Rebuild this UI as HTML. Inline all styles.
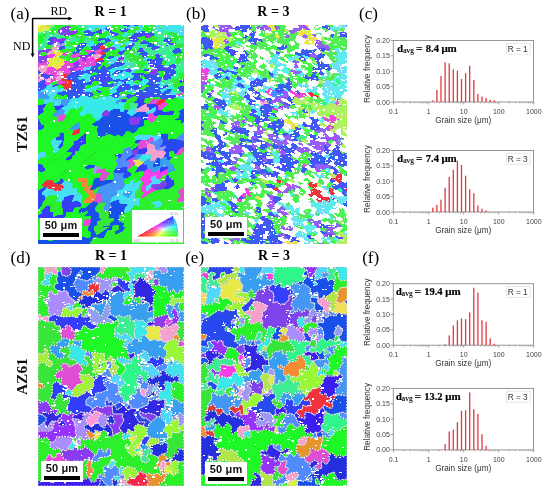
<!DOCTYPE html>
<html><head><meta charset="utf-8"><style>
html,body{margin:0;padding:0;background:#fff;}
body{width:550px;height:495px;position:relative;overflow:hidden;}
#w{position:absolute;left:0;top:0;width:550px;height:495px;filter:blur(0.45px);}
.m{position:absolute;display:block;}
.t{position:absolute;font-family:"Liberation Serif",serif;color:#000;white-space:nowrap;line-height:1;}
.pl{font-size:17px;}
.rr{font-size:14px;font-weight:bold;color:#000;}
.ax{font-size:12px;}
.sb{position:absolute;width:42.6px;height:21.6px;background:#fff;}
.sb span{position:absolute;left:5.2px;top:2.2px;font:bold 11px "Liberation Sans",sans-serif;color:#111;line-height:1;letter-spacing:0.15px;}
.sb i{position:absolute;left:3.6px;top:15.2px;width:36px;height:4.2px;background:#000;}
svg text{font-family:"Liberation Sans",sans-serif;}
.tl{font-size:7px;fill:#444;}
.at{font-size:8.2px;fill:#333;}
.rl{font-size:8.3px;fill:#333;}
.dv{font-family:"Liberation Serif",serif;font-weight:bold;font-size:10.5px;fill:#000;stroke:#000;stroke-width:0.2px;}
.sub{font-family:"Liberation Serif",serif;font-weight:bold;font-size:7.4px;fill:#222;}
.ipf{font-size:3.2px;fill:#999;}
.vt{position:absolute;font-family:"Liberation Serif",serif;font-weight:bold;font-size:15.4px;color:#111;transform:rotate(-90deg);transform-origin:0 0;white-space:nowrap;line-height:1;}
</style></head><body><div id="w">
<svg class="m" style="left:38.0px;top:24.5px" width="146.0" height="219.3" viewBox="0 0 146.0 219.3" shape-rendering="crispEdges"><path fill="#3755f0" d="M51 5l-2 0-4 2 2 2 7-2zM90 2l3-2-9 0zM48 11l9-4-1 0-2 0-7 2-1 1 1 0zM57 7l-9 4 6 0 4-3zM15 19l0-3-3 0-3 3 1 1 4 0zM72 6l1 4 1 0 3-2-1-1zM27 24l0-3-1 0-3 0-1 0-2 4 2 0zM73 16l-2-3-3 1-1 1 0 3 1 0zM64 26l4 1 4-1-2-3-1 1-6 1zM89 21l5 1 3-2-2-2zM51 29l-1 1 2 1 6-2-2-3zM89 21l-2 1 1 3 1 0 3 0 2-1 0-2zM68 32l0-2-1-1-3 1-2 3 3 0zM122 23l-2-2-3 0-3 1-1 2 2 1zM3 49l1-1-3-2-1-1 0 4zM110 28l-1 0-5 2 1 3 5-1 1-1zM143 25l-9 2 2 2 7-1 1 0zM34 47l-1 1 1 0 7 0 4-1 0-1 0-1-9 1zM65 40l-3 5 2 0 4-2zM118 32l-2 3 1 0 8 0 1-1-5-2zM33 48l-2 1-1 3 5 1 2-1-3-4zM66 46l3 0 6-3-4-1-3 1-4 2zM125 35l-8 0 2 3zM38 52l-1 0-2 1-2 2 2 2 5-1 1-1-1-3zM86 46l-1-1-6 0-6 5 5 0 7-3zM119 38l0 1 2 1 2 0 2-5zM8 62l-6 0-2 1 0 3 2 0 6-3zM20 61l1-1-1-1-5 1-1 2zM105 46l8 0 2-1-6-1-5 1zM41 58l-7 2 0 2 3 0 2 0 5-2zM101 52l5-2 1-1-3-1-7 3-1 1zM42 64l-3-2-2 0 0 3zM69 57l-4 1-1 1 2 3 1 0 2 0 2-2zM114 51l0-1-3-1-4 0-1 1 1 4 2 0 1-1zM135 44l-5 2 3 2 4-2-1-2zM44 67l4-2 1-1-2-1-5 1 0 4zM120 52l-1 0-5-1-4 2 7 1zM54 68l0-1-10 0-2 1 1 2 2 0zM81 62l4 1 1 0 3-4-2-1-6 3zM79 66l0 1 2 1 9-3-1-1-3-1-1 0zM114 61l2-2 0-1-1-2-3 0-3 2-1 2 5 1zM107 63l-1 2 1 1 6-2 2-2-1-1-1 0zM115 62l6 0 1-3-6 0-2 2zM108 68l-1-1-8 1 5 2zM117 69l6-1-1-4-6 2-2 2zM143 61l-4 2 2 2 5-1 0-3zM141 65l-1 1 6 1 0-3zM128 73l2-2-7 0-2 1 3 2z"/><path fill="#295dea" d="M13 12l-3 3 2 1 6-4-4 0zM75 3l-5-1-4 1 3 3 3 0 2-1zM93 0l5 1 1 0 2-1zM26 18l0-2-3 0-1 2 0 1zM82 5l1 2 5 0 1 0 1-1 1-2-2-1-6 1zM67 15l1-1-1-1-5 0-4 3 1 0zM38 23l9-1 1-1 1-3-3 0-3 0-6 5zM39 26l2 1 6-5-9 1zM108 9l7 2 1 0 1-1-3-3-4 1zM35 29l6-1 1-1-1 0-2-1-6 1zM110 19l1-1 1-1-7-2 0 1 3 3zM132 13l-4 0-3 3 2 1 6-2zM110 19l-1 3 5 0 3-1-1-2-5-1zM71 34l5-1 0-1-1-1-7 1zM106 26l-2 1-3 3 3 0 5-2-1-1zM134 27l9-2-2-2-2 0-2 0zM54 41l-2 4 2 0 4-2-2-2zM54 45l2 2 1 0 5-2-3-2-1 0zM79 40l-2-2-5 2-1 2 4 1 3 0 0-1zM87 38l-1 0-7 2-1 2 7-1 1-1zM0 57l0 4 1 0 3-3-3-1zM44 51l2-3-1-1-4 1-3 4 2 0 3 0zM57 47l4 2 1 0 4-2 0-1-2-1-2 0zM57 52l5-1 0-2-1 0-8 2 0 1zM66 47l3 2 3 1 0-4-3 0-3 0zM35 57l-2 3 1 0 7-2 1 0-2-2zM41 55l-1 1 2 2 5-2 0-1-1-1zM47 56l-5 2-1 0 3 2 3 0 1-2zM97 51l7-3-8 0-3 1zM37 65l0-3-3 0-5 3-1 1 1 1zM47 60l-3 0-5 2 3 2 5-1zM82 55l-1-1-6 1-1 1 3 1 3 0 1-1zM93 55l1-1-5-1-4 2 4 2zM101 52l-5 0-2 2-1 1 3 1 2-1 4-2zM122 49l-3-1-5 2 0 1 5 1zM127 47l-1 1 1 1 5-1 1 0-3-2zM19 69l5 2 4-1 1-1 0-2-1-1-7 1zM65 62l1 0-2-3-4 1zM69 62l5 0 2-1-1-3-4 2zM132 48l2 3 4-2 0-3-1 0-4 2zM42 68l-2 0-11 1-1 1 1 1 5 0zM65 66l-8-1-1 0 5 3 2 0zM116 56l7-1 1-1 0-2-4 0-3 2zM34 71l-5 0 0 3 1 1 5-2 0-1zM35 72l0 1 5 0 1 0 2-3-1-2zM53 72l3-2-2-2-9 2 7 2zM100 60l-8 1-3 3 1 1 5-1zM81 70l0-2-2-1-5 2-3 2 2 0zM107 67l0-1-1-1-2 0-6 1 0 2 1 0zM110 68l4 0 2-2-3-2-6 2 0 1 1 1zM116 66l6-2 0-1-1-1-6 0-2 2zM133 67l1-3-4 0-6 4 1 0 6 0zM121 72l2-1 2-3-1 0-1 0-6 1 0 1 0 2zM125 68l-2 3 7 0 1-1 0-2z"/><path fill="#414bfc" d="M63 4l-6 3 1 1 5 1 2-1zM80 8l-3 0-3 2 0 2 1 0 6-2zM94 11l5 1 2 0 0-4-1 0-2 0-1 0zM101 12l6-1 1-2-7-1zM108 9l2-1-1-1-5-1-4 2 1 0zM54 23l7-2-2-1-2 0-5 2zM62 21l4-2 1 0 1-1-1 0-6-1-2 3 2 1zM91 12l1 3 7-2 0-1-5-1zM53 25l3 1 6-2 0-3-1 0-7 2zM101 15l-2-2-7 2-1 1 5 1 2 0zM105 16l-3 2 0 1 6 0zM127 17l3 1 2 0 3-3-2 0zM79 28l4 2 1 0 1-1 4-4-1 0-6 1zM106 26l-1-3-3 0-1 1-2 3 5 0zM138 19l-1-1-5 0-2 0-1 2-1 1zM61 39l6-3-2-1-7 2-1 1 2 1zM4 48l-1 1 0 3 1 0 1 0 6-2zM58 43l1 0 5-3-3-1-2 0-3 2zM80 36l-1 0-1 0-1 2 2 2 7-2zM117 30l1 2 3 0 3-1-4-2zM12 50l-1 0-6 2 2 2 6-1 2-1 0-2zM34 48l3 4 1 0 3-4zM52 45l-7 1 0 1 1 1 7 1 3-2-2-2zM112 37l4-2-5-1-3 1zM7 54l-6 3 3 1 3 0 1-1zM30 52l-5 1 7 3 1-1 2-2zM116 35l-4 2-2 2 2 1 7-1 0-1-2-3zM2 62l-1-1-1 0 0 2zM4 58l-3 3 1 1 6 0 1-1-2-3zM62 51l1 0 6-2-3-2-4 2zM85 45l1 1 6 2 2-3-4-2-3 2zM112 40l0 2 6 1 3-3-2-1zM53 56l2 0 4 0-2-4-4 0-1 1zM59 56l2 0 4-2-2-3-1 0-5 1zM63 51l2 3 2 0 5-2 1-2-1 0-3-1zM118 44l7-2 1-2-3 0-2 0-3 3zM131 40l-1 3 8-2 0-2zM53 56l-5 2-1 2 6 0 2-4zM70 57l-3-3-2 0-4 2 4 2 4-1zM74 56l1-1-2-3-1 0-5 2 3 3zM118 44l2 2 6 0 3-3-4-1zM129 43l-3 3 1 1 3-1 5-2zM138 43l0-2-8 2-1 0 6 1 1 0zM89 57l-4-2-3 0-1 1 6 2zM40 68l-3-3-8 2 0 2zM42 68l0-4-5 1 3 3zM102 53l-4 2 5 1 3-2zM115 56l1 0 1-2-7-1-1 1 3 2zM127 49l-1 2 7 0 1 0-2-3zM34 71l1 1 7-4zM89 64l3-3 0-2-3 0-3 4zM122 57l1-2-7 1-1 0 1 2zM128 55l5-1 0-3-7 0-2 1 0 2zM22 75l0-1-6 0-1 1 6 0zM78 65l1 1 6-3-4-1zM97 65l5-1 2-2 0-1-4-1-5 4zM143 55l-2 2 1 1 4-1 0-3zM77 73l3 0 2-3-1 0-8 1zM122 64l6-1 3-2-3-1-6 3zM89 69l0 1-1 2 2 2 6-3 0-1zM104 70l-5-2-1 0-2 2 0 1 4 1zM110 68l-2 0-4 2 5 2zM117 70l0-1-3-1-4 0-1 4zM107 74l1-1-8-1-2 3 7 0zM108 73l1-1-5-2-4 2zM116 73l1-1 0-2-8 2-1 1zM138 72l1 0-1-2-7 0-1 1-2 2 3 1 4 0zM128 73l-4 1-2 1 1 0 7 0 1-1z"/><path fill="#46e1f0" d="M60 0l-1 0-8 0-1 0 0 2 7 0zM111 1l3-1-4 0zM133 0l-2 0 1 1zM125 1l0 3 8-2-1-1-1-1-3 0zM132 1l1 1 4-1 3-1-7 0zM133 2l-1 3 7-1-2-3zM57 20l-9 1 4 1zM86 19l3 2 6-3 1-1-5-1-3 1-1 1zM140 8l-1 2 0 1 7 0 0-4zM84 31l0-1-1 0-7 2 0 1 3 1zM46 48l-2 3 9 0 0-2zM9 63l5-1 1-2-3-1-3 2-1 1 0 1zM47 56l1 2 5-2-1-3-5 2zM78 50l5 1 2-4zM2 66l0 1 6 0 1-1 0-3-1 0zM9 66l6-1-1-3-5 1zM14 62l1 3 4 0 1-1 0-3zM81 53l-8-1 2 3 6-1zM19 66l2 1 7-1 1-1-4-2-5 1-1 1zM54 67l-6-2-4 2zM52 72l-8 2 0 1 6 0 3-3zM50 75l4 0 2-1-3-2zM62 73l-4 1 0 1 4 0zM77 73l-4-2-2 0-2 1 0 2 0 1 6 0zM66 75l3 0 0-1zM80 73l-3 0-2 2 5 0 2-1 0-1zM131 70l7 0 1-1-2-2-4 0-2 1z"/><path fill="#38e9ea" d="M60 0l2 0-3 0zM57 2l-7 0-2 1 1 2 2 0 6-2zM70 1l7-1-7 0zM51 5l3 2 2 0 1-4zM68 14l3-1 3-1 0-2-1 0-4 0-2 3zM85 12l2 0 3-4-1-1-1 0-5 4zM56 16l-3 0-4 2-1 3 9-1zM126 5l6 0 1-3-8 2zM140 0l-3 1 2 3 1 0 4-1-1-3zM143 0l1 3 2 0 0-3-2 0zM139 4l-7 1 0 2 8 1 0-4zM80 21l-4 1 2 2 3 0 1-1 0-2zM82 26l6-1-1-3-5 1-1 1zM71 36l7 0 1 0 0-2-3-1-5 1-1 2zM75 43l-6 3 3 0 7-1-1-2zM85 41l-7 1 0 1 1 2 6 0 2 0zM40 52l1 3 5-1-3-2zM46 54l1 1 5-2 1-1 0-1-9 0-1 1zM79 45l-7 1 0 4 1 0zM83 51l-5-1-5 0-1 2 1 0 8 1 3-2zM92 48l-6-2-1 1-2 4 1 0 3 0 5-2zM84 51l-3 2 0 1 1 1 3 0 4-2-2-2zM87 51l2 2 5 1 2-2 1-1-4-2-1 0zM17 72l1-2-8 0 2 3 3 0zM48 65l6 2 2-2 1 0 0-1-2-2-6 2zM96 56l-3-1-4 2-2 1 2 1 3 0 3-1zM16 74l-1-1-3 0-4 2 7 0zM79 61l-3 0-2 1-2 3 6 0 3-3 0-1zM109 58l-6-1-3 2 0 1 4 1 4-1zM112 56l-3-2-2 0-1 0-3 2 0 1 6 1zM45 70l-2 0-2 3 3 1 8-2zM78 65l-6 0-1 1 3 3 5-2 0-1zM122 59l3-1-3-1-6 1 0 1zM40 73l-5 0-5 2 8 0zM98 66l6-1-2-1-5 1zM128 60l0-1-3-1-3 1-1 3 1 1zM130 64l4 0 2-1-1-3-4 1-3 2zM122 64l1 4 1 0 6-4-2-1z"/><path fill="#50d7fc" d="M57 3l7 1 1-1-3-3-2 0-3 2zM62 0l3 3 1 0 4-1 0-1 0-1zM69 6l-3-3-1 0-1 1-1 0 2 4zM91 4l5-1 2-2-5-1-3 2-1 1zM99 1l4 3 1 0 2-2-1-2-4 0zM121 0l-4 0-2 3 2 1 5-3zM99 5l-1 1 0 2 2 0 4-2 1-2-1 0-1 0zM140 0l3 0 1 0zM116 6l8 1 2-2-1-1-7 0zM78 14l-5 2 4 2 1 0 4-3zM140 8l6-1 0-4-2 0-4 1zM78 18l-1 0-4 3 0 1 3 0 4-1zM78 18l2 3 2 0 4-2 1-1zM45 45l0 1 7-1 2-4-6 1-3 1zM71 36l-2 3 3 1 5-2 1-2zM111 34l-1-2-5 1 0 3 3-1zM91 41l1-1-2-3-3 1-1 2zM94 45l5 0 2 0-3-3-7 1-1 0zM93 49l3-1 3-3-5 0-2 3 0 1zM9 70l1 0 9-4 0-1-4 0-6 1-1 1zM10 70l8 0 1-1 2-2-2-1zM55 62l2 2 8-2-5-2-4 1zM87 58l-6-2-1 1-1 4 2 0zM92 59l0 2 8-1 0-1-5-1zM44 74l-3-1-1 0-2 2 6 0zM98 68l0-2-1-1-2-1-5 1 0 2zM58 74l-2 0-2 1 4 0zM67 71l-4 1-1 1 0 2 4 0 3-1 0-2zM88 72l1-2-7 0-2 3 2 0zM90 74l-6 1-1 0 7 0zM146 74l0-1-1-2-3 0-3 1-1 0 6 3z"/><path fill="#2df02d" d="M24 2l-6 0-5 3 7 0 4-2zM30 1l4 1 4-1 0-1-6 0zM30 4l3 2 5-1 2-2-2-2-4 1zM1 13l3 0 4-2 2-2-9 1-1 1 0 1zM70 1l0 1 5 1 2-3zM77 0l-2 3 6-1 3-2-3 0zM4 18l1-1-5-1 0 4zM72 6l4 1 6-2-8 0zM82 5l1-1-2-2-6 1-1 2zM90 6l8 0 1-1-3-2-5 1zM99 5l4-1-4-3-1 0-2 2zM106 2l-2 2 1 0 5 1 3-1-3-2zM113 4l2-1 2-3-3 0-3 1-1 1zM13 24l2-2-1-2-4 0-4 2 3 2zM29 18l-3 3 1 0 5 0 3-4-3 0zM38 17l-3 0-3 4 3 1zM90 8l7 0 1 0 0-2-8 0-1 1zM43 18l-3-1-2 0-3 5 1 1 1 0zM33 27l6-1-1-3-1 0-1 0-3 1-2 3zM99 12l0 1 2 2 4-1 2-1 0-2-6 1zM48 25l-1-3-6 5 1 0 4-1zM48 21l-1 1 1 3 5 0 1-2-2-1zM105 15l0-1-4 1-3 2 4 1 3-2zM114 16l-3-3-4 0-2 1 0 1 7 2zM46 26l-4 1-1 1 1 2 8 0 1-1zM116 19l6-2-4-2-4 1-2 1-1 1zM139 11l0-1-3 1-4 2 1 2 2 0 5-1zM139 11l1 3 1 0 5-2 0-1zM75 31l0-3-7 2 0 2zM99 27l2-3-7 0-2 1 2 3 1 0zM64 40l1 0 4-1 2-3-1 0-3 0-6 3zM68 43l3-1 1-2-3-1-4 1zM111 31l-1 1 1 2 5 1 2-3-1-2zM136 29l-2 2 5 1 4-2 0-2zM105 36l-1 0-1 3 4 1 3-1zM145 31l-2-1-4 2-1 1 1 1 6 0 1 0 0-1zM145 31l1 2 0-2zM141 38l4-4-6 0-2 2 1 3zM53 60l3 1 5-5-2 0-4 0zM60 60l4-1 1-1-4-2-5 5zM119 48l3 1 4-1 1-1-1-1-6 0zM23 71l1 0-5-2-1 1-1 2zM108 60l-4 1 0 1 3 1 6-2zM142 52l-4 2 5 1 3-1 0-3zM56 74l2 0 4-1 1-1-5-2-2 0-3 2zM102 64l2 1 2 0 1-2-3-1zM136 63l3 0 4-2-1-2-7 1zM142 58l0 1 1 2 3 0 0-4zM98 75l2-3-4-1-6 3 0 1 5 0zM116 74l1 1 5 0 2-1-3-2-4 0-1 1zM144 75l2 0 0-1z"/><path fill="#1ff827" d="M18 2l6 0-1-2-7 0 0 1zM24 2l3-2-4 0zM24 2l6-1 2-1-5 0zM11 6l0 2 4 1 5-1 0-1 0-2-7 0-1 1zM1 13l-1-1 0 2zM38 5l3 2 7-4-7 0-1 0zM5 17l2-2-3-2-3 0-1 1 0 2zM47 9l-2-2-4 0-4 2-1 1 1 1 9-1zM37 11l-1-1-3 0-6 2 0 1 1 1zM106 2l4 0 1-1-1-1-5 0zM58 8l-4 3 0 1 7 0 2-3zM67 13l2-3-4-2-2 1-2 3 1 1zM43 18l3 0 1-5-5 1-2 3zM109 7l1-2-5-1-1 2zM61 17l-2-1-1 0-2 0 1 4 2 0zM81 10l-6 2 3 2 4 1 3-3-2-1zM67 19l6 2 4-3-4-2-5 2zM33 35l2-2-3-1-3 0-3 2 1 2 4 0zM78 24l-5 2 3 2 3 0 3-2-1-2zM65 35l2 1 3 0 1-2-3-2-3 1zM143 25l1 3 2-1 0-3zM62 45l3-5-1 0-5 3zM98 39l2 1 3-1 1-3-5 1zM144 28l-1 0 0 2 2 1 1 0 0-4zM53 49l0 2 8-2-4-2-1 0zM104 48l1-2-1-1-1 0-2 0-2 0-3 3zM112 42l-3 2 6 1 3-1 0-1zM20 64l5-1 1-2-5-1-1 1zM47 60l0 3 2 1 6-2 1-1-3-1zM75 58l2-1-3-1-4 1-1 0 2 3zM107 54l-1-4-5 2 1 1 4 1zM124 52l2-1 1-2-1-1-4 1-3 3 1 0zM22 75l7-1 0-3-1-1-4 1-1 0-1 3zM67 62l-1 0-1 0-8 2 0 1 8 1zM145 48l-6 1 3 3 4-1 0-3zM65 66l-2 2 4 3 4-5zM63 72l4-1-4-3-2 0-3 2zM74 69l-3-3-4 5 2 1 2-1zM98 68l-8-1-1 2 7 1zM107 74l-2 1 4 0zM135 74l-4 0-1 1 5 0zM144 75l-6-3-3 2 0 1z"/><path fill="#37e639" d="M56 7l1 0 6-3 1 0-7-1zM46 10l-9 1 1 2 2 0 7-3zM40 13l2 1 5-1 1-2-1-1zM65 8l4 2 4 0-1-4-3 0zM77 8l3 0 3-1-1-2-6 2zM53 16l3 0 2 0 4-3-1-1-7 0-2 2zM88 7l-5 0-3 1 1 2 2 1zM110 8l4-1 2-1 2-2-1 0-2-1-2 1-3 1-1 2zM3 27l-2 3 2 1 2 0 4-1 0-2-3-1zM27 24l-5 1 0 2 4 1 1 0zM33 24l-6 0 0 4 3-1 1 0zM88 17l-6-2-4 3 9 0zM82 15l6 2 3-1 1-1-1-3-4 0-2 0zM30 27l0 2 3 2 2-2-2-2-2 0zM70 23l3-1 0-1-6-2-1 0 3 5zM118 15l2-1-1-2-3-1-1 0-4 2 3 3zM140 8l-8-1-2 2 6 2 3-1zM24 30l-4 2 4 2 2 0 3-2-2-1zM27 31l2 1 3 0 1-1-3-2zM82 21l0 2 5-1 2-1-3-2zM39 36l3-3-1-1-6 1-2 2zM75 28l1 0-3-2-1 0-4 1-1 2 1 1zM135 15l-3 3 5 0 3-4zM35 38l4-2-6-1-2 1 1 2zM76 32l7-2-4-2-3 0-1 0 0 3zM85 29l9-1-2-3-3 0zM145 19l1 0 0-1zM95 28l-1 0-9 1-1 1 7 0 4-1zM139 23l7-4-1 0-2 0-5 0-2 4 1 0zM146 19l-7 4 2 0 5-1zM93 33l4-2-2-2-4 1-3 3zM97 31l2 2 6 0-1-3-3 0zM91 37l6-1 2-3-2-2-4 2-3 3zM104 36l1 0 0-3-6 0-2 3 2 1zM100 40l-1 2 7-1 1-1-4-1zM12 59l3 1 5-1 0-3-1 0-6 1zM103 45l3-4-7 1-1 0 3 3zM125 35l-2 5 3 0 2-1 1-2zM104 48l3 1 4 0 2-3-8 0zM98 55l-2 1-1 2 5 1 3-2 0-1zM1 74l-1 0 0 1 1 0 7 0zM23 71l-6 1-2 1 1 1 6 0zM67 62l-2 4 6 0 1-1 2-3-5 0zM58 70l3-2-5-3-2 2 0 1 2 2zM134 54l-1 2 2 1 6 0 2-2-5-1zM90 65l-9 3 0 2 1 0 7 0 0-1 1-2zM135 60l7-1 0-1-1-1-6 0zM82 74l2 1 6-1-2-2-6 1zM107 74l2 1 5 0 2-1 0-1-8 0zM142 71l3 0 1 0 0-3zM116 74l-2 1 3 0z"/><path fill="#a096f5" d="M23 21l3 0 3-3-3 0-4 1z"/><path fill="#aa8cff" d="M22 18l-7 1-1 1 1 2 7-1 1 0-1-2z"/><path fill="#ee46dc" d="M26 28l-2 2 3 1 3-2 0-2-3 1zM53 25l-5 0-2 1 5 3 5-3zM44 36l2-2-4-1-3 3 2 1zM35 40l0-2-3 0-2 1 0 2zM57 38l1-1 0-3-1 0-8 2 0 2 1 0zM29 42l-5-1-4 3 8 0zM45 43l3-1 2-4-1 0-7 1 1 3zM15 50l0 2 2 0 5-1-5-2zM22 55l-2 1 0 3 1 1 6-2 1-1z"/><path fill="#e04ed6" d="M41 32l1-2-1-2-6 1-2 2-1 1 3 1zM62 24l-6 2 2 3 3 0 3-3-1-1zM2 40l2-2-4-1 0 3zM11 37l-2-1-5 2-2 2 8 0 1-2zM32 38l-1-2-4 0-2 1 2 2 3 0zM30 41l0-2-3 0-3 2 5 1zM49 36l-5 0-3 1 1 2 7-1zM8 47l-4 1 7 2 1 0 0-1zM18 45l-9 1-1 1 4 2zM36 41l-1-1-5 1-1 1-1 2 1 0 1 0 5-1zM48 42l6-1 2 0 3-2-2-1-7 0zM4 52l-1 0-3 0 0 2zM19 49l1-3-2-1-6 4 0 1 3 0 2-1zM29 44l-3 2-1 3 6 0 2-1 1-1-4-3zM13 53l0 4 6-1-2-4-2 0zM139 69l-1 1 1 2 3-1 4-3 0-1zM145 71l1 2 0-2z"/><path fill="#f83ce8" d="M12 33l6-1-1-3-1 0-7 1 2 3zM2 41l0-1-2 0 0 2zM57 34l0-1-5-2-4 2 1 3zM15 41l-4 1-2 1 0 3 9-1zM20 44l-2 1 2 1 6 0 3-2-1 0zM38 43l-2 3 9-1 0-2-2-1zM8 57l-1 1 2 3 3-2 1-2z"/><path fill="#8c3cf0" d="M30 1l-6 1 0 1 3 1 3 0 4-2zM33 6l-1 1 5 2 4-2-3-2zM36 10l1-1-5-2-3 1 4 2zM15 16l3 0 1-2-1-2-6 4zM1 30l2-3-3-1 0 4zM6 27l3 1 5-3-1-1-4 0-1 1zM3 31l-2-1-1 0 0 2zM49 36l-1-3-2 1-2 2zM35 43l-5 1 4 3 2-1 2-3z"/><path fill="#7e44ea" d="M23 10l2 0 0-1 1-3-6 1 0 1zM30 4l-3 0-1 2-1 3 4-1 3-1 1-1zM29 8l-4 1 0 1 2 2 6-2zM1 22l-1-2 0 2zM2 25l-2 1 3 1 3 0 2-2zM5 31l-2 0-3 1 0 3 3-1 1-1zM0 35l0 2 4 1 5-2-6-2zM3 34l6 2 3-3-1 0-7 0zM76 22l-3 0-3 1 2 3 1 0 5-2zM42 39l-6 2-1 2 3 0 5-1z"/><path fill="#9632fc" d="M24 3l-4 2 0 2 6-1 1-2zM28 15l0-1-1-1-8 1-1 2 5 0 3 0zM23 16l-5 0-3 0 0 3 7-1zM107 13l4 0 4-2-7-2-1 2zM11 33l-2-3-4 1-1 2zM52 31l-2-1-8 0-1 2 1 1 4 1 2-1zM41 37l-2-1-4 2 0 2 1 1 6-2zM80 36l5-1 1-2-2-2-5 3 0 2zM118 44l-3 1-2 1-2 3 3 1 5-2 1-2z"/><path fill="#f0323c" d="M69 24l-3-5-4 2 0 3 1 1zM23 51l2 2 5-1 1-3-6 0zM32 56l-4 1-1 1 3 2 3 0 2-3-2-2zM26 61l-1 2 4 2 5-3 0-2-1 0-3 0z"/><path fill="#e23a36" d="M25 53l-3 2 6 2 4-1zM27 58l-6 2 5 1 4-1z"/><path fill="#fa2848" d="M64 26l-3 3 3 1 3-1 1-2zM62 33l-4 1 0 3 7-2 0-2z"/><path fill="#3cee91" d="M13 5l5-3-2-1-4 2 0 3zM10 9l1-1 0-2-3 0-6 2-1 2zM38 1l2 2 1 0 4-3-2 0-5 0zM15 9l-4-1-1 1-2 2 5 1 1 0zM8 11l-4 2 3 2 3 0 3-3zM12 16l-2-1-3 0-2 2-1 1 5 1zM10 20l-1-1-5-1-4 2 1 2 3 1 2-1zM29 18l3-1 0-1-4-1-2 1 0 2zM75 12l-1 0-3 1 2 3 5-2zM124 7l-8-1-2 1 3 3zM119 12l8-3-3-2-7 3-1 1zM120 14l7-1 0-4-8 3zM102 18l-4-1-2 0-1 1 2 2 3 0 2-1zM94 22l0 2 7 0 1-1-2-3-3 0zM102 19l-2 1 2 3 3 0 4-1 1-3-2 0zM144 15l2 0 0-1zM124 23l4-1 0-1 1-1-7-1-2 2 2 2zM140 14l-3 4 1 1 5 0-1-4-1-1zM117 26l-2-1-2-1-5 3 1 1 1 0 6-1zM138 19l-10 2 0 1 3 1 5 0zM120 29l3-1-4-2-2 0-1 1 1 3zM123 28l3-1-2-4-5 3zM141 23l2 2 3-1 0-2zM98 42l1 0 1-2-2-1-6 1-1 1 0 2zM133 36l4 0 2-2-1-1-6 1zM146 43l-2-4-4 3zM122 57l3 1 3-3-4-1-1 1zM137 67l2 2 7-2-6-1z"/><path fill="#2ef68b" d="M1 10l1-2-2-1 0 4zM48 3l-7 4 4 0 4-2zM27 12l-2-2-2 0-5 2 1 2 8-1zM81 2l2 2 6-1 1-1-6-2zM38 13l-6 3 0 1 3 0 3 0 2 0 2-3-2-1zM47 13l5 1 2-2 0-1-6 0zM35 22l-3-1-5 0 0 3 6 0 3-1zM67 15l-8 1 2 1 6 1zM91 12l3-1 3-3-7 0-3 4zM124 7l3 2 3 0 2-2 0-2-6 0zM122 17l1 0 2-1 3-3-1 0-7 1-2 1zM141 14l1 1 2 0 2-1 0-2zM144 15l-2 0 1 4 2 0 1-1 0-3zM119 26l5-3-2 0-7 2 2 1zM136 23l-5 0-4 4 1 1 6-1 3-4zM129 33l5-2 2-2-2-2-6 1-1 2zM121 32l5 2 3-1-2-3-3 1zM132 34l6-1 1-1-5-1-5 2zM90 43l1 0 0-2-5-1-1 1 2 4zM126 34l-1 1 4 2 4-1-1-2-3-1zM110 39l-3 1-1 1-3 4 1 0 5-1 3-2 0-2zM137 36l-4 0-4 1-1 2 3 1 7-1zM146 43l-6-1-2 1-2 1 1 2 1 0 7-1 1-1zM145 45l0 1 1 0 0-2zM139 49l6-1 0-2 0-1-7 1 0 3zM145 46l0 2 1 0 0-2zM139 49l-1 0-4 2-1 0 0 3 1 0 4 0 4-2zM135 60l0-3-2-1-5 3 0 1 3 1zM139 63l-3 0-2 1-1 3 4 0 3-1 1-1z"/><path fill="#46e49d" d="M45 0l-4 3 7 0 2-1 0-2zM18 12l5-2-3-2-5 1-1 3zM28 14l0 1 4 1 6-3-1-2zM128 0l-7 0 1 1 3 0zM0 26l2-1 2-2-3-1-1 0zM9 24l-3-2-2 1-2 2 6 0zM49 18l4-2-1-2-5-1-1 5zM122 1l-5 3 1 0 7 0 0-3zM136 11l-6-2-3 0 0 4 1 0 4 0zM117 21l3 0 2-2 1-2-1 0-6 2zM130 18l-3-1-2-1-2 1-1 2 7 1zM113 24l1-2-5 0-4 1 1 3 2 1zM91 30l-7 0 0 1 2 2 2 0zM97 31l4-1 3-3-5 0-4 1 0 1zM128 22l-4 1 2 4 1 0 4-4zM86 33l-1 2 5 1 3-3-5 0zM116 27l-6 1 1 3 6-1zM90 37l1 0-1-1-5-1-5 1 6 2 1 0zM127 30l1-2-1-1-1 0-3 1-3 1 4 2zM98 39l1-2-2-1-6 1-1 0 2 3zM105 36l5 3 2-2-4-2zM145 34l-4 4 3 0 2 0 0-4zM129 43l1 0 1-3-3-1-2 1-1 2zM140 42l4-3 0-1-3 0-3 1 0 2 0 2zM144 38l0 1 2 4 0-5zM125 58l3 1 5-3 1-2-1 0-5 1z"/><path fill="#e8e846" d="M2 4l2-3-3-1-1 0 0 5zM9 2l-1-2-4 1-2 3 5 1zM22 25l-2 0-5 0 1 4 1 0 5-2zM16 36l1 0 1-4-6 1-3 3 2 1zM16 38l0-2-5 1 0 1z"/><path fill="#daf040" d="M1 0l3 1 4-1 1 0zM8 6l-1-1-5-1-2 1 0 2 2 1zM11 6l1 0 0-3-3-1-2 3 1 1zM18 32l-1 4 3 0 4-2-4-2zM18 39l3-2-1-1-3 0-1 0 0 2zM26 34l-2 0-4 2 1 1 4 0 2-1zM10 40l1 2 4-1 3-1 0-1-2-1-5 0z"/><path fill="#f2de52" d="M22 27l-5 2 1 3 2 0 4-2 2-2zM27 39l-2-2-4 0-3 2 0 1 6 1zM24 41l-6-1-3 1 3 4 2-1z"/><path fill="#4696f5" d="M4 71l4-1-8-2 0 2zM0 74l1 0 3-3-4-1zM80 57l-3 0-2 1 1 3 3 0zM30 75l-1-1-7 1-1 0z"/><path fill="#389eef" d="M0 68l2-1 0-1-2 0zM12 73l-2-3-1 0-1 0-4 1-3 3 7 1z"/><path fill="#508cff" d="M2 67l-2 1 8 2 1 0-1-3zM80 75l3 0 1 0-2-1z"/><path fill="#afe648" d="M16 1l0-1-1 0-6 0-1 0 1 2 3 1z"/><path fill="#f5a0cd" d="M9 43l2-1-1-2-8 0 0 1 1 1 5 1zM64 30l-3-1-4 4 0 1 1 0 4-1zM1 46l7-3-5-1-3 3zM1 46l3 2 4-1 1-1 0-3-1 0zM22 51l1 0 2-2-6 0-2 0zM17 52l2 4 1 0 2-1 3-2-2-2-1 0z"/><path fill="#e7a8c7" d="M13 24l1 1 1 0 5 0 2-4-7 1zM15 25l-1 0-5 3 0 2 7-1zM57 33l4-4-3 0-6 2zM0 49l0 3 3 0 0-3zM19 49l6 0 1-3-6 0z"/><path fill="#ff96d9" d="M3 42l-1-1-2 1 0 3zM7 54l-2-2-1 0-4 2 0 3 1 0zM13 53l-6 1 1 3 5 0z"/><path fill="#fff" d="M1 0h1v2h-1zM6 4h1v1h-1zM16 6h2v2h-2zM22 5h2v2h-2zM28 3h1v1h-1zM31 3h2v1h-2zM36 5h2v1h-2zM44 1h2v2h-2zM51 3h2v2h-2zM66 5h1v1h-1zM71 1h2v2h-2zM71 5h1v2h-1zM69 2h2v2h-2zM72 3h3v2h-3zM77 2h3v1h-3zM83 4h3v1h-3zM88 3h1v1h-1zM93 3h2v2h-2zM98 6h1v1h-1zM105 0h1v2h-1zM115 2h2v2h-2zM115 2h1v1h-1zM111 5h1v1h-1zM111 2h2v1h-2zM117 5h2v1h-2zM123 1h1v1h-1zM128 0h2v1h-2zM143 0h2v1h-2zM5 7h2v1h-2zM11 6h2v1h-2zM12 10h2v1h-2zM22 7h1v1h-1zM28 10h2v1h-2zM31 11h1v1h-1zM40 10h3v1h-3zM47 8h3v1h-3zM51 11h1v1h-1zM58 10h3v2h-3zM64 6h1v2h-1zM72 8h1v2h-1zM74 9h2v2h-2zM90 11h3v1h-3zM102 7h2v1h-2zM107 7h3v1h-3zM114 6h2v2h-2zM120 7h3v2h-3zM126 10h1v2h-1zM128 10h1v2h-1zM139 9h2v1h-2zM142 6h2v1h-2zM9 16h3v1h-3zM16 18h3v2h-3zM18 17h2v1h-2zM29 15h2v1h-2zM31 12h2v1h-2zM38 17h2v1h-2zM51 12h2v1h-2zM57 12h1v1h-1zM62 17h1v1h-1zM72 17h1v1h-1zM77 17h3v2h-3zM83 15h2v1h-2zM86 14h1v1h-1zM92 14h3v1h-3zM97 14h1v1h-1zM104 15h1v1h-1zM113 17h2v1h-2zM116 17h3v2h-3zM125 17h3v1h-3zM130 14h2v2h-2zM133 12h3v1h-3zM141 13h1v2h-1zM2 19h2v2h-2zM6 23h2v2h-2zM16 20h2v2h-2zM19 23h2v1h-2zM27 18h1v2h-1zM34 20h2v1h-2zM41 23h2v1h-2zM42 19h1v2h-1zM36 20h3v2h-3zM38 20h1v1h-1zM44 19h3v1h-3zM57 20h1v1h-1zM65 20h2v1h-2zM67 21h2v2h-2zM78 18h3v1h-3zM83 19h2v1h-2zM89 23h2v2h-2zM91 18h3v2h-3zM97 23h1v2h-1zM108 22h1v1h-1zM120 20h1v1h-1zM124 21h2v2h-2zM129 19h2v1h-2zM136 18h1v2h-1zM142 23h2v1h-2zM1 30h2v1h-2zM7 24h1v1h-1zM17 26h2v1h-2zM21 25h1v2h-1zM28 28h3v1h-3zM31 27h2v1h-2zM37 26h1v1h-1zM42 26h1v1h-1zM53 25h3v1h-3zM54 29h1v2h-1zM61 30h1v1h-1zM72 24h2v2h-2zM73 29h1v1h-1zM84 30h2v2h-2zM92 26h3v2h-3zM97 25h2v1h-2zM109 30h2v1h-2zM118 24h3v1h-3zM125 30h3v2h-3zM132 25h1v1h-1zM143 29h2v1h-2zM4 35h2v1h-2zM9 33h2v2h-2zM16 31h1v1h-1zM20 31h1v1h-1zM27 33h1v2h-1zM32 35h2v1h-2zM41 33h1v1h-1zM44 31h3v1h-3zM50 32h2v1h-2zM57 33h2v1h-2zM68 34h3v1h-3zM78 36h3v1h-3zM79 33h1v1h-1zM90 36h2v1h-2zM93 32h1v1h-1zM101 34h2v2h-2zM106 31h2v1h-2zM114 30h1v1h-1zM117 36h1v2h-1zM127 33h2v2h-2zM130 34h2v2h-2zM138 31h1v2h-1zM142 31h2v2h-2zM3 41h3v2h-3zM9 37h1v2h-1zM14 41h2v1h-2zM21 42h2v1h-2zM29 41h3v2h-3zM41 40h2v1h-2zM47 38h1v1h-1zM52 37h1v1h-1zM59 37h2v1h-2zM61 37h2v2h-2zM71 37h2v1h-2zM77 42h2v1h-2zM84 36h1v2h-1zM89 41h2v1h-2zM96 42h2v2h-2zM98 39h1v2h-1zM111 39h3v1h-3zM110 41h2v2h-2zM111 36h1v2h-1zM113 42h3v2h-3zM112 39h3v1h-3zM116 40h1v2h-1zM126 41h3v1h-3zM129 41h2v1h-2zM137 39h1v1h-1zM141 39h1v1h-1zM2 48h3v1h-3zM11 48h1v1h-1zM16 46h2v1h-2zM22 48h3v2h-3zM25 46h1v1h-1zM34 46h3v1h-3zM43 45h1v1h-1zM52 46h2v2h-2zM56 43h1v1h-1zM61 48h2v1h-2zM69 47h2v2h-2zM78 47h2v1h-2zM80 46h2v1h-2zM87 43h3v1h-3zM93 43h3v2h-3zM98 42h3v2h-3zM109 46h3v1h-3zM111 44h2v2h-2zM116 43h3v1h-3zM126 47h1v2h-1zM131 48h1v1h-1zM133 43h2v1h-2zM139 43h1v1h-1zM2 52h3v2h-3zM12 51h3v2h-3zM14 53h1v1h-1zM23 51h3v2h-3zM26 53h3v1h-3zM33 53h1v1h-1zM41 50h2v1h-2zM43 50h3v1h-3zM56 52h1v2h-1zM61 53h1v2h-1zM68 51h1v1h-1zM76 49h3v2h-3zM84 49h2v2h-2zM90 53h2v2h-2zM92 50h1v1h-1zM102 50h1v1h-1zM105 53h1v1h-1zM111 53h2v1h-2zM119 50h2v2h-2zM124 52h1v2h-1zM136 49h2v2h-2zM144 54h1v2h-1zM5 54h1v1h-1zM9 56h3v1h-3zM16 56h1v1h-1zM18 55h2v1h-2zM29 57h1v1h-1zM34 57h2v2h-2zM37 58h1v1h-1zM45 56h2v2h-2zM52 55h1v1h-1zM61 57h2v2h-2zM70 58h2v1h-2zM76 57h2v1h-2zM83 59h1v1h-1zM88 56h2v1h-2zM94 55h1v1h-1zM101 60h2v2h-2zM105 57h1v1h-1zM115 55h2v2h-2zM118 57h1v2h-1zM124 58h2v1h-2zM130 59h3v1h-3zM134 58h1v1h-1zM141 54h1v1h-1zM1 63h1v1h-1zM8 65h2v2h-2zM14 65h3v2h-3zM23 65h1v1h-1zM28 65h1v2h-1zM31 63h2v2h-2zM38 64h1v2h-1zM45 64h3v1h-3zM53 62h1v1h-1zM57 65h1v1h-1zM62 61h2v1h-2zM72 63h2v1h-2zM74 62h1v1h-1zM84 61h2v1h-2zM87 65h2v1h-2zM93 63h1v2h-1zM98 65h3v2h-3zM105 66h3v1h-3zM117 63h3v1h-3zM123 61h2v2h-2zM128 62h1v1h-1zM139 64h2v2h-2zM6 67h1v2h-1zM12 68h1v1h-1zM19 72h1v1h-1zM29 72h1v2h-1zM35 71h2v2h-2zM40 69h2v1h-2zM44 69h3v2h-3zM51 69h1v2h-1zM57 71h2v1h-2zM62 70h3v1h-3zM72 69h2v1h-2zM77 70h2v2h-2zM84 69h3v2h-3zM95 67h3v1h-3zM98 70h3v1h-3zM112 72h3v1h-3zM116 68h3v1h-3zM122 69h2v1h-2zM128 69h3v1h-3zM138 70h2v2h-2zM142 70h2v1h-2zM19 73h1v1h-1zM65 73h2v1h-2zM130 73h3v2h-3z"/><path fill="#2848f0" stroke="#2848f0" stroke-width="0.8" d="M3 98l-2-4-1 0 0 12 2 0 4-2 0-4-3-1zM16 113l1 1 0 2 7 0-5 7 4 1 2-3 1-5 0-4 1-3-3-2-3 1 0 2zM6 140l-3-2-3 0 0 8 4 2 4-3zM17 158l0 1 6 1 4-4-2-3-3 1-1 2zM6 162l-6 3 0 20 5-4-1-1 4-7-2-3-2 0 1-3 4-4zM100 119l4-4 0-1-6 1-2 4zM87 135l2 1 8-4 1-2-4-1zM90 144l0-3-12 2-3 4 1 1 7 1 3-1-2 4 3 2 3-1 4-3 0-2-5-3zM139 114l-6-1-3 2 1-7-8 1 0 4 2 4-4 4 1 2 6-2-3 5 3 2-2 4 3 1-1 2 3 1 4-4-4-1 1-4 3 0 2 3 1 0 4-5 4-3 0-6z"/><path fill="#1a50ea" stroke="#1a50ea" stroke-width="0.8" d="M17 211l-3 5-4-1 0-4-4 1-6 3 0 5 57 0 0-2-4 0 1-2 3-3 6 1 3-1 4-7 2 0 2-1 1-4 5 0 1 3-4 2-2 4 3 0 8-4 0-1 2-3-3 0 2-4-6-2 1-4-1-1 7-3 0-4 2-5-8-1 0-3-2-1-9 4 3 4-4 4 0 6-1 2 6-1 0 2-4 4 1 1-8 1 0 2 7-1-12 8-1-4-2 0 0-4 4-2-1-3 5-2-3-3 1-2-2-3-2-2-1-1 4-6-5-2-2 0-7 6-4 1-3 3 0 3 3 0 4-2 3 0-1 1-4 4 7 0-1 2 1 4-3 7 2 2 1 0 0 5-4 1-1-2-5 1 0-1-4 0-3 2-4 0 1-2-4 0-4 3-1-4zM46 143l3 2 7-2 1-3-6-1zM76 83l-5 4 0 3-6 1-4 4-3 1-6 3 0 1 4 1 0 1 4-1-2 5 2 2-1 5 3 0 7-3 4 0 4 2 3-2 3 2 2 0 3-5 4 0 2 2 4-2 3-4 6-2-1-5 3-1 2-6-2 0 0-2-5-1-5 1-5 4-5-3 2-3-4-1-2 3-3-1 1-3-6 1zM92 96l0-2 11-1-3 6-7 1zM62 152l-5 1-2 2 0 1-4 10 5-1 5-3 12-4 3-2-1-2-10 2-3-1zM146 84l-3 0-5 3 4 1-1 2 0 1-4 3 0 2 5-1 0 4 3 0 1-2zM123 134l-3-2-3 3 1 2-3 2 0 4 7-2 1-4-1-1z"/><path fill="#323efc" stroke="#323efc" stroke-width="0.8" d="M0 80l0 11 5-3 2-2-2-1 4-6-6 0zM15 81l2 3-1 2 3 0 8-5-4-2zM9 180l-6 6 1 2-4 2 0 4 2-1 0 4 4-2 1 0 0 2 2 1 2-1 5-4 3 1 7 0 2-3 0-3 6 0 3-5 6-1 1-3-5-4-5 2 3-8-5 1-6 2-1 3-2 2 0 6 2 5-6 2-3 2-1-1 0-4-3 0 1-6zM48 112l3-5-2-1-10 9-4 1-1 1 1 3-7 7 0 1 6 0-3 3-2 1-2 3 2 1 2 0 3-2 0-2 3-2 0-3 4-1 2-5 5-2zM83 77l5 1 2-3-6 0zM94 78l6 2-2 3 1 1 9-5-2-2 1-2-8 0zM93 126l8-2-3 6 4-1 2 1 3 0 3-5-1-3-8 2 1-4-1 0-8 5zM85 130l-4-2-4 1-1 3 4 0 0 1 2 1zM100 141l-4 8 5-2 5 0 4-3-1-4-3-1-1-1zM109 79l-1 3 3 1 0 2 7-3-1 4-3 2 2 4 5-2 4 1 4-1 1 1 5-1 2-3-5-2-1 1-5 1-2-3-3 1-1-5-1 0-1-1-6-1zM131 141l-8 1-1 2 0 4 8-3zM131 150l-2-1-3 7 1 0 2 3-5 5 1 1 5 0 7-5-1-5-2 0 0-2-2 0z"/><path fill="#46e1f0" stroke="#46e1f0" stroke-width="0.8" d="M11 118l2 1 0 1 2 5 0 4 5-1 3-4-4-1 5-7-7 0 1-2-2-1-4 3zM31 156l-4 0-4 4 3 2-3 3-6 1-1-2-5 0-2-1-4 4-1 3 2 0 2 3 5-3 5 1 2 2-4 5 4-2 1 2 2-1 2-2 1-3 6-2 5 0-3 7 5-2 4 3 2-7-4-4-2 1 1-4-2-2-1 1-3-1 2-4-4 0zM89 88l5 3 5-4 0-3-1-1-6 1zM91 158l-4 2-3 4-5 1 0 4-5 2-3 7 9-4 2 1 0 3 8 1-3 5 0 4 2 0 5-3 0-1 3-3 4 1 2-3-2-1 2-5-5 0-1-6 5-4-1-1 3-6-1-1-8 2 4-3-4 0-3 2zM90 167l4 0-3 5-1 1-2-2-2 0 0-3zM109 87l0 2 2 0 3 0 3-3 1-4zM113 177l0 2 4 2-3 4-4 0-1-1-6 1-1 5 5-1 1 2 2 0 5-3 0-3 7-3 3-3-4-4z"/><path fill="#38e9ea" stroke="#38e9ea" stroke-width="0.8" d="M29 80l-6 4 4 2-2 3 3 2 4-6 4-2 2 3 6-4 0 3-3 3 1 3 3 2 6-5 3 3 1 2 1 0 2 3 3-1 4-4-1-2 4-4 3 2 5-4 1 1 6 0-1 2 3 1 2-3-1-3 2-1 0-2-5-1-4 2-1-2 3-2-49 0zM115 128l-11 2-4 4 2 2 3 1 8-3 1-2-1-1z"/><path fill="#50d7fc" stroke="#50d7fc" stroke-width="0.8" d="M15 81l7-1 1-1 2-4-19 0-1 4 4 0 2-1 5 0zM7 128l0-2-5 1-2 2 0 7 3-3 4 0 2-3zM110 110l-10-1-5 4 3 2 6-1 0 1 5 1 2-2 3-1 2 3-2 1 3 0 6-4 0-4-3 0-4 2-3-2zM112 153l1 4-8 5 3 1-1 4 2 0 5-5 1-2 7-1 2-2-3-2 1-2-4 0 1-3-2 0z"/><path fill="#2df02d" stroke="#2df02d" stroke-width="0.8" d="M8 173l-4 7 0 1-4 4 0 5 4-2-1-2 6-6 4 1-1 6 3 0 0 4 1 1 3-2 6-1-1-6-1-6-2 1-1-2-4 2 4-5-1-2-6-1zM60 169l2-6-1-1-5 3-2 4zM70 205l-4 8-3 1-6-2-5 6 5 1 0 1 89 0 0-43-5 1-1-1 0-3 3-4-2-3 5-5 0-36-4 4-2 0-3 0-2-4-3 1-1 4 4 1-4 4 1 4 3 0 2 5-8 3-7 6-1 1 3 2 2-1 3-7 2 1 1 3 2 0 0 2 2 0 1 5-7 5-8-1-4 1-15 8-2 5 2 1-2 3-4-2-3 4 0 1-5 3-1 0-7 3 1 1-1 4 6 2-2 4 3 0-2 3 0 1-8 4-2 0 1-4 4-2-1-4-5 1-1 4-2 1zM114 185l1 3-5 3-2 0-1-2-5 1 1-5 6-1 1 1 4 0 3-4-1-1-3-1 0-2 8-2 4 4-1 1-2 2zM99 75l-10 0-1 4-2 2 1 3 4 1 1-1 1-5zM114 75l-7 0-1 2 3 2 3-1z"/><path fill="#1ff827" stroke="#1ff827" stroke-width="0.8" d="M6 75l-6 0 0 5 5-1zM16 78l-5 0-2 1-4 6 2 1-2 2-5 3 0 3 1 0 2 4 0 1 3 1 0 3-4 3-2 0 0 23 2-2 5-1 0 2 2 2-2 3-4 0-3 3 0 2 5 2 3 5-4 3-4-2 0 19 6-3-2-2 4-4 6-1 3 3 4-2 1-2 3-1 1 3 5 0 1 2 4 0-2 4 3 1 1-1 2 2-1 4 2-1 4 4-2 7 1 1-1 3-6 1-2 4-7 1 0 3-2 3-7 0-3-1-5 4-2 1-2-1 1-2-2-1-4 3 0-4-2 1 0 21 8-4 2 0 0 4 4 1 4-5 5-1 1 4 4-3 4 0-1 2 4 0 3-2 4 0 0 1 5-1 1 2 4-1 0-5-1 0-2-2 2-5-6 1 2-6 5-1 1-3-8 1 4-4 1-1-3 0-4 2-3 0 0-3 3-3 4 0 7-7-9 2 4-5 3-2-6-6 2-3-3 0-2-3 3-2-7 0 2-4 8 1 1 2-2 6 6-2 1-4 0-1 2-2 5-1 2-4-9 1 1-6-7 2-3-2 5-4 6 1 0 2 4 0-1 3 7-1-1 3 6 1-6 7 9-1 1-6-1-1 5-8-2-3 2-4-3 0 0-3 4-1 2 1 2-1 1-4 6-2 1 3 8-5-1-1-4-1 2-3-3-2 5-4 11 1 2-1 3 2 4-2 11-1-1 7 3-2 6 1 7-6 0-11-1 2-3 0 1-4-6 1 0-2 4-2 0-2 1-2-3-1 7-4 0-8-19 0-1 2 4 2-6 5 2 3 5-1 1-1 5 1-2 4-5 1-1-1-4 1-4-1-7 8-3-3-2 0-3 1 1 5-6 2-3 4-4 2-2-2-4 0-3 5-2 0-3-2-3 2-4-2-4 0-7 3-3 0 1-5-2-2 2-5-4 1 0-1-3-1 5-4-2-3-1 0-1-2-3-3-6 4-3-1-1-3 3-3 0-4-6 5-2-3-4 2-7 10-5 1 1-5-5 1-1-2 4-4-3 0 1-2-2-3zM27 135l2-3 2-1 3-3-6-1 0 0 7-7 0-2 0-2 4-1 10-9 1 1-2 5 0 7-5 2-2 5-4 1 0 3-3 2 0 2-3 2zM25 121l-6 7-4 1 1-4-4-8 4-4 5-2 0-3 3-1 3 2-1 3 0 4zM33 104l5-5 3-1 0 5 1 1-2 4-4 2-2 0 3-6zM97 140l-8 5 4 3 1 2-4 3-3 1-2 2 1 4 5-2 1-2 3-2 3 0-3 4 8-3 1-2 2-2 0-4-5 0-5 2 4-8z"/><path fill="#37e639" stroke="#37e639" stroke-width="0.8" d="M64 177l-4 2-3 5 1 2 2 1 2 3-1 2 3 3-5 2 1 3-4 2 0 4 1 0 2 4 12-8-7 1 0-2 8-1-1-1 5-4-1-2-5 1 1-2-1-6-4 0 0-4 3-4zM101 162l1 1-5 4 1 6 5 0 4-6-4 0 1-5 2-4-2-2z"/><path fill="#a096f5" stroke="#a096f5" stroke-width="0.8" d="M125 126l3-5-6 2-4 3 2 1zM60 145l1-3-4 0-1 1-1 6 3-1z"/><path fill="#ee46dc" stroke="#ee46dc" stroke-width="0.8" d="M28 91l-3-2-4 2-1 6 5-2zM47 195l-2 6 6-1 1-2 0-4zM123 85l7-6-4-2-6 3 1 5zM115 89l-4 0-2 6 2 0 2 3 3-2 3-4-3-1z"/><path fill="#e04ed6" stroke="#e04ed6" stroke-width="0.8" d="M109 122l7-6-2-4-3 2-3 2-4-1-4 4 1 1 0 4zM89 136l2 2-1 3 0 3 9-6-4-2 2-1 0-3zM64 148l-2 4 0 3 3 1 7-8-5-1 0-3-2 0-5 1-2 3zM63 169l-7 0 1 5-1 2 5 2 3-1 1-4zM122 75l-8 0-2 3 6 1zM146 122l-4 2-4 6 4 0 4-4zM140 167l3 3-3 4 0 3 6-1 0-14z"/><path fill="#f83ce8" stroke="#f83ce8" stroke-width="0.8" d="M106 147l0 4-3 2 0 2 3 3-2 4-1 5 4 0 1-4-2-1 8-5-2-2 1-3 4-2 2 0-1 3 4 1 3-4 4-1 1-5-8 4 0-4-4 3-5 0 1-3-4 0zM107 167l-4 6 15-8-4-3-5 5z"/><path fill="#ff823e" stroke="#ff823e" stroke-width="0.8" d="M49 154l-8-1-2 4 7 0-3 2 2 3 3 0-2 3 6 6-3 2-4 5 9-1 3-3 0-5-3 0 2-4-5 1 3-6-6 2 2-6z"/><path fill="#8c3cf0" stroke="#8c3cf0" stroke-width="0.8" d="M71 90l0-3-3-2-4 4 1 2zM101 98l2-5-11 0-1 3 2 4 7-1z"/><path fill="#7e44ea" stroke="#7e44ea" stroke-width="0.8" d="M94 129l4 1 3-6-8 2zM127 156l-3 1-2 2-8 1 0 2 4 3 6-1 5-5z"/><path fill="#f0323c" stroke="#f0323c" stroke-width="0.8" d="M8 156l-4 4 2 2 3 0 2 2 5 0 1 2 5 0 4-4-3-2-2 0-4-1-3-4z"/><path fill="#fa2848" stroke="#fa2848" stroke-width="0.8" d="M122 75l-4 4 1 1 3 0 6-5zM37 104l-3 6 2 0 5-2 1-4-1-1z"/><path fill="#3cee91" stroke="#3cee91" stroke-width="0.8" d="M98 83l2-4-7-1-1 6z"/><path fill="#f2de52" stroke="#f2de52" stroke-width="0.8" d="M100 134l-5 2 3 2-1 2 3 2 6-5-4-1z"/><path fill="#4696f5" stroke="#4696f5" stroke-width="0.8" d="M24 75l-1 4 4 2 2-1 3-5zM23 84l-4 2-4 4 1 2 9-3 2-3zM62 162l-3 7 4 0 2 4-1 4 5 1-3 4 0 4 2 0 6-4-3-4 3-6 5-3 0-4 5-1 3-4-2-4 2-2-3-2 2-4-3 1-7-1-1 8-2 2zM78 77l1 2 5-4-3 0z"/><path fill="#389eef" stroke="#389eef" stroke-width="0.8" d="M32 104l5 1 4-2 0-5-3 1zM90 166l-4 2 0 3 2 0 2 2 1-1 3-5zM123 134l-1 2 1 1-1 4-7 2 0-4 3-2-1-2-3 1-1-2-4 1-4 3 1 1 3 1 1 4 4 0-1 3 5 0 5-5 8-1-2 7 8-3-2-5-2 0-2-4-3-1 1-2-3-1z"/><path fill="#508cff" stroke="#508cff" stroke-width="0.8" d="M94 129l-2-7-6 2-1 4-2 1 2 1-3 4-2-1-2 3 2 3-2 4 12-2 1-3-4-3zM97 132l0 3 3-1 4-4-1-1-5 1zM146 108l-5 3-2 3 7 2zM123 113l-6 4-3 0-2 2 5 3-1 1 2 2 4-2 0-2 3-4z"/><path fill="#f5a0cd" stroke="#f5a0cd" stroke-width="0.8" d="M109 79l-1 0-9 5 0 3 5-1 5 1 2-2 0-2-3-1zM117 121l-5-2-2 0-1 3 1 3-3 5 8-2-2 3 1 1-1 2 0 2 4-1 3-3 3 2 5-6-3-2-5 1-4-4z"/><path fill="#fff" d="M37 77h3v1h-3zM37 81h1v1h-1zM80 91h3v1h-3zM15 95h2v2h-2zM105 92h2v1h-2zM107 92h3v1h-3zM105 92h1v2h-1zM119 96h2v1h-2zM71 100h1v2h-1zM48 107h3v2h-3zM68 108h1v1h-1zM120 108h2v1h-2zM133 107h2v2h-2zM60 111h2v1h-2zM120 110h3v1h-3zM43 116h1v1h-1zM108 117h1v1h-1zM15 126h1v1h-1zM89 126h1v2h-1zM78 129h2v1h-2zM136 132h3v1h-3zM117 138h3v1h-3zM31 145h2v2h-2zM45 140h3v1h-3zM79 144h3v1h-3zM126 140h1v1h-1zM30 154h2v2h-2zM76 156h2v2h-2zM124 154h3v1h-3zM14 162h3v1h-3zM23 163h1v1h-1zM19 165h1v1h-1zM79 169h2v2h-2zM90 167h2v1h-2zM87 166h2v2h-2zM88 167h1v1h-1zM19 170h1v2h-1zM54 174h1v1h-1zM96 174h1v2h-1zM130 175h3v1h-3zM0 185h2v1h-2zM43 187h1v1h-1zM67 185h1v2h-1zM71 186h2v1h-2zM72 187h1v2h-1zM72 182h1v1h-1zM83 187h2v2h-2zM127 184h1v1h-1zM144 182h1v1h-1zM84 194h2v1h-2zM80 194h2v1h-2zM84 190h2v1h-2zM86 191h1v1h-1zM55 213h3v1h-3zM118 216h2v2h-2z"/></svg><svg class="m" style="left:200.5px;top:24.5px" width="146.0" height="219.3" viewBox="0 0 146.0 219.3" shape-rendering="crispEdges"><path fill="#415af2" d="M143 12l1 0 2 1 0-4zM139 8l0 1-1 3 5 0zM45 3l1-3-1 0-6 0 0 2 1 0zM112 28l1 0 4-4-8 1zM43 7l3 0 0-3-1-1-5-1 0 2zM49 9l5 0 1-2-4-1zM125 30l-5-2-2 1 5 3zM41 8l2-1-3-3-2 1zM53 13l1-4-5 0-1 0 0 1 3 2zM101 28l4 0 0-2-4-1-1 0 0 3zM58 16l3 1 1 0-1-3-3 0zM76 22l0 2 6 2 1-2-3-2zM0 2l3 0 0-2-3 0zM55 17l-2-1-5 1 2 2 6 1zM118 36l2 4 3 0 0-1-3-3-1-1zM6 3l-3-1-3 0 1 3 3 2 4 0 0-1 0-1zM101 36l-1-4-3 2zM113 42l-2 1 1 2 5 0-2-3zM116 41l-1 1 2 3 3 1 1-2-4-3zM3 14l0-2-1 0-2 0 0 3zM3 14l3 2 4-3-1 0-6-1zM5 19l1 0 1-2-1-1-3-2-3 1 0 1zM30 27l2-2-2-2-1-1-2 3zM118 55l-1-2-6-1 1 3 5 1zM0 23l0 3 1-2zM2 31l0 1 6 0 1-2-2-1-3 0zM85 55l2 2 4 1-3-5zM11 35l1-1-4-2 1 3zM85 61l6 1 0-3 0-1-4-1-2 1 0 2zM58 59l4 1 1-3-2-2-1 0-3 3zM56 58l-1 1 1 2 2 0 0-2-1-1zM56 61l-1-2-2 0-2 3 1 0 4 0zM35 60l0 1 7 2 2 0-2-4-4-1zM88 81l-1-3-5-1 2 3zM93 80l1 0-1-1-2-2-3 0-1 1 1 3zM103 84l-2 1 2 3 5 0zM55 72l-4-1 5 4 1 0zM55 76l-6-2-1 1 1 2 5 1zM61 81l-3 2 1 1 6 2 0-2-2-2-1-1zM71 87l0-3-6 0 0 2zM118 100l-3-2-4-1 4 4 3 1 1-1zM5 70l5 0 0-1-1-1-5 1zM65 86l-6-2 1 4 4 0zM105 102l2 1 5-1-2-2-4 0zM16 80l2 1 1-3-6-1zM19 78l-1 3 2 1 4 0 1 0 1-1 0-1-1-1zM55 90l-1-1-4-2-2 3 5 2zM59 91l-4-1-2 2 1 1 5-1zM76 96l-3 0-2 1 2 2 1 0 3 0zM54 93l1 1 2 1 2-2 0-1zM94 105l-2 2 1 1 1 0 4 0 0-2-3-1zM113 110l-1 0 0 4 2 1 4-2 0-1-1-1zM133 121l1 2 5 2 1-1-4-4zM83 111l5-1-2-2-3 0-2 2 1 1zM94 111l-5 0 0 2 2 1 4 0 1-2zM141 129l0 2 5 0 0-3zM95 114l-4 0 1 3 5-1zM141 131l-6-2 0 2 5 2zM57 113l4 0 0-1-1-2-3 0-1 2zM115 128l-2-2-5 2 1 1 3 2 2 0zM139 139l1-2-1-1-5 1zM114 131l-2 0-1 2 2 1 3 1-1-4zM128 134l-1 0-2-1-1 3 4 2 3-1zM2 97l-1-1-1 0 0 2 2 1 1-1zM57 117l1-2-1-1-6 0 0 1zM57 117l3 2 2-1 2-1-1-1-5-1zM82 126l2 0 3-1-6-4-2 0 0 1zM84 126l1 2 4 1 1-2-2-1-1-1zM108 133l-1 1 0 1 2 1 3 0 1-2-2-1zM11 105l5 1 1 0 0-1 0-1-3-1-1 0zM28 110l-1-2-3-1-2 3 0 1 2 0 3 0zM38 115l2 2 4 0 1-1-1-2-2-1-2 0-3 2zM44 114l1 2 6 2 0-3zM62 118l-2 1-1 2 5 2 2 0 0-1zM131 144l3-1 1-2-5 0-1 3zM133 145l4 2 0-1-3-3-3 1zM3 105l0-2-3-2 0 4zM86 134l0-3-1-1-1 0-2 1 2 3zM110 139l-3 0 0 1 3 3 4 0 1 0-1-3zM17 115l3 0 0-1 0-3-4-2-2 1 0 2 1 2zM44 120l-4-3-2 3 5 2zM84 134l-2-3-3 1-1 1 1 0 3 1zM17 115l1 4 2 0 3-2-3-2zM49 127l2 1 3-2-1-1-7-1zM64 128l-7-1 1 2 1 1 5 0zM102 142l-1 0 0 3 3 1 3-2-4-2zM23 117l-3 2 4 3 1 0 0-4zM72 134l-6 0 1 3 2 0 3 0zM93 144l1-1-2-2-6-1 1 1 3 2zM104 146l-3-1-1 1 3 4 1-3zM84 144l-4-2-2 2 0 1 7 2 0-1 0-1zM143 161l-4 0 0 2 3 2 2 0 0-2zM144 165l-2 0-1 3 5 1 0-3zM10 125l3 3 2-2-2-2-1-1zM140 168l3 3 3 0 0-2-5-1zM2 128l1-1-2-1-1-1 0 3zM60 146l3 2 1 0-1-4-3 0zM13 132l-4-2-1 0 1 2 2 2zM66 149l2 3 1 0 3 0-1-2zM145 177l1 1 0-2zM11 134l-2-2-6 0 0 1 0 1 8 1zM56 153l-2-3-3 0-2 1 2 3 1 0zM144 181l2 2 0-2zM17 153l0-3 0-1-1-1-3 2zM81 175l-1-3-3 0-1 2 1 2zM21 163l1-2-2-2-4 0-1 0 0 1 5 3zM24 161l-2 0-1 2 5 1 0-2zM25 166l1-1 0-1-5-1-1 0 1 3zM17 167l1-1-5-4-1 0 1 5 3 0zM129 201l0-1-5 0 1 3 3 0zM35 179l-5-3-4 0 0 1 4 3 5 0zM53 186l5 2 2 0 0-2-3-1zM127 212l7 0 0-1-4-2-4 0zM3 176l-3-4 0 4zM38 188l-2-3-5 0 1 2 3 1 2 0zM4 180l2 0-3-4-3 0 0 2zM10 178l-7-2 3 4 4-1zM1 181l3-1-4-2 0 3zM59 200l2 2 3 0 2-1 1 0-4-4-3 2zM67 201l-1 0 4 5 4 0 0-1-1-1-2-2zM64 202l-3 0-2 2 5 2 3 0zM94 215l-3-2-4 1 1 2 1 1 2 0 3-1zM5 189l-3-1-2-1 0 2 1 1 2 1zM72 211l-4 0 1 2 2 1 2 0zM73 214l4 1 0-1-5-3zM4 193l-1-2-2-1-1 1 0 2zM71 214l0 3 5 1 2-3-1 0-4-1zM2 198l1 0 3-1-1-3-1-1-4 0 0 4zM50 215l2 0 0-4-1 0-4-1-1 1zM59 214l0-1-3-1-4-1 0 4 1 0zM64 218l1-3 0-1-3-1-3 0 0 1 1 3 3 1zM1 202l1 0 0-4-2-1 0 4zM2 202l5-1-4-3-1 0zM38 209l0-1-1-1-5 0-1 1 0 1 3 2 2 0zM7 201l-5 1 3 3 4-2-1-2zM1 202l0 4 0 1 4-2-3-3zM2 208l-1-1 0-1-1 0 0 3zM2 214l3-1 0-1-5-2 0 3zM23 216l0 3 5 0 1 0zM17 219l1 0-1 0-4-4-4 2 2 2 2 0zM5 217l-1 2 4 0z"/><path fill="#3362ec" d="M146 1l0-1-1 0zM126 0l-4 0-1 3 3 0 3-2zM129 11l3 2 1-4-5 1zM46 0l1 0-2 0zM109 29l3-1-3-3-2 0-1 1zM84 20l1 4 0 1 1-4-1-1zM105 26l0 2 4 2 0-1-3-3zM123 32l-5-3-2 1 0 2 2 2 5-1zM42 13l3 1 3-3-4-1zM80 22l3 2 2 0-1-4-3 0zM94 27l0 3 6 1 1 0 1-1-1-2-1 0zM53 16l0-3-2-1-4 3 1 2zM1 5l-1-3 0 3zM117 41l4 3 2 0 2-2-2-2-3 0-3 0zM125 42l-2 2 2 1 3 1 3-2-1-1-1 0zM44 25l-3 3 6 3 1-1zM1 19l1 1 3-1-5-3 0 2zM110 52l1 0 6 1 1-1-4-2-2-1-2 2zM1 19l-1-1 0 1zM5 19l-3 1 1 2 4 0 1-2-2-1zM30 27l-3-2-3-1 4 5zM105 50l-3 1 0 1 2 2 2 0 1-2zM46 33l-2 0-3 3 1 1 1 0 5-1zM69 47l-1 1 0 2 1 1 3-2-1-1zM11 30l-2 0-1 2 4 2 1-2zM12 34l5 1 1-1 0-1-5-1zM72 52l1-3-1 0-3 2zM63 53l-1 1-1 1 2 2 3 0 0-4zM77 63l2 0 2 0-1-4-1 0-2 0zM80 59l1 4 1 0 2 0 1-2 0-1zM90 65l1-3-6-1-1 2 4 3zM1 37l-1-1 0 2zM23 46l-2-2-3-1-2 2 1 1 6 1zM30 47l1 2 4 1 2-3-1 0-6-1-1 0zM82 63l-1 0-2 0 0 2 2 1 3 0zM41 54l-1-2-4-1-1 3 2 2zM62 60l-4-1 0 2 3 1zM77 63l-3 0 0 2 1 1 4-1 0-2zM14 49l0 1 6 1 0-2-2-1zM53 59l-3-2-1 1 0 2 1 2 1 0zM20 51l-6-1-1 1 1 2 2 1 5-2zM52 62l-1 0-1 0-4 2 1 1 5 2 2-1zM87 73l-2 1 3 3 3 0 0-1zM49 71l-3-4-3 1 2 2zM65 76l3 2 2 0 1-3-2-2-4 0 0 1zM68 78l0 1 0 2 4 2 1 0 0-3-2-1-1-1zM112 92l-3 0-2 0 4 4 2-1 0-2zM116 93l-3 0 0 2 4 0 1-1zM71 90l4 2 1 0-2-4-3 0zM19 74l0 4 6 1 0-1-1-3-3-1zM63 92l1-4-4 0 0 3zM64 93l3 0 1-2-4-3-1 4zM83 98l-7-2 1 3 2 0 4 1zM20 82l0 1 4 3 0-4zM57 95l2 2 3 0 1 0 1-1-1-2-4-1zM3 79l-1 2 1 1 4 0 1 0-1-2-1-1zM72 104l0-1-1-2-4-1-1 2 1 1zM78 106l1 0 1-3-4-2-1 3zM94 108l-1 0-5 2 1 1 5 0zM98 112l1-2-1-2-4 0 0 3 2 1zM2 81l-2 0 0 2 2 1 1 0 0-2zM3 84l4 1 0-3-4 0zM72 108l0 1 1 1 4 1 1-1-2-3-3 0zM146 131l-5 0-1 2 1 0 3 2 2 0 0-3zM127 129l3 2 1 1 0-4zM131 132l2 0 2-1 0-2-1-2-2 0-1 1zM19 95l0 3 6 2 1-2-6-3zM39 103l2 3 2 2 4 0zM47 108l2-1-2-3-5-1-2 0-1 0zM56 112l1-2-4-2 0 3zM91 122l3 2 2-1 1-1-1-2-4-2-2 2zM119 133l3-2-2-1-5-2-1 3 1 0zM127 134l1 0 5 1 1-2-1-1-2 0-1-1zM134 137l5-1 0-1-5-2-1 2zM146 142l0-3-2-1 1 3zM31 104l-2 2 0 1 4 1 2-1-1-2zM43 109l3 2 1 0 1-1-1-2-4 0zM82 120l-1 1 6 4 1-2-4-3zM88 123l-1 2 1 1 4 0-2-3zM116 135l2 1 1-1 0-2-4-2zM122 131l-3 2 0 2 4 1 1 0 1-3-3-1zM141 142l4-1-1-3-1 0-3-1-1 2 1 2zM79 122l0-1-4-1-3-1 0 1-1 1 2 3 1 0zM118 139l1 0 5 1-1-4-4-1-1 1zM91 131l-2-2-4-1 0 2 1 1 4 1zM9 106l3 3 2 1 2-1 0-3-5-1-2 0zM59 121l-2 0 0 1 3 3 4 0 0-2zM50 121l0-1-5-1-1 1-1 2 0 1 2 0zM53 125l1 1 3 1 1-1-2-3-3 1zM70 128l-5-1-1 1 0 2 1 1 4 0zM84 137l2 1 2 0-1-3-1-1-2 0-2 0zM87 135l1 3 5 0-1-3zM52 131l6-2-1-2-3-1-3 2 1 2zM79 133l0 4 5 0-2-3zM92 141l2-2-1-1-5 0-2 0 0 2zM146 157l-2 1 1 2 1 0zM90 143l-3-2-3 3 1 1zM12 123l6 0-2-2-2 0zM20 125l2-2-5-3-1 1 2 2zM55 133l1 4 3 0 3-2-1-2-1 0zM69 137l1 3 1 1 1 0 2-1 0-1-2-2zM90 143l-5 2 0 1 6 1zM137 164l2-1 0-2-2-1-5-1 0 1zM18 127l2-2-7-1 2 2zM20 125l-2 2 2 3 5-2 0-1zM30 129l-2-2-3 0 0 1 2 3 2 1 1 0zM22 133l4 1 3-1 0-1-2-1-6 0 1 1zM2 128l1 1 5 1 1 0 1-2-5-2-2 1zM67 147l0-1-3-2-1 0 1 4 2 1zM15 132l-2 0-2 2 0 1 1 1 4 0 1-1-1-2zM25 137l2 1 4 1-1-2-4-2zM55 149l3 0 0-3-5-1-1 0zM60 146l-2 0 0 3 1 0 2 1 2-2zM137 175l-4-2-3 1 6 3zM145 177l-2 0-1 3 1 1 1 0 2 0 0-3zM9 140l1 0 0-2-3-1-2 2 0 1zM16 141l-5-4-1 1 0 2 5 2zM15 144l4 3 1 0 0-4-4-2-1 1 0 1zM69 159l-4 0 1 4 4 0zM11 143l0 3 1 1 3-3 0-1zM17 149l2-2-4-3-3 3 4 1zM56 159l-6-3-1 2 0 1 2 1 3-1zM0 143l0 4 1 0 2-3zM24 161l0-3-1 0-2-1-1 2 2 2zM119 200l0 3 6 0-1-3-3-1-1 1zM60 186l0-1 1-1-1-1-3-1-3 1 3 2zM119 207l3 2 4 0-2-2-4-1zM0 171l0 1 3 4 4-1-5-4-1 0zM30 183l0 1 1 1 5 0 1-1-1-1zM74 200l-2-2-3 0-2 3 4 1 2-1zM76 209l-2-3-4 0 3 4zM97 213l-3 2 0 1 3 1 2 0zM68 211l4 0 1-1-3-4-2 1-1 3zM77 214l2-2-3-3-3 1-1 1zM0 189l0 2 1-1zM56 207l-1 0 1 3 4 0zM62 210l1-1-4-3-3 1 4 3zM65 214l0 1 5 2 1 0 0-3-2-1zM87 219l-2 0 3 0zM53 215l-1 0-2 0-1 0 1 3 6 0 0-1zM63 218l-3-1-4 0 0 1 1 1 1 0 3 0zM69 218l-5 0 0 1 1 0 5 0zM1 202l-1 0 0 4 1 0zM9 216l0 1 4-2-1-1 0-1-6 1zM2 216l-2 0 0 3 1 0 3 0 1-2zM11 219l-1 0 3 0z"/><path fill="#4b50fe" d="M127 1l-3 2 4 2 1 0 0-3zM140 7l-1 1 4 4 3-3 0-1-3-1zM47 0l2 1 1-1zM118 23l-1 0 0 1 2 2 3 1 3-2-2-2zM51 2l-2-1-2-1-1 0-1 3 1 1 3 1zM40 4l0-2-1 0-3-1-3 2 0 1 1 1 4 0zM101 25l4 1 1 0 1-1-4-2zM53 16l2 1 3-1 0-2-2-1-3 0zM109 32l0-2-4-2-4 0 1 2zM118 34l-2-2-2 1 0 3 2 1 2-1 1-1zM3 2l3 1 2-1 0-2-5 0zM100 31l0 1 1 4 4 0 0-2-4-3zM120 40l-2-4-2 1 0 2 1 1zM128 39l-3 0-2 0 0 1 2 2 4 1zM75 26l0 3 3 1 2-2zM117 48l2 2 4 0 0-2-3-2zM12 18l0-1-1-2-1-2-4 3 1 1zM114 50l2-3-3-1-2 2 1 1zM12 18l-5-1-1 2 2 1 3 2 2-2zM27 25l2-3-3-1-3 2 0 1 1 0zM36 26l-4-1-2 2 4 1 3-1zM47 31l-6-3-1 0-1 3 5 2 2 0 0-1zM11 22l-3-2-1 2 0 1 4 2 1-2zM28 29l2 2 2 0 3-1-1-2-4-1zM41 36l3-3-5-2-1 3zM107 52l-1 2 2 1 3 1 1-1-1-3-1 0zM6 25l1-2 0-1-4 0-1 2zM36 38l1 0 5-1-1-1-3-2-1 0zM44 40l-5 1 1 1 1 1 3-2zM36 45l1-1 1-1-5-2-1 2zM99 70l0-2-2-3-4 2zM30 47l-1-1-2-1-4 1 0 1 0 1zM53 56l3 2 1 0 3-3-4-2-2 1zM1 40l-1-1 0 2zM53 56l-3 0 0 1 3 2 2 0 1-1zM79 65l-4 1 1 2 5 0 0-2zM27 55l2-1-3-3-3 2zM92 72l-4-1-1 2 4 3 2-3zM54 66l-2 1-1 2 5 1zM60 70l-1-3-1 0-4-1 2 4 1 1 1 0zM58 75l2-1-2-3-1 0-2 1 2 3zM49 71l-4-1-3 2 2 2 4 1 1-1zM63 82l5-1 0-2-5 0-1 2zM68 81l-5 1 2 2 6 0 1-1zM113 95l-2 1 0 1 4 1 3-2-1-1zM49 77l-2 2 2 1 5 1 0-3zM111 97l-1 3 2 2 3-1zM71 87l-6-1-1 2 4 3 3-1 0-2zM103 102l2 0 1-2-2-3-2 0-1 3zM113 105l-1-3-5 1 4 2 1 1zM112 102l1 3 6 0 0-2-1-1-3-1zM11 71l-1-1-5 0 1 2 2 1zM19 78l0-4-4-1-2 2zM54 89l2-2-2-3-4 0 0 3zM83 98l0-2-1-1-2-2-2 0-2 3zM11 76l2 1 6 1-6-3zM63 94l1 2 5 0-2-3-3 0zM94 102l1 3 3 1 1 0 2-2-2-1zM71 101l2-2-2-2-4 2 0 1zM79 99l-3 2 4 2 1 0 2-2 0-1zM112 114l0-4-3-1-2 3zM55 94l-1 1-1 3 5 2 1-3-2-2zM72 103l3 1 1-3-2-2-1 0-2 2zM73 107l3 0 2-1-3-2-3-1 0 1 1 2zM128 125l-1-2-3-3-1 0 1 5zM134 127l5 0 0-1 0-1-5-2-1 1-2 2 1 1zM131 126l-3-1-4 0-2 1 4 3zM141 131l0-2-2-2-5 0 1 2zM140 133l-5-2-2 1 1 1 5 2 2-2zM143 138l1-3-3-2-2 2 0 1 1 1zM31 104l3 1 5-2-5-1zM144 138l2 1 0-4-2 0-1 3zM39 103l-5 2 1 2 1 1 5-2zM36 108l2 1 4 0 1 0 0-1-2-2zM92 126l1 0 2-1-1-1-3-2-1 1zM135 141l5 0-1-2-5-2-2 1zM66 122l0-5-2 0-2 1zM92 126l-4 0 2 1 4 2-1-3zM118 136l-2-1-3-1-1 2 1 1zM124 136l-1 0 1 4 4-1 0-1zM0 101l2-2-2-1zM112 136l-3 0 1 3 4 1 1-1-2-2zM113 137l2 2 3 0 0-3zM145 150l1 0 0-1zM84 130l-4-1-1 3 3-1zM90 132l-4-1 0 3 1 1 5 0zM132 149l4 1 2-2-1-1-4-2zM46 124l7 1 0-1-3-3-5 2zM93 138l1 1 1 0 4-2-3-2-4 0zM61 133l4 0 0-2-1-1-5 0 0 1 1 2zM86 138l-2-1-5 0-1 0 0 1 3 2 5 0zM22 123l2-1-4-3-2 0-1 0 0 1zM59 131l0-1-1-1-6 2 1 0zM55 133l5 0-1-2-6 0 0 1zM87 141l-1-1-5 0-1 2 4 2zM131 158l4-2-5-2-1 0 0 3zM141 157l-3 1-1 2 2 1 4 0 2-1-1-2zM145 160l-2 1 1 2 2 0 0-3zM39 132l1 0 3-3-5-1-2 1zM61 139l3 1 1-1 0-2-3-2-3 2zM65 139l5 1-1-3-2 0-2 0zM74 143l4 1 2-2-6-2-2 1zM13 124l7 1-2-2-6 0zM52 136l-2 2 4 1 2-2zM59 137l-3 0-2 2 0 1 5 1 2-2zM64 144l2-2-2-2-3-1zM131 161l2 4 3 0 1-1-5-4zM27 131l-2-3-5 2 1 1zM79 149l-1-2-6-1 1 2 4 2 1-1zM13 128l-3 0-1 2 4 2 2 0 0-2zM16 133l1 2 4 0 1-2 0-1zM26 135l4 2 1-1-2-3-3 1zM72 148l-5-1-1 2 5 1zM72 152l4 1 1-2 0-1-4-2-1 0-1 2zM3 129l-1-1-2 0 0 4 3 1 0-1zM8 130l-5-1 0 3 6 0zM32 140l-1-1-4-1 0 2 5 1zM16 141l2-2-1-2-1-1-4 0-1 1zM23 138l-6-1 1 2 4 1 1 0zM23 138l0 2 2 1 2-1 0-2-2-1-1 0zM55 149l-3-4-1 1-1 1 1 3 3 0zM18 139l-2 2 4 2 2 0 0-3zM22 143l-2 0 0 4 5 1 0-1-2-4zM73 160l-4-1 1 4 1 1 4-2zM38 155l-4-2-2 0-1 1 3 4 1 0zM23 158l1 0 2 0 3-1-2-2-4 1zM77 172l-2-1-3 0 0 3 4 0zM39 163l-2-4-1 0-3 4 4 1zM77 177l0-1-1-2-4 0 0 3 3 1 1 0zM18 166l3 0-1-3-5-3-2 2zM37 173l5 3 1-3-3-2zM67 190l2 1 3-2-1-2-4 1zM70 192l5 0-1-2-2-1-3 2zM134 212l2 1 4 2 2-1 0-1-1-1-7-1zM15 173l-4 0-1 2 0 1 8 1 1-1zM30 180l-1 2 1 1 6 0 1-2-2-1zM63 196l1-5-5 1 0 2 3 2zM68 195l-3-4-1 0-1 5 4 0zM71 195l-3 0-1 1 2 2 3 0zM67 201l2-3-2-2-4 0-1 0 1 1zM109 214l4 0-1-2-3-2-2 0-2 1 2 2zM35 193l-7-3 1 2 2 1zM54 202l1 0 4 2 2-2-2-2-3-2zM70 206l-4-5-2 1 3 4 1 1zM84 210l3 4 4-1 0-1-3-2-3-1-1 0zM97 213l-2-1-4 0 0 1 3 2zM59 204l-4-2-3 3 1 2 2 0 1 0 3-1zM64 206l-5-2 0 2 4 3 1 0zM51 207l0 4 1 0 4 1 0-2-1-3-2 0zM56 210l0 2 3 1 3 0 0-3-2 0zM68 211l-6 2 3 1 4-1zM76 219l5 0 1-1 0-1-4-2-2 3zM60 217l-1-3-6 1 3 2zM76 219l0-1-5-1-1 0-1 1 1 1zM1 202l-1-1 0 1zM44 217l2-2-2-2-5 1 0 1zM44 217l1 1 5 1 0-1-1-3-3 0zM57 219l-1-1-6 0 0 1 1 0 5 0zM5 210l-3-2-2 1 0 1 5 2zM17 214l-2-1-3 1 1 1 4 4 2-4z"/><path fill="#64e8f0" d="M139 0l-1 0-1 2 2 1 5 1 0-1zM137 2l-2 0 1 3 3 2 0-4zM146 24l-2 1 2 2zM135 23l-2 1 2 3 2 1 2 0 1-2-2-3zM141 26l-1 0-1 2 1 1 4 1 2-1zM139 33l-3-3-4 1 5 3 1 0zM142 39l2 0-6-5-1 0-1 1-1 2zM135 42l-2-4-1 0-2 0 0 1 2 3zM97 34l3-2 0-1-6-1 0 1 1 2zM131 44l5 1 3-2-4-1-3 0-2 1zM78 34l2-2-2-2-3-1-1 0-1 1zM146 55l0-1 0-1-1-3-3-1-2 1 0 1 0 1zM123 48l0 2 3 2 2-2 1-1-3-1zM134 54l-5 2 2 2 4 0 0-4zM69 39l2-1 0-1-1-2-2 0-3 0 0 3zM77 42l5-1-1 0-3-2-2 2zM104 49l-3-2-2 2 3 2 3-1zM77 48l2-2-6-2-1 0 0 1zM127 60l-1 1 0 3 1 1 3 0 2-2zM137 66l-4-4-1 1-2 2 1 0 5 2zM72 49l1 0 4 1 0-1 0-1-5-3-1 3zM123 67l3 0 1-2-1-1-3-2-2 1 1 3zM136 67l-5-2 0 4 3 0 2-1zM111 65l1 3 4 0 0-3-4-1zM130 69l-3-1-1 3 3 2 4 0zM109 67l3 1-1-3-2-1zM7 36l-3-2-4 2 1 1 6 1zM36 47l0-2-4-2-1 0-1 3zM56 53l4 2 1 0 1-1-5-4zM12 42l-2 1-3 1 2 2 2 0 2-1zM23 49l3 2 4 0 1-2-1-2-7 1zM62 63l5 1 2-1-1-1-6-2-1 2zM38 58l-1-2-2-2-3 0-1 0 2 2zM21 52l-5 2 5 1 1-2zM49 60l-6-1-1 0 2 4 2 1 4-2zM35 65l1-3-1-1 0-1-2 0-3 1 2 2zM36 62l4 2 2-1-7-2zM115 87l-2-2-2 0-1 0-1 3 2 1zM35 66l0-1-3-2-4 1 1 2zM41 65l-1 2 3 1 3-1 0-1zM48 75l-4-1-1 1 4 4 2-2zM21 74l3 1 5 0-3-3-5 1zM54 81l-5-1 1 4 4 0 1-1zM60 88l-1-4-1-1-3 0-1 1 2 3zM68 91l4 2 3-1-4-2zM101 104l2-1 0-1-2-2-4-1-1 1 3 3zM16 85l1 3 4 2 2 0 0-3-6-2zM125 133l2 1 3-3-3-2-5 3zM75 128l-3 1 3 4 3 0 1-1zM78 133l-3 0-3 1 6 3 1 0 0-4zM119 151l-3-2-1 1 2 3 1 1 1-1zM0 114l0 3 2-1 0-1zM53 131l-1 0 0-1-3 0-3 1 0 1 1 1 2 1 4-2zM51 142l-2-1-5-2-1 0 3 4zM51 146l1-1 1 0 0-2-2-1-5 1 0 1zM130 170l-2-4-2 2zM138 172l0 2 2 1 3-2-1-1-3-1zM44 145l1-1-6-2-3 1zM138 174l0-2-4-1-1 2 4 2zM130 174l-1 0 0 2 7 2 0-1zM136 178l1 1 5 1 1-3-3-2-2-1-1 1-1 2zM42 152l1 1 1 0 6 1 1 0-2-3-3-1zM36 148l-2 1 2 2 4-1-1-1zM121 177l-4 0-1 1 4 2 2-1zM134 184l2-1-2-3-4 0 0 2 1 2zM124 183l1-2-1-2-2 0-2 1 0 1zM114 180l-2-1-2 0-1 2 1 1 3 0 1-1zM88 183l4 0 0-3-2 0-3 1zM82 181l3 4 4 0-1-2-1-2-3-1zM94 184l0 1 4 2 1-5zM109 188l-1 0-1 1 1 1 3 2 3-2zM97 189l-6 0 0 1 0 1 1 1 1 0 3 1 2-3zM95 197l5 0 0-3-4-1-3-1 1 5zM98 200l2 1 2-2-1-2-1 0-5 0zM109 205l2 0 2 0 1-2-7-2 1 1zM26 176l-1 0-3-1-3 1 0 1 6 2 1-2zM98 200l-3-3-1 0-2 0 1 5 1 0zM106 209l5-2 0-2-2 0-4 0zM111 207l2 1 3 1 2-1-5-3-2 0zM15 180l1 0-1-2-5-2 0 2 0 1zM16 180l3 1 1-1-1-3 0-1-1 1-3 1zM10 179l2 4 3 0 0-3zM16 184l4 0-1-3-3-1-1 0 0 3zM20 180l-1 1 1 3 3 2 2-2-1-3zM98 206l-2 1-1 2 5 1-1-4zM1 181l2 3 2 0 3-1-2-3-2 0zM6 180l2 3 2 1 2-1-2-4zM12 183l-2 1 1 1 5 2 0-3-1-1zM109 217l3 0-3-3-2-1-1 3zM3 184l-2-3-1 0 0 3 2 1 0-1zM109 217l-3-1-2 0-1 2 1 0 2 1 3 0zM118 219l-6-1 0 1zM7 188l-5-4 0 1 0 3 3 1 2 0zM103 219l3 0-2-1z"/><path fill="#56f0ea" d="M133 1l-1 1 1 3 3 0-1-3zM144 30l-4-1 1 4 4-1zM140 29l-1-1-2 0-1 2 3 3 2 0zM144 35l-3-2-2 0-1 1 6 5 1-1zM109 32l-7-2-1 1 4 3 4-1zM145 41l0 4 1 0 0-4zM94 35l1-2-1-2-4 1 2 3zM145 50l1 3 0-3zM41 19l-1-2-3-1-3 1 1 2 1 1 4 0zM90 32l-1 0-3 1 3 4 2 0 1-2zM138 54l2-2 0-1-6-1 0 4 1 0 1 0zM142 56l-4-2-2 0 4 4zM145 56l1-1-6-3-2 2 4 2zM78 37l-1-2-6-1-1 1 1 2 6 0zM84 42l1 0 1-2 0-1-6-1 1 3 1 0zM93 44l1 2 6 0 1-1-1-1-7-1zM126 52l-3-2-4 0 0 2 6 2 1-1zM140 58l3 2 1 0 1-1 0-3-3 0zM137 59l0 1 4 2 2-2-3-2zM144 60l-1 0-2 2 1 2 4 0 0-2zM73 44l6 2 2 0 0-1-4-3-1-1-1 0zM86 43l-1-1-1 0-3 3 7 1zM82 48l5 1 2-2-1-1-7-1 0 1zM99 49l-2 0 1 3 4 0 0-1zM135 61l-1 0-1 1 4 4 4-1zM141 65l1-1-1-2-4-2-2 1zM137 66l-1 1 0 1 4 3 2 0 1-4-2-2zM134 72l0-3-3 0-1 0 3 4zM141 73l-1-1-6 0-1 1 1 0 5 1zM109 67l0-3-2-1-1 0-2 3 1 1 2 1zM126 71l-4-1 2 4 4 1 1-2zM48 50l0 3 5 0-4-3zM128 75l-4-1-1 1 0 1 3 3 5-1-2-2zM5 41l1 0 2-2-1-1-6-1-1 1 0 1 1 1zM6 41l4 2 2-1 0-1-4-2zM88 66l-4-3-2 0 2 3 3 1 1 0zM17 46l-1-1-3 0-2 1 3 3 4-1zM69 63l3 2 2 0 0-2-4-2-2 1zM20 49l0 2 1 1 1 1 1 0 3-2-3-2zM32 54l-2-3-4 0 3 3 2 0zM42 59l1 0 1-2-3-3-4 2 1 2zM61 64l3 2 3 0 0-2-5-1zM33 56l-2 2 2 2 2 0 3-2zM59 64l-1 3 1 0 5 1 0-2-3-2zM47 65l-1-1-2-1-2 0-2 1 1 1 5 1zM14 60l-5-2-1 2 5 1 1 0zM73 80l0 3 4 1 1-3zM117 95l1 1 2 2 2 0 2-2-3-3-3 1zM95 87l-2 4 2 0 3-1-2-3zM21 73l5-1 0-1-3-1-2-1-1 2zM54 78l0 3 5-1zM60 80l-1 0-5 1 1 2 3 0 3-2zM24 75l1 3 5-1 0-1-1-1zM26 80l5 0 0-2-1-1-5 1 0 1zM59 91l1 0 0-3-4-1-2 2 1 1zM89 103l-1 1 0 2 4 1 2-2zM30 86l-2-1-4 1-1 1 5 1zM92 107l-4-1-2 1 0 1 2 2 5-2zM28 88l-5-1 0 3 2 1 4-2zM31 90l-2-1-4 2 2 2 1 0 1 0zM70 128l2 1 3-1-1-1-3-2zM129 144l-3-1-2 1-1 1 2 2 4 1zM123 159l-3 0 0 3 1 1 3-1 0-2zM87 151l-3-1-1 2 0 1 5 0zM143 171l-1 1 1 1 3 2 0-4zM17 135l-1 1 1 1 6 1 1-1-3-2zM45 147l0 1 5-1 1-1-5-2-1 0-1 1 0 2zM46 150l3 1 2-1-1-3-5 1zM39 149l1 1 2 2 4-2-1-2 0-1-5 1zM130 179l0 1 4 0 2-2-7-2 0 1zM36 151l4 3 3-1-1-1-2-2zM125 179l-1 0 1 2 5 1 0-2 0-1zM89 171l2 1 2-3-1-1-3 1zM114 180l1-2-2-2-2 1 1 2zM120 181l0-1-4-2-1 0-1 2 0 1 4 1zM128 185l2 0 1-1-1-2-5-1-1 2 2 1zM114 181l-1 1 3 3 4 0-2-3zM123 186l3 2 2 0 0-3-2-1zM131 189l-3-1-2 0 0 1 3 2zM127 194l5 1 3-1-6-3zM83 178l-6-1-1 1 3 3 2 0 1 0 2-1 0-1zM88 183l1 2 1 1 4-1 0-1-2-1zM90 186l1 3 6 0 1-1 0-1-4-2zM100 194l0 3 1 0 5-1 1 0-1-2-1-1-1 0zM144 206l-3 1 2 2 3 1 0-2zM72 189l2 1 3-1 1-1-2-1-5 0zM114 203l2 0-3-3-2 0-4 0 0 1zM105 200l-3-1-2 2 2 2zM15 178l3-1-8-1zM30 180l-4-3-1 2 0 1 4 2zM102 203l0 1 3 1 4 0-1-3zM135 217l2 0-1-4-2-1-1 3zM119 214l3 2 3 0 1-3-3-1-1 0zM99 206l1 4 1 1 4 0 2-1-1-1-6-3zM126 213l-1 3 3 3 2-1 0-1zM8 188l-3-4-2 0-1 0 5 4zM16 190l1-2-1-1-5-2-2 2 6 3zM2 188l0-3-2-1 0 3z"/><path fill="#6edefc" d="M146 2l0-1-1-1-6 0 5 3zM129 2l0 3 3 1 1-1-1-3zM144 25l-3 1 5 3 0-2zM146 29l-2 1 1 2 1 0zM145 32l-4 1 3 2 2 0 0-3zM144 35l1 3 1 0 0-3zM139 41l3-2-7-2zM133 38l2 4 4 1 0-2-4-4zM141 44l4 1 0-4-6 2zM136 45l0 1 6 2-1-4-2-1zM146 45l-1 0-4-1 1 4 0 1 4-1 0-2zM142 48l-6-2 0 2 4 2 2-1zM71 34l6 1 1-1-5-4-2 3zM146 59l0-4-1 1 0 3zM81 41l-1-3-2-1-1 0 1 2zM76 41l2-2-1-2-6 0 0 1 4 3zM129 56l-3-1-2 1 0 1 3 3 2 0zM131 58l-2-2 0 4 3 0zM127 60l-3-3-3 2 5 2zM132 60l-3 0-2 0 5 3 1-1 1-1zM142 64l-1 1 2 2 3 0 0-3zM126 61l-5-2 2 3 3 2zM116 62l0-1-1 0-5 1 2 2 4 1 1-1zM131 65l-1 0-3 0-1 2 1 1 3 1 1 0zM140 71l-4-3-2 1 0 3 6 0zM72 52l1 1 3 0 2-1-1-2-4-1zM97 58l0 3 4 2 1-1-1-2-2-1zM102 62l4 1 1 0 1-2-2-2-5 1zM123 67l-3 2 2 1 4 1 1-3-1-1zM62 54l1-1-5-3-1 0zM15 38l-4-3-2 0-2 1 0 2zM8 39l4 2 5 0-1-2-1-1-8 0zM30 46l1-3-4-1-2 1 2 2 2 1zM136 76l-7 0 2 2 2 1 3-2zM18 43l-1-2-5 0 0 1 1 3 3 0zM48 53l-1 1 1 1 2 1 3 0 1-2-1-1zM3 44l3-1-1-2-4-1-1 1 0 2zM5 41l1 2 1 1 3-1-4-2zM11 46l-2 0-2 2 1 1 5 2 1-1 0-1zM25 67l3 0 1-1-1-2-3-2-2 1-1 0 2 3zM38 70l2 1 2 1 3-2-2-2-3-1-3 0zM91 91l2 0 2-4-6 0zM21 69l2 1 2-3-1-1-6 1zM28 70l0-2 0-1-3 0-2 3 3 1zM26 72l3 3 3-3-4-2-2 1zM23 87l1-1-4-3-3 2zM83 115l-5-2-2 2 6 1zM80 129l-2-1-3 0 4 4zM123 149l-2 0-2 2 0 2 2 0 4-2zM72 137l2 2 4-1 0-1-6-3zM49 134l3 2 4 1-1-4-2-1zM49 134l-2-1-2 3 5 2 2-2zM121 163l1 1 6 2 0-3-4-1zM46 144l0-1-3-4-4 1 0 2 6 2zM133 173l1-2-1-1-3 0-2 3 1 1 1 0zM146 176l0-1-3-2-3 2 3 2 2 0zM36 144l-2 2 2 2 3 1 1-1zM125 176l0 3 5 0-1-2zM122 175l-1 2 1 2 2 0 1 0 0-3zM35 152l-1 1 4 2 1 0 1-1-4-3zM112 179l-1-2-3-1 0 1 2 2zM120 185l1 1 2 0 3-2-2-1-4-2-2 1zM116 185l-2 2 1 0 5 2 1-3-1-1zM121 186l-1 3 2 1 4-1 0-1-3-2zM93 192l-1 0-3 2 5 3zM108 202l-1-1 0-1-2 0-3 3zM50 188l-5-2-3 1 0 1 6 2 1 0zM126 213l4 4 2-2zM58 194l-3 0-2 0 0 2 2 2 1 0 2-2zM100 212l1-1-1-1-5-1-1 0 1 3 2 1zM106 216l1-3-2-2-4 0-1 1 4 4zM9 187l2-2-1-1-2-1-3 1 3 4zM23 190l-2-1-4-1-1 2 1 2 6-1zM18 193l5-1 0-1-6 1 0 1zM15 194l-5-2 0 1 3 4z"/><path fill="#50f050" d="M139 3l0 4 1 0 3 0 1-3zM125 8l3-3-4-2-3 0zM129 16l1-1-2-2-5-1 1 3zM130 15l2 0 1-2-1 0-3-2-1 2zM137 18l4 0 2-1-1-2-4-1-3 2zM79 2l0 1 4 0-3-3zM130 18l1 1 1 0 4 0 1-1-2-2-3-1-2 0-1 1zM146 23l-1-6-2 0-2 1 3 4 1 1zM121 16l0 3 3 1 1 0 1-2-3-2zM139 22l-3-3-4 0 3 4 3 0zM80 8l2 1 1 1 1-1 1-2-3-1-3-1zM89 11l-1-3-3-1-1 2zM95 12l-3-3-4-1 1 3 1 0 5 2zM56 0l-6 0-1 1 2 1 4 1 2-2zM66 11l-2-1 0 2 0 1 4 3 3-1-2-3zM41 8l-3-3-4 0 0 2 5 2zM34 7l-2 0 2 3 5 0 0-1zM130 43l2-1-2-3-2 0 1 4zM54 24l2-4-6-1 0 1 3 3zM55 24l5 1 1-1-2-2-1-2-2 0-2 4zM65 22l-6 0 2 2 2 0zM86 33l3-1-2-3-1 0-2 0-1 3zM2 10l1-2 1-1-3-2-1 0 0 4zM109 38l-2 0-1 2 1 1 1 2 3 0 2-1zM125 45l1 3 3 1 1 0-2-3zM140 50l-4-2-3 0-1 1 2 1 6 1zM7 11l-4-3-1 2zM50 23l-1 3 3 1 1 0 2-2 0-1-1 0-1-1zM83 34l-3 1 6 3 2-1zM128 50l-2 2 0 1 6 0zM2 12l0-2-2-1 0 3zM49 26l-5-1 4 5 1 0 3-3zM126 53l-1 1 1 1 3 1 5-2-2-1zM49 30l4 5 2 0 1-3zM21 24l-2-1-4 1 2 1 4 2zM94 52l3 1 1-1-1-3-1 0-2 2zM30 31l-1 1 1 2 3 1 1-2-2-2zM107 58l1-3-2-1-2 0-3 2 5 2zM1 24l-1 2 4 3 3 0-1-3 0-1-4-1zM14 28l-2-2-5 3 2 1 2 0zM14 28l-3 2 2 2 5 1 0-1 0-3-3-1zM44 40l0 1 2 1 2-2-5-3zM51 40l-3 0-2 2 1 1 6 1zM54 40l-3 0 2 4 1 0 1 0 2-1zM101 60l5-1 0-1-5-2-1-1-1 4zM82 56l0-2-1-1-3-1-2 1 1 2 3 1zM31 43l1 0 1-2-1-1-5 0 0 2zM52 48l-6-2 1 4 1 0 1 0 2-1zM59 49l-1 1 5 3 3 0 0-2-4-2zM77 59l2 0 1-3-3-1-1 2zM96 61l-5-2 0 3 4 2zM25 43l-2-1-6-1 1 2 3 1zM35 50l1 1 4 1 1 0-1-3-1-1-2-1zM47 50l-3-1 0 3 3 2 1-1 0-3zM116 74l-3-1-1 2 1 2 4 1zM23 47l-6-1 1 2 2 1 3 0 0-1zM35 54l1-3-1-1-4-1-1 2 2 3zM110 78l3-1-1-2-3 0-2 0 0 1zM105 80l-2-1-2 0-1 1 0 1 3 3 4-1zM111 85l-1-5-5 0 2 3 3 2zM26 61l-4-3-4 0 1 2 4 3 2-1zM65 74l0-1-2-1-1-1-2-1-2 1 2 3zM89 83l2 1 5-1-3-3-5 1zM18 63l4 0 1 0-4-3-2 2zM18 67l6-1-2-3-4 0zM8 60l1 3 3 2 1-4zM33 73l2 1 2 0 3-3-2-1-3 1zM103 90l-3 1 0 2 1 0 3 1 1-2zM74 88l2 0 1-1-6-3 0 3 0 1zM41 82l2-1-2-3-4 1 0 1zM50 87l0-3-4-1-2 3zM72 93l1 3 3 0 2-3-2-1-1 0zM8 73l-2-1-2 1 1 2 4 2 2-1zM44 86l-2-1-3 0 0 2 4 3 2-1zM69 96l2 1 2-1-1-3-4-2-1 2zM117 108l-4-2 0 4 4 1zM11 76l-2 1 0 1 4 2 3 0-3-3zM43 90l-4-3-2 1 4 3zM72 104l-5-1 0 2 6 1zM6 92l1-3-1-1-3-1-2 0 1 3zM20 95l-1-3-4-2-1 1 0 3 4 1 1 0zM20 95l6 3 1 0-1-4zM44 101l-2-2-1-1-1 0-2 2 2 3 2 0zM5 94l1-2-4-2-2 1 0 2 1 0zM1 96l0-3-1 0 0 3zM9 98l0-1-2-1-5 1 1 1 0 1zM8 102l3-3-2-1-6 1 4 3zM18 101l-1 0 0 3 0 1 4 0 2-2zM29 110l4-1 0-1-4-1-2 1 1 2zM99 131l1 1 6 2-2-4-4-1zM106 134l1 0 1-1-2-2-2-1zM73 124l-2-3-5 1 0 1 5 2zM5 107l3 2 4 0-3-3zM92 135l4 0 1 0-6-4-1 1zM145 150l-2-2-4 0 3 3 4 0 0-1zM2 109l2-3-1-1-3 0 0 2zM8 109l-3-2-1-1-2 3 0 1 1 0 5 1zM27 115l-2-2-3 1zM101 139l-1-2-1 0-4 2 2 2 4 1 1 0zM25 122l2 1 2-1-3-4-1 0zM9 115l-1 0 0 4 3 0 2-2-1-1zM103 150l1 1 3-1 1-1-4-2zM93 154l1-1-1-3-3 0-3 1 1 2 1 0zM98 157l-1 0 0 1 3 3 2-3zM1 138l2 0-1-3-2 0 0 2zM30 146l-1 0 3 3 2 0 2-1-2-2zM59 153l-2 0 1 4 2-1zM74 158l-1 2 2 2 2 1 3-1 0-2-2-1-2-2zM98 167l0 2 4 2 2-2-5-2zM90 166l-3 0 0 2 2 1 3-1zM144 185l-3-2-3 0 0 1 6 2zM44 156l0-3-1 0-3 1-1 1 2 2zM3 144l-2 3 0 1 5 1 2-2-1-1-3-2zM22 152l-1 2 2 2 4-1 1-1-4-2zM66 169l1-3-3-2-2 0-3 3 1 0zM146 195l-1-4-5-1-1 1 3 4zM1 148l0 2 6 1-1-2zM11 153l5 2 1-1 0-1-4-3-1 0zM51 162l-5 1 4 3 3-3zM63 171l3-1 0-1-6-2-1 2zM21 157l-4-2-1 4 4 0zM84 180l3 1 3-1-2-3-4 2zM0 155l0 1 1 2 3-2-1-1zM45 169l0 4 2 1 2-2zM54 174l-4-2-1 0-2 2 1 1 6 0zM145 205l-1-2-2-1-3 4 2 1 3-1zM30 169l-5-3-4 0 2 3 5 2zM45 173l-2 0-1 3 2 1 4 0 0-2-1-1zM57 182l3 1 1-3-6-2-1 2zM96 193l4 1 4-1-6-3zM17 167l-1 0 0 5 3 0 1-1 0-1zM69 185l-1-1-7 0-1 1 5 2zM25 173l-5-2-1 1 3 3 3 1zM41 181l2 2 2 1 1 0 2-3-1 0-5-1zM52 182l-1-1-3 0-2 3 2 1 3-1zM57 185l-3-2-2-1-1 2 2 2zM86 192l-5-1-1 2-1 0 4 2 2 0 1-2zM45 186l0-2-2-1-2 2 1 2zM73 195l4-1-2-2-5 0 1 3zM85 195l-2 0 0 3 1 1 3 0 1-2zM10 176l0-1-3 0-4 1 7 2zM59 194l0-2-3-2-2-1 0 3 1 2 3 0zM72 198l2 2 1 0 2-1-4-4-2 0zM48 190l0 3 5 1 2 0-1-2-5-2zM32 187l-1 1 5 5 0-1-1-4zM71 202l2 2 3-1-3-2zM112 218l6 1 0-1-3-3-3 2zM45 201l1-1-1-3-1 0zM74 205l0 1 2 3 5-1-2-3zM9 191l6-1-6-3-1 1-1 0 0 1zM16 194l1-1 0-1-1-2-1 0-6 1 1 1 5 2zM27 196l1 1 4 0-1-3zM43 197l-3 2 4 2 1 0-1-4zM51 200l-5 0-1 1-1 0 2 2 3 0 2-2zM28 197l1 2 4 2 1-3 0-1-2 0zM38 202l1-1-5-3-1 3 1 0 3 1zM13 198l4 0-1-4-1 0-2 3zM23 198l-4 0-1 1 1 0 5 1 0-1zM33 201l-4-2-2 3 1 2 2 0 3 0 1-3zM34 201l-1 3 3 2 1-4zM13 198l2 4 1 1 3-2 0-2-1 0-1-1zM19 199l0 2 2 2 4-1-1-2zM27 205l4 3 1-1-2-3-2 0zM30 204l2 3 5 0-1-1-3-2zM38 213l6-2-2-1-4-1-2 2zM44 213l0-2-6 2 1 1zM46 215l3 0 1 0-4-4-2 0 0 2zM11 204l-1 0 1 1 3 2 2 0 0-2zM34 211l-3-2-2 0 0 4 1 1 2 0zM36 219l3 0-1-3-5-1-2 3 3 1zM45 218l-1-1-5-2-1 1 1 3 2 0 3 0zM12 213l-4-3-3 0 0 2zM29 219l-1 0 2 0zM9 216l-3-2-1-1-3 1 0 2 3 1zM11 219l-2-2 0-1-4 1 3 2 2 0z"/><path fill="#42f84a" d="M127 1l2 1 3 0 1-1-1-1-6 0zM116 5l2 0 2-3-4-1 0-1-4 3 2 2zM144 12l2 3 0-2zM80 0l1 0-2 0zM132 15l3 1 3-2-1-1-4 0zM79 2l1-2-1 0-5 0zM80 0l3 3 2 1 1 0-1-3-1-1-3 0zM144 22l-3-4-4 0-1 1 3 3zM132 19l-1 0-2 2 4 3 2-1zM76 5l-1 1 1 3 4-1-1-3zM76 9l3 2 3-2-2-1zM131 27l4 0-2-3-4 0-1 2zM87 13l-2 0-2 0-1 2 4 3 2 0 2-2zM58 11l6 1 0-2 0-1-4-1-1 0zM78 14l-3-1-4 2 3 2 1 0zM137 34l-5-3-3 2 7 2zM74 17l-3-2-3 1 3 3 3-1zM90 23l1 1 1 1 6-1 0-1-7-2zM41 8l-2 1 0 1 2 3 1 0 2-3zM61 17l1 2 2 1 2-1 0-2-4 0zM89 27l5 0-2-2-1-1-4 1zM32 7l-4 0 0 1 3 3 2 1 1 0 0-2zM70 21l-4-2-2 1 1 2 4 1zM72 20l-2 1-1 2 1 1 5 1 1-1 0-2-1-1zM86 29l1 0 2 0 0-2-2-2-1 0zM89 29l-2 0 2 3 1 0 4-1 0-1zM33 12l-2 3 2 1 1 1 3-1 0-3-3-1zM41 16l-1 1 1 2 3 0 1-2zM68 26l1 0 1-2-1-1-4-1-2 2 2 2zM100 37l1 1 5 2 1-2-2-2-4 0zM28 18l1 1 2 0 4 0-1-2-1-1-5 1zM48 21l-3-1 0 2 3 0zM50 20l-2 1 0 1 2 1 3 0zM2 10l0 2 1 0 6 1 0-1 0-1-2 0zM73 30l-4-1-2 1 4 3zM105 45l3-2-1-2-6-1-1 1 1 3zM111 48l2-2-1-1-1-2-3 0-3 2 2 2zM29 22l0-3-1-1-3 1 1 2zM112 49l-1-1-4-1 0 1 3 3zM117 48l-1-1-2 3 4 2 1 0 0-2zM53 35l-4-5-1 0-1 1-1 1zM24 24l-1 0-2 0 0 3 0 1 4 1 3 0zM55 35l-2 0-5 1 1 1 7 0 0-1zM60 40l4 3 2-1-3-4zM3 22l-1-2-1-1-1 0 0 4 1 1 1 0zM17 25l-2 3 3 1 2 0 1-1 0-1zM24 33l5-1 1-1-2-2-3 0zM56 37l-7 0 2 3 3 0 2-2zM96 55l2-1-1-1-3-1-3 1 1 1zM101 56l3-2-2-2-4 0-1 1 1 1 2 1zM18 29l0 3 6 1-4-4zM33 35l2 3 1 0 1-4-3-1zM42 37l-5 1 2 3 5-1-1-3zM88 53l3 5 2-1-1-3-1-1-2-1-1 0zM100 55l-2-1-2 1 0 3 1 0 2 1zM18 34l6 4 2-3-2-2-6-1 0 1zM32 40l-6-5-2 3 3 2zM46 42l-2-1-3 2 2 2 2 0 2-2zM62 46l-7-2-1 0 5 5 3 0zM97 61l0-3-1 0-3-1-2 1 0 1 5 2zM24 38l-6-4-1 1 0 3 6 1zM27 42l0-2-3-2-1 1 0 3 2 1zM41 43l-1-1-2 1-1 1 4 2 1 0 1-1zM46 46l-1-1-2 0-1 1 2 3 3 1zM71 56l5 1 1-2-1-2-3 0-2 2zM113 70l5 1 1-2-3-1-4 0zM17 38l-1 1 1 2 6 1 0-3zM42 46l-1 0-2 2 1 1 4 0zM118 72l-2 2 7 1zM72 60l5 3 0-4zM29 54l-2 1 0 1 4 2 2-2-2-2zM16 54l-2-1-1 0-2 2 1 1 3 2 2-1zM27 56l-5 1 0 1 4 3 2-1zM8 57l4-1-1-1-5-2 0 3zM17 62l2-2-1-2-1-1-2 1-1 2 0 1zM101 85l-4-1-2 3 1 0 7 1zM4 63l5 0-1-3-5 0zM3 65l5 1 4-1-3-2-5 0zM16 67l-1 3 5 1 1-2-3-2zM29 75l1 1 5 0 0-2-2-1-1-1zM41 78l-1-2-3-2-2 0 0 2 2 3zM87 94l2 0 2-2-1-1-7-2 0 1zM97 95l0-2-2-2-2 0-2 0-1 0 1 1zM4 69l5-1-1-2-5-1-1 0 0 3zM47 79l-6-1 2 3 2 1zM1 68l-1 4 4 1 2-1-1-2-1-1-2-1zM108 107l0 1 4-2-1-1-6-1zM104 107l4 0-3-3-2-1-2 1zM9 77l-4-2-2 1 3 3 1 1 2-2zM47 95l1-1 0-4-3-1-2 1zM53 92l-5-2 0 4 6 1 1-1-1-1zM130 115l-4 2 3 2 4-3zM9 78l-2 2 1 2 5 2 0-4zM41 91l-4-3-2 0 0 3 2 1zM41 95l5 1-5-5-4 1 0 1zM66 102l1-2 0-1-4-2-1 0 1 4zM8 82l-1 0 0 3 1 1 4 0 2-2-1 0zM14 85l0-1-2 2 0 1 3 2 2-1-1-3zM76 107l2 3 3 0 2-2-4-2-1 0zM15 90l0-1-3-2-2 2 0 1 4 1zM2 90l-1-3-1 0 0 4zM14 94l0-3-4-1 1 3 0 1zM11 93l-5-1-1 2 2 2 2 1 2-1 0-2zM7 96l-2-2-4-1 0 3 1 1zM42 113l0-4-4 0 0 2 2 2zM43 109l-1 0 0 4 2 1 2-3zM46 111l-2 3 7 1-4-4zM139 145l3-1-1-2-1-1-5 0zM31 112l-2-2-1 0-1 1 2 3zM74 127l1 1 3 0 1-2-4-1zM107 134l-1 0-6-2 2 5 3 0 2-2zM109 136l-2-1-2 2 2 2 3 0zM143 145l0 3 2 2 1-1 0-3zM29 115l0-1-2-3-3 0 1 2 2 2 1 0zM34 112l-3 0-2 2 0 1 3 0 4 0zM56 123l2 3 2-1-3-3zM99 131l-1 0-1 4-1 0 3 2 1 0 2 0-2-5zM2 110l0-1-2-2 0 3zM14 110l-2-1-4 0 0 2 6 1zM58 126l-1 1 7 1 1-1-1-2-4 0zM125 147l-2-2-3 0-1 2 2 2 2 0zM129 150l1-1-1-1-4-1-2 2 2 2zM115 150l1-1 0-2-1 0-4 0-1 1zM2 115l2-1-4-2 0 2zM49 130l3 0-1-2-2-1-4 1zM107 150l5 3 2 0-4-5-2 1zM132 159l-1-1-2-1-1 0-2 3 3 1 2 0 1-1zM5 123l1-2-6-2 0 3zM85 147l-2 2 1 1 3 1 3-1zM93 150l0-1 0-1-2-1-6-1 0 1 5 3zM105 153l-2 2 1 2 4-2 0-1zM43 138l1-2-5-3-1 0-1 3zM108 155l-4 2 0 1 3 1 3-2zM107 161l0 2 2 2 4-1 1 0-6-3zM83 153l-6-2-1 2 0 1 5 2 2-2zM81 156l1 1 2 1 2 0 0-2-3-2zM56 153l1 0 2 0 0-4-1 0-3 0-1 1zM99 167l5 2 1-1 0-2-5-3-1 1zM74 158l-5-3-2 1 2 3 4 1zM95 166l-1 0-4-3 0 3 2 2zM11 143l4 0 0-1-5-2-1 0 1 3zM29 146l-4 1 0 1 0 1 4 1 2-1 1 0zM49 158l1-2 0-2-6-1 0 3 3 1zM57 158l-5-4-1 0-1 0 0 2 6 3 1 0zM58 157l-1-4-1 0-4 1 5 4zM138 184l1 3 4 0 1-1zM25 149l-1 3 4 2 3 0 1-1-3-3zM41 159l6-2-3-1-3 1zM140 190l5 1 1-2-3-2-4 0-1 1 0 1zM55 164l2-1-3-4-3 1 0 2 2 1zM98 176l0-3-1 0-5 0-1 2zM140 190l-2-1-5-1 0 1 4 3 2-1zM1 150l0-2 0-1-1 0 0 3zM1 150l0 3 2 1 5-2-1-1zM4 156l3 1 3-3 0-1-2-1-5 2 0 1zM58 170l-1 1 3 2 2 0 1-2-4-2zM110 184l-4 0-2 1 4 3 1 0 2-2zM3 154l-2-1-1 0 0 2 3 0zM8 158l3 0 0-3-1-1-3 3zM11 158l4 2 0-1-4-4zM50 168l-1 0 1 4 4 2 1-3-2-1zM121 194l-2 1 1 1 4 1 3-1 0-2-2-1zM146 200l-3-2-3 1-1 0 2 3 1 0 2 1 2 0zM1 158l2 2 4-1 1-1-1-1-3-1zM33 169l-4-4 1 4 2 0zM60 175l-6-1 0 1 1 2 6 1-1-2zM105 193l1 1 5 0 0-2-3-2zM144 203l1 2 1 1 0-3zM33 174l-1-5-2 0-2 2 3 3 1 0zM145 205l-1 1 2 2 0-2zM10 168l2-1-3-1-4 0zM28 171l-5-2-3 1 0 1 5 2zM30 176l1-2-3-3-3 2 0 3 1 0zM51 181l-3-4-4 0 3 4 1 0zM111 200l-1-2-3-2-1 0 1 4zM37 181l4 0 1-1-1-3-4 0-1 0-1 2 0 1zM1 171l1-2-2-2 0 4zM36 183l1 1 4 1 2-2-2-2-4 0zM64 191l-4-3-2 0-2 2 3 2zM83 195l-4-2-2 1 3 4 3 0zM102 204l0-1-2-2-2-1-4 2 7 2zM29 182l-4-2-1 1 1 3 3 0 2 0 0-1zM115 211l1-1 0-1-3-1-4 2 3 2zM130 217l0 1 4 1 1-2-2-2-1 0zM31 185l-1-1-2 0 0 4 0 1 3-1 1-1zM35 188l1 4 3-1-2-3zM76 203l1 0-2-3-1 0-1 1zM28 190l0-1 0-1-5-2-2 3 2 1zM36 193l-5-5-3 1 0 1 7 3zM47 194l-4-1-3 1 3 3 1 0 1 0 3 0 0-1zM112 217l3-2-2-1-4 0zM31 194l1 3 2 0 2-1 0-2 0-1-1 0-4 0zM49 203l3 2 3-3-1 0-3-1zM21 195l-2 3 4 0 0-3zM42 204l4-1-2-2-4-2-1 2-1 1zM11 198l-3-4-3 0 1 3zM29 199l-5 0 0 1 1 2 2 0zM41 206l2 2 3 1 0-2-4-2zM13 202l2 0-2-4-2 0-1 3zM25 205l2 0 1-1-1-2-2 0-4 1zM38 208l0 1 4 1 1-2-2-2zM42 210l2 1 2 0 1-1-1-1-3-1zM70 217l-5-2-1 3 5 0zM9 203l1 1 1 0 2-2-3-1-2 0zM16 203l-1-1-2 0-2 2 5 1 0-1zM29 209l2 0 0-1-4-3-2 0 0 3zM57 219l-1 0 2 0zM9 209l-1-2-3-2-4 2 1 1 3 2 3 0zM8 207l1 2 4 0 1-2-3-2zM26 214l2 1 2-1-1-1-4-1zM50 219l-5-1-1 1zM21 213l-1-1-1-1-4 0 0 2 2 1zM2 214l-2-1 0 3 2 0z"/><path fill="#5ae65c" d="M136 5l-3 0-1 1 2 3 5 0 0-1 1-1-1 0zM134 9l3 4 1-1 1-3zM137 13l-3-4-1 0-1 4 1 0zM138 12l-1 1 1 1 4 1 1-3zM142 15l1 2 2 0 1 0 0-2-2-3-1 0zM146 17l-1 0 1 6 0-5zM146 23l-1 0 1 1zM79 5l3 1 3-2-2-1-4 0zM97 10l0-2-1-1-1 0-3 2 3 3zM126 18l-1 2 3 1 1 0 2-2-1-1zM146 24l-1-1-1-1-5 0-1 1 2 3 1 0 3-1zM129 24l4 0-4-3-1 0 0 2zM70 6l1 2 1 1 2 1 2-1-1-3zM83 13l2 0-2-3-1-1-3 2zM93 16l1 0 1-3-5-2-3 2 3 3zM132 31l4-1 1-2-2-1-4 0 0 3zM51 2l-2 3 2 1 4 1 0-4zM64 6l-4-1 0 3 4 1 0-1zM74 10l-2-1-6 2 3 1 5 0zM80 15l2 0 1-2-4-2-1 3zM93 16l1 4 4 1 1-2-5-3zM122 27l3 2 1 0 1-3-2-1zM126 29l5 1 0-3-3-1-1 0zM74 12l-5 0 2 3 4-2zM80 15l-2-1-3 3 3 2 2 0zM81 20l3 0 1 0 1-2-4-3-2 0 0 4zM85 20l1 1 4 2 1-2 0-1-3-2-2 0zM94 20l-3 0 0 1 7 2 0-2zM125 29l0 1 4 3 3-2-1-1-5-1zM64 13l-3 1 1 3 4 0 2-1zM86 21l-1 4 1 0 1 0 4-1-1-1zM135 37l1-2-7-2-1 1 4 4 1 0zM45 14l2 1 4-3-3-2 0 1zM114 36l0-3-5-1 0 1 2 3zM41 13l-1 0 1 3 4 1 3 0-1-2-2-1-3-1zM56 20l2 0 4-1-1-2-3-1-3 1zM64 20l-2-1-4 1 1 2 6 0zM82 26l-6-2-1 1 0 1 5 2 3 0zM40 13l-3 0 0 3 3 1 1-1zM69 29l4 1 1-1-5-3-1 0zM83 32l-3 0-2 2 2 1 3-1zM32 22l-1-3-2 0 0 3 1 1zM35 19l-4 0 1 3 5 1-1-3zM36 20l1 3 6 1 1-1-4-3zM134 50l-2-1-2 0-1 0-1 1 4 3 2 1zM57 31l-4-4-1 0-3 3 7 2zM62 32l-4-1-1 0-1 1 6 3 1-1zM89 47l2-3-5-1 2 3zM107 48l-3 1 1 1 2 2 3 0 0-1zM124 56l2-1-1-1-6-2-1 0-1 1 1 2zM6 26l5 0 0-1-4-2-1 2zM15 24l-3-1-1 2 0 1 1 0 2 2 1 0 2-3zM48 36l-5 1 5 3 3 0-2-3zM60 40l-1 0-2 3 6 1 1 0 0-1zM87 49l2 3 2 1 3-1 0-1-5-4zM123 62l-2-3-3-1-2 3 0 1 5 1zM7 29l5-3-1 0-5 0zM24 33l2 2 2 0 2-1-1-2zM30 34l-2 1 7 3-2-3zM67 45l-3-1-1 0 0 2 5 2 1-1zM77 50l1 2 3 1 3-1-2-3-5 0zM81 53l1 1 3 1 3-2 0-1-4 0zM0 26l0 4 2 1 2-2zM53 44l-6-1-2 2 1 1 6 2zM68 48l-5-2-1 0 0 3 4 2 2-1zM16 39l1-1 0-3-5-1-1 1 4 3zM68 50l-2 1 0 2 5 2 2-2-1-1-3-1zM37 47l2 1 2-2-4-2-1 1 0 2zM21 44l2 2 4-1-2-2zM44 49l-4 0 1 3 3 0zM110 72l-1 3 3 0 1-2 0-1zM118 78l5-2 0-1-7-1 1 4zM21 55l1 2 5-1 0-1-4-2-1 0zM22 58l0-1-1-2-5-1 1 3 1 1zM33 60l-2-2-4-2 1 4 2 1zM30 61l-2-1-2 1-1 1 3 2 4-1zM83 80l-5-3-1 0 1 4 3 0zM103 88l-7-1 2 3 2 1 3-1zM28 70l4 2 1 1 2-2-2-2-5-1zM42 72l-2-1-3 3 3 2 3-1 1-1zM97 93l3 0 0-2-2-1-3 1zM30 77l1 1 6 1-2-3-5 0zM45 82l1 1 4 1-1-4-2-1zM13 75l2-2-4-2-3 2 3 3zM42 85l2 1 2-3-1-1-2-1-2 1zM48 90l2-3-6-1 1 3zM109 109l-1-1 0-1-4 0-1 1 0 2 3 2 1 0zM51 98l2 0 1-3-6-1-1 1-1 1zM37 92l-2-1-4-1-2 3 6 2 1 0 1-2zM36 95l4 3 1 0 0-3-4-2zM53 101l2 1 3-2-5-2-2 0 0 2zM67 105l0-2-1-1-3-1-2 0 0 2 5 3zM109 117l-1-1-1 0-3 2 3 2zM146 128l-7-2 0 1 2 2zM1 87l2 0-1-3-2-1 0 4zM2 84l1 3 3 1 2-2-1-1-4-1zM12 86l-4 0-2 2 1 1 3 0 2-2zM26 94l1-1-2-2-2-1-2 0-2 2 1 3zM28 93l4 5 1 0 2-3-6-2zM131 128l1-1-1-1-5 3 1 0zM11 99l1 1 4-2-2-1-3-1-2 1 0 1zM19 98l-1 1 0 2 5 2 2-2 0-1zM72 116l-5-2-1 3 6 3 0-1zM100 128l0 1 4 1 2 1 3-2-1-1-2-1zM109 129l-3 2 2 2 3 0 1-2zM13 103l1 0-2-3-1-1-3 3zM23 103l-2 2 3 2 3 1 2-1 0-1zM38 111l0-2-2-1-1-1-2 1 0 1 1 2zM3 99l0-1-1 1-2 2 3 2 4-1zM7 102l2 3 2 0 2-2-5-1zM40 113l-2-2-4 0 0 1 2 3 1 0zM137 147l1 1 1 0 4 0 0-3-1-1-3 1-2 1zM3 103l0 2 1 1 1 1 4-1 0-1-2-3zM36 115l-4 0 3 4 3-4-1 0zM45 116l-1 1 1 2 5 1 1-1 0-1zM66 123l-2 0 0 2 1 2 5 1 1-3zM107 140l0-1-2-2-3 0-2 0 1 2zM32 115l-3 0-1 0 0 3 5 2 2-1zM35 119l1 1 2 0 2-3-2-2zM75 133l-3-4-2-1-1 3 3 3zM111 147l-2-2-2-1-3 2 0 1 4 2 2-1zM8 119l0-4-4-1-2 1 0 1 5 4zM99 146l-3-3-2 0-1 1 1 2zM125 151l-4 2 7 1zM14 121l-3-2-3 0-1 1 0 1 5 2zM40 132l6 0 0-1-3-2zM93 149l5 0 1-3-5 0-1 2zM118 154l-1 3 3 2 3 0 0-3-4-3zM124 160l0 2 4 1 1 0 0-2-3-1zM129 161l0 2 4 2-2-4zM20 130l-2-3-3-1-2 2 2 2zM89 153l-1 0-5 0 0 1 3 2 2 0zM39 142l0-2-3-2-4 2 0 1 4 2zM80 160l4 0 0-2-2-1-4 2zM25 147l4-1 1 0-2-2-5-1zM60 156l-2 1-1 1 0 1 1 0 4 0 2 0-1-1zM98 173l1 0-2-4-3 0 3 4zM111 177l2-1-1-2-2-1-2 1-2 0 2 2zM25 148l-5-1-1 0-2 2 0 1 5 2 2 0 1-3zM64 164l-2-5-4 0 2 4 2 1zM62 159l2 5 2-1-1-4-1 0zM94 169l-1 0-2 3 1 1 5 0zM22 152l-5-2 0 3 0 1 4 0zM37 159l3 0 1 0 0-2-2-2-1 0-3 3 1 1zM66 169l5 1 1-2-1-2-4 0zM80 172l2 0 0-3-5-1-2 1 0 2 2 1zM99 177l-1-1-7-1 3 3zM21 154l-4 0-1 1 1 0 4 2 2 1 0-2zM131 189l-2 2 6 3 0-1zM146 195l-4 0 1 3 3 0zM0 150l0 3 1 0 0-3zM10 153l0 1 1 1 4 4 1 0 1-4-1 0-5-2zM50 167l0 1 3 2 3-2 0-1zM135 194l-3 1 2 2 1 1 4 1 1 0-3-4zM105 189l2 0 1-1-4-3-2 2zM127 196l3 4 4-3-2-2-5-1zM1 158l-1-2 0 2zM4 161l6 1-3-3-4 1zM29 165l-3 0-1 1 5 3zM61 180l1-1-1-1-6-1 0 1zM86 187l5 3 0-1-1-3zM97 189l1 1 6 3 1 0-2-3-5-2zM103 190l2 3 3-3-1-1-2 0zM23 169l-2-3-3 0-1 1 3 3zM47 181l-3-4-2-1-1 1 1 3zM67 188l4-1-1-2-1 0-4 2zM119 203l1 3 4 1 2-2-1-2zM135 210l3-1-1-2-5-1zM4 168l1-2-1-1-4 0 0 2 2 2 2 0zM22 175l-3-3-3 0-1 1 4 3zM2 169l-1 2 1 0 6 1-4-3zM7 175l3 0 1-2 0-1-3 0-6-1zM53 188l1 1 2 1 2-2-5-2zM71 195l-1-3-1-1-2-1-2 1 3 4zM77 199l1 0 2-1-3-4-4 1zM133 215l1-3-7 0-1 1 6 2zM25 179l-6-2 1 3 4 1 1-1zM42 188l0-1-1-2-4-1-1 1 2 3zM83 198l-3 0-2 1 2 2 3 1 1-3zM23 186l5 2 0-4-3 0zM39 191l3 0 0-3-4 0-1 0zM42 188l0 3 1 2 4 1 1-1 0-3zM80 204l0-3-2-2-1 0-2 1 2 3zM121 218l3 1 4 0-3-3-3 0zM36 193l0 1 4 0 3-1-1-2-3 0-3 1zM73 204l1 1 5 0 1-1-3-1-1 0zM36 194l0 2 4 3 3-2-3-3zM45 197l1 3 5 0-3-3zM23 192l-5 1 3 2 2 0 3 0 0-1zM40 199l-4-3-2 1 0 1 5 3zM4 193l1 1 3 0 2-1 0-1-1-1-2-2-2 0-2 2zM18 199l1-1 2-3-3-2-1 0-1 1 1 4zM26 195l-3 0 0 3 1 1 5 0-1-2-1-1zM46 207l3 0-3-4-4 1 0 1zM10 193l-2 1 3 4 2 0 0-1zM36 206l1 1 1 1 3-2 1-1 0-1-4-2-1 0zM10 201l1-3-5-1-3 1 4 3 1 0zM20 205l1-2-2-2-3 2 0 1zM24 208l1 0 0-3-4-2-1 2zM5 205l3 2 3-2-1-1-1-1zM16 205l0 2 3 2 5-1-4-3-4-1zM19 209l0 2 1 1 4-1 0-3zM24 211l1 1 4 1 0-4-4-1-1 0zM16 207l-2 0-1 2 2 2 4 0 0-2zM23 215l3-1-1-2-1-1-4 1 1 1zM12 213l0 1 3-1 0-2-2-2-4 0-1 1zM5 213l1 1 6-1-7-1z"/><path fill="#ee46dc" d="M136 77l-3 2 7 2-3-4zM101 72l3 0 2-1-1-3-6 0 0 2zM133 90l-3 0-2 1 1 2 7 1zM107 140l-6-1 1 3 1 0zM50 166l-4-3-2 0 1 5 4 0 1 0 0-1z"/><path fill="#e04ed6" d="M139 76l0-2-5-1 2 3 0 1 1 0zM100 73l1-1-2-2-5 1-2 1zM6 51l2-2-1-1-3-1-2 0 1 2zM64 66l0 2 1 0 2 2 3 1 1-3-1 0-3-2zM2 52l-1-2-1-1 0 3zM6 53l1-1-1-1-3-2-2 1 1 2zM6 53l-4-1-2 0 0 2 0 1 5 1 1 0zM121 93l3 3 4 1 1-3-7-2zM132 96l-3-2-1 3 4 2 2-1zM129 104l3 0 1-2-1-1-4-1-2 1 0 1zM91 162l-1-2-4-2-2 0 0 2 3 2 3 0zM41 177l1-1-5-3-1 1 1 3z"/><path fill="#f83ce8" d="M93 67l-3-2-2 1 0 1 4 2zM94 71l5-1-6-3-1 2zM2 47l2 0-1-3-3-1 0 4zM3 44l1 3 3 1 2-2-2-2-1-1zM67 64l0 2 3 2 2-3-3-2zM1 50l2-1-1-2-2 0 0 2zM138 95l0-1-2 0-7-1 0 1 3 2zM77 84l-4-1-1 0-1 1 6 3 1-3zM50 172l-1-4-4 0-1 0 1 1 4 3zM45 169l-1-1-1 0-3 2 0 1 3 2 2 0z"/><path fill="#965ff5" d="M116 0l0 1 2-1-3 0zM99 2l-2 1 1 3 3-1 1-1 0-1zM96 7l2-1-1-3-5 0 0 2 3 2zM115 10l-1-1-4 0 3 3 2 0zM66 1l0-1-2 0zM102 13l3 1 2-2-2-2-2-1-2 3zM70 3l-4-2-1 3 0 1 5 1zM114 19l4 3 1-2-4-3zM55 3l5 2 1-3-4-1zM90 11l-1 0-5-2-1 1 2 3 2 0zM23 2l1 1 1 0 1 0 3-3-6 0zM18 0l-2 0 2 1zM18 1l1 1 4 0 0-2-5 0zM116 30l-3-2-1 0-3 1 0 1 0 2 5 1 2-1zM17 4l1 1 4 0 2-2-1-1-4 0zM94 41l4 2-2-4-1 0-2-1zM100 44l-2-1-4-2-1 1 0 1zM94 51l2-2-3-2-4 0zM87 70l-3 0-2 1 1 3 2 0 2-1 1-2zM82 71l-5 0 0 2 3 2 3-1zM5 56l-5-1 0 4 3 0zM62 77l3-1 0-2-5 0-2 1 1 1zM2 65l1 0 1-2-4-2 0 4zM12 65l-4 1 1 2 1 1 1 0 3-3zM129 106l0-2-3-2-1 0-1 2 1 2zM124 108l-1 0-1 2 1 2 2 1 3-1-1-2zM118 113l2 1 5 0 0-1-2-1-5 0zM135 117l1 3 4 1 2-3-3-2-2 0zM18 81l-4 4 2 0 1 0 3-2 0-1zM46 96l1-1-4-5-2 1zM121 117l-7-1 0 2 7 2 1 0zM110 121l4-3-5-1-2 3 1 1zM33 98l1 1 4 1 2-2-4-3-1 0zM48 102l3 0 2-1-2-1-4-1 1 2zM85 115l4-2-6-2-1 0 2 3zM100 116l-2 1-1 2 5 2-1-4zM116 122l-2-4-4 3 3 2zM30 99l4 3 0-3-1-1-1 0-1 0zM40 103l-2-3-4-1 0 3 5 1zM73 110l-1-1-4 0-2 1 2 3 3 0zM77 117l-1-2-2 0 1 4zM87 118l-5 0-1 1 1 1 2 0 5-1zM97 122l-1 1 4 2 2-2zM51 115l0-1 0-3-3-1-1 1zM75 125l4 1 3 0-3-4-5 2zM56 123l1-1 0-1-6-2-1 1 0 1 3 3zM115 139l-1 1 1 3 1 0 4-1-1-3-1 0zM33 120l0 2 2 2 2 0 3 0-4-4-1-1zM67 137l-1-3-1-1-4 0 1 2 3 2zM34 125l-6-1 0 2 5 1zM12 123l-5-2-1 0-1 2 0 1 5 1zM59 141l-5-1 0 3 5 0zM66 149l-2-1-1 0-2 2 4 3 3-1zM100 163l0-1-6-2-2-1-2 1 1 2 4 1 4 1zM94 166l1-3-4-1-1 0 0 1zM87 166l-2-2-1 0-2 3 0 1 5 0zM72 177l-3 0 3 4 1 0 2-3zM78 184l-2 0 0 3 2 1 3 1 1-1 0-1zM82 187l0 1 4 3 3-1-4-3zM4 165l1 1 4 0 0-2-5-1zM126 209l4 0 0-2-4-2-2 2zM92 202l-4-1-1 1 4 4 1-1zM85 205l5 1 1 0-4-4-2 1zM121 218l-3 0 0 1 6 0zM39 214l-1-1-2-2-2 0-2 3 1 1 5 1 1-1z"/><path fill="#8867ef" d="M73 2l3 3 3 0 0-2 0-1-5-2zM92 9l3-2-3-2-4 0 0 3zM121 19l-2 1-1 2 0 1 5 0 1-1 0-2zM29 0l-3 3 6 0zM11 3l1 0 3 2 2 1 1-1-1-1-5-3zM91 37l2 1 2 1 4-2-5-2-2 0zM101 47l-1-1-6 0-1 1 3 2 1 0 2 0zM84 80l-1 0-2 1 1 1 5 2 2-1-1-2zM1 68l1 0 0-3-2 0 0 3zM125 106l-1-2-5-1 0 2 2 2 2 1 1 0zM134 108l-1 0-1 1 1 1 4 2 2-1zM137 112l0 2 0 1 7-1-5-3zM121 107l-2-2-6 0 0 1 4 2zM129 119l-5 1 3 3 2-1 1-2zM61 103l0-2-3-1-3 2 1 1 5 1zM123 120l-1 0-1 0-1 2 4 3zM56 103l0 2 5 1 0-2zM86 115l6 2-1-3-2-1-4 2zM57 110l3 0 0-1-4-3-3 0-1 1 1 1zM76 115l2-2-1-2-4-1-2 3 3 2zM108 124l-2-2-3 0-1 1 3 2zM122 126l-2 0-1 0-4 2 5 2zM30 99l0 4 1 1 3-2zM74 115l-3-2-3 0-1 0 0 1 5 2zM82 118l0-2-6-1 1 2 4 2zM82 120l-1-1-4-2-2 2 0 1 4 1 2 0zM100 125l-4-2-2 1 1 1 5 3zM51 115l0 3 0 1 6-2zM130 141l-2-2-4 1 2 3 3 1zM116 143l4 2 3 0 1-1-4-2zM33 127l-5-1 0 1 2 2 4 0 1 0zM32 133l3 3 1 0 1 0 1-3-5-1zM31 139l1 1 4-2 0-2-1 0-4 0-1 1zM59 143l-5 0-1 0 0 2 5 1 2 0 0-2zM90 163l0-1-3 0-2 2 2 2 3 0zM72 171l-1-1-5-1 0 1 2 3 4 1zM135 201l2 1 4 0-2-3-4-1zM85 185l-3-4-1 0-3 3 4 3zM119 195l-3 1 4 4 1-1-1-3zM136 203l1-1-2-1-5-1-1 0 0 1 4 3zM72 181l-6 0 2 3 1 1 1 0 5-2-2-2zM106 194l1 2 3 2 3-2-1-1-1-1zM113 196l-3 2 1 2 2 0 1-1 0-3zM114 196l0 3 5 1 1 0-4-4zM81 189l0 2 5 1 0-1-4-3zM128 203l-3 0 1 2 4 2 2-1zM130 207l0 2 4 2 1-1-3-4zM10 170l0-2-5-2-1 2zM77 189l-3 1 1 2 2 2 2-1 1 0zM81 212l3-2 0-1-3-1-5 1 3 3zM83 214l4 0-3-4-3 2z"/><path fill="#a055ff" d="M97 0l2 2 3 1 3-2 0-1-1 0zM105 1l-3 2 0 1 3 1 4 0-2-3zM117 15l-3 1 1 1 4 3 2-1 0-3-1 0zM66 1l-2-1-1 0-2 2 4 2zM124 22l4 1 0-2-3-1-1 0zM65 4l-4-2-1 3 4 1 1-1zM114 19l0 3 3 1 1 0 0-1zM123 23l2 2 2 1 1 0 1-2-1-1-4-1zM33 3l-1 0-6 0-1 0 2 2 6-1zM27 5l-2-2-1 0-2 2 2 2 2 1 2 0 0-1zM22 5l-4 0-1 1 4 1 3 0zM28 8l-2 0-1 2 2 2 4-1zM25 19l3-1 0-1-3-3-3 2 0 1zM93 47l1-1-1-2-2 0-2 3zM84 66l-3 0 0 2 3 2 3 0 0-3zM77 77l1 0 2-2-3-2-2 0-2 2 3 2zM80 75l-2 2 5 3 1 0-2-3zM71 79l5-2-3-2-2 0-1 3zM8 60l1-2-1-1-2-1-1 0-2 3 0 1zM78 81l-1 3 1 0 3 1 1 0 0-3-1-1zM4 63l-1-3 0-1-3 0 0 2zM133 110l-1 2 5 2 0-2zM128 112l-3 1 0 1 1 3 4-2zM132 112l-4 0 2 3 3 1 2 1 2-1 0-1 0-1zM13 80l0 4 1 0 0 1 4-4-2-1zM109 117l5 1 0-2 0-1-2-1-4 2zM122 117l-1 0 1 3 1 0 1 0 5-1-3-2zM42 99l3-1 1-2-5-1 0 3zM88 110l-5 1 6 2 0-2zM120 122l1-2-7-2 2 4 2 1zM61 106l2 1 3-1-5-3 0 1zM118 123l-2-1-3 1 0 1 6 2 1 0zM122 126l2-1-4-3-2 1 2 3zM56 105l0 1 4 3 3 0 0-2-2-1zM86 115l-1 0-1-1-1 1-1 1 0 2 5 0zM102 123l-2 2 0 3 6-1-1-2zM106 127l2 1 5-2-1 0-4-2-3 1zM51 111l0 3 6 0 0-1-1-1-3-1zM74 115l-2 1 0 3 3 1 0-1zM71 121l1-1-6-3 0 5zM78 128l2 1 4 1 1 0 0-2-1-2-2 0-3 0zM124 144l2-1-2-3-5-1 1 3zM115 143l-1 0 1 4 1 0 3 0 1-2-4-2zM41 124l2-1 0-1-5-2-2 0 4 4zM35 124l-2-2-4 0-2 1 1 1 6 1zM36 129l2-1-1-4-2 0-1 1-1 2 2 2zM43 129l0-2-2-3-1 0-3 0 1 4zM10 125l-5-1 0 2 5 2 3 0zM36 143l-4-2-4 2 0 1 2 2 4 0 2-2zM45 147l-1 0-8-4 0 1 4 4zM82 167l-4-2-2 1 1 2 5 1 0-1zM72 177l0-3-4-1 0 4 1 0zM68 177l-1 0-2 3 1 1 6 0-3-4zM12 167l1 0-1-5-1 0-2 2 0 2zM132 206l1-2-4-3-1 2zM113 200l3 3 3 0 0-3-5-1zM8 172l3 0-1-2-6-2 0 1zM123 212l3 1 1-1-1-3-4 0zM83 202l-3-1 0 3 4 1 1 0 0-2zM31 218l2-3-1-1-2 0-2 1zM34 219l-3-1-2 1 1 0z"/><path fill="#f0323c" d="M118 72l0-1-5-1 0 2 0 1 3 1zM136 150l5 2 1-1-3-3-1 0zM110 157l-3 2 7 2-1-2-2-2zM128 163l0 3 4 1 1-2-4-2zM114 161l-7-2 1 2 6 3 1-2zM133 170l1-2-2-1-4-1 2 4zM115 174l2 3 4 0 1-2-5-2z"/><path fill="#e23a36" d="M138 158l3-1-1-1-3-2-2 2zM113 159l1 2 1 1 1 0 0-4zM115 168l-2-4-4 1 0 1 1 1zM120 166l-6-2-1 0 2 4 4 0 2-1zM120 170l-1-2-4 0-1 2 2 2zM128 173l-1-1-4 0-1 3 3 1 4 1 0-1 0-2zM106 169l4 4 2-3-2-1zM71 164l1 1 4 1 2-1-1-2-2-1z"/><path fill="#fa2848" d="M110 72l3 0 0-2-1-2-3-1-2 1zM135 153l2 1 3 2 2-2-1-2-5-2zM135 156l2-2-2-1-4 0-1 1zM144 163l0 2 2 1 0-3zM78 159l4-2-1-1-5-2-1 2 1 1zM110 169l2 1 2 0 1-2-5-1zM117 173l5 2 1-3-3-2-4 2z"/><path fill="#3cee91" d="M137 115l0 1 2 0 6-2-1 0zM80 103l-1 3 4 2 3 0 0-1-5-4zM103 110l-4 0-1 2 2 2 5 0 1-2zM48 101l-1-2-2-1-3 1 2 2zM10 90l0-1-3 0-1 3 5 1zM101 145l0-3-4-1-1 2 3 3 1 0zM49 141l1-3-5-2-1 0-1 2 1 1zM36 143l8 4 0-2zM4 144l3 2 4 0 0-3-1 0-5-1zM34 158l-3-4-3 0-1 1 2 2 2 1zM37 173l-4-4-1 0 1 5 3 0zM13 167l-1 0 4 5 0-5zM55 198l-4 2 0 1 3 1 2-4z"/><path fill="#2ef68b" d="M136 54l-1 0 0 4 2 1 3-1zM135 58l-4 0 1 2 2 1 1 0 2-1 0-1zM28 35l-2 0 6 5 3-2zM126 80l0-1-3-3-5 2 4 3zM77 99l-3 0 2 2 3-2zM136 165l3 3 1 0 1 0 1-3-3-2-2 1zM73 148l-1-2-2-1-3 1 0 1 5 1zM109 210l4-2-2-1-5 2 1 1z"/><path fill="#46e49d" d="M114 9l1 1 6 0 0-1-2-1-4 0zM56 0l1 1 4 1 2-2zM116 39l-5-1 5 3 1 0 0-1zM80 59l5 1 0-2-3-2-2 0-1 3zM100 114l-2-2-2 0-1 2 2 2 1 1 2-1zM43 127l0 2 3 2 3-1-4-2zM67 146l3-1-1-2-3-1-2 2zM56 168l-3 2 2 1 2 0 1-1zM120 189l-5-2-1 3 1 1 3 0z"/><path fill="#fcfcfc" d="M133 1l2 1 2 0 1-2-6 0zM144 3l2 1 0-2zM118 5l5 3 2 0-4-5-1-1zM121 9l2-1-5-3-2 0 3 3zM89 1l-1-1-4 0 1 1zM89 1l3 2 1-2-2-1-3 0zM100 14l2-1-1-1-4-2-2 2 0 1 3 1zM106 15l-1-1-3-1-2 1 3 3zM98 14l-3-1-1 3 5 3 3 0zM103 19l0-2-3-3-2 0 4 5zM103 23l4 2 2 0-1-5-4-1zM54 9l4 2 1-3-4-1zM98 23l0 1 2 1 1 0 2-2-5-2zM12 0l1 0-2 0zM48 11l0-1 0-1-2-2-3 0-2 1 3 2zM94 27l6 1 0-3-2-1-6 1zM144 39l-2 0-3 2 0 2 6-2zM8 2l3 1 1-2 0-1-1 0-3 0zM34 7l0-2-1-1-6 1 1 2 4 0zM34 10l0 2 3 1 3 0 1 0-2-3zM8 5l0 1 7-1-3-2zM50 19l-2-2-3 0-1 2 1 1 3 1 2-1zM142 49l3 1 1 0 0-2zM44 19l-3 0-1 1 4 3 1-1 0-2zM86 33l-3-1 0 2 5 3 1 0zM45 22l-1 1-1 1 1 1 5 1 1-3-2-1zM77 35l1 2 2 1 6 1 0-1-6-3-2-1zM101 45l0-1-1-3-4-2 2 4 2 1zM120 46l-3-1-5 0 1 1 3 1 1 1zM37 23l-5-1-2 1 2 2 4 1zM41 28l3-3-1-1-6-1-1 3 1 1 3 1zM86 43l5 1 2 0 0-1 0-1-7-2-1 2zM65 35l-2-1-1 1-1 2 2 1 2 0zM53 35l-7-3 0 1 2 3zM63 38l3 4 3 0 0-3-4-1zM59 40l-3-2-2 2 3 3zM72 45l-5 0 2 2 2 1zM79 46l-2 2 0 1 5 0 0-1-1-2zM111 56l-3-1-1 3 6 1-1-2zM146 70l0-3-3 0zM57 43l-2 1 7 2 1 0 0-2zM108 61l2 1 5-1-2-2-6-1-1 0 0 1zM121 63l-5-1 1 2 5 2zM145 75l1 0 0-4-4 0-2 0 0 1 1 1zM33 41l5 2 2-1-1-1-2-3-1 0-1 0-3 2zM117 64l-1 1 0 3 3 1 1 0 3-2-1-1zM56 53l1-3-5-2-1 1zM97 65l3-1 1-1-4-2-1 0-1 3zM104 66l2-3-4-1-1 1-1 1zM93 67l4-2-2-1-4-2-1 3zM62 60l6 2 2-1 0-2-1-1-3-1-3 0zM88 67l-1 0 0 3 1 1 4 1 2-1-2-2zM58 61l-2 0 0 1 3 2 2 0 1-1-1-1zM14 53l-1-2-5-2-2 2 1 1 6 1zM69 73l1-2-3-1-4 2 2 1zM73 75l2-2-5-2-1 2 2 2zM96 83l4-2 0-1-6 0-1 0zM37 67l3 0 1-2-1-1-4-2-1 3 0 1zM57 71l-1-1-5-1-2 2 2 0 4 1zM73 80l5 1-1-4-1 0-5 2zM91 84l4 3 2-3-1-1zM56 75l-1 1-1 2 5 2 1 0-1-4-1-1-1 0zM78 84l-1 3 6 2 0-1-2-3zM83 88l0 1 7 2 1 0-2-4-2-1zM105 92l-1 2 2 2 5 1 0-1-4-4zM135 107l5 0 0-2-1-1-6 1zM145 105l-1 0 0 3 2 1 0-3zM11 69l4 1 1-3-2-1zM43 75l-3 1 1 2 6 1zM86 94l1 0-4-4-1 1zM104 97l2-1-2-2-3-1-1 3 2 1zM106 100l4 0 1-3-5-1-2 1zM119 101l-1 1 1 1 5 1 1-2zM139 111l1-1 0-2 0-1-5 0-1 1zM76 92l2 1 2 0 0-1-4-4-2 0zM97 96l0-1-6-3-2 2 1 2 1 1 5 1zM146 113l-1 1 1 1zM0 72l1-4-1 0zM127 110l1 2 4 0 1-2-1-1zM117 111l1 1 5 0-1-2zM142 118l3 4 1 0 0-4zM33 86l0-1-7-2 2 2 2 1zM98 106l0 2 1 2 4 0 0-2-4-2zM129 119l1 1 3 1 3-1-1-3-2-1zM35 91l0-3-2-2-3 0-2 2 1 1 2 1zM62 97l-3 0-1 3 3 1 2 0zM146 127l-5-3-1 0-1 1 0 1 7 2zM142 123l-1 1 5 3 0-3-1-1zM45 98l2 1 4 1 0-2-5-2zM133 124l-4-2-2 1 1 2 3 1zM52 107l1-1-2-4-3 0-1 2 2 3zM97 116l-5 1 0 1 4 2 1-1 1-2zM18 95l-4 2 2 1 2 1 1-1 0-3zM47 108l1 2 3 1 2 0 0-3-1-1-3 0zM68 113l-2-3-3-1-3 0 0 1 1 2 6 1zM84 120l4 3 2 0 1-1-1-2-1-1zM134 137l-1-2-5-1 3 3 1 1zM89 129l2 2 4-1-1-1-4-2zM25 113l-1-2-2 0-2 0 0 3 2 0zM28 115l-1 0-5-1-2 0 0 1 3 2 2 1 1 0 2 0zM142 151l-1 1 1 2 3 0 1 0 0-3zM15 114l-1-2-6-1 1 4 3 1zM13 117l4 2 1 0-1-4-2-1-3 2zM69 131l-4 0 0 2 1 1 6 0zM116 149l3 2 2-2-2-2-3 0zM16 121l1-1 0-1-4-2-2 2 3 2zM110 148l4 5 3 0-2-3zM129 154l-1 0-7-1-2 0 4 3 5 1 1 0zM25 127l3 0 0-1 0-2-1-1-2-1-1 0-2 1-2 2zM93 148l1-2-1-2-3-1 1 4zM104 151l1 2 3 1 3 0 1-1-5-3zM117 157l1-3-1-1-3 0-2 0-1 1 2 2zM39 132l0 1 5 3 1 0 2-3-1-1-6 0zM64 140l2 2 3 1 2-2-1-1-5-1zM71 141l-2 2 1 2 2 1 2-3-2-2zM78 145l0-1-4-1-2 3 6 1zM100 151l-2 3 5 1 2-2-1-2zM113 156l-2-2-3 0 0 1 2 2 1 0zM113 159l3-1 1-1-4-1-2 1zM54 140l0-1-4-1-1 3 2 1 2 1 1 0zM21 135l3 2 1 0 1-2 0-1-4-1zM44 139l-1-1-6-2-1 0 0 2 3 2 4-1zM107 159l-3-1-2 0-2 3 7 0 1 0zM94 160l6 2 0-1-3-3zM105 166l4 0 0-1-2-2-7-1 0 1zM126 168l-2 0 3 4 1 1 2-3zM75 156l-4-2-2 1 5 3 2-1zM95 163l-1 3 1 0 3 1 1 0 0-3zM105 168l1 1 4 0 0-2-1-1-4 0zM104 169l4 5 2-1-4-4-1-1zM143 181l-1-1-5-1 1 4 3 0zM32 149l-1 0 4 3 1-1-2-2zM78 165l4 2 2-3-4-2-3 1zM103 174l3 0 2 0-4-5-2 2zM143 187l3 2 0-4-2 0 0 1zM0 140l0 1 0 2 3 1 1 0 1-2 0-2zM29 150l3 3 2 0 1-1-4-3zM56 159l-2 0 3 4 3 0-2-4-1 0zM67 166l4 0 1-1-1-1-1-1-4 0-2 1zM108 176l-2-2-3 0 0 3 3 1 2-1zM45 160l4-1 0-1-2-1-6 2zM31 158l-2-1-3 1 4 3zM36 159l-1-1-1 0-3 0-1 3 1 1 1 1 1 0zM40 163l3 0-3-4-3 0 2 4zM57 166l-2-2-2-1-3 3 0 1 6 0zM88 177l0-2-5 1 0 2 1 1zM90 180l2 0 3 0-1-2-3-3-3 0 0 2zM98 182l3-2 0-2-2-1-5 1 1 2zM99 182l5 3 2-1-2-3-3-1-3 2zM30 161l-4-3-2 0 0 3 2 1 5 0zM63 171l-1 2 2 1 4-1-2-3zM92 180l0 3 2 1 5-2-1 0-3-2zM111 186l-2 2 5 2 1-3-1 0zM35 167l0 1 5 2 3-2-1-1-1 0zM65 176l-1-2-2-1-2 0 0 2 0 1zM68 173l-4 1 1 2 2 1 1 0zM114 190l-3 2 0 2 1 1 4-3-1-1zM13 162l2-2-4-2-3 0-1 1 3 3 1 0 1 0zM65 176l-5 0 1 2 1 1 3 1 2-3zM121 199l3 1 0-3-4-1zM124 197l0 3 5 0 1 0-3-4zM139 206l3-4-1 0-4 0-1 1 2 3zM4 163l0-2-1-1-2-2-1 0 0 4zM55 178l-7-1 3 4 3-1zM62 179l-1 1-1 3 1 1 7 0-2-3-1-1zM37 177l-1-3-3 0-1 0 4 3zM11 172l0 1 4 0 1-1-4-5-2 1 0 2zM92 197l2 0-5-3 0 3zM116 203l-2 0-1 2 5 3 1-1 1-1-1-3zM93 202l-1-5-3 0-1 0-1 2 1 2 4 1zM119 207l-1 1-2 1 0 1 6 2 1 0-1-3zM63 197l-1-1-3-2-1 0 0 2 2 3zM128 219l6 0-4-1zM112 218l0-1-3 0 0 2 3 0zM29 192l-3 2 0 1 1 1 4-2 0-1zM82 217l6-1-1-2-4 0zM85 219l-3-1-1 1zM23 216l0-1-2-2-4 1 2 1zM17 219l1 0 4 0 1 0 0-3-4-1z"/><path fill="#fcfcfc" d="M115 0l-6 0-1 1 4 2 4-3zM112 3l-4-2-1 1 2 3 2 1 2 0 1-1zM123 12l5 1 1-2-1-1-3-2-2 0-2 1 0 1 1 1zM97 3l2-1-2-2-1 0-2 0-1 1-1 2zM113 6l-2 0-2 2 1 1 4 0 1-1zM88 5l4 0 0-2-3-2-4 0 1 3zM120 12l-5 0 2 3 3 1zM126 18l4 0-1-2-5-1-1 1zM65 5l-1 1 0 2 7 0-1-2zM109 20l5 2 0-3-5 0zM39 0l-5 0 2 1 3 1zM32 3l1 0 3-2-2-1-5 0zM46 4l0 3 2 2 1 0 2-3-2-1zM120 28l-1-2-2-2-4 4 3 2 2-1zM128 34l1-1-4-3-2 2 0 1 2 2zM58 11l-2 2 2 1 3 0 3-1 0-1zM75 17l-1 0 0 1 1 2 3-1zM78 19l-3 1 0 1 1 1 4 0 1-2-1-1zM130 38l2 0-4-4-3 1zM68 16l-2 1 0 2 4 2 2-1-1-1zM94 27l-5 0 0 2 5 1zM120 36l3 3 2 0 0-3zM6 3l2 2 4-2-1 0-3-1zM83 24l-1 2 1 2 1 1 2 0 0-4-1 0 0-1zM111 36l-2-3-4 1 0 2 2 2 2 0 2-1zM111 37l-2 1 4 4 2 0 1-1-5-3zM136 45l-5-1 2 4 3 0 0-2zM59 28l2-1-1-2-5-1 0 1zM69 29l-1-3-3 0 0 3 0 1 2 0zM121 44l-1 2 3 2 3 0-1-3-2-1zM64 32l7 1-4-3-2 0-2 1zM70 35l1-1 0-1-7-1 4 3zM145 59l-1 1 2 2 0-3zM34 33l3 1 1 0 1-3-4-1-3 1zM112 55l-1 1 1 1 6 1-1-2zM72 45l0-1-3-2-3 0-2 1 0 1 3 1zM82 48l0 1 2 3 4 0 1 0-2-3zM112 57l1 2 2 2 1 0 2-3zM96 58l0-3-4-1 1 3zM107 63l2 1 2 1 1-1-2-2-2-1zM0 36l4-2-1-2-3 1zM76 57l-5-1-2 2 1 1 2 1 5-1zM105 67l0 1 1 3 4 1-3-4zM74 63l3 0-5-3-2-1 0 2zM49 58l-5-1-1 2 6 1zM62 71l3-3-1 0-5-1 1 3zM88 77l-3-3-2 0-3 1 2 2 5 1zM47 65l-1 1 0 1 3 4 2-2 1-2zM67 70l-2-2-3 3 1 1zM116 90l-4 0 0 2 1 1 3 0zM51 71l-2 0 0 3 6 2 1-1zM87 84l0 2 2 1 6 0-4-3-2-1zM128 100l0-3-4-1-2 2 4 3zM13 61l-1 4 2 1 2 1 2 0 0-4-1-1-3-1zM83 88l4-2-5-1-1 0zM77 87l-1 1 4 4 2-1 1-1 0-1zM11 69l-1 0 0 1 1 1 4 2 0-3zM101 100l1-3-2-1-3 0-1 2 1 1zM142 118l4 0 0-3-1-1-6 2zM1 76l2 0 2-1-1-2-4-1 0 3zM32 84l-6-3-1 1 1 1 7 2zM83 101l5 3 1-1 1-2-1-2-6-1 0 2zM3 79l3 0-3-3-2 0-1 1zM26 83l-1-1-1 0 0 4 4-1zM86 107l2-1 0-2-5-3-2 2zM118 113l-4 2 0 1 7 1 1 0-2-3zM125 114l-5 0 2 3 4 0zM145 122l0 1 1 1 0-2zM108 121l-1-1-3-2-3-1 1 4 1 1 3 0zM27 98l3 1 1-1-5-4zM47 104l1-2 0-1-4 0-2 2zM90 120l2-2 0-1-6-2 1 3 2 1zM103 122l-1-1-5-2-1 1 1 2 5 1zM113 124l0-1-3-2-2 0-2 1 2 2 4 2zM115 128l4-2-6-2-1 2 1 0zM135 141l-3-3-1-1-3 1 0 1 2 2zM146 142l-1-1-4 1 1 2 1 1 3 1zM17 106l5 4 2-3-3-2-4 0zM51 119l6 2 2 0 1-2-3-2zM98 131l-3-1-4 1 6 4zM40 117l4 3 1-1-1-2zM129 148l1 1 2 0 1-4-2-1-2 0zM107 144l2 1 1-2-3-3-4 2zM115 147l-1-4-4 0-1 2 2 2zM145 154l1 3 0-3zM8 111l-5-1 1 4 4 1 1 0zM128 154l1 0 1 0 1-1-2-3-4 1zM137 160l1-2-3-2-4 2 1 1zM100 146l-1 0-1 3 2 2 4 0-1-1zM34 129l-4 0 0 3 2 1 1-1zM83 149l2-2-7-2 0 2 1 2zM94 153l4 1 2-3-2-2-5 0 0 1zM30 132l-1 0 0 1 2 3 4 0-3-3zM59 141l0 2 1 1 3 0 1 0-3-5zM84 150l-1-1-4 0-1 0 5 3zM97 157l1 0 0-3-4-1-1 1 1 3zM21 131l-1-1-5 0 0 2 1 1 6-1zM92 158l0 1 2 1 3-2 0-1-3 0zM114 164l6 2 2-2-1-1-1-1-4 0-1 0zM88 156l-2 0 0 2 4 2 2-1 0-1zM127 172l-3-4-3-1-2 1 1 2 3 2zM2 135l1-1 0-1-3-1 0 3zM27 140l-2 1 3 2 4-2zM65 153l-1 1 3 2 2-1 2-1-2-2-1 0zM3 138l2 1 2-2-4-3-1 1zM23 140l-1 0 0 3 1 0 5 1 0-1-3-2zM92 168l1 1 1 0 3 0 1 0 0-2-3-1zM146 185l0-2-2-2-1 0-2 2 3 2zM1 138l-1-1 0 1zM5 140l0-1-2-1-2 0-1 0 0 2zM103 174l-1-3-4-2-1 0 2 4zM117 177l-2-3-3 0 1 2 2 2 1 0zM77 168l-1-2-4-1-1 1 1 2 3 1zM101 178l2-1 0-3-4-1-1 0 0 3 1 1zM138 188l-4-4-3 0-1 1 3 3 5 1zM139 187l-1-3-2-1-2 1 4 4zM133 188l-3-3-2 0 0 3 3 1 2 0zM40 159l3 4 1 0 2 0-1-3-4-1zM108 181l-4 0 2 3 4 0 0-2-1-1zM139 191l-2 1-2 1 0 1 2 1 5 0zM41 167l1 0-2-4-1 0-2 1zM102 187l2-2-5-3-1 5zM143 198l3 2 0-2zM26 162l0 2 0 1 3 0 3-2-1-1zM29 165l4 4 2-1 0-1-2-4-1 0zM33 163l2 4 6 0-4-3zM135 201l0-3-1-1-4 3zM40 171l0-1-5-2-2 1 4 4zM89 185l-4 0-3 2 3 0 1 0 4-1zM112 195l1 1 1 0 2 0 3-1-3-3zM55 178l0-1-1-2-6 0 0 2zM89 190l2 1 0-1-5-3-1 0zM4 165l0-2-4-1 0 3zM54 183l3-1-3-2-3 1 1 1zM81 191l0-2-3-1-1 1 3 4zM89 194l3-2-1-1-2-1-3 1 0 1 0 1zM32 174l-1 0-1 2 5 3 1-2zM89 197l0-3-3-1-1 2 3 2zM46 184l-1 0 0 2 5 2-2-3zM83 202l2 1 2-1 1-1-1-2-3 0zM106 209l-1-4-3-1-1 0-1 2zM119 214l3-2-6-2-1 1 2 3zM92 205l-1 1-1 0 1 2 3 1 1 0 1-2zM115 215l2-1-2-3-3 1 1 2zM118 218l3 0 1-2-3-2-2 0-2 1zM84 205l1 4 3 1 3-2-1-2-5-1zM95 212l-1-3-3-1-3 2 3 2zM23 190l0 1 0 1 3 2 3-2-1-2zM68 207l-1-1-3 0 0 3 3 1zM64 209l-1 0-1 1 0 3 6-2-1-1zM77 215l1 0 4 2 1-3-2-2-2 0-2 2zM64 219l0-1-1 0-2 1zM18 219l-1 0 1 0 4 0z"/><path fill="#fcfcfc" d="M144 3l0 1-1 3 3 1 0-4zM116 1l4 1 1 1 1-3-4 0zM125 8l3 2 5-1 1 0-2-3-3-1-1 0zM119 8l-3-3-2 0-1 1 2 2zM122 11l-1-1-6 0 0 2 5 0zM55 7l4 1 1 0 0-3-5-2zM88 18l3 2 3 0-1-4-3 0zM99 19l-1 2 5 2 1-4-1 0-1 0zM109 20l-1 0 1 5 8-1 0-1-3-1zM54 9l-1 4 3 0 2-2zM125 35l-2-2-5 1 1 1 1 1 5 0zM145 38l-1 1 1 2 1 0 0-3zM71 19l1 1 3 1 0-1-1-2zM125 36l0 3 3 0 2 0 0-1-5-3zM75 25l-5-1-1 2 5 3 1 0 0-3zM80 28l-2 2 2 2 3 0 1-3-1-1zM128 46l2 3 2 0 1-1-2-4zM61 27l4 2 0-3-2-2-2 0-1 1zM95 39l1 0 4 2 1-1 0-2-1-1-1 0zM101 40l6 1-1-1-5-2zM58 31l1-3-4-3-2 2 4 4zM62 32l1-1 2-1 0-1-4-2-2 1-1 3zM91 37l-2 0-1 0-2 1 0 1 0 1 7 2 1-1-1-3zM65 35l3 0-4-3-1-1-1 1 1 2zM107 48l0-1-2-2-4-1 0 1-1 1 1 1 3 2zM39 31l1-3-3-1-3 1 1 2zM62 35l-6-3-1 3 1 1 5 1zM81 45l3-3-2-1-5 1zM61 37l-5-1 0 1 0 1 3 2 1 0 3-2zM143 67l-1 4 4 0 0-1zM82 56l3 2 2-1-2-2-3-1zM9 35l-1-3-6 0 1 0 1 2 3 2zM124 74l-2-4-2-1-1 0-1 2 0 1 5 3zM49 50l4 3 1 1 2-1-5-4zM104 66l-4-2-3 1 2 3 6 0 0-1zM44 52l-3 0-1 0 1 2 3 3 4-2-1-1zM50 57l0-1-2-1-4 2 5 1zM13 53l-6-1-1 1 5 2zM116 90l0-2-1-1-4 2 1 1zM14 60l1-2-3-2-4 1 1 1zM112 90l-1-1-2-1 0 4 3 0zM121 93l1-1-1 0-5-2 0 3 2 1zM82 85l5 1 0-2-5-2zM118 96l-3 2 3 2 2-2zM100 96l1-3-1 0-3 0 0 2 0 1zM15 70l0 3 4 1 2 0 0-1-1-2zM80 92l0 1 2 2 4-1-4-3zM129 106l-4 0-1 2 3 2zM132 109l1-1-4-2-2 4zM144 114l1 0 1-1-2-2-4-1-1 1zM122 110l1-2-2-1-4 1 0 3zM59 93l4 1 1-1-1-1-3-1-1 0 0 1zM99 106l4 2 1-1-3-3zM113 110l0-4 0-1-1 1-4 2 1 1 3 1zM1 76l-1-1 0 2zM35 88l2 0 2-1 0-2-6 0 0 1zM63 97l4 2 4-2-2-1-5 0zM136 120l4 4 1 0 1-1-2-2zM0 81l2 0 1-2-3-2 0 3zM112 114l-5-2-1 0-1 2 2 2 1 0zM130 120l-1 2 4 2 1-1-1-2zM15 89l0 1 4 2 2-2-4-2zM31 98l1 0-4-5-1 0-1 1zM53 106l3 0 0-1 0-2-1-1-2-1-2 1zM66 106l2 3 4 0 0-1zM67 105l-1 1 6 2 1-1 0-1zM84 114l-2-3-1-1-3 0-1 1 1 2 5 2zM127 129l-1 0-4-3-2 4 2 1 0 1zM11 96l3 1 4-2-4-1-3 0zM27 98l-1 0-1 2 0 1 5 2 0-4zM16 98l-4 2 5 1 1 0 0-2zM23 103l6 3 2-2-1-1-5-2zM63 116l-2-3-4 0 0 1 1 1zM14 103l3 1 0-3-5-1zM95 125l-2 1 1 3 1 1 3 1 1 0 1-2 0-1zM134 143l3 3 2-1-4-4zM34 111l-1-2-4 1 2 2 3 0zM73 124l-2 1 3 2 1-2-1-1zM20 111l2 0 0-1-5-4-1 0 0 3zM4 114l-1-4-1 0-2 0 0 2zM28 118l-2 0 3 4 4 0 0-2zM49 127l-3-3-1-1-2 0-2 1 2 3 2 1zM94 143l2 0 1-2-2-2-1 0-2 2zM145 154l-3 0-2 2 1 1 3 1 2-1zM74 139l0 1 6 2 1-2-3-2zM2 116l-2 1 0 2 6 2 1 0 0-1zM128 157l-5-1 0 3 1 1 2 0zM34 129l-1 3 5 1 1 0 0-1-3-3-1 0zM104 158l0-1-1-2-5-1 0 3 4 1zM133 165l-1 2 2 1 3 1 2-1-3-3zM140 168l-1 0-2 1 2 2 3 1 1-1zM83 152l-5-3-1 1 0 1 6 2zM122 164l-2 2 1 1 3 1 2 0 2-2zM134 171l4 1 1-1-2-2-3-1-1 2zM76 154l0-1-4-1-3 0 2 2 4 2zM100 161l0 1 7 1 0-2zM3 134l4 3 3 1 1-1 1-1-1-1zM59 149l0 4 4 1 1 0 1-1-4-3zM84 164l1 0 2-2-3-2-4 0 0 2zM114 170l-2 0-2 3 2 1 3 0 2-1-1-1zM138 183l-1-4-1-1-2 2 2 3 2 1zM5 142l5 1-1-3-4 0zM82 168l0 1 5 2 2 0 0-2-2-1zM146 189l-1 2 1 0zM13 150l3-2-4-1-1-1-4 0 1 1 4 3zM51 160l-2-1-4 1 1 3 5-1zM59 167l3-3-2-1-3 0-2 1 2 2zM75 171l0-2-3-1-1 2 1 1zM82 169l0 3 4 1 1-2zM92 173l-1-1-2-1-2 0-1 2 2 2 3 0zM101 180l3 1 4 0-2-3-3-1-2 1zM108 177l-2 1 2 3 1 0 1-2zM145 191l1 4 0-4zM8 147l-2 2 1 2 1 1 2 1 1 0 1-3zM56 168l2 2 1-1 1-2-1 0-2-1-1 1zM88 175l-2-2-4-1-2 0 1 3 2 1zM116 185l-3-3-3 0 0 2 1 2 3 1zM133 189l-2 0 4 4 2-1zM42 167l1 1 1 0 1 0-1-5-1 0-3 0zM83 176l-2-1-4 1 0 1 6 1zM120 189l-2 2 3 3 4-1-3-3zM126 189l-4 1 3 3 2 1 2-3zM75 178l-2 3 6 0-3-3zM98 188l5 2 2-1-3-2-4 0zM115 191l1 1 3 3 2-1-3-3zM75 183l1 1 2 0 3-3-2 0-6 0zM9 164l2-2-1 0-6-1 0 2zM71 187l5 0 0-3-1-1-5 2zM137 207l1-1-2-3-3 1-1 2zM107 200l-1-4-5 1 1 2 3 1zM60 185l0 1 0 2 4 3 1 0 2-1 0-2-2-1zM51 184l-3 1 2 3 3 0 0-2zM50 188l-1 2 5 2 0-3-1-1zM93 202l-1 0 0 3 4 2 2-1zM101 204l-7-2-1 0 5 4 1 0 1 0zM23 186l-3-2-4 0 0 3 1 1 4 1zM53 194l-5-1-1 1 1 2 5 0zM53 196l-5 0 0 1 3 3 4-2zM58 196l-2 2 3 2 1-1zM79 205l2 3 3 1 1 0-1-4-4-1zM104 216l-4-4-3 1 2 4 4 1zM99 217l-2 0 0 2 6 0 1-1-1 0zM46 203l3 4 2 0 2 0-1-2-3-2zM31 218l-3-3-2-1-3 1 0 1 6 3z"/><path fill="#e8e846" d="M93 1l1-1-3 0zM101 5l-3 1-2 1 1 1 5 1zM104 19l4 1 1 0 0-1 0-1-3-3-3 2 0 2zM79 11l-3-2-2 1 0 2 1 1 3 1zM15 12l-1 0-5 0 0 1 1 0 1 2 5 0zM19 20l-2-2-5-1 0 1 1 2 5 1zM19 23l-1-2-5-1-2 2 1 1 3 1zM82 95l1 1 7 0-1-2-2 0-1 0zM93 102l-3-1-1 2 5 2 1 0-1-3zM82 218l3 1 2 0 2-2-1-1-6 1z"/><path fill="#daf040" d="M109 5l-4 0 2 3 2 0 2-2zM73 2l1-2-4 0zM103 9l2 1 2-2-2-3-3-1-1 1 1 4zM109 8l-2 0-2 2 2 2 3 1 3-1-3-3zM70 3l0 3 5 0 1-1-3-3zM109 18l0 1 5 0 1-2-1-1-1 0-1 0zM19 14l3 2 3-2-5-2-1 1zM19 14l0-1-4-1 1 3 1 0zM18 17l4 0 0-1-3-2-2 1zM90 96l-7 0 0 2 6 1 2-2zM96 100l-3 2 1 0 5 1z"/><path fill="#f2de52" d="M105 0l0 1 2 1 1-1 1-1zM70 0l-4 0 0 1 4 2 3-1zM103 9l-1 0-5-1 0 2 4 2zM112 16l1 0-3-3-3-1-2 2zM115 12l-2 0-3 1 3 3 1 0 3-1zM106 15l3 3 3-2-7-2zM16 15l-5 0 1 2 5 1 1-1-1-2zM97 99l-1-1-5-1-2 2 1 2 3 1 3-2zM60 175l0-2-3-2-2 0-1 3zM91 217l2 2 4 0 0-2-3-1zM89 217l-2 2 1 0 5 0-2-2z"/><path fill="#4696f5" d="M70 68l1 0 5 1 0-1-1-2-1-1-2 0z"/><path fill="#389eef" d="M76 68l0 1 1 2 5 0 2-1-3-2z"/><path fill="#508cff" d="M77 71l-1-2-5-1-1 3 5 2 2 0z"/><path fill="#aff25f" d="M121 16l2 0 1-1-1-3-1-1-2 1 0 4zM64 8l0 1 0 1 2 1 6-2-1-1zM122 27l-3-1 1 2 5 2 0-1zM12 0l0 1 5 3 2-2-1-1-2-1-3 0zM99 37l1 0 1-1-4-2-2-1-1 2zM15 9l-7-2 1 4 0 1 5 0zM25 19l-3-2-4 0-1 1 2 2 3 0zM25 19l-3 1 1 3 3-2zM137 77l5 2 1-2-4-1zM93 73l2 2 4 1 1-2 0-1-8-1zM117 78l-4-1-3 1 1 2 2 0zM123 83l2 0 3-2-2-1-4 1 1 1zM135 86l2 0 0-1-1-1-3-2-3 1 0 2zM142 85l-5 0 0 1 1 1 5 2 0-4zM95 76l0 2 6 1-2-3-4-1zM116 84l2 0 3 0 1-1-4-2-2 2zM122 83l-1 1 4 3 2-1-4-3 0-1zM116 88l4 0-2-4-2 0-3 1 2 2zM130 87l0 3 3 0 1 0zM145 103l1 0 0-3-1-1-2 0-1 2zM28 68l5 1 2-3-6 0-1 1zM128 97l0 3 4 1 0-2zM134 98l-2 1 0 2 1 1 3 0 1-3zM126 102l0-1-4-3-2 0-2 2 1 1 6 1zM146 113l0-3-2 1zM37 80l0-1-6-1 0 2 3 2 2 0zM39 85l3 0-1-3-4-2-1 2zM103 103l2 1 6 1-4-2-2-1-2 0zM39 85l-3-3-2 0-2 2 1 1zM104 118l3-2-2-2-5 0 0 2 1 1zM67 114l0-1-6-1 0 1 2 3 1 1 2 0zM93 154l-4-1-1 3 4 2 2-1zM64 159l1 0 4 0-2-3-3-2-1 0 0 4zM137 195l3 4 3-1-1-3zM137 207l1 2 3 1 2-1-2-2-2-1-1 0zM142 214l-2 1 1 3 3 1 2-1 0-2z"/><path fill="#a1fa59" d="M116 39l0-2-2-1-3 0 0 1 0 1zM16 9l1-3-2-1-7 1 0 1 7 2zM25 14l2-1 0-1-2-2-2 0-3 1 0 1zM31 11l-4 1 0 1 4 2 2-3zM33 16l-2-1-4-2-2 1 3 3zM71 38l-2 1 0 3 3 2 1 0 2-3zM58 50l1-1-5-5-1 0-1 4 5 2zM144 77l-1 0-1 2 0 1 4 1 0-2zM140 81l2-1 0-1-5-2zM142 80l-2 1 1 1 5 0 0-1zM104 72l3 3 2 0 1-3-4-1zM141 82l-1-1-4 3 1 1 5 0zM146 85l0-3-5 0 1 3 1 0zM100 74l5 3 2-1 0-1-3-3-3 0-1 1zM118 81l4 2 1-1-1-1-4-3-1 0zM130 85l0-2-2-2-3 2zM143 89l1 0 2 0 0-4-3 0zM144 89l0 1 2 0 0-1zM116 83l2-2-1-3-4 2zM135 86l-5-1-1 1 1 1 4 3 0-1zM95 78l-2 1 1 1 6 0 1-1zM113 85l3-1 0-1-3-3-2 0-1 0 1 5zM122 89l3 0 0-2-4-3-3 0 2 4zM127 86l-2 1 0 2 3 2 2-1 0-3-1-1zM142 94l2 2 2 0 0-3zM129 94l0-1-1-2-3-2-3 0-1 3 1 0zM143 99l2 0-1-3-2-2-2 0-2 0 0 1 0 2zM144 96l1 3 1 0 0-3zM145 99l1 1 0-1zM138 97l0-2-6 1 2 2 3 1zM33 69l2 2 3-1-1-3-2-1zM109 88l-1 0-5 0 0 2 2 2 2 0 2 0zM140 105l4 0 1 0 0-2-3-2-1 0-2 3zM144 108l-4 0 0 2 4 1 2-1 0-1zM34 82l-3-2-5 0 0 1 6 3zM142 118l-2 3 2 2 3 0 0-1zM1 126l-1-3 0 2zM141 218l-1-3-4-2 1 4 2 1zM144 219l-3-1-2 0 0 1 6 0zM135 217l-1 2 3 0zM47 210l4 1 0-4-2 0-3 0 0 2z"/><path fill="#b9e86b" d="M82 6l3 1 3 1 0-3-2-1-1 0zM25 10l1-2-2-1-3 0 2 3zM23 10l-2-3-4-1-1 3 4 2zM7 11l2 0-1-4-4 0-1 1zM19 13l1-1 0-1-4-2-1 0-1 3 1 0zM23 23l-1-3-3 0-1 1 1 2 2 1 2 0zM118 58l3 1 3-2 0-1-6-1-1 1zM20 29l4 4 1-4-4-1zM139 76l4 1 1 0 1-2-4-2-2 1zM146 79l0-4-1 0-1 2zM3 32l-1 0 0-1-2-1 0 3zM134 73l-1 0-4 0-1 2 1 1 7 0zM66 53l0 4 3 1 2-2 0-1zM126 79l0 1 2 1 2 2 3-1 0-3-2-1zM133 79l0 3 3 2 4-3zM91 76l4 0 0-1-2-2zM101 79l2 0 2-2-5-3-1 2zM111 80l-1-2-3-2-2 1-2 2 2 1 5 0zM127 86l2 0 1-1-5-2-2 0zM138 90l0-3-1-1-2 0-1 3zM144 89l-1 0-5-2 0 3 2 2 4-2zM56 62l-4 0 2 4 4 1 1-3zM91 76l0 1 2 2 2-1 0-2zM140 94l0-2-2-2-4-1 0 1-1 0 3 4 2 0zM146 90l-2 0-4 2 0 2 2 0 4-1 0-2zM103 84l-3-3-4 2 1 1 4 1zM110 85l-3-2-4 1 5 4 1 0zM122 89l-2-1-4 0 0 2 5 2zM137 99l4 2 1 0 1-2-5-2zM141 101l-4-2-1 3 3 2zM145 103l0 2 1 1 0-3zM139 104l-3-2-3 0-1 2 1 1zM144 105l-4 0 0 2 0 1 4 0zM133 108l1 0 1-1-2-2-1-1-3 0 0 2zM63 109l3 1 2-1-2-3-3 1zM129 150l2 3 4 0 1-3-4-1-2 0zM1 126l2 1 2-1 0-2 0-1-5-1 0 1zM116 158l0 4 4 0 0-3-3-2zM63 154l-4-1 1 3 3 2zM143 209l-2 1 0 2 1 1 4 0 0-3zM141 212l0-2-3-1-3 1-1 1zM142 213l0 1 4 2 0-3zM139 218l-2-1-2 0 2 2 2 0zM144 219l1 0 1 0 0-1z"/><path fill="#f5a0cd" d="M63 79l-1-2-3-1 1 4 1 1 1 0z"/><path fill="#e7a8c7" d="M68 79l0-1-3-2-3 1 1 2z"/><path fill="#fff" d="M0 0h2v1h-2zM7 0h3v1h-3zM8 3h1v1h-1zM17 3h1v2h-1zM14 2h3v2h-3zM21 3h2v1h-2zM24 2h2v1h-2zM28 4h2v2h-2zM32 1h1v1h-1zM39 4h2v1h-2zM47 3h1v2h-1zM49 0h1v2h-1zM54 1h2v1h-2zM58 3h1v1h-1zM56 5h2v1h-2zM63 3h1v2h-1zM68 4h1v1h-1zM77 4h1v1h-1zM84 3h2v1h-2zM88 1h2v1h-2zM92 0h1v1h-1zM101 3h1v2h-1zM105 5h2v1h-2zM109 3h1v1h-1zM113 4h1v1h-1zM114 2h3v2h-3zM115 1h3v2h-3zM122 5h2v1h-2zM122 0h2v1h-2zM127 2h1v2h-1zM139 1h1v2h-1zM144 2h3v1h-3zM0 6h1v1h-1zM5 8h3v2h-3zM8 8h1v1h-1zM16 10h1v1h-1zM14 6h2v2h-2zM19 9h2v1h-2zM24 10h2v1h-2zM34 6h3v1h-3zM38 7h1v1h-1zM36 8h2v1h-2zM43 7h3v1h-3zM43 10h1v2h-1zM51 7h1v1h-1zM55 10h2v1h-2zM62 6h1v2h-1zM68 7h3v1h-3zM74 7h3v2h-3zM83 7h2v1h-2zM82 10h3v1h-3zM87 7h2v2h-2zM96 6h1v1h-1zM97 10h1v1h-1zM102 6h1v1h-1zM106 8h1v1h-1zM110 11h3v1h-3zM113 7h2v2h-2zM116 9h3v1h-3zM120 7h1v2h-1zM124 10h3v1h-3zM133 7h1v1h-1zM137 6h3v1h-3zM136 9h3v2h-3zM141 8h3v1h-3zM140 6h1v1h-1zM0 12h1v1h-1zM9 13h1v2h-1zM13 12h1v2h-1zM22 17h2v1h-2zM25 15h1v1h-1zM29 12h2v1h-2zM32 14h2v1h-2zM42 15h2v2h-2zM43 14h1v2h-1zM50 17h3v1h-3zM56 16h2v1h-2zM56 15h1v1h-1zM65 16h1v2h-1zM65 14h2v1h-2zM72 16h3v1h-3zM75 14h1v2h-1zM83 13h1v1h-1zM88 18h1v1h-1zM92 16h1v2h-1zM98 17h2v2h-2zM108 16h3v2h-3zM107 14h1v1h-1zM113 16h2v2h-2zM117 16h1v1h-1zM126 17h2v2h-2zM126 16h1v2h-1zM129 16h1v1h-1zM130 13h2v1h-2zM138 14h1v2h-1zM145 13h2v1h-2zM1 19h1v1h-1zM11 21h2v1h-2zM12 19h1v2h-1zM17 21h1v1h-1zM19 19h1v2h-1zM28 23h3v1h-3zM35 20h2v1h-2zM31 23h1v1h-1zM39 22h3v2h-3zM37 21h3v1h-3zM46 22h1v1h-1zM47 24h1v1h-1zM50 24h3v1h-3zM56 22h2v2h-2zM57 23h2v2h-2zM63 22h2v1h-2zM67 21h2v1h-2zM68 18h2v1h-2zM73 18h1v1h-1zM78 18h1v1h-1zM83 20h1v2h-1zM90 19h2v2h-2zM94 24h1v1h-1zM91 18h2v1h-2zM100 21h1v1h-1zM102 22h3v2h-3zM107 20h2v2h-2zM103 22h2v1h-2zM110 23h1v2h-1zM114 21h1v1h-1zM116 19h1v1h-1zM115 19h1v2h-1zM125 19h1v1h-1zM133 19h3v1h-3zM138 23h1v2h-1zM140 21h2v1h-2zM142 22h2v1h-2zM0 24h2v2h-2zM11 27h2v1h-2zM13 28h3v1h-3zM22 29h2v1h-2zM19 25h2v1h-2zM24 27h3v1h-3zM28 28h1v2h-1zM32 24h2v1h-2zM41 27h3v2h-3zM40 28h1v1h-1zM44 29h1v2h-1zM48 30h2v2h-2zM51 27h1v2h-1zM55 25h1v1h-1zM61 29h2v1h-2zM67 29h2v1h-2zM73 27h2v2h-2zM77 26h1v1h-1zM80 25h3v1h-3zM84 28h1v1h-1zM86 28h1v1h-1zM85 28h3v1h-3zM91 26h3v1h-3zM103 24h2v1h-2zM108 28h3v1h-3zM115 26h1v2h-1zM111 26h1v1h-1zM117 27h1v1h-1zM119 24h1v1h-1zM124 25h1v2h-1zM125 26h3v1h-3zM131 25h3v2h-3zM139 25h2v2h-2zM145 25h1v2h-1zM144 26h1v1h-1zM2 31h1v1h-1zM6 31h3v2h-3zM17 32h2v1h-2zM13 35h2v2h-2zM23 34h1v1h-1zM19 36h2v1h-2zM30 34h2v1h-2zM29 33h3v1h-3zM34 33h1v1h-1zM36 35h2v1h-2zM40 35h1v1h-1zM44 34h1v1h-1zM50 35h3v2h-3zM58 35h2v1h-2zM57 31h2v2h-2zM66 30h3v1h-3zM67 30h3v1h-3zM67 36h1v2h-1zM78 36h3v2h-3zM77 31h2v1h-2zM84 34h1v2h-1zM90 35h2v1h-2zM91 31h2v1h-2zM100 33h3v2h-3zM107 35h2v1h-2zM114 35h2v1h-2zM114 35h2v1h-2zM118 35h2v2h-2zM126 34h2v2h-2zM133 34h2v1h-2zM132 30h2v1h-2zM134 34h1v1h-1zM144 34h2v1h-2zM3 39h1v1h-1zM10 39h1v1h-1zM12 40h1v1h-1zM20 41h3v1h-3zM24 39h2v2h-2zM35 38h1v1h-1zM39 40h1v1h-1zM47 40h1v1h-1zM45 37h1v1h-1zM50 36h1v2h-1zM59 38h1v1h-1zM55 41h3v2h-3zM64 37h2v1h-2zM67 39h1v1h-1zM72 41h2v1h-2zM77 42h3v2h-3zM76 38h1v1h-1zM81 38h1v1h-1zM85 39h2v1h-2zM87 36h1v1h-1zM93 38h1v1h-1zM98 40h2v1h-2zM105 41h2v1h-2zM105 39h1v1h-1zM114 41h3v2h-3zM119 37h1v2h-1zM124 42h3v1h-3zM131 41h1v2h-1zM138 39h1v1h-1zM140 40h2v1h-2zM1 48h2v1h-2zM2 42h1v2h-1zM10 43h3v1h-3zM16 47h2v1h-2zM18 46h3v1h-3zM26 47h1v1h-1zM31 45h2v1h-2zM40 45h2v2h-2zM42 43h2v1h-2zM50 47h1v1h-1zM51 44h1v1h-1zM60 44h2v2h-2zM66 44h1v2h-1zM71 43h2v2h-2zM76 46h2v1h-2zM79 44h1v1h-1zM90 47h2v2h-2zM96 43h3v1h-3zM92 43h2v2h-2zM102 44h1v1h-1zM102 43h2v1h-2zM106 46h1v2h-1zM111 46h3v1h-3zM113 43h1v1h-1zM119 42h1v1h-1zM124 43h2v1h-2zM130 44h3v1h-3zM136 47h2v1h-2zM140 46h1v1h-1zM140 44h2v1h-2zM1 50h3v1h-3zM8 53h1v1h-1zM17 50h2v1h-2zM13 54h3v2h-3zM21 49h2v1h-2zM18 49h1v1h-1zM28 49h1v2h-1zM35 52h1v1h-1zM32 49h1v2h-1zM42 54h3v1h-3zM37 49h2v1h-2zM46 49h2v1h-2zM47 52h3v1h-3zM51 50h2v2h-2zM51 50h1v1h-1zM55 48h1v2h-1zM58 50h1v2h-1zM66 49h1v1h-1zM70 53h3v2h-3zM74 54h2v1h-2zM75 51h2v1h-2zM81 53h3v1h-3zM79 48h1v1h-1zM91 49h3v2h-3zM90 53h1v1h-1zM92 52h2v1h-2zM94 52h2v1h-2zM100 51h2v1h-2zM103 50h1v2h-1zM108 54h2v1h-2zM113 53h2v1h-2zM118 50h2v2h-2zM123 49h3v2h-3zM128 51h1v1h-1zM129 49h1v2h-1zM136 51h2v1h-2zM140 54h2v1h-2zM145 54h1v1h-1zM4 55h2v2h-2zM1 55h2v1h-2zM6 58h2v2h-2zM12 58h1v1h-1zM16 55h3v2h-3zM19 57h2v1h-2zM19 57h2v1h-2zM25 55h2v1h-2zM32 58h2v1h-2zM41 58h2v1h-2zM43 55h1v1h-1zM51 59h1v1h-1zM54 59h1v1h-1zM55 56h1v1h-1zM66 59h2v1h-2zM66 55h2v1h-2zM77 58h2v1h-2zM77 57h1v1h-1zM83 56h2v2h-2zM89 57h1v1h-1zM89 60h2v1h-2zM91 58h1v1h-1zM102 57h3v1h-3zM101 58h3v2h-3zM106 56h2v1h-2zM114 59h2v1h-2zM116 57h1v1h-1zM122 56h2v1h-2zM122 54h2v1h-2zM130 56h3v1h-3zM137 60h1v1h-1zM134 58h2v1h-2zM141 55h3v1h-3zM4 62h2v2h-2zM9 66h1v2h-1zM7 66h2v1h-2zM16 62h1v1h-1zM18 63h3v2h-3zM23 65h1v2h-1zM27 64h1v1h-1zM25 63h1v1h-1zM31 66h2v2h-2zM32 64h2v1h-2zM42 64h2v1h-2zM47 66h3v1h-3zM52 66h2v1h-2zM54 62h2v2h-2zM55 63h2v2h-2zM60 63h2v1h-2zM65 64h2v1h-2zM61 61h1v2h-1zM69 65h2v2h-2zM68 61h1v1h-1zM78 64h1v1h-1zM83 63h1v2h-1zM90 63h3v1h-3zM95 63h3v1h-3zM98 66h2v1h-2zM108 62h1v1h-1zM113 61h1v1h-1zM120 62h2v1h-2zM116 66h2v2h-2zM125 64h2v1h-2zM124 62h2v1h-2zM129 66h2v2h-2zM139 64h3v1h-3zM139 65h2v1h-2zM144 63h2v1h-2zM4 69h2v1h-2zM5 70h2v2h-2zM6 70h2v1h-2zM10 67h1v1h-1zM14 68h2v2h-2zM19 68h2v1h-2zM25 67h3v1h-3zM31 70h2v1h-2zM30 70h3v1h-3zM36 71h1v1h-1zM45 68h1v2h-1zM52 68h2v1h-2zM57 69h1v1h-1zM55 69h2v1h-2zM64 70h1v1h-1zM61 72h2v2h-2zM68 67h2v1h-2zM68 68h2v1h-2zM76 70h3v1h-3zM80 69h2v1h-2zM90 72h2v2h-2zM89 71h1v1h-1zM94 67h2v1h-2zM102 70h2v1h-2zM104 71h2v1h-2zM112 71h3v2h-3zM114 72h2v2h-2zM118 70h1v1h-1zM126 68h1v2h-1zM131 70h2v2h-2zM128 70h2v1h-2zM134 68h1v1h-1zM141 72h1v1h-1zM141 70h2v2h-2zM5 75h2v1h-2zM7 76h3v2h-3zM10 77h2v1h-2zM15 76h2v1h-2zM20 74h2v1h-2zM25 77h2v2h-2zM25 73h3v2h-3zM35 76h3v1h-3zM34 76h1v2h-1zM41 75h1v2h-1zM43 73h2v2h-2zM51 77h3v2h-3zM55 77h3v2h-3zM64 78h1v1h-1zM64 75h2v1h-2zM69 79h2v1h-2zM67 76h1v1h-1zM74 78h3v2h-3zM75 79h1v1h-1zM80 73h3v2h-3zM87 77h3v2h-3zM91 78h3v1h-3zM102 73h1v1h-1zM99 73h3v2h-3zM104 77h3v1h-3zM112 76h2v2h-2zM112 73h2v1h-2zM119 77h2v1h-2zM121 73h2v1h-2zM128 75h3v1h-3zM127 77h1v1h-1zM137 75h2v1h-2zM135 73h1v2h-1zM144 74h1v2h-1zM0 80h3v1h-3zM10 80h3v1h-3zM11 79h2v1h-2zM15 83h1v2h-1zM21 80h2v1h-2zM25 84h2v1h-2zM32 80h2v1h-2zM39 81h1v1h-1zM43 82h1v2h-1zM44 79h3v1h-3zM51 80h2v1h-2zM57 81h1v1h-1zM55 81h3v2h-3zM61 84h2v1h-2zM70 80h3v1h-3zM77 84h2v1h-2zM80 83h1v1h-1zM89 79h2v1h-2zM94 83h2v1h-2zM95 80h1v2h-1zM102 82h1v1h-1zM106 81h1v2h-1zM113 81h2v1h-2zM115 79h1v2h-1zM117 84h1v2h-1zM119 79h3v1h-3zM122 84h2v2h-2zM131 85h2v2h-2zM137 79h2v1h-2zM142 79h3v1h-3zM5 86h3v2h-3zM2 90h2v1h-2zM6 86h2v2h-2zM7 87h1v1h-1zM16 86h1v2h-1zM23 85h1v2h-1zM27 89h2v2h-2zM27 86h2v2h-2zM35 87h1v1h-1zM30 85h1v1h-1zM36 88h3v1h-3zM39 88h1v2h-1zM48 86h2v1h-2zM49 87h2v1h-2zM53 88h2v1h-2zM54 88h3v1h-3zM56 85h1v1h-1zM61 88h1v2h-1zM67 89h3v1h-3zM68 87h3v1h-3zM75 89h1v1h-1zM76 87h2v1h-2zM83 88h1v1h-1zM90 88h1v2h-1zM87 90h1v1h-1zM96 85h2v1h-2zM93 89h2v2h-2zM97 90h1v2h-1zM101 88h1v1h-1zM104 85h1v2h-1zM105 89h3v1h-3zM109 87h1v2h-1zM109 87h1v1h-1zM116 85h2v2h-2zM123 90h1v2h-1zM133 90h2v1h-2zM137 89h1v1h-1zM140 89h2v1h-2zM3 95h2v1h-2zM11 96h1v1h-1zM10 93h2v1h-2zM16 95h3v1h-3zM19 93h2v1h-2zM28 92h3v1h-3zM25 92h1v1h-1zM33 94h3v2h-3zM38 93h2v1h-2zM42 93h2v1h-2zM44 96h1v1h-1zM53 97h2v1h-2zM59 95h2v1h-2zM61 97h1v1h-1zM67 93h1v1h-1zM78 92h2v2h-2zM73 94h2v1h-2zM80 94h1v2h-1zM85 96h1v1h-1zM89 93h1v2h-1zM92 97h2v1h-2zM91 92h1v1h-1zM100 96h1v1h-1zM104 92h1v2h-1zM110 95h1v1h-1zM113 93h3v1h-3zM119 94h1v1h-1zM126 92h2v1h-2zM124 96h2v1h-2zM128 96h2v1h-2zM135 94h1v2h-1zM134 96h2v2h-2zM140 93h1v2h-1zM1 99h1v1h-1zM9 101h1v1h-1zM15 101h1v1h-1zM23 99h2v1h-2zM28 100h3v2h-3zM33 99h1v1h-1zM36 100h1v1h-1zM40 101h1v1h-1zM45 100h2v1h-2zM44 99h2v1h-2zM49 98h2v2h-2zM58 98h3v1h-3zM62 97h1v2h-1zM64 102h2v1h-2zM69 99h2v1h-2zM76 99h1v1h-1zM84 98h1v1h-1zM82 102h1v1h-1zM85 99h2v2h-2zM89 102h1v2h-1zM95 99h1v1h-1zM94 99h3v1h-3zM100 102h1v1h-1zM99 98h3v1h-3zM104 97h1v1h-1zM106 102h3v1h-3zM112 99h1v2h-1zM118 101h2v1h-2zM124 101h1v1h-1zM129 102h1v1h-1zM131 98h2v2h-2zM138 103h2v1h-2zM142 102h3v1h-3zM1 106h1v2h-1zM11 107h2v1h-2zM16 104h2v2h-2zM13 104h2v1h-2zM22 108h2v1h-2zM29 109h2v2h-2zM26 108h2v2h-2zM32 105h2v1h-2zM40 109h3v1h-3zM37 108h2v2h-2zM45 104h2v1h-2zM54 105h1v1h-1zM59 103h2v2h-2zM62 108h1v1h-1zM62 106h3v1h-3zM70 108h1v1h-1zM75 103h2v2h-2zM79 108h2v1h-2zM90 107h3v1h-3zM89 107h1v2h-1zM96 105h3v1h-3zM95 106h2v1h-2zM102 105h1v1h-1zM107 103h2v1h-2zM114 103h1v1h-1zM110 107h2v1h-2zM119 108h2v2h-2zM119 109h2v1h-2zM127 107h1v1h-1zM125 105h1v2h-1zM130 109h2v2h-2zM134 107h2v1h-2zM145 107h3v2h-3zM142 104h2v2h-2zM3 111h2v2h-2zM6 115h2v1h-2zM12 113h3v1h-3zM13 113h2v1h-2zM22 114h3v1h-3zM24 110h3v2h-3zM32 112h1v1h-1zM42 110h1v2h-1zM48 113h1v1h-1zM47 112h3v2h-3zM48 110h3v2h-3zM59 114h1v1h-1zM56 110h3v1h-3zM62 112h2v1h-2zM72 112h3v2h-3zM73 109h2v1h-2zM79 111h2v1h-2zM90 112h3v2h-3zM91 110h3v1h-3zM103 109h2v2h-2zM106 111h3v2h-3zM111 113h1v2h-1zM115 111h2v2h-2zM120 110h1v1h-1zM119 111h1v2h-1zM123 110h1v2h-1zM128 110h2v1h-2zM129 110h3v2h-3zM139 111h3v1h-3zM139 112h1v1h-1zM140 111h1v1h-1zM144 112h1v1h-1zM1 119h1v1h-1zM8 120h1v2h-1zM12 120h2v1h-2zM22 118h1v2h-1zM27 116h3v1h-3zM35 118h2v2h-2zM41 119h3v1h-3zM46 118h2v2h-2zM48 118h3v2h-3zM57 121h2v1h-2zM57 117h3v2h-3zM61 117h3v2h-3zM68 117h1v1h-1zM71 117h2v1h-2zM74 118h2v1h-2zM82 119h1v2h-1zM89 116h2v1h-2zM92 116h2v1h-2zM99 117h2v1h-2zM100 120h1v1h-1zM107 116h2v2h-2zM105 117h2v1h-2zM111 120h3v1h-3zM119 120h1v1h-1zM124 118h1v1h-1zM133 121h2v2h-2zM139 120h1v1h-1zM139 117h1v2h-1zM145 119h2v1h-2zM3 122h2v1h-2zM9 125h1v1h-1zM17 122h1v1h-1zM15 123h2v2h-2zM20 124h2v2h-2zM27 122h3v2h-3zM32 124h2v1h-2zM41 127h1v1h-1zM41 122h3v2h-3zM44 127h3v2h-3zM45 125h1v1h-1zM50 126h2v1h-2zM55 122h1v2h-1zM56 125h2v2h-2zM66 124h2v2h-2zM67 125h3v2h-3zM69 122h1v2h-1zM76 124h2v1h-2zM79 125h1v1h-1zM83 123h1v1h-1zM91 124h2v1h-2zM96 126h1v2h-1zM103 124h1v1h-1zM108 126h2v2h-2zM112 127h1v1h-1zM118 125h2v1h-2zM124 126h2v1h-2zM128 126h2v2h-2zM129 123h1v1h-1zM135 124h1v1h-1zM138 123h2v2h-2zM144 123h2v1h-2zM5 130h1v1h-1zM10 131h1v1h-1zM15 129h3v1h-3zM17 132h1v1h-1zM21 131h2v1h-2zM18 130h3v2h-3zM27 129h1v2h-1zM32 129h1v1h-1zM31 133h1v2h-1zM37 130h2v1h-2zM37 129h1v2h-1zM44 132h3v1h-3zM50 132h1v2h-1zM57 133h1v1h-1zM58 129h3v1h-3zM66 128h3v2h-3zM70 131h3v2h-3zM67 129h1v1h-1zM78 129h2v1h-2zM79 132h2v1h-2zM85 128h3v1h-3zM87 131h2v1h-2zM94 130h2v2h-2zM99 131h2v1h-2zM102 130h3v1h-3zM107 132h2v1h-2zM109 133h1v2h-1zM112 127h2v1h-2zM111 131h2v2h-2zM118 129h1v1h-1zM125 133h2v2h-2zM131 130h1v1h-1zM134 132h3v2h-3zM134 131h3v1h-3zM142 131h1v1h-1zM145 129h1v1h-1zM4 134h1v2h-1zM6 137h2v1h-2zM13 135h1v2h-1zM18 138h1v1h-1zM25 135h2v1h-2zM30 138h1v1h-1zM31 135h2v1h-2zM39 138h2v1h-2zM44 136h2v1h-2zM54 134h1v2h-1zM52 136h2v1h-2zM59 135h2v1h-2zM62 137h2v1h-2zM63 139h2v1h-2zM70 138h3v1h-3zM73 139h2v1h-2zM74 137h1v2h-1zM83 138h2v2h-2zM81 138h2v1h-2zM90 136h1v1h-1zM90 135h1v1h-1zM96 138h1v2h-1zM92 135h2v1h-2zM100 139h2v1h-2zM99 134h3v1h-3zM108 139h1v1h-1zM109 139h2v1h-2zM118 134h1v2h-1zM124 135h1v1h-1zM124 137h3v1h-3zM127 139h2v1h-2zM137 136h1v1h-1zM134 135h1v1h-1zM144 134h3v2h-3zM140 137h2v2h-2zM1 143h3v1h-3zM9 145h1v1h-1zM14 144h1v1h-1zM13 143h2v1h-2zM21 140h2v2h-2zM28 142h1v1h-1zM30 140h3v1h-3zM39 145h3v1h-3zM46 146h2v2h-2zM53 144h3v1h-3zM59 142h2v1h-2zM63 141h1v2h-1zM69 141h1v1h-1zM76 140h1v1h-1zM73 140h3v2h-3zM79 141h2v2h-2zM90 143h3v1h-3zM85 142h1v1h-1zM95 145h1v2h-1zM99 142h2v1h-2zM107 144h3v1h-3zM112 143h1v1h-1zM119 144h2v1h-2zM125 145h2v1h-2zM132 145h1v1h-1zM132 140h2v2h-2zM136 140h2v1h-2zM145 144h2v2h-2zM0 149h3v2h-3zM10 148h2v1h-2zM12 146h3v1h-3zM19 148h3v1h-3zM25 151h2v1h-2zM31 150h1v1h-1zM34 150h2v1h-2zM39 149h2v2h-2zM47 150h2v1h-2zM47 148h2v1h-2zM52 147h2v2h-2zM57 151h2v2h-2zM65 150h2v2h-2zM68 150h2v2h-2zM74 151h1v2h-1zM81 152h3v2h-3zM88 152h2v2h-2zM92 146h2v1h-2zM100 148h3v2h-3zM104 147h1v1h-1zM114 147h1v1h-1zM110 148h3v2h-3zM121 147h3v1h-3zM123 149h2v1h-2zM123 151h1v1h-1zM128 150h1v1h-1zM136 148h3v1h-3zM138 146h1v1h-1zM141 149h2v2h-2zM3 158h1v1h-1zM4 153h1v2h-1zM9 157h1v2h-1zM9 153h2v1h-2zM15 154h1v2h-1zM23 157h1v1h-1zM27 152h1v2h-1zM32 153h1v1h-1zM39 153h1v2h-1zM43 156h2v1h-2zM48 152h2v2h-2zM50 158h1v1h-1zM55 156h3v1h-3zM64 153h1v2h-1zM66 152h3v1h-3zM72 153h3v1h-3zM73 155h1v2h-1zM80 156h1v2h-1zM86 152h2v1h-2zM97 154h1v2h-1zM101 152h1v2h-1zM104 156h3v2h-3zM111 158h3v1h-3zM116 153h1v2h-1zM127 152h1v1h-1zM133 154h1v1h-1zM137 153h2v1h-2zM144 154h2v1h-2zM141 153h1v1h-1zM4 161h2v1h-2zM8 164h2v1h-2zM11 161h3v1h-3zM13 163h1v1h-1zM24 161h1v1h-1zM24 160h1v2h-1zM28 164h2v2h-2zM34 162h1v1h-1zM37 163h3v1h-3zM45 160h2v1h-2zM51 161h3v1h-3zM56 163h1v2h-1zM63 163h2v2h-2zM72 159h1v1h-1zM78 163h3v1h-3zM83 161h1v1h-1zM84 163h1v1h-1zM90 160h1v1h-1zM94 162h1v1h-1zM96 163h2v1h-2zM100 159h3v1h-3zM103 161h3v2h-3zM113 162h1v1h-1zM120 160h1v1h-1zM121 160h2v1h-2zM123 159h3v2h-3zM132 160h2v1h-2zM133 164h1v1h-1zM143 163h2v1h-2zM0 167h1v1h-1zM2 167h2v1h-2zM7 168h1v1h-1zM13 170h3v1h-3zM23 166h1v1h-1zM20 169h1v1h-1zM24 169h1v1h-1zM32 167h3v1h-3zM38 169h2v1h-2zM48 166h2v1h-2zM45 169h1v1h-1zM52 167h3v2h-3zM58 166h2v1h-2zM63 169h2v1h-2zM68 166h1v1h-1zM75 169h1v2h-1zM80 168h1v1h-1zM88 168h1v1h-1zM92 167h1v1h-1zM99 167h3v1h-3zM106 166h2v2h-2zM105 167h2v2h-2zM111 166h1v1h-1zM118 164h2v1h-2zM123 168h1v1h-1zM133 169h2v1h-2zM138 168h1v1h-1zM138 167h2v1h-2zM145 168h1v1h-1zM4 171h2v1h-2zM10 174h1v2h-1zM17 176h1v1h-1zM20 174h2v2h-2zM28 172h2v2h-2zM31 172h1v2h-1zM33 173h2v1h-2zM41 174h3v2h-3zM41 176h2v1h-2zM47 176h2v1h-2zM51 176h3v1h-3zM59 173h1v1h-1zM64 174h1v1h-1zM64 176h2v1h-2zM67 173h2v2h-2zM68 175h3v1h-3zM73 170h1v1h-1zM82 175h1v2h-1zM86 170h2v1h-2zM88 174h1v1h-1zM91 172h1v2h-1zM99 170h2v1h-2zM107 175h3v1h-3zM106 175h2v1h-2zM114 176h2v1h-2zM112 172h3v2h-3zM117 173h3v2h-3zM127 175h1v1h-1zM121 175h1v2h-1zM131 172h1v2h-1zM133 174h3v2h-3zM139 171h1v1h-1zM4 179h2v1h-2zM2 181h3v1h-3zM10 178h3v1h-3zM13 178h1v1h-1zM12 181h1v1h-1zM19 182h2v1h-2zM29 181h1v1h-1zM32 177h1v1h-1zM32 182h1v1h-1zM37 182h2v1h-2zM43 180h3v1h-3zM49 180h2v2h-2zM54 177h2v2h-2zM66 179h2v1h-2zM69 178h2v1h-2zM72 182h3v1h-3zM74 181h2v2h-2zM77 181h2v2h-2zM83 178h2v2h-2zM79 180h1v1h-1zM89 179h2v1h-2zM93 180h1v2h-1zM98 177h1v1h-1zM97 179h1v2h-1zM105 181h1v2h-1zM109 180h1v1h-1zM120 179h2v1h-2zM125 178h1v1h-1zM132 181h3v2h-3zM137 178h1v1h-1zM134 176h2v1h-2zM143 177h2v1h-2zM5 184h2v1h-2zM11 185h2v1h-2zM15 183h1v1h-1zM24 185h3v1h-3zM22 188h2v1h-2zM29 188h2v2h-2zM34 184h3v2h-3zM32 188h1v1h-1zM42 187h2v1h-2zM45 184h2v1h-2zM52 182h2v2h-2zM57 185h1v1h-1zM60 183h2v2h-2zM65 183h2v1h-2zM72 186h1v1h-1zM78 188h1v1h-1zM80 185h3v1h-3zM90 186h1v2h-1zM93 183h1v2h-1zM93 188h2v1h-2zM101 183h2v1h-2zM105 186h2v1h-2zM114 184h1v2h-1zM111 187h3v2h-3zM121 183h2v1h-2zM121 186h1v1h-1zM123 188h1v2h-1zM122 188h1v2h-1zM128 185h1v1h-1zM131 187h2v1h-2zM139 183h2v1h-2zM144 188h1v1h-1zM4 193h1v1h-1zM1 193h2v2h-2zM7 189h1v2h-1zM9 191h2v1h-2zM12 190h2v1h-2zM19 191h1v2h-1zM25 190h1v1h-1zM29 193h1v1h-1zM35 191h2v2h-2zM42 190h2v1h-2zM38 193h3v2h-3zM48 189h2v2h-2zM54 191h2v1h-2zM52 189h3v1h-3zM56 189h2v1h-2zM64 192h2v1h-2zM61 189h2v2h-2zM70 194h3v1h-3zM70 191h2v2h-2zM77 192h2v2h-2zM80 190h2v1h-2zM85 190h2v1h-2zM93 190h1v1h-1zM94 190h2v1h-2zM98 191h1v2h-1zM101 192h1v1h-1zM104 193h2v1h-2zM112 191h1v1h-1zM120 193h1v2h-1zM123 192h2v1h-2zM126 192h3v1h-3zM132 194h2v1h-2zM133 193h1v2h-1zM135 194h1v1h-1zM143 192h1v1h-1zM1 199h2v1h-2zM10 199h1v1h-1zM18 195h3v1h-3zM21 200h2v1h-2zM26 195h3v2h-3zM27 196h3v2h-3zM34 195h2v1h-2zM35 199h1v1h-1zM38 199h1v1h-1zM44 198h2v2h-2zM43 199h1v2h-1zM53 197h1v1h-1zM58 197h2v1h-2zM61 198h1v1h-1zM70 199h1v2h-1zM72 199h2v1h-2zM74 195h2v1h-2zM77 198h2v1h-2zM79 196h1v2h-1zM85 196h3v2h-3zM94 197h2v1h-2zM103 200h1v1h-1zM99 199h1v1h-1zM103 199h1v2h-1zM105 198h1v2h-1zM110 196h2v1h-2zM111 198h2v2h-2zM118 199h2v2h-2zM124 200h1v1h-1zM126 198h2v2h-2zM133 198h2v1h-2zM137 195h3v1h-3zM141 197h2v2h-2zM4 201h1v1h-1zM6 204h3v1h-3zM8 201h3v1h-3zM13 205h2v1h-2zM22 206h1v2h-1zM25 206h1v2h-1zM27 204h2v2h-2zM33 206h1v1h-1zM30 203h1v1h-1zM36 206h1v1h-1zM48 202h2v1h-2zM48 205h3v2h-3zM50 207h2v2h-2zM50 204h1v1h-1zM55 203h2v1h-2zM62 201h3v2h-3zM70 204h1v2h-1zM71 205h2v1h-2zM76 205h1v1h-1zM78 205h1v1h-1zM84 202h1v2h-1zM79 201h1v2h-1zM87 202h1v2h-1zM90 202h1v1h-1zM95 206h2v1h-2zM97 201h2v1h-2zM99 201h1v1h-1zM108 205h1v1h-1zM111 205h2v2h-2zM121 201h1v2h-1zM127 206h2v1h-2zM127 201h3v1h-3zM131 201h3v1h-3zM132 204h1v1h-1zM136 203h1v2h-1zM144 206h3v2h-3zM4 208h1v1h-1zM7 212h2v1h-2zM8 213h2v1h-2zM13 211h2v2h-2zM23 209h2v1h-2zM29 209h3v1h-3zM32 208h1v1h-1zM39 212h2v1h-2zM42 212h1v1h-1zM46 211h2v1h-2zM52 209h2v1h-2zM50 207h2v1h-2zM59 210h2v2h-2zM62 212h3v2h-3zM64 212h2v2h-2zM72 207h1v2h-1zM68 209h1v1h-1zM74 209h3v1h-3zM77 212h3v1h-3zM81 211h2v1h-2zM89 209h1v2h-1zM89 212h2v2h-2zM96 212h1v1h-1zM101 208h1v2h-1zM104 210h1v2h-1zM106 213h1v1h-1zM110 211h2v2h-2zM111 209h1v1h-1zM116 209h1v1h-1zM124 212h2v2h-2zM127 210h1v2h-1zM131 210h3v2h-3zM137 210h2v2h-2zM145 207h1v1h-1zM0 218h1v2h-1zM9 215h1v1h-1zM7 218h3v1h-3zM14 218h3v1h-3zM20 216h1v1h-1zM18 218h1v1h-1zM25 214h2v1h-2zM27 216h3v1h-3zM34 217h1v2h-1zM39 214h1v1h-1zM39 218h3v1h-3zM44 219h1v1h-1zM52 214h1v1h-1zM59 215h2v1h-2zM58 217h1v2h-1zM66 216h2v1h-2zM62 215h2v1h-2zM71 216h1v1h-1zM76 217h1v1h-1zM84 218h2v1h-2zM88 214h2v2h-2zM95 213h3v2h-3zM100 213h3v1h-3zM104 216h3v2h-3zM113 216h3v2h-3zM121 214h2v1h-2zM126 215h3v2h-3zM128 219h2v1h-2zM139 214h2v1h-2zM135 218h1v2h-1zM140 215h3v1h-3z"/></svg><svg class="m" style="left:38.0px;top:267.0px" width="146.0" height="219.3" viewBox="0 0 146.0 219.3" shape-rendering="crispEdges"><path fill="#2848f0" stroke="#2848f0" stroke-width="0.8" d="M67 136l1 3 6 0 1-1-1-3-2-1-1 2-2-6zM81 135l-4 3 2 5 7-5zM100 142l-4 5 5 8 6 0-2 4 4 2 4-6-5-4-4 0 0-2-2-1z"/><path fill="#1a50ea" stroke="#1a50ea" stroke-width="0.8" d="M18 12l2 4-3 1-1 4 4 3 4 1 2-2 4 3 0 2 3 4 5 3 2 0 1-5 3-1 0-4-4 0-1-1-3-8 3-5 9 3 2 0 1-2 5 1-2-3 5-2 3-3 1-5-32 0 2 2 0 5-4 2-5-1-1-4-3 0-1 4 1 2zM39 10l-1-1 6-6 1 3-2 3zM0 146l0 9 0 5 8-6 0-4zM48 41l-2-4-2 1-1 3 2 2zM69 51l5 2 1 4 3-3 3 0-3-4-6-3zM63 211l-1 1 0 5-2 2 9 0 0-1-3-3z"/><path fill="#323efc" stroke="#323efc" stroke-width="0.8" d="M17 47l-6 3-1 4 6 1 1 4 5 0 1 3 5 0-1-3 1-1 4 1 2 2 0 2 3 2 6-1 2-5 3 0 1 2 5 2 5-3 0-4-5 0-2-3 1-3-2-1-2 1-5 0-1-4-1 0-3 5-5-3-10 2zM21 115l-4 0-3 3 0 9-2 5 5 2 2-2-1-2 3-4 4 1-1 3 3 3 5-2-1 5-1 1-1 7 10 4 3-3 9 1 4-4-3-3-4-1 0-5 3-2 6-1 1-3 7-2 5-3-3-4-2-5 4-1 1-3-6 0-1-2-2 0-2 4-3-2-1 1 2 3-2 2 1 4-4 4 2 1-3 2-2-3-3 4-3 0-3 3-7-1-6-2 3-6-8-4zM82 11l-3 0 0 4 1 3 7 6 5 1 1-3-3-2 1-2 1-3 4 3 4-4-3-1-5 2-5-2-2 1zM116 43l0-3-2-2-3 1-2 5 2 1zM121 89l-1 4-5-4-7 6 2 2 4 0 3 4 3-2 4-1 3-4-1-2zM88 141l2 2 3-1 0-4-2-1zM110 168l-4 2-4 7 6 1 4-7z"/><path fill="#46e1f0" stroke="#46e1f0" stroke-width="0.8" d="M78 195l0-1-6 0 0 3-3 2 4 3zM76 209l-2 3 2 1 4 1 2-2 0-3zM116 0l-26 0 3 2-1 3-4 0 4 5 0 5-2 5 3 2-1 3-5-1-2 6 2 3 3-4 2-1 2 3 3-4-1-9-4-3 5-2-1-4 3-3 10 2 2-1 0-3 8-1zM87 217l-4-1-1 2-2-1-2 2 9 0zM142 95l-4-2-2 1-2 5-4-4-2 0 2 5-3 3 0 3 8 5 4-3 2 3-1 4 6 3 0-19z"/><path fill="#38e9ea" stroke="#38e9ea" stroke-width="0.8" d="M46 92l2-9-3 0-2-3-5-2-8 0 2 5 0 4-2 2 1 2 3 2 2-1 5 6 4-1 3 3 3-2-2-4zM27 127l6 2 1 0 0-5-4-3zM39 176l-4-2-5 6 1 2 4 1 1-3 4-2zM96 54l2 7-2 3 1 7 3 0 0 3 3 1 1-6 4-1 3-2-3-4 2-3-1-2-4-4-4 1-3-2zM93 167l-5 0-3-1-1 6 2 1 4-2 4-2zM83 199l-2 7 1 2 3 0-1-5 3-1-1-2zM116 55l0-4-5 0 0 4zM127 123l-5 1-2 3 1 6 6-1 0 6 3-1 2 3 3 0 0-2-2-3 2-3-2-9 2-2-2-2 2-3-7-2-3 4 3 2z"/><path fill="#50d7fc" stroke="#50d7fc" stroke-width="0.8" d="M15 7l-3-2-1 2-4 0 0 5-5 5 7 2 3 0-1-7 3-3zM30 36l-2 5 4 3 3-1 0-4zM80 66l-3 0-1 3 7 4 4 0-3 7 5 1 1-5 3 0 2-4-5-5-3-1-4 3zM88 116l-9-10-5 2-2 3 0 4 5 1 2-1 2 6 4-1 0-2zM90 97l4-1-1-3-4 0-3-3-7 0 0 3 5 4 5-1zM110 86l-5-3 0 3-4 2-1 2 4 1 2 5-3 7 7 2 0 4 5 3 2-3 6 0 0-4-6-4-3-4-4 0-2 3-2-4 6-3 0-3-2-2zM120 120l-4 0-2 5 3 1zM129 144l-2-4-4 3-1 7 9 9 2-2 0-2 2-3-2-3 1-4-1-2z"/><path fill="#2df02d" stroke="#2df02d" stroke-width="0.8" d="M8 4l-3-4-5 0 0 49 2-1 2 3 4-2 3 1 1-4-2-3 1-3-6-7 1-1 5 2 1-2-2-2 1-5 3-1 1 3 4 1 1-3 0-1-4-3 1-4 3-1-2-4 2-2-1-2-5-1 0 2-3 3 1 7-3 0-6-2 4-5-1-3 1-4zM0 170l0 43 3 2 2-1 4-3 4 1 0 4 4-1 2-2 4 0 2-3 2 7 2-5 4 2 5-4 3 1 1 4 3-3 3 0 3-1-3-4 2-6-2-2 3-6-3-1-2 2-10 0-2 3-5-4-5 3-3-2-2 2-5-1-3 2-4-2 4-8 2 1 1 3 4-1 1-4 3 1 2-3-4-4-3 3-5-3 0-3 1-2-3-4-2-1-4 2zM39 183l3-1 2 1 2-3 5 2 6 6 2-1 1-4 2-1 2 0 1 3 4 0 0-4 4 2-1 6-11 2-1 3-7 1 0 5 3 3-5 8 2 4 5 0 3-8 6 3-2-9 7-4 0-3 6 0-1 4 4 4 2-3 4 3 1-2 3-1 1 2 5 0 3 5 4-1 1 2 4 0 2-1 3 2 6-2 3 3 2-2-3-3-1-4-2-1 2-5-1-4-7-3-4 0-1 2 4 4-4 3-4-1-1-2 0-3-4-3-3 3-6-5 0-1-3-4 5-1 2-4-4-4-4 2-2-1 1-6-2-3-2 3-10 4-1 0 0-4-4-3-3 2-1 4-4 4-2-2-10 2-4-4-1 4 1 1zM69 0l-2 1-2 6-3-2-3 2 0 4 4 0 1 2 5-2 5 3 1-4 7 1 3 3 2-1 5 2 0-5-4-5 4 0 1-3-3-2zM134 206l-6 1-3 8-4 1 1 3 24 0 0-25-5 1-2 5 2 5-6 4zM142 36l-2 4 4 5 2-1 0-9zM136 114l-3 5 2 2-2 2 1 8 4 1 4 4 4-1 0-17-6-3z"/><path fill="#1ff827" stroke="#1ff827" stroke-width="0.8" d="M17 1l3 3 3 0 1-1-2-3zM40 35l-2 0-3 4 0 4 4-3 4 1 1-3zM37 64l0 7-3 2-2 0-2 5 5 0 0-4 5 0 4-1-1 9 10 5 3-2 4 2 5-1 1 1 0 4 2 3 3-4 2-1 4 6-1 2 5 3-3 4 1 2 3 4 4-5 2-4-3-3-6-5 0-2 7-1 3 3 3-1-3-11-4-1 2-7-4 0-7-4 1-3 0-5 4-3 0-4-4 0-3 3-5-2-2 2-8-1 0 4-5 3-5-2-1-2-3 0-2 4zM37 170l-2 1 0 3 4 2 0-3zM65 95l-4 1 3 4 2 0zM94 31l-2-3-2 1-5 7 1 2 5 0 2-2zM101 30l-7 1 7 6 3-1-1-2 0-3zM121 17l-3 2-4-2-1 3 4 4 1 3-3 1 1 5-2 5 1 2 1 11 14-4-1-5-1-3 2-2 2 1 0-4 2-1-2-4 1 0 2-1 1 4 3 0 1-1 3 2 1-3 2 0 0-7-1 1-3-1-1 3-4 0-1-4-6 3-1-6-4 1z"/><path fill="#37e639" stroke="#37e639" stroke-width="0.8" d="M0 52l0 35 7 0-1-5 3 0 2 6-2 5 4 1 2 3-3 3-4-2 0-3-6 1-2 5 0 13 1 2 6 3-3 3-4-2 0 13 2 0 0 3 7-2 4 7 2 2 5-1-2 7 5-3 4 0 3 3 4-4-5-1 1-7 1-1 1-5-5 2-3-3 1-3-4-1-3 4 0 2-1 1-5-2 2-4 0-9 3-3 4 0 1 3 1-1 1-6-5 1-2-3 2-4 6-2-2-4 3-2 3 0 2 3 9-4-4-4-2 1-3-2-1-2 2-2 0-4-2-4-7 2-2 4 5 1 0 4-4 2-3-1-3-4-2 0-2-7 1-2 6 1 0-4 3 0 2-3-2-13-5 0 0-4-9 0-4-3-3 2zM49 41l-5 1 0 8 3 0 0-3 4 0zM47 89l-1 4 3 1 1 4-2 1-3-2-3 1 3 4-4 5 6 2 4-2 2 3 3-1 3 2 2-4-7-2 3-2-2-4 2-4-5-3-1-3zM74 21l6-3-1-3-4 0-4 3zM129 176l1 3-1 7-4 1 2 3 5 4 1-2 3-2 0-3 4 0 1-5 5 1-1-20-2 0-2 3-7-1-1 6-3-1-4 3 0 2zM146 55l-6-1-1 3 2 4-3 3 2 2-1 2 2 2 0 4 5 1z"/><path fill="#a096f5" stroke="#a096f5" stroke-width="0.8" d="M6 155l-6 5 0 4 12 0 3-2 0-3-6 2zM59 11l-4 5 3 3 4-3-1 8 2 3 3-2 1-3 4 4 3-1-2-7 3-3 4 0 0-4-4-1-1 3-5-2-5 2-1-2zM123 124l-3-3-3 5 3 1zM142 145l-3 4-5 1 3 4 3-3 1 4 0 6 4-4 1 0 0-9-1 1z"/><path fill="#929eef" stroke="#929eef" stroke-width="0.8" d="M12 157l3 1 1 0 0-3-2-1zM53 41l-4 0 2 6-4 0 0 3 2 0 2-1 2 1-1 3 2 4 11-1 2 1 2-2 6 2-1-4-5-2 3-4 0-9-3-3-4 10 0 3-3 1-2-5-4 0zM120 121l1-1 0-5-6 3-4-1-4 12 5-1 4-8z"/><path fill="#aa8cff" stroke="#aa8cff" stroke-width="0.8" d="M21 23l-2 5-4-1-1-3-3 1-1 5 2 2-1 2-5-2-1 1 6 7-1 3 1 3 0 4 6-3 2 2 4 0 1-3 1-1 0-3 4-1 1-5 5 3 3-4-8-7 0-3-4-2-2 2zM19 169l-2 5-6 3 1 3 5 3 3-2 4 3 1-2 2 2 4-2-1-1 5-7 0-3-4-2-2 1-4-1-2 1zM34 153l3 3-1 2 2 3-1 5 2 2-2 2 2 3-1 3 3 2 1 0 1-4-2-1 1-4 3 4 5-1 1-2-3-4 3-3-5-2 0-2 4-2-2-4 3-3 0-4-6 0 0 6-2 2-3-2-5 0zM63 146l-4 7 1 3 2 0 0 3 5 2 3-12zM128 0l-7 0-1 3 2 0 2 4 4-1 2-1z"/><path fill="#ee46dc" stroke="#ee46dc" stroke-width="0.8" d="M13 188l-2-1-4 6 0 2 4 2 3-2 5 1 2-2 4 2 3-3-6-6-3-1-1 4-4 1z"/><path fill="#e04ed6" stroke="#e04ed6" stroke-width="0.8" d="M23 62l-1 2 1 3 0 3 1 2 4-1 6 2 3-2 0-7-3-1 0-2-2-2-4-1-1 1 1 3zM31 98l-6-2-2 3 2 4-6 2-2 5 2 2 5-1-1 6 11 7 5-6 7-2-4-4-1-6 4-4-5-6-9 4zM134 52l-3-2-3 3-1 3 1 2 1 1 5-4zM146 79l0-5-5 0-2 6z"/><path fill="#f58c32" stroke="#f58c32" stroke-width="0.8" d="M55 22l-3 4-7-3-1 6 4-1 2 2 2-2 3 3 1-4zM45 32l-1-3-3 1-1 5zM51 163l-3 3 3 4 0 3 5-2 0-4z"/><path fill="#e7942c" stroke="#e7942c" stroke-width="0.8" d="M0 113l0 7 4 2 3-3-6-3zM111 206l-2 1-2 5 4 2-2 5 13 0-1-3 5-1 2-5 1-3-3-5-4 0 0 3 3 2-2 2-3-3-6 2zM135 71l1 1 5 2 1-4-3-2-2-1zM127 195l3-4-6-4-4 3 1 4-3 5 3 1 2-1 0-4z"/><path fill="#ff823e" stroke="#ff823e" stroke-width="0.8" d="M54 196l-3-3-3 6 2 2-2 6 4 4 4-8-3-3zM132 194l-5 2 1 3 3 1 2-3z"/><path fill="#8c3cf0" stroke="#8c3cf0" stroke-width="0.8" d="M1 133l-1 0 0 13 2 2 2 0 1-3 2 0 4 2 4-2 3 3 2-6-5 1-2-2-4-7-7 2zM31 182l-4 2-2-2-3 5 2 1 0 2 10 7 2-3 10 1 2-3 5 2 4-6-6-6-5-2-2 3-2-1-3 1 1-5-4 2-1 3zM58 144l12 6 4-2 3 7-1 2-7-1 5 6 1 6 6-2 2-3-2-2 4-6 1-3-2-1 1-4-10 0-1-8-6 0-4 2-6-2-2 3-2 0-2 3 2 3 1 1zM117 12l-3 5 4 2 3-1 0-6zM131 50l-1-3-14 4-1 8 3 1 3-1 3 3 2 0 2-4-1-2 1-3z"/><path fill="#7e44ea" stroke="#7e44ea" stroke-width="0.8" d="M33 2l-2-2-9 0 2 3-1 1 1 4 5 2 4-3zM102 144l0 4 2 1 0 2 4 0 5 4 6-5-1-2-7-2-4 1z"/><path fill="#9632fc" stroke="#9632fc" stroke-width="0.8" d="M21 151l-1 3-4 1 0 3-1 0-3-1-2 3 5-1 0 3-3 2-12 0 0 6 4 2 4-2 2 1 3 5 4-2 2-4 4 0 2-1 4 1 2-1 4 2 2-1 2-2-2-2 1-5-2-3 1-2-3-3 1-7-5 2-5-2-2 5zM24 153l4 4-1 2-5 0-1-4zM133 45l3 3 0 3-2 1 0 3-5 3 2 3 5-4 3 0 1-4 3-2-3-2 0-4-2-1-2-4z"/><path fill="#f0323c" stroke="#f0323c" stroke-width="0.8" d="M61 24l1-8-4 2-3-2-5 2 0 4-1 2 3 2 2-4 2 5z"/><path fill="#fa2848" stroke="#fa2848" stroke-width="0.8" d="M94 211l-2-2-4 7 6 3 14 0 3-5 0-1-3-1 1-5-4-1-1-2-4 2-3 5z"/><path fill="#3cee91" stroke="#3cee91" stroke-width="0.8" d="M78 50l3 5 0 3-4 3 0 5 3 0 3 3 4-3 5 3 3 4 2-2-1-7 2-6-2-4-4-1 1-4-3-1-2 2-4 0-3-2z"/><path fill="#2ef68b" stroke="#2ef68b" stroke-width="0.8" d="M85 98l3 3-2 4-4 4 6 7-3 2-1 2-3 1-1 2 1 1-3 3 4 0 1 3 2 0 1 6 3 0 0-2 4-2-2-3 4-2 1 1 2-1 1-2-2-3 5-1 1-4-5-2 2-3 0-3 3-1 1 7 5 0 2-5-1-1 0-4-7-2 0-5 2-3-1-4-7-2-3 2-1 5zM99 6l-3 3 1 4 3 1 1-4 5 2 3-4zM96 183l3 3 4-3-1-2-5 1z"/><path fill="#46e49d" stroke="#46e49d" stroke-width="0.8" d="M114 10l-6 3 0 2 5 3 4-6zM113 187l2-3-4-3-1 1-6 1 1 6-2 1 0 3 5 3 4-3-4-4z"/><path fill="#e8e846" stroke="#e8e846" stroke-width="0.8" d="M116 59l-6 0-2 3 2 4-2 2 4 6 6-2 1 2 5-1-2-3 1-3-2-3 3-2-3-3-3 1zM57 163l-1 8 2 2 4-4 1-4zM99 177l-3 4 1 1 5-1 0-4z"/><path fill="#daf040" stroke="#daf040" stroke-width="0.8" d="M99 169l-5 0-4 2 4 5 4-4zM134 202l-3-3-3 0-2 3 2 5 6-1z"/><path fill="#3228e4" stroke="#3228e4" stroke-width="0.8" d="M9 145l-4 0-1 3 4 2 0 4-2 1 3 6 3-5 2-2 6 0 5-8-2 0-5 3-3-4-4 2zM21 159l6 0 1-2-4-4-3 2zM74 21l0 4 3 1 5-2 1 1 4 1 0-2-7-6zM100 14l-5 4 2 9-3 4 12-1 0 4-3-1-1 1 2 2 2 1 1-2 4 1 1 3 2-1 2-5-1-5 3-1-1-3-3-3-1-3-5-3-2-3-5-2zM97 89l-1-4-3 2-4-1 3 6 1 1 1-2zM90 143l-4-5-7 5-2-5-2 0-1 1 1 8 10 0-1 4 2 1-1 3-4 6 4 5 3 1 2-5 4 3 3-1-1-4 2-2 2-1 5 2 2-4-6 0-5-8 4-5 1 2 6 3 4-1 7 2 1 2 3 0 2-7 3-3-1-2 1-6-7 2-4-2-3 2-2-1-2 5-9 4-7-1zM132 194l-2-2-4 2 1 2z"/><path fill="#2430de" stroke="#2430de" stroke-width="0.8" d="M40 35l4 4 2-2 2 4 5 0 1-4 8 0 5-4 2 2 2-3 1-6-5-4-1 3-3 2-2-3-3 1-2 2-1 4-3-3-2 2-2-2-4 1 1 2zM69 155l7 2 1-2-3-7-4 1zM56 157l-3 3-3-3-4 2 0 2 10 6 1-4 6 2 3-2 4 3 0 4 5-1-1-7-5-6-3 5-4-2 0-3zM74 212l1 7 3 0 2-2 0-3zM111 110l-2 5 2 2 4 1 6-3-1 6 2 3 5-1 1-3-2-3 2-3 7 2 1-2 4 1 1-4-2-3-4 3-3-3-2 0-2-2-1-3-2 0-2 2 0 4-6 0-2 3zM116 130l1-4-3-1-2 3-3 1 2 4 1-2zM111 181l4 3-2 3 7 3 4-3 5-1 1-7-1-3-3-2-3 4-4-2-3 2-1 0zM146 183l-6-2 0 6-4 0 0 3-3 2 0 2 3 1 1-2 4 2 5-1z"/><path fill="#3c1ef0" stroke="#3c1ef0" stroke-width="0.8" d="M43 154l2-2 0-7-3 0-3 3-3-1-1 5 5 0zM13 212l-4-1-3 1-1 2-2 1-3-2 0 6 60 0 2-2 0-5-2-1-2 1 0 2-5 1-2-5-3 2-3 0-3 3-1-4-3-1-5 4-4-2-2 5-2-7-2 3-4 0-2 2-4 1zM110 59l6 0 0-4-5 0-2 2z"/><path fill="#4696f5" stroke="#4696f5" stroke-width="0.8" d="M43 3l-5 6 1 1 4-1 2-3zM61 95l-2 3 1 3 1 1 3-2zM103 31l0 2 3 2 0-5zM108 100l2-3-2-2-2 1z"/><path fill="#389eef" stroke="#389eef" stroke-width="0.8" d="M53 41l3 3 4 0 2 5 3-1 0-3 4-10 3 3 0 9 5 3 4-2 3 2 4 0 2-2 3 1-1 4 1 1 3 0 2-2 3 2 4-1 4 4 2-6 5 0-1-8-4 2-2-1 3-5-1-3-4-1-1 2-5 0-7-6-1 5-2 2-5 0-1-2 2-3-2-3 2-4-4-1-1-1-5 2-3-1-2 1-1 6-2 3-2-2-5 4-8 0zM32 73l-4-2-4 1-2 3-3 0 0 4-6-1-1 2 2 7 2 0 3 4 3 1 4-2 0-4-5-1 2-4 7-2zM44 73l-4 1-5-1 0 5 8 2zM90 76l-2 5 2 5 3 1 3-2 1 4 3 2 1-3 4-1 0-4 5 3 0 2 2 2 3 0 4 3 1 0 1-4 5 3 2-3 2-1-1-4-4-3 4-5-1-1-3 0-1-2-5 1-1-2-6 2-6-6-2 1-1 6-3-1 0-3-3 0-3 1-1 4zM80 214l0 3 2 1 2-2-2-3zM111 157l-3 8 2 4 6 3 5 0 0 4 2 2 2-1 1-2 0-2 4-3-1-4-4-3 4-5-5-6-2-2-3 0zM102 177l1 6 7-1 1-1-3-3zM130 5l-6 2-2-4-7 1 0 7 6 1 0 6 4 2 3-1 2 7 6-4 1 4 4 0 1-3 3 1 1-24-18 0zM130 37l-3 2 4 11 3 2 2-1 0-3-3-3 3-5 4 5 0 4 2 2-2 3 6 1 0-11-2 1-4-5 2-4-2-1-4 2 0 2zM130 137l-3 1 0 2 2 4 4-1 1 2-1 4 1 1 5-1 3-4 3 4 1-1 0-13-3 1-5-4-3 0-2 3 2 3 0 2-3 0zM134 99l2-5-6 1z"/><path fill="#508cff" stroke="#508cff" stroke-width="0.8" d="M54 10l1 3-4-1-1 2-11-3-4 6 4 7 1 1 4 0 2-2 3 1 2-2-1-4 4-1 5-6 0-3zM48 84l-1 5 4 0 2 4 2-2-1-5zM58 126l-1 4-6 0-3 3 0 5 4 1 2 3 2 0 2-3 6 2 4-2-1-3 2-5 2 5 1-2 2 1 1 3 2 0 4-3 5 2 2 4 3-4 2 1 0 3 7 1 10-4 1-5 2 1 3-2 5 1 0-5-4-2-1 4-4 0-1 2-2-3-4 0-2-2-1-5 8 2 0-5 1-2-2-2-5 0 1-4-2-3-3 1 0 3-2 3 5 2-1 4-5 1 2 3-1 2-2 1-1-1-4 2 2 3-4 2 0 2-3 0-1-6-2 0-1-3-4 0 3-3-2-9-2 1-5-1 1-4 2-2-4-7 2-1 2-3-3-4-3 0 0 8-6 5 1 2 6 0-2 3-3 1 1 5 4 4-5 3zM57 188l-4 6 0 1 7-1 1-3 11-2 1-6-4-2 0 4-4 0-1-3-2 0-2 1-1 4zM77 198l-4 4-4-3-2 0-2 2 2 9-2 0-2-3-2 0-1 4 2 1 1-1 3 5 3 2 0 1 6 0-1-6 2-4 5 0 1 3 5 0 0-4-5 0-1-2 0-4zM104 95l-1 3 1 2 2-4zM130 100l-3-5-3 3-4 1-3 2 6 4 2-2 2 0z"/><path fill="#a5f03c" stroke="#a5f03c" stroke-width="0.8" d="M6 82l1 5-7 0 0 12 2-3 5-1 1 3 4 2 3-3-2-3-3-1 1-5-2-6zM51 107l-4 1-5-1 0 5 4 4-7 2-5 6 0 5 6 1 4-3 2 0 3-4 2 3 3-2-2-1 4-4-1-4 2-2zM121 172l-9-1-4 7 3 2 4-2 6-2z"/><path fill="#97f836" stroke="#97f836" stroke-width="0.8" d="M43 46l2-4-6-2-3 3-4 1-3-4-4 1-2 8 1 1 5 0 5-1 5 2 3-5zM67 87l-7-1-4-1-2 1 1 5-2 2 4 2-3 4 3 4-3 2 9 2 6-5-1-8-2-3zM60 96l5-1 1 5-5 2-1-1zM91 162l-2 5 4 0 1 3 5-1-1 2-6 8-5 1 3 4 0 1 5 5 4-3 4 3 2-1-1-6-1-1-4 4-3-3 1-2 2-4 3 0 4-7 4-1-1-4 0-4-9-4-4 3 1 4-3 1zM88 200l-1 2-3 1 1 5 2 1 0 3 1 2 2 0 2-5 2 2 3 0 3-5-3-5-5 0-1-2zM135 28l-3 1 2 4-2 1 0 4 4 1 1-2 3-2 2 1 4-1 0-5-2-1-1 3-3-1-4 1zM129 74l0 2-4 5 4 3 0 4-1 1-2 3 1 3 11-2 4 2 4 4 0-20-6 1 1-6-5-2zM125 164l4 2 1 5 3 0 1-6 7 1 2-3 3 1 0-7-1 0-4 4 0-6-1-4-3 3-2-2-2 3-1 3-3 0zM132 194l1 3-2 3 3 2-1 4 2 3 6-4-2-5 2-5-4-2-1 2z"/><path fill="#afe648" stroke="#afe648" stroke-width="0.8" d="M73 89l-2 1-2 4 3 0 2 4-1 3-2 1 3 7 5-3-1-2 3-4-5-3 1-2z"/><path fill="#f5a0cd" stroke="#f5a0cd" stroke-width="0.8" d="M111 4l-1 3-4 5 2 2 7-3 0-7zM128 58l-7 6 2 3-1 3 3 5 3 0 8-3-1-2 2-3 2 1 1-2-2-2 4-3-3-4-3 0-5 3zM125 194l-2 1 0 4-2 1 3 3 4-4 0-3z"/><path fill="#e7a8c7" stroke="#e7a8c7" stroke-width="0.8" d="M18 0l-13 0 3 4-2 1 1 2 4 0 1-2 7 3 1-4zM119 3l2-3-5 0zM87 212l-5 0 1 4 3 2 1 1 7 0 1 0-7-3 0-2z"/><path fill="#ff96d9" stroke="#ff96d9" stroke-width="0.8" d="M2 47l-2 2 1 5 3-2 4 3 2-1 1-4-3-1-4 2zM48 153l2 4 3 3 1 0 2-3 4-1-1-3 4-7-5-2-4 4-2-3-1 5zM69 0l-6 0-1 5 3 2 2-6zM102 121l1 6 4 3 0-4 3-3z"/><path fill="none" stroke="#222" stroke-opacity="0.35" stroke-width="0.5" shape-rendering="auto" d="M18 12L20 16 17 17 16 21 20 24 24 25 26 23 30 26 30 28 33 32 38 35 40 35 41 30 44 29 44 25 40 25 39 24 36 16 39 11 48 14 50 14 51 12 56 13 54 10 59 8 62 5 63 0 31 0 33 2 33 7 29 9 24 8 23 4 20 4 19 8 20 10zM17 47L11 50 10 54 16 55 17 59 22 59 23 62 28 62 27 59 28 58 32 59 34 61 34 63 37 65 43 64 45 59 48 59 49 61 54 63 59 60 59 56 54 56 52 53 53 50 51 49 49 50 44 50 43 46 42 46 39 51 34 48 24 50zM21 115L17 115 14 118 14 127 12 132 17 134 19 132 18 130 21 126 25 127 24 130 27 133 32 131 31 136 30 137 29 144 39 148 42 145 51 146 55 142 52 139 48 138 48 133 51 131 57 130 58 127 65 125 70 122 67 118 65 113 69 112 70 109 64 109 63 107 61 107 59 111 56 109 55 110 57 113 55 115 56 119 52 123 54 124 51 126 49 123 46 127 43 127 40 130 33 129 27 127 30 121 22 117zM0 146L0 155 0 160 8 154 8 150zM48 41L46 37 44 38 43 41 45 43zM82 11L79 11 79 15 80 18 87 24 92 25 93 22 90 20 91 18 92 15 96 18 100 14 97 13 92 15 87 13 85 14zM116 43L116 40 114 38 111 39 109 44 111 45zM69 51L74 53 75 57 78 54 81 54 78 50 72 47zM121 89L120 93 115 89 108 95 110 97 114 97 117 101 120 99 124 98 127 94 126 92zM67 136L68 139 74 139 75 138 74 135 72 134 71 136 69 130zM81 135L77 138 79 143 86 138zM88 141L90 143 93 142 93 138 91 137zM100 142L96 147 101 155 107 155 105 159 109 161 113 155 108 151 104 151 104 149 102 148zM110 168L106 170 102 177 108 178 112 171zM63 211L62 212 62 217 60 219 69 219 69 218 66 215zM18 0L5 0 8 4 6 5 7 7 11 7 12 5 19 8 20 4zM2 47L0 49 1 54 4 52 8 55 10 54 11 50 8 49 4 51zM48 153L50 157 53 160 54 160 56 157 60 156 59 153 63 146 58 144 54 148 52 145 51 150zM69 0L63 0 62 5 65 7 67 1zM119 3L121 0 116 0zM111 4L110 7 106 12 108 14 115 11 115 4zM128 58L121 64 123 67 122 70 125 75 128 75 136 72 135 70 137 67 139 68 140 66 138 64 142 61 139 57 136 57 131 60zM102 121L103 127 107 130 107 126 110 123zM87 212L82 212 83 216 86 218 87 219 94 219 95 219 88 216 88 214zM125 194L123 195 123 199 121 200 124 203 128 199 128 196zM15 7L12 5 11 7 7 7 7 12 2 17 9 19 12 19 11 12 14 9zM30 36L28 41 32 44 35 43 35 39zM80 66L77 66 76 69 83 73 87 73 84 80 89 81 90 76 93 76 95 72 90 67 87 66 83 69zM46 92L48 83 45 83 43 80 38 78 30 78 32 83 32 87 30 89 31 91 34 93 36 92 41 98 45 97 48 100 51 98 49 94zM88 116L79 106 74 108 72 111 72 115 77 116 79 115 81 121 85 120 85 118zM27 127L33 129 34 129 34 124 30 121zM39 176L35 174 30 180 31 182 35 183 36 180 40 178zM78 195L78 194 72 194 72 197 69 199 73 202zM76 209L74 212 76 213 80 214 82 212 82 209zM116 0L90 0 93 2 92 5 88 5 92 10 92 15 90 20 93 22 92 25 87 24 85 30 87 33 90 29 92 28 94 31 97 27 96 18 92 15 97 13 96 9 99 6 109 8 111 7 111 4 119 3zM96 54L98 61 96 64 97 71 100 71 100 74 103 75 104 69 108 68 111 66 108 62 110 59 109 57 105 53 101 54 98 52zM90 97L94 96 93 93 89 93 86 90 79 90 79 93 84 97 89 96zM93 167L88 167 85 166 84 172 86 173 90 171 94 169zM83 199L81 206 82 208 85 208 84 203 87 202 86 200zM87 217L83 216 82 218 80 217 78 219 87 219zM116 55L116 51 111 51 111 55zM110 86L105 83 105 86 101 88 100 90 104 91 106 96 103 103 110 105 110 109 115 112 117 109 123 109 123 105 117 101 114 97 110 97 108 100 106 96 112 93 112 90 110 88zM120 120L116 120 114 125 117 126zM127 123L122 124 120 127 121 133 127 132 127 138 130 137 132 140 135 140 135 138 133 135 135 132 133 123 135 121 133 119 135 116 128 114 125 118 128 120zM129 144L127 140 123 143 122 150 131 159 133 157 133 155 135 152 133 149 134 145 133 143zM142 95L138 93 136 94 134 99 130 95 128 95 130 100 127 103 127 106 135 111 139 108 141 111 140 115 146 118 146 99zM8 4L5 0 0 0 0 49 2 48 4 51 8 49 11 50 12 46 10 43 11 40 5 33 6 32 11 34 12 32 10 30 11 25 14 24 15 27 19 28 20 25 20 24 16 21 17 17 20 16 18 12 20 10 19 8 14 7 14 9 11 12 12 19 9 19 3 17 7 12 6 9 7 5zM0 52L0 87 7 87 6 82 9 82 11 88 9 93 13 94 15 97 12 100 8 98 8 95 2 96 0 101 0 114 1 116 7 119 4 122 0 120 0 133 2 133 2 136 9 134 13 141 15 143 20 142 18 149 23 146 27 146 30 149 34 145 29 144 30 137 31 136 32 131 27 133 24 130 25 127 21 126 18 130 18 132 17 133 12 131 14 127 14 118 17 115 21 115 22 118 23 117 24 111 19 112 17 109 19 105 25 103 23 99 26 97 29 97 31 100 40 96 36 92 34 93 31 91 30 89 32 87 32 83 30 79 23 81 21 85 26 86 26 90 22 92 19 91 16 87 14 87 12 80 13 78 19 79 19 75 22 75 24 72 22 59 17 59 17 55 8 55 4 52 1 54zM0 170L0 213 3 215 5 214 9 211 13 212 13 216 17 215 19 213 23 213 25 210 27 217 29 212 33 214 38 210 41 211 42 215 45 212 48 212 51 211 48 207 50 201 48 199 51 193 48 192 46 194 36 194 34 197 29 193 24 196 21 194 19 196 14 195 11 197 7 195 11 187 13 188 14 191 18 190 19 186 22 187 24 184 20 180 17 183 12 180 12 177 13 175 10 171 8 170 4 172zM17 1L20 4 23 4 24 3 22 0zM40 35L38 35 35 39 35 43 39 40 43 41 44 38zM37 64L37 71 34 73 32 73 30 78 35 78 35 74 40 74 44 73 43 82 53 87 56 85 60 87 65 86 66 87 66 91 68 94 71 90 73 89 77 95 76 97 81 100 78 104 79 106 82 110 86 105 88 101 85 98 79 93 79 91 86 90 89 93 92 92 89 81 85 80 87 73 83 73 76 69 77 66 77 61 81 58 81 54 77 54 74 57 69 55 67 57 59 56 59 60 54 63 49 61 48 59 45 59 43 63zM37 170L35 171 35 174 39 176 39 173zM39 183L42 182 44 183 46 180 51 182 57 188 59 187 60 183 62 182 64 182 65 185 69 185 69 181 73 183 72 189 61 191 60 194 53 195 53 200 56 203 51 211 53 215 58 215 61 207 67 210 65 201 72 197 72 194 78 194 77 198 81 202 83 199 87 202 88 200 91 199 92 201 97 201 100 206 104 205 105 207 109 207 111 206 114 208 120 206 123 209 125 207 122 204 121 200 119 199 121 194 120 190 113 187 109 187 108 189 112 193 108 196 104 195 103 193 103 190 99 187 96 190 90 185 90 184 87 180 92 179 94 175 90 171 86 173 84 172 85 166 83 163 81 166 71 170 70 170 70 166 66 163 63 165 62 169 58 173 56 171 46 173 42 169 41 173 42 174zM49 41L44 42 44 50 47 50 47 47 51 47zM47 89L46 93 49 94 50 98 48 99 45 97 42 98 45 102 41 107 47 109 51 107 53 110 56 109 59 111 61 107 54 105 57 103 55 99 57 95 52 92 51 89zM69 0L67 1 65 7 62 5 59 7 59 11 63 11 64 13 69 11 74 14 75 10 82 11 85 14 87 13 92 15 92 10 88 5 92 5 93 2 90 0zM74 21L80 18 79 15 75 15 71 18zM65 95L61 96 64 100 66 100zM94 31L92 28 90 29 85 36 86 38 91 38 93 36zM101 30L94 31 101 37 104 36 103 34 103 31zM121 17L118 19 114 17 113 20 117 24 118 27 115 28 116 33 114 38 115 40 116 51 130 47 129 42 128 39 130 37 132 38 132 34 134 33 132 29 133 29 135 28 136 32 139 32 140 31 143 33 144 30 146 30 146 23 145 24 142 23 141 26 137 26 136 22 130 25 129 19 125 20zM129 176L130 179 129 186 125 187 127 190 132 194 133 192 136 190 136 187 140 187 141 182 146 183 145 163 143 163 141 166 134 165 133 171 130 170 126 173 126 175zM134 206L128 207 125 215 121 216 122 219 146 219 146 194 141 195 139 200 141 205 135 209zM142 36L140 40 144 45 146 44 146 35zM146 55L140 54 139 57 141 61 138 64 140 66 139 68 141 70 141 74 146 75zM136 114L133 119 135 121 133 123 134 131 138 132 142 136 146 135 146 118 140 115zM1 133L0 133 0 146 2 148 4 148 5 145 7 145 11 147 15 145 18 148 20 142 15 143 13 141 9 134 2 136zM21 151L20 154 16 155 16 158 15 158 12 157 10 160 15 159 15 162 12 164 0 164 0 170 4 172 8 170 10 171 13 176 17 174 19 170 23 170 25 169 29 170 31 169 35 171 37 170 39 168 37 166 38 161 36 158 37 156 34 153 35 146 30 148 25 146 23 151zM33 2L31 0 22 0 24 3 23 4 24 8 29 10 33 7zM31 182L27 184 25 182 22 187 24 188 24 190 34 197 36 194 46 195 48 192 53 194 57 188 51 182 46 180 44 183 42 182 39 183 40 178 36 180 35 183zM58 144L70 150 74 148 77 155 76 157 69 156 74 162 75 168 81 166 83 163 81 161 85 155 86 152 84 151 85 147 75 147 74 139 68 139 64 141 58 139 56 142 54 142 52 145 54 148 55 149zM117 12L114 17 118 19 121 18 121 12zM133 45L136 48 136 51 134 52 134 55 129 58 131 61 136 57 139 57 140 53 143 51 140 49 140 45 138 44 136 40zM131 50L130 47 116 51 115 59 118 60 121 59 124 62 126 62 128 58 127 56 128 53zM102 144L102 148 104 149 104 151 108 151 113 155 119 150 118 148 111 146 107 147zM21 23L19 28 15 27 14 24 11 25 10 30 12 32 11 34 6 32 5 33 11 40 10 43 11 46 11 50 17 47 19 49 23 49 24 46 25 45 25 42 29 41 30 36 35 39 38 35 30 28 30 25 26 23 24 25zM12 157L15 158 16 158 16 155 14 154zM6 155L0 160 0 164 12 164 15 162 15 159 9 161zM19 169L17 174 11 177 12 180 17 183 20 181 24 184 25 182 27 184 31 182 30 181 35 174 35 171 31 169 29 170 25 169 23 170zM34 153L37 156 36 158 38 161 37 166 39 168 37 170 39 173 38 176 41 178 42 178 43 174 41 173 42 169 45 173 50 172 51 170 48 166 51 163 46 161 46 159 50 157 48 153 51 150 51 146 45 146 45 152 43 154 40 152 35 152zM59 11L55 16 58 19 62 16 61 24 63 27 66 25 67 22 71 26 74 25 72 18 75 15 79 15 79 11 75 10 74 13 69 11 64 13 63 11zM53 41L49 41 51 47 47 47 47 50 49 50 51 49 53 50 52 53 54 57 65 56 67 57 69 55 75 57 74 53 69 51 72 47 72 38 69 35 65 45 65 48 62 49 60 44 56 44zM63 146L59 153 60 156 62 156 62 159 67 161 70 149zM128 0L121 0 120 3 122 3 124 7 128 6 130 5zM120 121L121 120 121 115 115 118 111 117 107 129 112 128 116 120zM123 124L120 121 117 126 120 127zM142 145L139 149 134 150 137 154 140 151 141 155 141 161 145 157 146 157 146 148 145 149zM43 3L38 9 39 10 43 9 45 6zM54 10L55 13 51 12 50 14 39 11 35 17 39 24 40 25 44 25 46 23 49 24 51 22 50 18 54 17 59 11 59 8zM53 41L56 44 60 44 62 49 65 48 65 45 69 35 72 38 72 47 77 50 81 48 84 50 88 50 90 48 93 49 92 53 93 54 96 54 98 52 101 54 105 53 109 57 111 51 116 51 115 43 111 45 109 44 112 39 111 36 107 35 106 37 101 37 94 31 93 36 91 38 86 38 85 36 87 33 85 30 87 26 83 25 82 24 77 26 74 25 72 26 71 32 69 35 67 33 62 37 54 37zM32 73L28 71 24 72 22 75 19 75 19 79 13 78 12 80 14 87 16 87 19 91 22 92 26 90 26 86 21 85 23 81 30 79zM44 73L40 74 35 73 35 78 43 80zM48 84L47 89 51 89 53 93 55 91 54 86zM58 126L57 130 51 130 48 133 48 138 52 139 54 142 56 142 58 139 64 141 68 139 67 136 69 131 71 136 72 134 74 135 75 138 77 138 81 135 86 137 88 141 91 137 93 138 93 141 100 142 110 138 111 133 113 134 116 132 121 133 121 128 117 126 116 130 112 130 111 132 109 129 105 129 103 127 102 122 110 124 110 119 111 117 109 115 104 115 105 111 103 108 100 109 100 112 98 115 103 117 102 121 97 122 99 125 98 127 96 128 95 127 91 129 93 132 89 134 89 136 86 136 85 130 83 130 82 127 78 127 81 124 79 115 77 116 72 115 73 111 75 109 71 102 73 101 75 98 72 94 69 94 69 102 63 107 64 109 70 109 68 112 65 113 66 118 70 122 65 125zM57 188L53 194 53 195 60 194 61 191 72 189 73 183 69 181 69 185 65 185 64 182 62 182 60 183 59 187zM61 95L59 98 60 101 61 102 64 100zM77 198L73 202 69 199 67 199 65 201 67 210 65 210 63 207 61 207 60 211 62 212 63 211 66 216 69 218 69 219 75 219 74 213 76 209 81 209 82 212 87 212 87 208 82 208 81 206 81 202zM90 76L88 81 90 86 93 87 96 85 97 89 100 91 101 88 105 87 105 83 110 86 110 88 112 90 115 90 119 93 120 93 121 89 126 92 128 89 130 88 129 84 125 81 129 76 128 75 125 75 124 73 119 74 118 72 112 74 106 68 104 69 103 75 100 74 100 71 97 71 94 72 93 76zM80 214L80 217 82 218 84 216 82 213zM103 31L103 33 106 35 106 30zM104 95L103 98 104 100 106 96zM108 100L110 97 108 95 106 96zM111 157L108 165 110 169 116 172 121 172 121 176 123 178 125 177 126 175 126 173 130 170 129 166 125 163 129 158 124 152 122 150 119 150zM102 177L103 183 110 182 111 181 108 178zM130 5L124 7 122 3 115 4 115 11 121 12 121 18 125 20 128 19 130 26 136 22 137 26 141 26 142 23 145 24 146 0 128 0zM130 37L127 39 131 50 134 52 136 51 136 48 133 45 136 40 140 45 140 49 142 51 140 54 146 55 146 44 144 45 140 40 142 36 140 35 136 37 136 39zM130 100L127 95 124 98 120 99 117 101 123 105 125 103 127 103zM130 137L127 138 127 140 129 144 133 143 134 145 133 149 134 150 139 149 142 145 145 149 146 148 146 135 143 136 138 132 135 132 133 135 135 138 135 140 132 140zM134 99L136 94 130 95zM78 50L81 55 81 58 77 61 77 66 80 66 83 69 87 66 92 69 95 73 97 71 96 64 98 58 96 54 92 53 93 49 90 48 88 50 84 50 81 48zM85 98L88 101 86 105 82 109 88 116 85 118 84 120 81 121 80 123 81 124 78 127 82 127 83 130 85 130 86 136 89 136 89 134 93 132 91 129 95 127 96 128 98 127 99 125 97 122 102 121 103 117 98 115 100 112 100 109 103 108 104 115 109 115 111 110 110 109 110 105 103 103 103 98 105 95 104 91 97 89 94 91 93 96zM99 6L96 9 97 13 100 14 101 10 106 12 109 8zM114 10L108 13 108 15 113 18 117 12zM96 183L99 186 103 183 102 181 97 182zM113 187L115 184 111 181 110 182 104 183 105 189 103 190 103 193 108 196 112 193 108 189zM40 35L44 39 46 37 48 41 53 41 54 37 62 37 67 33 69 35 71 32 72 26 67 22 66 25 63 27 61 24 58 25 56 27 55 31 52 28 50 30 48 28 44 29 45 31zM9 145L5 145 4 148 8 150 8 154 6 155 9 161 12 156 14 154 20 154 25 146 23 146 18 149 15 145 11 147zM43 154L45 152 45 145 42 145 39 148 36 147 35 152 40 152zM21 159L27 159 28 157 24 153 21 155zM13 212L9 211 6 212 5 214 3 215 0 213 0 219 60 219 62 217 62 212 60 211 58 212 58 214 53 215 51 210 48 212 45 212 42 215 41 211 38 210 33 214 29 212 27 217 25 210 23 213 19 213 17 215 13 216zM74 21L74 25 77 26 82 24 83 25 87 26 87 24 80 18zM69 155L76 157 77 155 74 148 70 149zM56 157L53 160 50 157 46 159 46 161 56 167 57 163 63 165 66 163 70 166 70 170 75 169 74 162 69 156 66 161 62 159 62 156zM74 212L75 219 78 219 80 217 80 214zM100 14L95 18 97 27 94 31 106 30 106 34 103 33 102 34 104 36 106 37 107 35 111 36 112 39 114 38 116 33 115 28 118 27 117 24 114 21 113 18 108 15 106 12 101 10zM97 89L96 85 93 87 89 86 92 92 93 93 94 91zM90 143L86 138 79 143 77 138 75 138 74 139 75 147 85 147 84 151 86 152 85 155 81 161 85 166 88 167 90 162 94 165 97 164 96 160 98 158 100 157 105 159 107 155 101 155 96 147 100 142 101 144 107 147 111 146 118 148 119 150 122 150 124 143 127 140 126 138 127 132 120 134 116 132 113 134 111 133 109 138 100 142 93 141zM110 59L116 59 116 55 111 55 109 57zM111 110L109 115 111 117 115 118 121 115 120 121 122 124 127 123 128 120 126 117 128 114 135 116 136 114 140 115 141 111 139 108 135 111 132 108 130 108 128 106 127 103 125 103 123 105 123 109 117 109 115 112zM116 130L117 126 114 125 112 128 109 129 111 133 112 131zM111 181L115 184 113 187 120 190 124 187 129 186 130 179 129 176 126 174 123 178 119 176 116 178 115 178zM146 183L140 181 140 187 136 187 136 190 133 192 133 194 136 195 137 193 141 195 146 194zM132 194L130 192 126 194 127 196zM61 24L62 16 58 18 55 16 50 18 50 22 49 24 52 26 54 22 56 27zM94 211L92 209 88 216 94 219 108 219 111 214 111 213 108 212 109 207 105 206 104 204 100 206 97 211zM55 22L52 26 45 23 44 29 48 28 50 30 52 28 55 31 56 27zM45 32L44 29 41 30 40 35zM0 113L0 120 4 122 7 119 1 116zM51 163L48 166 51 170 51 173 56 171 56 167zM54 196L51 193 48 199 50 201 48 207 52 211 56 203 53 200zM111 206L109 207 107 212 111 214 109 219 122 219 121 216 126 215 128 210 129 207 126 202 122 202 122 205 125 207 123 209 120 206 114 208zM135 71L136 72 141 74 142 70 139 68 137 67zM127 195L130 191 124 187 120 190 121 194 118 199 121 200 123 199 123 195zM132 194L127 196 128 199 131 200 133 197zM43 46L45 42 39 40 36 43 32 44 29 40 25 41 23 49 24 50 29 50 34 49 39 51 42 46zM6 82L7 87 0 87 0 99 2 96 7 95 8 98 12 100 15 97 13 94 10 93 11 88 9 82zM51 107L47 108 42 107 42 112 46 116 39 118 34 124 34 129 40 130 44 127 46 127 49 123 51 126 54 124 52 123 56 119 55 115 57 113zM67 87L60 86 56 85 54 86 55 91 53 93 57 95 54 99 57 103 54 105 63 107 69 102 68 94 66 91zM73 89L71 90 69 94 72 94 74 98 73 101 71 102 74 109 79 106 78 104 81 100 76 97 77 95zM91 162L89 167 93 167 94 170 99 169 98 171 92 179 87 180 90 184 90 185 95 190 99 187 103 190 105 189 104 183 103 182 99 186 96 183 97 181 99 177 102 177 106 170 110 169 109 165 109 161 100 157 96 160 97 164 94 165zM88 200L87 202 84 203 85 208 87 209 87 212 88 214 90 214 92 209 94 211 97 211 100 206 97 201 92 201 91 199zM135 28L132 29 134 33 132 34 132 38 136 39 137 37 140 35 142 36 146 35 146 30 144 29 143 32 140 31 136 32zM129 74L129 76 125 81 129 84 129 88 128 89 126 92 127 95 138 93 142 95 146 99 146 79 140 80 141 74 136 72zM125 164L129 166 130 171 133 171 134 165 141 166 143 163 146 164 146 157 145 157 141 161 141 155 140 151 137 154 135 152 133 155 132 158 129 158zM121 172L112 171 108 178 111 180 115 178 121 176zM132 194L133 197 131 200 134 202 133 206 135 209 141 205 139 200 141 195 137 193 136 195zM23 62L22 64 23 67 23 70 24 72 28 71 34 73 37 71 37 64 34 63 34 61 32 59 28 58 27 59 28 62zM31 98L25 96 23 99 25 103 19 105 17 110 19 112 24 111 23 117 34 124 39 118 46 116 42 112 41 106 45 102 40 96 31 100zM13 188L11 187 7 193 7 195 11 197 14 195 19 196 21 194 25 196 28 193 22 187 19 186 18 190 14 191zM134 52L131 50 128 53 127 56 128 58 129 59 134 55zM146 79L146 74 141 74 139 80zM116 59L110 59 108 62 110 66 108 68 112 74 118 72 119 74 124 73 122 70 123 67 121 64 124 62 121 59 118 60zM57 163L56 171 58 173 62 169 63 165zM99 169L94 169 90 171 94 176 98 172zM99 177L96 181 97 182 102 181 102 177zM134 202L131 199 128 199 126 202 128 207 134 206z"/><path fill="none" stroke="#fff" stroke-width="0.9" stroke-dasharray="1.5 1.5" shape-rendering="auto" d="M18 12L20 16 17 17 16 21 20 24 24 25 26 23 30 26 30 28 33 32 38 35 40 35 41 30 44 29 44 25 40 25 39 24 36 16 39 11 48 14 50 14 51 12 56 13 54 10 59 8 62 5 63 0 31 0 33 2 33 7 29 9 24 8 23 4 20 4 19 8 20 10zM17 47L11 50 10 54 16 55 17 59 22 59 23 62 28 62 27 59 28 58 32 59 34 61 34 63 37 65 43 64 45 59 48 59 49 61 54 63 59 60 59 56 54 56 52 53 53 50 51 49 49 50 44 50 43 46 42 46 39 51 34 48 24 50zM21 115L17 115 14 118 14 127 12 132 17 134 19 132 18 130 21 126 25 127 24 130 27 133 32 131 31 136 30 137 29 144 39 148 42 145 51 146 55 142 52 139 48 138 48 133 51 131 57 130 58 127 65 125 70 122 67 118 65 113 69 112 70 109 64 109 63 107 61 107 59 111 56 109 55 110 57 113 55 115 56 119 52 123 54 124 51 126 49 123 46 127 43 127 40 130 33 129 27 127 30 121 22 117zM0 146L0 155 0 160 8 154 8 150zM48 41L46 37 44 38 43 41 45 43zM82 11L79 11 79 15 80 18 87 24 92 25 93 22 90 20 91 18 92 15 96 18 100 14 97 13 92 15 87 13 85 14zM116 43L116 40 114 38 111 39 109 44 111 45zM69 51L74 53 75 57 78 54 81 54 78 50 72 47zM121 89L120 93 115 89 108 95 110 97 114 97 117 101 120 99 124 98 127 94 126 92zM67 136L68 139 74 139 75 138 74 135 72 134 71 136 69 130zM81 135L77 138 79 143 86 138zM88 141L90 143 93 142 93 138 91 137zM100 142L96 147 101 155 107 155 105 159 109 161 113 155 108 151 104 151 104 149 102 148zM110 168L106 170 102 177 108 178 112 171zM63 211L62 212 62 217 60 219 69 219 69 218 66 215zM18 0L5 0 8 4 6 5 7 7 11 7 12 5 19 8 20 4zM2 47L0 49 1 54 4 52 8 55 10 54 11 50 8 49 4 51zM48 153L50 157 53 160 54 160 56 157 60 156 59 153 63 146 58 144 54 148 52 145 51 150zM69 0L63 0 62 5 65 7 67 1zM119 3L121 0 116 0zM111 4L110 7 106 12 108 14 115 11 115 4zM128 58L121 64 123 67 122 70 125 75 128 75 136 72 135 70 137 67 139 68 140 66 138 64 142 61 139 57 136 57 131 60zM102 121L103 127 107 130 107 126 110 123zM87 212L82 212 83 216 86 218 87 219 94 219 95 219 88 216 88 214zM125 194L123 195 123 199 121 200 124 203 128 199 128 196zM15 7L12 5 11 7 7 7 7 12 2 17 9 19 12 19 11 12 14 9zM30 36L28 41 32 44 35 43 35 39zM80 66L77 66 76 69 83 73 87 73 84 80 89 81 90 76 93 76 95 72 90 67 87 66 83 69zM46 92L48 83 45 83 43 80 38 78 30 78 32 83 32 87 30 89 31 91 34 93 36 92 41 98 45 97 48 100 51 98 49 94zM88 116L79 106 74 108 72 111 72 115 77 116 79 115 81 121 85 120 85 118zM27 127L33 129 34 129 34 124 30 121zM39 176L35 174 30 180 31 182 35 183 36 180 40 178zM78 195L78 194 72 194 72 197 69 199 73 202zM76 209L74 212 76 213 80 214 82 212 82 209zM116 0L90 0 93 2 92 5 88 5 92 10 92 15 90 20 93 22 92 25 87 24 85 30 87 33 90 29 92 28 94 31 97 27 96 18 92 15 97 13 96 9 99 6 109 8 111 7 111 4 119 3zM96 54L98 61 96 64 97 71 100 71 100 74 103 75 104 69 108 68 111 66 108 62 110 59 109 57 105 53 101 54 98 52zM90 97L94 96 93 93 89 93 86 90 79 90 79 93 84 97 89 96zM93 167L88 167 85 166 84 172 86 173 90 171 94 169zM83 199L81 206 82 208 85 208 84 203 87 202 86 200zM87 217L83 216 82 218 80 217 78 219 87 219zM116 55L116 51 111 51 111 55zM110 86L105 83 105 86 101 88 100 90 104 91 106 96 103 103 110 105 110 109 115 112 117 109 123 109 123 105 117 101 114 97 110 97 108 100 106 96 112 93 112 90 110 88zM120 120L116 120 114 125 117 126zM127 123L122 124 120 127 121 133 127 132 127 138 130 137 132 140 135 140 135 138 133 135 135 132 133 123 135 121 133 119 135 116 128 114 125 118 128 120zM129 144L127 140 123 143 122 150 131 159 133 157 133 155 135 152 133 149 134 145 133 143zM142 95L138 93 136 94 134 99 130 95 128 95 130 100 127 103 127 106 135 111 139 108 141 111 140 115 146 118 146 99zM8 4L5 0 0 0 0 49 2 48 4 51 8 49 11 50 12 46 10 43 11 40 5 33 6 32 11 34 12 32 10 30 11 25 14 24 15 27 19 28 20 25 20 24 16 21 17 17 20 16 18 12 20 10 19 8 14 7 14 9 11 12 12 19 9 19 3 17 7 12 6 9 7 5zM0 52L0 87 7 87 6 82 9 82 11 88 9 93 13 94 15 97 12 100 8 98 8 95 2 96 0 101 0 114 1 116 7 119 4 122 0 120 0 133 2 133 2 136 9 134 13 141 15 143 20 142 18 149 23 146 27 146 30 149 34 145 29 144 30 137 31 136 32 131 27 133 24 130 25 127 21 126 18 130 18 132 17 133 12 131 14 127 14 118 17 115 21 115 22 118 23 117 24 111 19 112 17 109 19 105 25 103 23 99 26 97 29 97 31 100 40 96 36 92 34 93 31 91 30 89 32 87 32 83 30 79 23 81 21 85 26 86 26 90 22 92 19 91 16 87 14 87 12 80 13 78 19 79 19 75 22 75 24 72 22 59 17 59 17 55 8 55 4 52 1 54zM0 170L0 213 3 215 5 214 9 211 13 212 13 216 17 215 19 213 23 213 25 210 27 217 29 212 33 214 38 210 41 211 42 215 45 212 48 212 51 211 48 207 50 201 48 199 51 193 48 192 46 194 36 194 34 197 29 193 24 196 21 194 19 196 14 195 11 197 7 195 11 187 13 188 14 191 18 190 19 186 22 187 24 184 20 180 17 183 12 180 12 177 13 175 10 171 8 170 4 172zM17 1L20 4 23 4 24 3 22 0zM40 35L38 35 35 39 35 43 39 40 43 41 44 38zM37 64L37 71 34 73 32 73 30 78 35 78 35 74 40 74 44 73 43 82 53 87 56 85 60 87 65 86 66 87 66 91 68 94 71 90 73 89 77 95 76 97 81 100 78 104 79 106 82 110 86 105 88 101 85 98 79 93 79 91 86 90 89 93 92 92 89 81 85 80 87 73 83 73 76 69 77 66 77 61 81 58 81 54 77 54 74 57 69 55 67 57 59 56 59 60 54 63 49 61 48 59 45 59 43 63zM37 170L35 171 35 174 39 176 39 173zM39 183L42 182 44 183 46 180 51 182 57 188 59 187 60 183 62 182 64 182 65 185 69 185 69 181 73 183 72 189 61 191 60 194 53 195 53 200 56 203 51 211 53 215 58 215 61 207 67 210 65 201 72 197 72 194 78 194 77 198 81 202 83 199 87 202 88 200 91 199 92 201 97 201 100 206 104 205 105 207 109 207 111 206 114 208 120 206 123 209 125 207 122 204 121 200 119 199 121 194 120 190 113 187 109 187 108 189 112 193 108 196 104 195 103 193 103 190 99 187 96 190 90 185 90 184 87 180 92 179 94 175 90 171 86 173 84 172 85 166 83 163 81 166 71 170 70 170 70 166 66 163 63 165 62 169 58 173 56 171 46 173 42 169 41 173 42 174zM49 41L44 42 44 50 47 50 47 47 51 47zM47 89L46 93 49 94 50 98 48 99 45 97 42 98 45 102 41 107 47 109 51 107 53 110 56 109 59 111 61 107 54 105 57 103 55 99 57 95 52 92 51 89zM69 0L67 1 65 7 62 5 59 7 59 11 63 11 64 13 69 11 74 14 75 10 82 11 85 14 87 13 92 15 92 10 88 5 92 5 93 2 90 0zM74 21L80 18 79 15 75 15 71 18zM65 95L61 96 64 100 66 100zM94 31L92 28 90 29 85 36 86 38 91 38 93 36zM101 30L94 31 101 37 104 36 103 34 103 31zM121 17L118 19 114 17 113 20 117 24 118 27 115 28 116 33 114 38 115 40 116 51 130 47 129 42 128 39 130 37 132 38 132 34 134 33 132 29 133 29 135 28 136 32 139 32 140 31 143 33 144 30 146 30 146 23 145 24 142 23 141 26 137 26 136 22 130 25 129 19 125 20zM129 176L130 179 129 186 125 187 127 190 132 194 133 192 136 190 136 187 140 187 141 182 146 183 145 163 143 163 141 166 134 165 133 171 130 170 126 173 126 175zM134 206L128 207 125 215 121 216 122 219 146 219 146 194 141 195 139 200 141 205 135 209zM142 36L140 40 144 45 146 44 146 35zM146 55L140 54 139 57 141 61 138 64 140 66 139 68 141 70 141 74 146 75zM136 114L133 119 135 121 133 123 134 131 138 132 142 136 146 135 146 118 140 115zM1 133L0 133 0 146 2 148 4 148 5 145 7 145 11 147 15 145 18 148 20 142 15 143 13 141 9 134 2 136zM21 151L20 154 16 155 16 158 15 158 12 157 10 160 15 159 15 162 12 164 0 164 0 170 4 172 8 170 10 171 13 176 17 174 19 170 23 170 25 169 29 170 31 169 35 171 37 170 39 168 37 166 38 161 36 158 37 156 34 153 35 146 30 148 25 146 23 151zM33 2L31 0 22 0 24 3 23 4 24 8 29 10 33 7zM31 182L27 184 25 182 22 187 24 188 24 190 34 197 36 194 46 195 48 192 53 194 57 188 51 182 46 180 44 183 42 182 39 183 40 178 36 180 35 183zM58 144L70 150 74 148 77 155 76 157 69 156 74 162 75 168 81 166 83 163 81 161 85 155 86 152 84 151 85 147 75 147 74 139 68 139 64 141 58 139 56 142 54 142 52 145 54 148 55 149zM117 12L114 17 118 19 121 18 121 12zM133 45L136 48 136 51 134 52 134 55 129 58 131 61 136 57 139 57 140 53 143 51 140 49 140 45 138 44 136 40zM131 50L130 47 116 51 115 59 118 60 121 59 124 62 126 62 128 58 127 56 128 53zM102 144L102 148 104 149 104 151 108 151 113 155 119 150 118 148 111 146 107 147zM21 23L19 28 15 27 14 24 11 25 10 30 12 32 11 34 6 32 5 33 11 40 10 43 11 46 11 50 17 47 19 49 23 49 24 46 25 45 25 42 29 41 30 36 35 39 38 35 30 28 30 25 26 23 24 25zM12 157L15 158 16 158 16 155 14 154zM6 155L0 160 0 164 12 164 15 162 15 159 9 161zM19 169L17 174 11 177 12 180 17 183 20 181 24 184 25 182 27 184 31 182 30 181 35 174 35 171 31 169 29 170 25 169 23 170zM34 153L37 156 36 158 38 161 37 166 39 168 37 170 39 173 38 176 41 178 42 178 43 174 41 173 42 169 45 173 50 172 51 170 48 166 51 163 46 161 46 159 50 157 48 153 51 150 51 146 45 146 45 152 43 154 40 152 35 152zM59 11L55 16 58 19 62 16 61 24 63 27 66 25 67 22 71 26 74 25 72 18 75 15 79 15 79 11 75 10 74 13 69 11 64 13 63 11zM53 41L49 41 51 47 47 47 47 50 49 50 51 49 53 50 52 53 54 57 65 56 67 57 69 55 75 57 74 53 69 51 72 47 72 38 69 35 65 45 65 48 62 49 60 44 56 44zM63 146L59 153 60 156 62 156 62 159 67 161 70 149zM128 0L121 0 120 3 122 3 124 7 128 6 130 5zM120 121L121 120 121 115 115 118 111 117 107 129 112 128 116 120zM123 124L120 121 117 126 120 127zM142 145L139 149 134 150 137 154 140 151 141 155 141 161 145 157 146 157 146 148 145 149zM43 3L38 9 39 10 43 9 45 6zM54 10L55 13 51 12 50 14 39 11 35 17 39 24 40 25 44 25 46 23 49 24 51 22 50 18 54 17 59 11 59 8zM53 41L56 44 60 44 62 49 65 48 65 45 69 35 72 38 72 47 77 50 81 48 84 50 88 50 90 48 93 49 92 53 93 54 96 54 98 52 101 54 105 53 109 57 111 51 116 51 115 43 111 45 109 44 112 39 111 36 107 35 106 37 101 37 94 31 93 36 91 38 86 38 85 36 87 33 85 30 87 26 83 25 82 24 77 26 74 25 72 26 71 32 69 35 67 33 62 37 54 37zM32 73L28 71 24 72 22 75 19 75 19 79 13 78 12 80 14 87 16 87 19 91 22 92 26 90 26 86 21 85 23 81 30 79zM44 73L40 74 35 73 35 78 43 80zM48 84L47 89 51 89 53 93 55 91 54 86zM58 126L57 130 51 130 48 133 48 138 52 139 54 142 56 142 58 139 64 141 68 139 67 136 69 131 71 136 72 134 74 135 75 138 77 138 81 135 86 137 88 141 91 137 93 138 93 141 100 142 110 138 111 133 113 134 116 132 121 133 121 128 117 126 116 130 112 130 111 132 109 129 105 129 103 127 102 122 110 124 110 119 111 117 109 115 104 115 105 111 103 108 100 109 100 112 98 115 103 117 102 121 97 122 99 125 98 127 96 128 95 127 91 129 93 132 89 134 89 136 86 136 85 130 83 130 82 127 78 127 81 124 79 115 77 116 72 115 73 111 75 109 71 102 73 101 75 98 72 94 69 94 69 102 63 107 64 109 70 109 68 112 65 113 66 118 70 122 65 125zM57 188L53 194 53 195 60 194 61 191 72 189 73 183 69 181 69 185 65 185 64 182 62 182 60 183 59 187zM61 95L59 98 60 101 61 102 64 100zM77 198L73 202 69 199 67 199 65 201 67 210 65 210 63 207 61 207 60 211 62 212 63 211 66 216 69 218 69 219 75 219 74 213 76 209 81 209 82 212 87 212 87 208 82 208 81 206 81 202zM90 76L88 81 90 86 93 87 96 85 97 89 100 91 101 88 105 87 105 83 110 86 110 88 112 90 115 90 119 93 120 93 121 89 126 92 128 89 130 88 129 84 125 81 129 76 128 75 125 75 124 73 119 74 118 72 112 74 106 68 104 69 103 75 100 74 100 71 97 71 94 72 93 76zM80 214L80 217 82 218 84 216 82 213zM103 31L103 33 106 35 106 30zM104 95L103 98 104 100 106 96zM108 100L110 97 108 95 106 96zM111 157L108 165 110 169 116 172 121 172 121 176 123 178 125 177 126 175 126 173 130 170 129 166 125 163 129 158 124 152 122 150 119 150zM102 177L103 183 110 182 111 181 108 178zM130 5L124 7 122 3 115 4 115 11 121 12 121 18 125 20 128 19 130 26 136 22 137 26 141 26 142 23 145 24 146 0 128 0zM130 37L127 39 131 50 134 52 136 51 136 48 133 45 136 40 140 45 140 49 142 51 140 54 146 55 146 44 144 45 140 40 142 36 140 35 136 37 136 39zM130 100L127 95 124 98 120 99 117 101 123 105 125 103 127 103zM130 137L127 138 127 140 129 144 133 143 134 145 133 149 134 150 139 149 142 145 145 149 146 148 146 135 143 136 138 132 135 132 133 135 135 138 135 140 132 140zM134 99L136 94 130 95zM78 50L81 55 81 58 77 61 77 66 80 66 83 69 87 66 92 69 95 73 97 71 96 64 98 58 96 54 92 53 93 49 90 48 88 50 84 50 81 48zM85 98L88 101 86 105 82 109 88 116 85 118 84 120 81 121 80 123 81 124 78 127 82 127 83 130 85 130 86 136 89 136 89 134 93 132 91 129 95 127 96 128 98 127 99 125 97 122 102 121 103 117 98 115 100 112 100 109 103 108 104 115 109 115 111 110 110 109 110 105 103 103 103 98 105 95 104 91 97 89 94 91 93 96zM99 6L96 9 97 13 100 14 101 10 106 12 109 8zM114 10L108 13 108 15 113 18 117 12zM96 183L99 186 103 183 102 181 97 182zM113 187L115 184 111 181 110 182 104 183 105 189 103 190 103 193 108 196 112 193 108 189zM40 35L44 39 46 37 48 41 53 41 54 37 62 37 67 33 69 35 71 32 72 26 67 22 66 25 63 27 61 24 58 25 56 27 55 31 52 28 50 30 48 28 44 29 45 31zM9 145L5 145 4 148 8 150 8 154 6 155 9 161 12 156 14 154 20 154 25 146 23 146 18 149 15 145 11 147zM43 154L45 152 45 145 42 145 39 148 36 147 35 152 40 152zM21 159L27 159 28 157 24 153 21 155zM13 212L9 211 6 212 5 214 3 215 0 213 0 219 60 219 62 217 62 212 60 211 58 212 58 214 53 215 51 210 48 212 45 212 42 215 41 211 38 210 33 214 29 212 27 217 25 210 23 213 19 213 17 215 13 216zM74 21L74 25 77 26 82 24 83 25 87 26 87 24 80 18zM69 155L76 157 77 155 74 148 70 149zM56 157L53 160 50 157 46 159 46 161 56 167 57 163 63 165 66 163 70 166 70 170 75 169 74 162 69 156 66 161 62 159 62 156zM74 212L75 219 78 219 80 217 80 214zM100 14L95 18 97 27 94 31 106 30 106 34 103 33 102 34 104 36 106 37 107 35 111 36 112 39 114 38 116 33 115 28 118 27 117 24 114 21 113 18 108 15 106 12 101 10zM97 89L96 85 93 87 89 86 92 92 93 93 94 91zM90 143L86 138 79 143 77 138 75 138 74 139 75 147 85 147 84 151 86 152 85 155 81 161 85 166 88 167 90 162 94 165 97 164 96 160 98 158 100 157 105 159 107 155 101 155 96 147 100 142 101 144 107 147 111 146 118 148 119 150 122 150 124 143 127 140 126 138 127 132 120 134 116 132 113 134 111 133 109 138 100 142 93 141zM110 59L116 59 116 55 111 55 109 57zM111 110L109 115 111 117 115 118 121 115 120 121 122 124 127 123 128 120 126 117 128 114 135 116 136 114 140 115 141 111 139 108 135 111 132 108 130 108 128 106 127 103 125 103 123 105 123 109 117 109 115 112zM116 130L117 126 114 125 112 128 109 129 111 133 112 131zM111 181L115 184 113 187 120 190 124 187 129 186 130 179 129 176 126 174 123 178 119 176 116 178 115 178zM146 183L140 181 140 187 136 187 136 190 133 192 133 194 136 195 137 193 141 195 146 194zM132 194L130 192 126 194 127 196zM61 24L62 16 58 18 55 16 50 18 50 22 49 24 52 26 54 22 56 27zM94 211L92 209 88 216 94 219 108 219 111 214 111 213 108 212 109 207 105 206 104 204 100 206 97 211zM55 22L52 26 45 23 44 29 48 28 50 30 52 28 55 31 56 27zM45 32L44 29 41 30 40 35zM0 113L0 120 4 122 7 119 1 116zM51 163L48 166 51 170 51 173 56 171 56 167zM54 196L51 193 48 199 50 201 48 207 52 211 56 203 53 200zM111 206L109 207 107 212 111 214 109 219 122 219 121 216 126 215 128 210 129 207 126 202 122 202 122 205 125 207 123 209 120 206 114 208zM135 71L136 72 141 74 142 70 139 68 137 67zM127 195L130 191 124 187 120 190 121 194 118 199 121 200 123 199 123 195zM132 194L127 196 128 199 131 200 133 197zM43 46L45 42 39 40 36 43 32 44 29 40 25 41 23 49 24 50 29 50 34 49 39 51 42 46zM6 82L7 87 0 87 0 99 2 96 7 95 8 98 12 100 15 97 13 94 10 93 11 88 9 82zM51 107L47 108 42 107 42 112 46 116 39 118 34 124 34 129 40 130 44 127 46 127 49 123 51 126 54 124 52 123 56 119 55 115 57 113zM67 87L60 86 56 85 54 86 55 91 53 93 57 95 54 99 57 103 54 105 63 107 69 102 68 94 66 91zM73 89L71 90 69 94 72 94 74 98 73 101 71 102 74 109 79 106 78 104 81 100 76 97 77 95zM91 162L89 167 93 167 94 170 99 169 98 171 92 179 87 180 90 184 90 185 95 190 99 187 103 190 105 189 104 183 103 182 99 186 96 183 97 181 99 177 102 177 106 170 110 169 109 165 109 161 100 157 96 160 97 164 94 165zM88 200L87 202 84 203 85 208 87 209 87 212 88 214 90 214 92 209 94 211 97 211 100 206 97 201 92 201 91 199zM135 28L132 29 134 33 132 34 132 38 136 39 137 37 140 35 142 36 146 35 146 30 144 29 143 32 140 31 136 32zM129 74L129 76 125 81 129 84 129 88 128 89 126 92 127 95 138 93 142 95 146 99 146 79 140 80 141 74 136 72zM125 164L129 166 130 171 133 171 134 165 141 166 143 163 146 164 146 157 145 157 141 161 141 155 140 151 137 154 135 152 133 155 132 158 129 158zM121 172L112 171 108 178 111 180 115 178 121 176zM132 194L133 197 131 200 134 202 133 206 135 209 141 205 139 200 141 195 137 193 136 195zM23 62L22 64 23 67 23 70 24 72 28 71 34 73 37 71 37 64 34 63 34 61 32 59 28 58 27 59 28 62zM31 98L25 96 23 99 25 103 19 105 17 110 19 112 24 111 23 117 34 124 39 118 46 116 42 112 41 106 45 102 40 96 31 100zM13 188L11 187 7 193 7 195 11 197 14 195 19 196 21 194 25 196 28 193 22 187 19 186 18 190 14 191zM134 52L131 50 128 53 127 56 128 58 129 59 134 55zM146 79L146 74 141 74 139 80zM116 59L110 59 108 62 110 66 108 68 112 74 118 72 119 74 124 73 122 70 123 67 121 64 124 62 121 59 118 60zM57 163L56 171 58 173 62 169 63 165zM99 169L94 169 90 171 94 176 98 172zM99 177L96 181 97 182 102 181 102 177zM134 202L131 199 128 199 126 202 128 207 134 206z"/><path fill="#fff" d="M50 4h3v2h-3zM106 3h1v1h-1zM106 1h2v2h-2zM108 5h3v2h-3zM104 5h3v1h-3zM136 4h1v1h-1zM145 5h2v1h-2zM39 7h3v2h-3zM42 8h1v2h-1zM37 10h2v2h-2zM37 10h1v1h-1zM53 8h1v1h-1zM84 9h1v2h-1zM108 9h2v2h-2zM114 8h2v1h-2zM114 10h1v1h-1zM112 9h2v1h-2zM114 8h1v1h-1zM111 7h2v2h-2zM117 7h2v1h-2zM132 8h2v1h-2zM3 14h2v1h-2zM7 12h1v1h-1zM25 15h3v1h-3zM50 17h1v1h-1zM58 15h2v2h-2zM67 13h3v1h-3zM78 14h1v1h-1zM76 12h1v1h-1zM77 14h3v2h-3zM74 17h1v1h-1zM87 14h2v2h-2zM95 12h2v1h-2zM105 13h1v1h-1zM111 16h2v1h-2zM109 13h2v2h-2zM110 13h1v1h-1zM114 16h3v1h-3zM109 13h1v2h-1zM13 18h1v1h-1zM25 20h2v2h-2zM32 19h3v1h-3zM70 23h1v2h-1zM74 19h3v1h-3zM2 28h3v1h-3zM5 29h2v1h-2zM1 30h2v1h-2zM2 24h2v1h-2zM35 29h2v1h-2zM53 28h3v2h-3zM65 28h2v1h-2zM68 28h2v2h-2zM75 26h2v2h-2zM75 26h3v1h-3zM76 25h3v1h-3zM74 27h1v2h-1zM94 28h2v1h-2zM96 26h1v2h-1zM91 27h3v1h-3zM92 30h1v1h-1zM101 29h1v1h-1zM114 24h2v1h-2zM121 29h1v1h-1zM125 24h2v1h-2zM7 35h2v2h-2zM9 35h1v2h-1zM8 31h3v1h-3zM6 34h3v1h-3zM24 35h3v1h-3zM39 34h1v2h-1zM39 32h2v1h-2zM36 35h2v1h-2zM39 35h2v1h-2zM57 35h1v2h-1zM57 30h3v1h-3zM59 31h2v2h-2zM60 34h2v1h-2zM64 33h1v2h-1zM63 33h1v1h-1zM64 35h1v2h-1zM62 33h3v1h-3zM64 32h2v1h-2zM71 33h1v1h-1zM68 35h1v2h-1zM68 32h1v2h-1zM72 34h1v2h-1zM71 30h2v2h-2zM90 32h2v2h-2zM93 35h1v1h-1zM96 34h1v1h-1zM94 32h1v1h-1zM92 36h3v1h-3zM105 30h2v1h-2zM106 30h1v2h-1zM106 34h3v1h-3zM105 36h2v1h-2zM123 30h1v1h-1zM26 37h2v1h-2zM30 39h2v1h-2zM37 41h2v1h-2zM50 39h3v1h-3zM52 41h2v1h-2zM53 40h3v1h-3zM54 41h3v2h-3zM92 42h2v1h-2zM96 41h1v1h-1zM95 41h2v1h-2zM93 38h3v1h-3zM98 37h1v2h-1zM128 40h2v1h-2zM19 43h1v1h-1zM48 44h1v1h-1zM50 47h3v2h-3zM141 44h1v2h-1zM5 53h3v1h-3zM3 50h1v2h-1zM0 50h1v2h-1zM4 51h1v1h-1zM18 52h1v1h-1zM47 54h1v1h-1zM50 54h2v1h-2zM65 53h2v2h-2zM112 54h1v1h-1zM131 51h2v2h-2zM138 51h1v1h-1zM6 59h1v2h-1zM39 56h1v1h-1zM55 55h2v1h-2zM60 60h1v1h-1zM55 57h3v1h-3zM56 55h1v1h-1zM57 60h2v1h-2zM74 54h2v1h-2zM83 55h3v2h-3zM86 60h2v1h-2zM104 59h3v1h-3zM14 62h3v1h-3zM19 65h1v1h-1zM19 63h3v1h-3zM22 63h2v2h-2zM21 64h1v1h-1zM33 62h1v2h-1zM38 64h1v1h-1zM38 63h3v2h-3zM37 62h3v2h-3zM37 64h3v1h-3zM47 65h3v1h-3zM80 66h1v1h-1zM126 62h1v1h-1zM134 63h1v1h-1zM39 67h2v1h-2zM54 70h3v2h-3zM59 69h2v1h-2zM87 72h2v1h-2zM145 70h1v2h-1zM6 78h2v1h-2zM15 75h1v1h-1zM27 75h1v1h-1zM36 77h2v1h-2zM41 75h1v1h-1zM67 77h1v2h-1zM93 78h2v1h-2zM22 79h1v2h-1zM56 83h2v1h-2zM83 85h1v2h-1zM121 79h2v1h-2zM144 85h2v1h-2zM25 86h3v1h-3zM56 89h1v2h-1zM65 87h1v1h-1zM84 85h2v1h-2zM99 87h2v2h-2zM99 91h2v2h-2zM97 91h1v1h-1zM102 86h2v1h-2zM132 90h3v2h-3zM54 94h3v2h-3zM62 93h1v1h-1zM61 96h3v1h-3zM61 92h2v1h-2zM65 94h2v1h-2zM61 93h2v1h-2zM73 94h2v1h-2zM74 92h3v1h-3zM74 92h3v1h-3zM77 93h1v2h-1zM103 94h2v2h-2zM100 97h2v2h-2zM99 96h2v1h-2zM102 95h2v1h-2zM103 92h1v1h-1zM103 95h1v2h-1zM104 91h1v1h-1zM105 92h2v2h-2zM106 95h3v2h-3zM119 96h1v1h-1zM128 94h3v1h-3zM130 93h1v1h-1zM133 92h1v1h-1zM128 92h3v1h-3zM127 96h3v1h-3zM138 96h3v1h-3zM134 91h2v2h-2zM135 93h1v2h-1zM134 93h1v2h-1zM10 99h2v1h-2zM18 102h2v1h-2zM61 100h2v1h-2zM61 103h2v1h-2zM62 99h2v1h-2zM66 103h2v2h-2zM69 100h1v1h-1zM68 101h3v1h-3zM69 98h2v2h-2zM70 97h2v1h-2zM85 97h2v2h-2zM109 98h2v2h-2zM16 108h1v1h-1zM57 106h1v1h-1zM54 104h2v1h-2zM57 108h2v1h-2zM58 103h3v1h-3zM61 106h2v2h-2zM66 103h2v1h-2zM63 106h2v1h-2zM64 109h3v1h-3zM74 103h2v2h-2zM97 106h1v1h-1zM102 108h1v1h-1zM120 104h1v1h-1zM9 115h2v2h-2zM57 111h2v1h-2zM69 113h3v1h-3zM72 114h2v1h-2zM70 110h3v2h-3zM70 110h1v1h-1zM67 114h2v1h-2zM81 112h2v2h-2zM99 113h3v1h-3zM101 110h1v1h-1zM102 110h1v1h-1zM101 113h1v1h-1zM111 114h1v1h-1zM2 116h3v1h-3zM27 119h3v1h-3zM29 121h1v2h-1zM26 118h3v2h-3zM24 121h1v1h-1zM39 117h1v1h-1zM71 116h1v1h-1zM76 116h2v1h-2zM89 117h3v2h-3zM96 119h2v2h-2zM99 116h2v1h-2zM100 119h3v1h-3zM100 117h3v1h-3zM99 118h1v1h-1zM99 119h1v2h-1zM121 121h1v1h-1zM122 120h2v2h-2zM136 121h1v2h-1zM26 122h2v1h-2zM27 122h2v2h-2zM25 121h1v2h-1zM24 125h2v2h-2zM34 125h1v1h-1zM52 125h2v2h-2zM52 123h2v2h-2zM53 127h2v1h-2zM52 121h3v1h-3zM69 123h1v1h-1zM77 127h2v1h-2zM81 124h3v2h-3zM119 123h1v1h-1zM118 127h1v2h-1zM117 124h1v2h-1zM121 122h1v1h-1zM26 131h1v1h-1zM25 133h2v1h-2zM28 131h2v1h-2zM27 131h2v2h-2zM29 130h2v1h-2zM56 131h3v2h-3zM95 131h2v1h-2zM93 131h1v2h-1zM93 128h1v2h-1zM94 130h2v1h-2zM91 129h2v2h-2zM109 130h2v1h-2zM113 128h2v2h-2zM109 130h3v1h-3zM112 129h2v1h-2zM118 131h3v1h-3zM127 132h1v1h-1zM13 138h3v1h-3zM16 137h2v2h-2zM16 138h1v2h-1zM14 139h1v1h-1zM15 135h2v1h-2zM28 140h2v2h-2zM54 134h1v1h-1zM84 137h3v1h-3zM89 136h2v1h-2zM89 134h2v1h-2zM88 135h1v1h-1zM88 135h3v1h-3zM104 136h1v1h-1zM119 137h3v1h-3zM128 138h1v1h-1zM132 138h3v2h-3zM133 134h2v2h-2zM128 134h1v2h-1zM129 137h3v2h-3zM5 145h2v1h-2zM12 143h2v1h-2zM21 144h1v2h-1zM38 143h2v2h-2zM55 144h2v1h-2zM87 144h1v1h-1zM87 144h1v1h-1zM88 144h1v1h-1zM90 142h2v1h-2zM98 142h3v2h-3zM107 141h2v1h-2zM118 144h3v1h-3zM124 141h1v1h-1zM126 142h1v1h-1zM123 141h2v2h-2zM127 145h2v1h-2zM129 144h2v1h-2zM133 146h1v1h-1zM129 145h1v1h-1zM130 141h3v2h-3zM137 145h1v2h-1zM46 147h2v1h-2zM70 151h1v2h-1zM97 147h2v2h-2zM131 150h1v1h-1zM135 147h2v1h-2zM138 150h3v1h-3zM138 148h1v2h-1zM135 147h2v1h-2zM21 155h2v1h-2zM24 157h2v1h-2zM20 155h2v1h-2zM23 152h1v2h-1zM29 153h2v2h-2zM31 157h2v1h-2zM39 158h1v1h-1zM36 155h1v1h-1zM40 154h3v2h-3zM37 157h1v1h-1zM53 158h3v1h-3zM91 156h1v1h-1zM127 157h2v2h-2zM133 157h1v2h-1zM128 157h2v2h-2zM127 153h1v2h-1zM7 159h2v1h-2zM21 163h1v2h-1zM140 161h2v1h-2zM1 168h1v2h-1zM8 166h1v1h-1zM16 165h3v1h-3zM31 165h1v1h-1zM47 169h2v1h-2zM58 167h3v1h-3zM67 170h3v1h-3zM69 166h1v2h-1zM67 169h1v2h-1zM69 165h2v2h-2zM79 166h1v1h-1zM92 167h2v1h-2zM107 168h2v1h-2zM119 165h1v2h-1zM122 165h3v2h-3zM145 168h2v2h-2zM3 174h3v1h-3zM8 175h1v1h-1zM32 170h2v1h-2zM34 171h1v1h-1zM35 175h2v2h-2zM34 173h2v1h-2zM41 172h2v1h-2zM37 176h3v2h-3zM40 171h1v2h-1zM37 174h2v1h-2zM56 172h1v2h-1zM62 173h1v1h-1zM102 175h2v2h-2zM110 173h1v1h-1zM125 173h3v1h-3zM122 174h3v1h-3zM127 175h1v1h-1zM122 171h1v1h-1zM124 171h3v1h-3zM129 171h1v2h-1zM38 179h2v1h-2zM41 178h2v1h-2zM37 179h2v2h-2zM37 179h2v1h-2zM46 177h1v1h-1zM89 180h2v2h-2zM87 178h1v2h-1zM88 177h2v1h-2zM89 181h1v1h-1zM103 181h1v2h-1zM112 180h3v1h-3zM111 178h2v1h-2zM113 180h1v1h-1zM111 177h1v1h-1zM24 186h1v2h-1zM43 188h1v1h-1zM96 187h1v1h-1zM102 185h2v2h-2zM99 184h2v1h-2zM101 185h2v2h-2zM101 184h2v1h-2zM102 188h2v1h-2zM109 188h1v1h-1zM13 193h2v1h-2zM46 192h1v2h-1zM51 191h1v1h-1zM50 190h2v1h-2zM50 192h2v1h-2zM53 193h2v1h-2zM62 190h3v1h-3zM71 188h2v1h-2zM73 192h3v2h-3zM83 190h1v2h-1zM131 190h2v1h-2zM132 194h1v2h-1zM132 192h3v1h-3zM128 191h2v1h-2zM69 199h2v2h-2zM116 200h3v2h-3zM118 196h2v1h-2zM119 195h2v1h-2zM117 200h2v2h-2zM144 198h2v1h-2zM9 205h2v2h-2zM52 206h2v2h-2zM66 203h2v2h-2zM103 201h1v2h-1zM124 205h1v1h-1zM125 206h2v1h-2zM122 203h3v1h-3zM127 203h1v1h-1zM137 205h1v2h-1zM38 211h1v1h-1zM59 209h1v1h-1zM92 209h1v1h-1zM91 207h2v1h-2zM92 211h3v1h-3zM94 211h3v1h-3zM95 211h1v1h-1zM99 207h2v1h-2zM108 210h1v2h-1zM114 209h3v2h-3zM126 212h1v2h-1zM12 213h1v1h-1zM82 217h1v2h-1zM81 216h3v2h-3zM84 217h1v1h-1zM82 213h2v2h-2zM100 215h1v2h-1zM105 213h2v2h-2zM127 217h2v1h-2z"/></svg><svg class="m" style="left:201.0px;top:267.0px" width="146.0" height="219.3" viewBox="0 0 146.0 219.3" shape-rendering="crispEdges"><path fill="#2848f0" stroke="#2848f0" stroke-width="0.8" d="M33 0l-28 0 3 1-2 3 0 3 2 0 2-2 4 1 0 2-3 1 1 5 7-3 1-5 4-1 0 2 3 1 5-2 1-4zM18 43l-16 9-2 6 0 9 6 1-2 5-4 0 0 6 2 1 2-1 4 2-2-6 7-2 4 3 1-2 4 1 0 3 5 3 3-1 4 2 5-4-5-4 1-6-2 0-4-4 1-1 4-2 2 1 2-2-1-2-3 0 0-1-3-1 0-3 2-1 4 1 2-2-3-5 2-2-4-3-2 3-8-3-2 4zM28 62l-4 2 0-4 3 0zM10 114l-3 1-1 3 2 2 2 0 1 3 4 0 2-4zM54 74l-3 0-2 5 6-1-2-2zM64 127l-2-1 0 7-5 2-2 5-3-1-2 2 1 3 3 1 2 6 5 3 3-1-5-6 1-2 9 1 3 3 3-2-1-4 2-2-5-6 0-2 4-2 0-3-4-3-4 4-2 0zM121 163l-4 3-2-1 1 5 5 0 1-1z"/><path fill="#1a50ea" stroke="#1a50ea" stroke-width="0.8" d="M5 91l-5-1 0 9 4-4 2 2 2-3zM74 62l1 3-3 2-1 5 5 1 4-2-3-3 5 0 0-2-4-2 3-3-4-2zM102 8l4 1-4 5-3 0-2 2 2 3 3-3 8 6-2 4 3 4 2-4 4 0 0 5-6-1-2 2 1 4 4 0-1 5 3 5 6 0 1-2 0-3-6-5 0-5 4 1 1-3 3 1 8-5-1-6 2-2-1-4-3-1-3 2-1-4-12 3 0-3 1-1-3-2-1 3-3 1-2-8-3 2zM114 14l3 3-3 2-2-4zM109 208l-3 2 1 1 4 0-1 4-7-2-1 2-3-2-3 1 0 5 24 0-2-2-3 0-1-4 2-2-3-5-3 0zM122 49l-2 2 3 2-1 3-3-1-3 2 1 2 4 2 2 6-1 4 4 4 3-3 5 2-1-3 2-2-2-3 4-8 5 4-2 6-2 1 0 2 3 4 5 0 0-28-6 0-2-2-3 4-7-1-3 3zM123 82l-4 5-3-3-1 1 0 2 3 3-1 2 2 1 6-1zM123 138l-1 2 2 5 6 3 4 0 8-3 3 2 1-18-8-2-3 1-4 8 1 3-2 2zM146 32l-3 3 3 3z"/><path fill="#323efc" stroke="#323efc" stroke-width="0.8" d="M16 90l2 3 6-2-1-2-3-2zM30 143l-2 1 1 3 1 3 4 0 0-3zM80 16l-3 1-2 2-3-2-4 2 0 4 4 2 1 4-1 7 4-1 3 3 4-1 5-4 0-5 3 0 2-4-7-6-2 3-4-2zM53 29l-1 3-2-1-2 0 1 2-9 8 1 2 3 2 5-2-1-2 5-6zM96 29l-5 0 1 3 2 0zM107 66l-5 0 2 5-2 3 8 1 0-6-1 0zM85 131l-1 7-2 1 3 5 0 4 4-1 4 1 5-6 3 1 1-5 4 2 1-2 2 1 1-3-2-3-4 1-2-2-5 6-4 1-1-1 1-3-2-4-2 2z"/><path fill="#46e1f0" stroke="#46e1f0" stroke-width="0.8" d="M48 171l3-2-3-6-6 3 1 3zM112 15l2 4 3-2-3-3zM125 108l0-1-7-5-2 6 2 2 2-3zM146 79l0-4-5 0-3 3 2 3z"/><path fill="#38e9ea" stroke="#38e9ea" stroke-width="0.8" d="M21 109l-5 3 2 3-3 8 3 1 3-2 3 3 2-4 5-1 2-5 3 5 4-2 4 3-2-5 1-3-2-4-3 0-2-4-4 1-3 4-4 1zM38 0l0 5 6 3-1-8zM39 56l-2 3 4 2 2-3zM57 78l-2 8 3 0 1 2 2-1 2-8 3 1 1-1 2-3 1-4-6-1-1 4zM34 126l-1-4-5 3 3 3zM98 50l-2 4 2 7 4-1 4-3-3-2 2-5zM135 0l-2 1 3 3 2 4-1 2 3 4 6-1 0-13z"/><path fill="#50d7fc" stroke="#50d7fc" stroke-width="0.8" d="M6 15l-1 7 3 1-3 3 1 4-2 7 4 1 1-1 3 0 2-3-1-3 4 1 4-9-2-4-4 2-2-3-4 2-1-6zM62 0l-1 4-4 4 2 4 2 0 0-4 2-1 3-1 6 1 2-1 0-4-3-2zM126 0l-10 0 0 2-2 2 1 5-1 1 0 3 7-2 0-5 6 0zM124 96l-1 3-3 2 6 4 3-5zM133 164l-4-2-2 2-1 2 3 5 4-4z"/><path fill="#2df02d" stroke="#2df02d" stroke-width="0.8" d="M19 11l2 1 2-2 1-5-4 1zM38 60l-2 2-2-1-5 2 0 2 4 3 2 0-1 6 5-1 2-4 3 1 1 4 9-1 3-8 2-1 2 6-2 3 2 3 2-1 4-11-10-10-2 2-5 1-2-4 2-2-1-3-5-1-2 3 2 2-1 6-2 2zM38 130l-4-4-2 2 2 4zM83 152l2-5-6-2-1 3-3-1-3 2 0 3 5 1-5 5 1 1 2 1 8 0-2-7zM88 217l-1-2-5 2-4 0 1 2 7 0zM117 59l-2-4-7 0-6 5 1 5 4 1 2-6 4 3zM136 4l-4 3 3 3-2 3 1 4-2 2 1 6 3 1 3-5 7-1 0-7-6 1-3-4 1-2z"/><path fill="#1ff827" stroke="#1ff827" stroke-width="0.8" d="M1 35l-1 11 4 1 2 4 12-8 4 2 5-8 3 2 2-3-4-4-4-1-2 2-3-5-2 4 2 5-5-3-2 3-3 0-1 1-4-1-1 2zM12 190l-5-1 1 4-3 1-1 5 2 4 2 0 0 2-8 4 0 10 47 0 3-2 0-3 4-1 2-3-3-2-1-2 2-1 5 3 1-5-1-3 2-2 0-4-2-8 1-2 6 0 2-6 4-1 4 2 1-2 3 2 0 6 7-4 1 2 0 2-7 2 4 4 4-5 4 4 3-4 0-8 2 0-1-5 3-1 1-2 10 1 1-4-2-2-4 2-3-4 3-5-7 0-1 2-3 1-3-4-4 0-3 4 0 4-9 2-13-6-3 3-4 0-2-1-2 1-4-1 2 7-2 0-5-1 0 3-3 0 0-3-3 0 0-4-1-1-5 3-1-5 1-2-5-5-1 1-1 4-4 0-2-4-2 2-5-2 4 5-4 2 3 5-1 1 5 4-2 1-3-1 1 5 4 4 4 0 5 2 4-1 2 3 4-2-1 4 7 6-2 2-2-3-2 2-8 1-2-2-5-1-4 3-1-3-6 1zM23 89l1 2 2 1 7 1 0 5 5-2 0-6 1-3-5-5-7-2zM115 72l1-4-3-1-2 2zM126 92l3 4-3 2 3 2-1 3-2 2-1-2-7-2 7 6 0 2 7 0 1-5 2-1 3 3 2-8 3-2-1-2 0-5 2 0 2 3 0-13-6 2-2-3-2-1-2 2 0 3-2 0 2 4-3 1-2 3zM109 102l-4-5-1 7zM125 169l-4 1 1 2-2 5 0 4 6 3 3 4 3-2 3 5 3-3 5 2 3-3 0-28-2 0-3 1-1 3-6 1-1 3-6 5zM133 205l-6 2-1 2-3-1-2 0-1 2 4 3-5 2-3-4-2 2 1 4 3 0 2 2 26 0 0-7-9 1zM138 69l-3 0-2 2 1 4 4-4z"/><path fill="#37e639" stroke="#37e639" stroke-width="0.8" d="M0 99l0 17 6 1 1-2-3-4 3-1 0-4 2-2-4-4 1-3-2-2zM10 119l-2 1-1 2-7 1 0 36 1 1 4 0 0-5-2-5 3-1 0-3-2-2 3-2-1-2 2-4 1 0 2-5-1-4 4-1 1-3-4 0zM28 62l-1-2-3 0 0 4zM26 121l-2 4 4 5 3-2-3-3 5-3-2-2zM34 58l3 1 2-3-2-3-2 0zM41 92l-2 4 0 1 5-3-1-2zM51 22l-2 1-2 3 0 4 1 1 2 0 2 1 3-4 0-2-2 1zM48 41l1 2 4 1 1-1-2-6zM87 73l-5 2-12-3-1 4-3 4-1 4 3 5-1 3 3 0 2-2-1-3 4-3 1 1 6-2-1 4 4 0 1-3 7 1 1-2-3-5-1-1zM71 133l0 3 5 5 3 1 3-3-2-4-6-3zM77 200l-3-1-1 4 2 0-3 5-1 4 1 1 3 1 2-2 3 0 3-4-5-2-2-3zM116 74l-5-2-3 6 4 3 3 0z"/><path fill="#a096f5" stroke="#a096f5" stroke-width="0.8" d="M47 114l-2 2-3-1 2 6-6 8 0 2 5 1 2 3 4-2-2-5 3-3 0-4-4-2 4-2zM69 146l-9-1-1 2 4 6-2 1-3-2-5 3 3 2 0 3 2 0 3-2 2 3 4-7 1 7 5-2-1-1 5-5-5-1 0-3zM67 107l7 2-1-6-4-2z"/><path fill="#929eef" stroke="#929eef" stroke-width="0.8" d="M37 53l2 3 4 2 1-6-2-2-3 0zM110 55l1-5 3-2 3 3-2 5 1 1 3-2 3 1 1-3-3-2 2-2 3 2 2-1 1-3-5-3-4 2-3-1-3-4-2 1-2 2-1 5-3 1-3 5 3 2zM140 62l-3-4-4 8 2 3 3 0 2-1 2-6z"/><path fill="#aa8cff" stroke="#aa8cff" stroke-width="0.8" d="M33 52l-2 1-1 4 4 0 1-4zM92 57l-5 1-2 3 2 2-3 5 4 2 0 3 7 0 3 2 4-1 2-3-2-5-5-2 0-2-4-2zM109 60l-2 6 1 3 8 6 2-1 4-3 1-4-7 1-1 4-4-3 2-2 3 1 1-3-2-4-2 1zM68 127l3 0 1-2-1-3-4 1z"/><path fill="#ee46dc" stroke="#ee46dc" stroke-width="0.8" d="M8 7l-5-2-3 2 0 4 3-1 4 4z"/><path fill="#e04ed6" stroke="#e04ed6" stroke-width="0.8" d="M102 66l1-1-1-5-5 2 0 2zM109 181l0 5-6 4 2 5 5 1 4-3 3 2 0 3-2 0 0 5 6-2-1-6 1-1 3 3 2 0 3-5-1-1 1-4-3-3-6-3-2 2-2 1-5-3zM82 194l-2 1-1 3-3 5 2 3 5 2 5-7-4-1 2-6z"/><path fill="#f83ce8" stroke="#f83ce8" stroke-width="0.8" d="M43 92l0-2-3-3-1 0-2 3 1 6 3-4zM19 100l1 2-1 2 0 2-2 2 1 3 4-2 3 2 4-1 3-2 0-2 4-1-3-7-4 1-8-2zM66 6l0 6 2 2 5-2-1-5zM45 95l-6 1 3 5z"/><path fill="#f58c32" stroke="#f58c32" stroke-width="0.8" d="M88 95l-1 2-5 4-1-3-5 1 2 3 4 0 1 3-1 2 2 2 4-2 2 3 3-1 1 2 2-1 3-2-1-5 3-1 3 2 1-9-6-7-3 1-1 5zM0 159l0 9 4 3 2-3-2-2 0-6z"/><path fill="#e7942c" stroke="#e7942c" stroke-width="0.8" d="M77 68l3 3-4 2 6 2 5-2 1-3-4-2zM0 73l4 0 2-5-6-1zM103 178l-7 0-1 6 5 7 7-2 3-3-1-2 2-3 5 3 3-1 3-11-1-2-8 2-6-3-2 4 1 2zM146 20l-7 1-3 5 1 3-1 2-1 3 5 3 6-5z"/><path fill="#8c3cf0" stroke="#8c3cf0" stroke-width="0.8" d="M1 86l-1 4 5 1-1-5zM48 90l-2-2-3 2 0 2 1 1z"/><path fill="#7e44ea" stroke="#7e44ea" stroke-width="0.8" d="M39 78l-5 4 5 5 1 0 5-3-2-2 0-5zM48 115l2 2-4 2 4 2 0 4-3 4 4 1 1-4 2 0 7 2 0-5 2-3-1-6-1-1-5 4-3-4zM65 18l-2 2 0 3-4-1-4 4 0 2-2 6 0 1 5 0 9 4-2 2 0 2-4 2 1 4-2 2 2 5-2 3 6 4 2-4 2 0 5 3 2-3 4 2 4 0 2-3 3-1 2 0 1 3 6 1-3-7 2-4 7 0 3-1 1-5-4-3-2 4-3 0-2-4-2 4-3-1-1 3-3-1 1-2 2-1 1-2-3-2 2-7-1-4-3 0 0 5-5 4-4 0-3-3-4 2 1-6-1-5-4-2 1-4zM117 51l-3-4-3 3-1 5 5 1z"/><path fill="#9632fc" stroke="#9632fc" stroke-width="0.8" d="M13 73l-4 2 4 4-3 4 2 3 8 0 3 3 3-5 1-3-5-3 0-4-4-1-1 3zM9 104l3 2 2 6 1-5 3 1 2-2-1-2-4 1-3-4zM50 141l-2-1-3 2 3 3-2 3-3-1-4 1 0-5-5 4 0 3 9 3-1 3 3 3 3-1 0 5 4 1 2-1 2 1 4 0 3-2 10 3 2-5-2-1-5 2-1-7-4 7-2-3-3 2-2 0 0-3-2-2 4-3-4-7-3-1zM64 127l1 2 2 0 0-4zM60 187l1 7 0 4-2 2 1 3 6 5 4-1 2 1 3-5-2 0 1-3 5-1 1-4-3-2-3 2 0-5-4 1-2-3zM101 0l0 1 5 2 2 8 3-1 1-3 3 2-1-5 3-2-1-2z"/><path fill="#f0323c" stroke="#f0323c" stroke-width="0.8" d="M98 142l-3 4 4 2-2 2 7 2 0-7 7 1 1 2 6-3 0-2 5-5 7 4 2-3-1-3-4-1 2-5-3 0-1-4-3 2-3-1 0-2 2-2-2-3-4 1-4 0 0 2-4 3-1 3-4 2 2 3 5-1 1 3-1 3-2-1-1 2-4-2-1 5z"/><path fill="#e23a36" stroke="#e23a36" stroke-width="0.8" d="M42 138l-2-1-3 4-3-1-1-2-5 3 1 2 1 0 4 4 5-4 0 5 2 0 2-1zM18 149l5-6-3-2-4 1-3-5-6 3 0 2-3 2 2 2 3-2 6 0 1 4zM11 163l-6 1-1 2 2 2 6 2 2-2z"/><path fill="#fa2848" stroke="#fa2848" stroke-width="0.8" d="M133 127l-4 3 3 4 3-6z"/><path fill="#3cee91" stroke="#3cee91" stroke-width="0.8" d="M14 8l0-2-4-1-2 2-1 7 2 6 4-2 2 3 6-4-4-1-1-4-4 2-1-5zM16 90l-3 1-4 7-3-1-1 3 3 4-1 2 0 4-3 1 3 4 3-1 6 4 2-3-2-3 2-1 0-3-3-1-1 5-2-6-2-2 1-3 4 4 4-1 1-7 9 2 4-1 0-5-9-2-6 2zM15 128l6 1 3-4-3-4-3 3-3-1-1 3zM14 151l-5 1 0 3-4 0 0 5 4 0 2-4 4-2zM78 113l-1 5-4-2-2 2 0 7 4 3-1 4 1 2 5 1 0-5 3-5 2 2 3-1 1 3 3 1 5-5 2 2 3-1-1-4-4 1 0-4 3-2-3-3-5 2-4-9-4 2 2 3-4 4zM135 0l-9 0 2 7-2 3 1 4 3-2 3 2 2-4-3-3 4-3-3-3z"/><path fill="#2ef68b" stroke="#2ef68b" stroke-width="0.8" d="M7 14l-4-4-2-1-1 2 0 13 2 3 3 0 3-4-3-1 1-7zM101 0l-30 0 3 2 0 4-2 1 1 9-1 1 3 2 2-2 3-1 0 4 4 1 2-3 3 2 3-3 5-1 2-2 3 1 4-6-4-1 1-3 3-2-5-2zM68 59l-2 4 0 1-2 7 6 1 2-5 3-3 0-2zM61 70l0-5-4 0-3 8 2 1zM88 73l2 4 1 1 3 5-1 2-7-1-1 3 2 7 4 1 4-1 1-5 3-1 5 5 1 4 3 4 3-5 0-2-1 0-1-5-5 0-1-3 2-1-1-5 4-2 1-3-2-1-2 1-3-1-4 1-3-2zM135 75l-6-3-3 3-4-4-4 3-3 1 0 6-6 0-1 3 2 2 6-2 3 3 4-5 0 6 7-2-5-4 4-2 1 0 3-2 1 1 2-2 2 1 3-3-3-4zM124 144l-1 5 0 7-3 2 0 2 4 5 3 1 2-4 4 2 5-1 6-4 2 0 0-6-2-2-4-1-2-4-8 2z"/><path fill="#46e49d" stroke="#46e49d" stroke-width="0.8" d="M8 1l-8-1 0 7 3-2 2 1zM19 37l-2-5-4-1 1 3zM6 117l-6-1 0 7 7-1 1-2z"/><path fill="#e8e846" stroke="#e8e846" stroke-width="0.8" d="M39 13l-11-2-3 5-2 0-4 3 2 4-2 5 3 5 2-2 4 1 4 4 1-1 4 2 7-1 0-5-4-2-1 1-4-2 1-3 4 0 2-7-3-3zM74 111l0-2-4-1-3 5 2 4 2 1zM78 64l6 4 3-6-3-1-3 0z"/><path fill="#daf040" stroke="#daf040" stroke-width="0.8" d="M78 166l-2-6-1 0-2 5 3 2zM97 214l-2-4-4 4-4 1-1 4 10 0z"/><path fill="#f2de52" stroke="#f2de52" stroke-width="0.8" d="M1 24l-1 11 3 4 3-9-1-4-3 1zM135 34l-1 1 1 6-4 4 5 2 2-2 2 2 6 0 0-9-2-3-1-1-3 3z"/><path fill="#3228e4" stroke="#3228e4" stroke-width="0.8" d="M10 83l-5 1-1 2 1 5 3 3-2 3 3 1 5-7 2 0 4-4 0-1-8 0zM49 79l-4-3-2 1 0 5 2 2-5 3 3 3 3-2 4 5-1 6-6 2-1 2 2 3 7-3 4 1 2-3 5 5 1-2-2-5 3-1 3 1 1-2-1-5-3 1-1-4-4-1-1-2-2 0 1-8zM51 213l-1 4-3 2 14 0-1-2 1-2 0-5-7-5-2 1 1 2 3 2-2 3zM71 177l-3 1-2 6-6 0-1 2 11 5 3-1 1 5 3-2 3-6 8-2-1-4-7 4-7-4zM114 193l-5 3 0 4 1 2 7-4 0-3z"/><path fill="#2430de" stroke="#2430de" stroke-width="0.8" d="M15 144l-6 0-3 2-1 3-2 1 1 4 5 1 1-3 4 0 1 2-4 3 5 1 2-2 1 4 5 0 2-5 5 5-1 2 1 5 5-3 3-5 4 1 2-1-3-3 1-3-6-3-7-1-1-2-3 1-4-3-4 4-2-1zM7 168l-3 3-4-3 0 41 8-4 0-2-2 0-2-4 1-5 4-1-2-4 5 1-1 4 6-1-1-3 5-3-4-3 1-2-5-5 0-4 5 1 0-2zM120 195l1 6-8 2 0 3 4 6 2 4 5-3-4-3 1-2 2 0 3 2 1-3 6-2 4 9 9-2 0-25-3 3-5-2-3 3-3-5-3 1-2 4 2 1-3 5-2 0-3-3z"/><path fill="#3c1ef0" stroke="#3c1ef0" stroke-width="0.8" d="M109 84l-6 2 1 3 5 0 1 5 8-2 0-2-3-3 0-2-5 1zM85 147l1-3-4-5-3 3-3-1-2 2 1 5 3 1 2-3zM111 146l-7-1 0 6-7-1 2-2-4-2-2 3 2 1 1 5 3 3 7 1-3 4 3 4 4-2 2 2 3-2 2 1 4-3-1-5 3-2 0-7 1-5-2-4-7 8-3 0zM125 109l-3 3 0 4-3 2-1 2 3 3-2 3 3 2 3-2 1 4 3 0-1 6 3 0 2-2-4-4 1-1 5-1-1-6 5-3-4-5 1-1 4 1 2-5-1-1-3-1-1 2z"/><path fill="#4696f5" stroke="#4696f5" stroke-width="0.8" d="M39 78l6-1 4 2 2-5-1-1-5 1-1-4-4-2-1 5-6 1zM40 118l-2 2 5 3 1-1zM25 126l-5 3-5-1-1-2-4 0 1 5-5 9 7-3 2 5 5-1 6 7 3-1-1-6 5-3 1 2 3 1 5-9-4-2-4 2-2-4-4 2zM92 16l-3 4 0 2 4 2-2 4 0 1 5 0-5 5-1 5 3 2-1 2-3 1 0 2 3 1 1-2 3 0 1-4 3 4 3 0 2-4 4 3 4-3 1-5-3 0-2-4 2-2 6 1 0-6-4 1-2 4-3-4 2-4-8-6-3 3-2-3zM112 94l6 8 5-3 1-3 2 2 3-2-3-4 3-2 2-3 3-1-2-4 3 0-1-3-1-1-3 2-1-1-5 3 6 4-7 1 1 5-5 1-1-1zM129 7l-2-2-6 1 0 5 5-1zM144 89l-2 0-1 5 1 2-2 2-2 3 0 6 4 2-2 5-4-1-1 1 4 5-5 3 1 6 3 0 8 1 0-37zM121 162l0 4 1 3 3 0 2 3 2-1-1-4-4-2z"/><path fill="#389eef" stroke="#389eef" stroke-width="0.8" d="M38 5l-2 2 3 5 0 3 3 3-1 7 6 1 2-3 2-1 2 5 6-5 4 1 0-3 2-2 4 1 5-3-1-4-5 1-2-1 0-6-5 2 0 4-2 0-2-4 4-4 1-4-19 0-1 1 2 7zM10 83l3-4-4-4-3 0 2 6-8-2 0 7 4 0 1-2zM41 109l2 4-1 2 3 1 2-2 1 1 4-2 5 4 4-4-2-3 2-2 1-2 5 1 0-3 3-3 3 2 1 8-1 5 4 2 1-5 4 3 4-4-4-5 1-2-1-3-4 0-2-3 5-1 1 3 5-4 1-2-2-6-1-2-4 0 1-4-6 2-1-1-4 3 1 3-2 2-3 0-1-6-4-3-1 4 3 6 3-1 1 5-1 2-3-1-3 1 2 5-1 2-5-5-2 3-5-1-2 2-1 3zM11 156l-2 4-5 0 1 4 6 0 4-3zM83 125l-3 5 0 5 2 3 2 0 1-7 4 2 2-1 2 3-1 3 1 1 5-1 4-7 4-2-4-3-3 1-3-2-4 5-3-1-1-4-3 2z"/><path fill="#508cff" stroke="#508cff" stroke-width="0.8" d="M5 51l1-2-2-2-4-1 0 12 2-6zM30 120l3 2 1 4 2 1 3-3-6-9zM59 72l-3 2-2 0-1 2 4 2 4-2zM48 90l-4 3-1 9 6-3 1-6zM83 160l-7 0 2 6 2 1 5-2 0-4 3-4 4 0 3 4 3-1 1-2-6-10-4-2-4 2-2 4-2 1zM72 177l1 4 7 4 0-6-2-2-2 2zM80 186l-3 7 3 2 5-2 1 2-2 5 4 2-8 10-3 0-2 2-3-1-1 4 4 0-2 2 6 0-1-2 4 0 5-2-3-7 4 0 2-2 6-1 2 4-3 2 2 3 2-1 3 2 1-2 8 2 0-4-4 0-1-1 3-2 1-2 3 1 0-4 2 0 0-5-5 4-1-2 0-4-4-1-2-5-4 1-1-4-2-1-3 4-4-4-4 5zM121 61l-4-2-2 2 2 4-1 3 7-1zM112 80l-4-2-2 1-2 1 1 5 3-1 1-3zM115 165l-3 2 0 4 4-1zM128 40l0 8 7 1 1-2-6-2 0-4zM142 145l-4 1 1 5 5 1 2 1 0-8-1 2z"/><path fill="#a5f03c" stroke="#a5f03c" stroke-width="0.8" d="M63 78l-2 5 4 1 1-4zM138 106l-3-3-2 1-1 5 5 0z"/><path fill="#97f836" stroke="#97f836" stroke-width="0.8" d="M39 30l1-1 4 2 0 5-7 0-4-1-3 4-3-2-2 5 2 1 5 1 2-3 4 3-2 2 3 5 3-1 2-3-4-6 9-8-2-4 0-3-11-1-1 4zM39 96l-6 2 5 11 9 0 1-4-4 1-2-5zM61 128l-9-2-1 3-3 1 1 3-4 2-3-3-2 5 2 1 1 9 3 1 2-3-3-3 7-3 3 1 2-5 5-2zM101 102l-3 1 1 5-3 2-1 1-2-2-3 1-1 2 2 1 1 3 5-2 3 3-3 2 0 4 4-1 1 4 4 3 1-3 4-3 0-2 4 1 7-6 0-3 3-4-5-2-2 3-2-2 2-6-6-8-4 7 1 1-5 2z"/><path fill="#afe648" stroke="#afe648" stroke-width="0.8" d="M38 5l0-5-5 0-1 6-5 2-3-1-1 3-2 1-5 1 1 4 4 1 4 0 3-5 2-1 9 2-3-6zM18 182l-1 2 4 3-5 3 2 5 2 1 2-3 5 1 2 2 8-1 2-2 2 3 2 0 0-2-7-6 1-5-4 3-2-4-4 2-5-3zM62 106l-3 4 3 4 1 6-2 3 1 4 2 0 3-2 0-2 4-2-4-8 3-5zM66 208l-6-5-1 5 1 2 1 5-1 2 1 2 12 0 2-2-4 0 1-4-1-1 1-4-2-1zM137 29l-1-3-3-2-8 6 0 3 5 3-2 4 2 1 0 4 5-4-1-6z"/><path fill="#f5a0cd" stroke="#f5a0cd" stroke-width="0.8" d="M53 35l-2 2 3 6-1 1-4-1-5 2 0 2 4 1 2 3-2 2 2 4 5-1 2-2 4 3 1-1-2-5 2-2-1-4 4-2 0-2 2-2-9-4zM43 123l-5-3-2 0 3 4-3 3 2 2zM48 159l-3 0-2 1-4-1-3 3 1 7 3 0 0 3 3 0-1-7 3 0 3-2zM125 32l-2-4-2 4-4-1 0 5 6 5 0 3 5 2 0-6 2-4-5-3zM101 170l-2 2-2 1 1 5 5 0 3-3-1-2 1-3zM91 214l7-5-2-4-6 1-3 2-3 0 3 7z"/><path fill="none" stroke="#222" stroke-opacity="0.35" stroke-width="0.5" shape-rendering="auto" d="M8 1L0 0 0 7 3 5 5 6zM14 8L14 6 10 5 8 7 7 14 9 20 13 18 15 21 21 17 17 16 16 12 12 14 11 9zM7 14L3 10 1 9 0 11 0 24 2 27 5 27 8 23 5 22 6 15zM19 37L17 32 13 31 14 34zM16 90L13 91 9 98 6 97 5 100 8 104 7 106 7 110 4 111 7 115 10 114 16 118 18 115 16 112 18 111 18 108 15 107 14 112 12 106 10 104 11 101 15 105 19 104 20 97 29 99 33 98 33 93 24 91 18 93zM6 117L0 116 0 123 7 122 8 120zM15 128L21 129 24 125 21 121 18 124 15 123 14 126zM14 151L9 152 9 155 5 155 5 160 9 160 11 156 15 154zM101 0L71 0 74 2 74 6 72 7 73 16 72 17 75 19 77 17 80 16 80 20 84 21 86 18 89 20 92 17 97 16 99 14 102 15 106 9 102 8 103 5 106 3 101 1zM68 59L66 63 66 64 64 71 70 72 72 67 75 64 75 62zM61 70L61 65 57 65 54 73 56 74zM78 113L77 118 73 116 71 118 71 125 75 128 74 132 75 134 80 135 80 130 83 125 85 127 88 126 89 129 92 130 97 125 99 127 102 126 101 122 97 123 97 119 100 117 97 114 92 116 88 107 84 109 86 112 82 116zM88 73L90 77 91 78 94 83 93 85 86 84 85 87 87 94 91 95 95 94 96 89 99 88 104 93 105 97 108 101 111 96 111 94 110 94 109 89 104 89 103 86 105 85 104 80 108 78 109 75 107 74 105 75 102 74 98 75 95 73zM135 0L126 0 128 7 126 10 127 14 130 12 133 14 135 10 132 7 136 4 133 1zM135 75L129 72 126 75 122 71 118 74 115 75 115 81 109 81 108 84 110 86 116 84 119 87 123 82 123 88 130 86 125 82 129 80 130 80 133 78 134 79 136 77 138 78 141 75 138 71zM124 144L123 149 123 156 120 158 120 160 124 165 127 166 129 162 133 164 138 163 144 159 146 159 146 153 144 151 140 150 138 146 130 148zM6 15L5 22 8 23 5 26 6 30 4 37 8 38 9 37 12 37 14 34 13 31 17 32 21 23 19 19 15 21 13 18 9 20 8 14zM21 109L16 112 18 115 15 123 18 124 21 122 24 125 26 121 31 120 33 115 36 120 40 118 44 121 42 116 43 113 41 109 38 109 36 105 32 106 29 110 25 111zM62 0L61 4 57 8 59 12 61 12 61 8 63 7 66 6 72 7 74 6 74 2 71 0zM38 0L38 5 44 8 43 0zM39 56L37 59 41 61 43 58zM57 78L55 86 58 86 59 88 61 87 63 79 66 80 67 79 69 76 70 72 64 71 63 75zM34 126L33 122 28 125 31 128zM48 171L51 169 48 163 42 166 43 169zM126 0L116 0 116 2 114 4 115 9 114 10 114 13 121 11 121 6 127 6zM112 15L114 19 117 17 114 14zM98 50L96 54 98 61 102 60 106 57 103 55 105 50zM124 96L123 99 120 101 126 105 129 100zM125 108L125 107 118 102 116 108 118 110 120 107zM135 0L133 1 136 4 138 8 137 10 140 14 146 13 146 0zM146 79L146 75 141 75 138 78 140 81zM133 164L129 162 127 164 126 166 129 171 133 167zM33 0L5 0 8 1 6 4 6 7 8 7 10 5 14 6 14 8 11 9 12 14 19 11 20 6 24 5 24 7 27 8 32 6 33 2zM18 43L2 52 0 58 0 67 6 68 4 73 0 73 0 79 2 80 4 79 8 81 6 75 13 73 17 76 18 74 22 75 22 78 27 81 30 80 34 82 39 78 34 74 35 68 33 68 29 64 30 63 34 61 36 62 38 60 37 58 34 58 34 57 31 56 31 53 33 52 37 53 39 51 36 46 38 44 34 41 32 44 24 41 22 45zM5 91L0 90 0 99 4 95 6 97 8 94zM10 114L7 115 6 118 8 120 10 120 11 123 15 123 17 119zM16 90L18 93 24 91 23 89 20 87zM30 143L28 144 29 147 30 150 34 150 34 147zM80 16L77 17 75 19 72 17 68 19 68 23 72 25 73 29 72 36 76 35 79 38 83 37 88 33 88 28 91 28 93 24 86 18 84 21 80 19zM53 29L52 32 50 31 48 31 49 33 40 41 41 43 44 45 49 43 48 41 53 35zM74 62L75 65 72 67 71 72 76 73 80 71 77 68 82 68 82 66 78 64 81 61 77 59zM54 74L51 74 49 79 55 78 53 76zM64 127L62 126 62 133 57 135 55 140 52 139 50 141 51 144 54 145 56 151 61 154 64 153 59 147 60 145 69 146 72 149 75 147 74 143 76 141 71 135 71 133 75 131 75 128 71 125 67 129 65 129zM102 8L106 9 102 14 99 14 97 16 99 19 102 16 110 22 108 26 111 30 113 26 117 26 117 31 111 30 109 32 110 36 114 36 113 41 116 46 122 46 123 44 123 41 117 36 117 31 121 32 122 29 125 30 133 25 132 19 134 17 133 13 130 12 127 14 126 10 114 13 114 10 115 9 112 7 111 10 108 11 106 3 103 5zM96 29L91 29 92 32 94 32zM107 66L102 66 104 71 102 74 110 75 110 69 109 69zM85 131L84 138 82 139 85 144 85 148 89 147 93 148 98 142 101 143 102 138 106 140 107 138 109 139 110 136 108 133 104 134 102 132 97 138 93 139 92 138 93 135 91 131 89 133zM109 208L106 210 107 211 111 211 110 215 103 213 102 215 99 213 96 214 96 219 120 219 118 217 115 217 114 213 116 211 113 206 110 206zM122 49L120 51 123 53 122 56 119 55 116 57 117 59 121 61 123 67 122 71 126 75 129 72 134 74 133 71 135 69 133 66 137 58 142 62 140 68 138 69 138 71 141 75 146 75 146 47 140 47 138 45 135 49 128 48 125 51zM123 82L119 87 116 84 115 85 115 87 118 90 117 92 119 93 125 92zM123 138L122 140 124 145 130 148 134 148 142 145 145 147 146 129 138 127 135 128 131 136 132 139 130 141zM121 163L117 166 115 165 116 170 121 170 122 169zM146 32L143 35 146 38zM38 5L38 0 33 0 32 6 27 8 24 7 23 10 21 11 16 12 17 16 21 17 25 17 28 12 30 11 39 13 36 7zM39 30L40 29 44 31 44 36 37 36 33 35 30 39 27 37 25 42 27 43 32 44 34 41 38 44 36 46 39 51 42 50 44 47 40 41 49 33 47 29 47 26 36 25 35 29zM39 96L33 98 38 109 47 109 48 105 44 106 42 101zM18 182L17 184 21 187 16 190 18 195 20 196 22 193 27 194 29 196 37 195 39 193 41 196 43 196 43 194 36 188 37 183 33 186 31 182 27 184 22 181zM63 78L61 83 65 84 66 80zM62 106L59 110 62 114 63 120 61 123 62 127 64 127 67 125 67 123 71 121 67 113 70 108zM61 128L52 126 51 129 48 130 49 133 45 135 42 132 40 137 42 138 43 147 46 148 48 145 45 142 52 139 55 140 57 135 62 133zM66 208L60 203 59 208 60 210 61 215 60 217 61 219 73 219 75 217 71 217 72 213 71 212 72 208 70 207zM101 102L98 103 99 108 96 110 95 111 93 109 90 110 89 112 91 113 92 116 97 114 100 117 97 119 97 123 101 122 102 126 106 129 107 126 111 123 111 121 115 122 122 116 122 113 125 109 120 107 118 110 116 108 118 102 112 94 108 101 109 102 104 104zM137 29L136 26 133 24 125 30 125 33 130 36 128 40 130 41 130 45 135 41 134 35zM138 106L135 103 133 104 132 109 137 109zM38 5L36 7 39 12 39 15 42 18 41 25 47 26 49 23 51 22 53 27 59 22 63 23 63 20 65 18 69 19 74 16 73 12 68 13 66 12 66 6 61 8 61 12 59 12 57 8 61 4 62 0 43 0 42 1 44 8zM5 51L6 49 4 47 0 46 0 58 2 52zM39 78L45 77 49 79 51 74 50 73 45 74 44 70 40 68 39 73 33 74zM10 83L13 79 9 75 6 75 8 81 0 79 0 86 4 86 5 84zM41 109L43 113 42 115 45 116 47 114 48 115 52 113 57 117 61 113 59 110 61 108 62 106 67 107 67 104 70 101 73 103 74 111 73 116 77 118 78 113 82 116 86 112 82 107 83 105 82 102 78 102 76 99 81 98 82 101 87 97 88 95 86 89 85 87 81 87 82 83 76 85 75 84 71 87 72 90 70 92 67 92 66 86 62 83 61 87 64 93 67 92 68 97 67 99 64 98 61 99 63 104 62 106 57 101 55 104 50 103 48 105 47 108zM30 120L33 122 34 126 36 127 39 124 33 115zM40 118L38 120 43 123 44 122zM25 126L20 129 15 128 14 126 10 126 11 131 6 140 13 137 15 142 20 141 26 148 29 147 28 141 33 138 34 140 37 141 42 132 38 130 34 132 32 128 28 130zM11 156L9 160 4 160 5 164 11 164 15 161zM59 72L56 74 54 74 53 76 57 78 61 76zM48 90L44 93 43 102 49 99 50 93zM83 125L80 130 80 135 82 138 84 138 85 131 89 133 91 132 93 135 92 138 93 139 98 138 102 131 106 129 102 126 99 127 96 125 92 130 89 129 88 125 85 127zM83 160L76 160 78 166 80 167 85 165 85 161 88 157 92 157 95 161 98 160 99 158 93 148 89 146 85 148 83 152 81 153zM72 177L73 181 80 185 80 179 78 177 76 179zM80 186L77 193 80 195 85 193 86 195 84 200 88 202 80 212 77 212 75 214 72 213 71 217 75 217 73 219 79 219 78 217 82 217 87 215 84 208 88 208 90 206 96 205 98 209 95 211 97 214 99 213 102 215 103 213 111 215 111 211 107 211 106 210 109 208 110 206 113 207 113 203 115 203 115 198 110 202 109 200 109 196 105 195 103 190 99 191 98 187 96 186 93 190 89 186 85 191zM92 16L89 20 89 22 93 24 91 28 91 29 96 29 91 34 90 39 93 41 92 43 89 44 89 46 92 47 93 45 96 45 97 41 100 45 103 45 105 41 109 44 113 41 114 36 111 36 109 32 111 30 117 31 117 25 113 26 111 30 108 26 110 22 102 16 99 19 97 16zM121 61L117 59 115 61 117 65 116 68 123 67zM112 80L108 78 106 79 104 80 105 85 108 84 109 81zM112 94L118 102 123 99 124 96 126 98 129 96 126 92 129 90 131 87 134 86 132 82 135 82 134 79 133 78 130 80 129 79 124 82 130 86 123 87 124 92 119 93 118 92zM115 165L112 167 112 171 116 170zM129 7L127 5 121 6 121 11 126 10zM128 40L128 48 135 49 136 47 130 45 130 41zM144 89L142 89 141 94 142 96 140 98 138 101 138 107 142 109 140 114 136 113 135 114 139 119 134 122 135 128 138 128 146 129 146 92zM142 145L138 146 139 151 144 152 146 153 146 145 145 147zM121 162L121 166 122 169 125 169 127 172 129 171 128 167 124 165zM13 73L9 75 13 79 10 83 12 86 20 86 23 89 26 84 27 81 22 78 22 74 18 73 17 76zM39 78L34 82 39 87 40 87 45 84 43 82 43 77zM1 86L0 90 5 91 4 86zM48 90L46 88 43 90 43 92 44 93zM9 104L12 106 14 112 15 107 18 108 20 106 19 104 15 105 12 101zM48 115L50 117 46 119 50 121 50 125 47 129 51 130 52 126 54 126 61 128 61 123 63 120 62 114 61 113 56 117 53 113zM50 141L48 140 45 142 48 145 46 148 43 147 39 148 39 143 34 147 34 150 43 153 42 156 45 159 48 158 48 163 52 164 54 163 56 164 60 164 63 162 73 165 75 160 73 159 68 161 67 154 63 161 61 158 58 160 56 160 56 157 54 155 58 152 54 145 51 144zM65 18L63 20 63 23 59 22 55 26 55 28 53 34 53 35 58 35 67 39 65 41 65 43 61 45 62 49 60 51 62 56 60 59 66 63 68 59 70 59 75 62 77 59 81 61 85 61 87 58 90 57 92 57 93 60 99 61 96 54 98 50 105 50 108 49 109 44 105 41 103 45 100 45 98 41 96 45 93 44 92 47 89 46 90 44 92 43 93 41 90 39 92 32 91 28 88 28 88 33 83 37 79 37 76 34 72 36 73 30 72 25 68 23 69 19zM64 127L65 129 67 129 67 125zM60 187L61 194 61 198 59 200 60 203 66 208 70 207 72 208 75 203 73 203 74 200 79 199 80 195 77 193 74 195 74 190 70 191 68 188zM101 0L101 1 106 3 108 11 111 10 112 7 115 9 114 4 117 2 116 0zM117 51L114 47 111 50 110 55 115 56zM1 35L0 46 4 47 6 51 18 43 22 45 27 37 30 39 32 36 28 32 24 31 22 33 19 28 17 32 19 37 14 34 12 37 9 37 8 38 4 37 3 39zM0 99L0 116 6 117 7 115 4 111 7 110 7 106 9 104 5 100 6 97 4 95zM10 119L8 120 7 122 0 123 0 159 1 160 5 160 5 155 3 150 6 149 6 146 4 144 7 142 6 140 8 136 9 136 11 131 10 127 14 126 15 123 11 123zM12 190L7 189 8 193 5 194 4 199 6 203 8 203 8 205 0 209 0 219 47 219 50 217 50 214 54 213 56 210 53 208 52 206 54 205 59 208 60 203 59 200 61 198 61 194 59 186 60 184 66 184 68 178 72 177 76 179 77 177 80 179 80 185 87 181 88 183 88 185 81 187 85 191 89 186 93 190 96 186 96 178 98 178 97 173 100 172 101 170 111 171 112 167 110 165 106 167 103 163 106 158 99 158 98 160 95 161 92 157 88 157 85 161 85 165 76 167 63 161 60 164 56 164 54 163 52 164 48 163 50 170 48 170 43 169 43 172 40 172 40 169 37 169 37 165 36 164 31 167 30 162 31 160 26 155 25 156 24 160 20 160 18 156 16 158 11 156 15 161 11 163 14 168 13 169 18 173 16 174 13 173 14 178 18 182 22 182 27 184 31 183 33 186 37 184 36 188 43 194 41 196 39 193 37 195 29 196 27 194 22 193 18 196 17 193 11 194zM19 11L21 12 23 10 24 5 20 6zM28 62L27 60 24 60 24 64zM23 89L24 91 26 92 33 93 33 98 38 96 38 90 39 87 34 82 27 80zM26 121L24 125 28 130 31 128 28 125 33 122 31 120zM34 58L37 59 39 56 37 53 35 53zM38 60L36 62 34 61 29 63 29 65 33 68 35 68 34 74 39 73 41 69 44 70 45 74 54 73 57 65 59 64 61 70 59 73 61 76 63 75 67 64 57 54 55 56 50 57 48 53 50 51 49 48 44 47 42 50 44 52 43 58 41 60zM41 92L39 96 39 97 44 94 43 92zM38 130L34 126 32 128 34 132zM51 22L49 23 47 26 47 30 48 31 50 31 52 32 55 28 55 26 53 27zM48 41L49 43 53 44 54 43 52 37zM87 73L82 75 70 72 69 76 66 80 65 84 68 89 67 92 70 92 72 90 71 87 75 84 76 85 82 83 81 87 85 87 86 84 93 85 94 83 91 78 90 77zM71 133L71 136 76 141 79 142 82 139 80 135 74 132zM83 152L85 147 79 145 78 148 75 147 72 149 72 152 77 153 72 158 73 159 75 160 83 160 81 153zM77 200L74 199 73 203 75 203 72 208 71 212 72 213 75 214 77 212 80 212 83 208 78 206 76 203zM88 217L87 215 82 217 78 217 79 219 86 219zM117 59L115 55 108 55 102 60 103 65 107 66 109 60 113 63zM115 72L116 68 113 67 111 69zM116 74L111 72 108 78 112 81 115 81zM126 92L129 96 126 98 129 100 128 103 126 105 125 103 118 101 125 107 125 109 132 109 133 104 135 103 138 106 140 98 143 96 142 94 142 89 144 89 146 92 146 79 140 81 138 78 136 77 134 79 134 82 132 82 134 86 131 87 129 90zM109 102L105 97 104 104zM125 169L121 170 122 172 120 177 120 181 126 184 129 188 132 186 135 191 138 188 143 190 146 187 146 159 144 159 141 160 140 163 134 164 133 167 127 172zM133 205L127 207 126 209 123 208 121 208 120 210 124 213 119 215 116 211 114 213 115 217 118 217 120 219 146 219 146 212 137 213zM136 4L132 7 135 10 133 13 134 17 132 19 133 25 136 26 139 21 146 20 146 13 140 14 137 10 138 8zM138 69L135 69 133 71 134 75 138 71zM8 7L3 5 0 7 0 11 3 10 7 14zM43 92L43 90 40 87 39 87 37 90 38 96 41 92zM19 100L20 102 19 104 19 106 17 108 18 111 22 109 25 111 29 110 32 108 32 106 36 105 33 98 29 99 21 97zM66 6L66 12 68 14 73 12 72 7zM102 66L103 65 102 60 97 62 97 64zM45 95L39 96 42 101zM109 181L109 186 103 190 105 195 110 196 114 193 117 195 117 198 115 198 115 203 121 201 120 195 121 194 124 197 126 197 129 192 128 191 129 187 126 184 120 181 118 183 116 184 111 181zM82 194L80 195 79 198 76 203 78 206 83 208 88 201 84 200 86 194zM39 13L28 11 25 16 23 16 19 19 21 23 19 28 22 33 24 31 28 32 32 36 33 35 37 37 44 36 44 31 40 29 39 30 35 28 36 25 40 25 42 18 39 15zM1 24L0 35 3 39 6 30 5 26 2 27zM74 111L74 109 70 108 67 113 69 117 71 118zM135 34L134 35 135 41 131 45 136 47 138 45 140 47 146 47 146 38 144 35 143 34 140 37zM78 64L84 68 87 62 84 61 81 61zM78 166L76 160 75 160 73 165 76 167zM97 214L95 210 91 214 87 215 86 219 96 219zM77 68L80 71 76 73 82 75 87 73 88 70 84 68zM0 73L4 73 6 68 0 67zM88 95L87 97 82 101 81 98 76 99 78 102 82 102 83 105 82 107 84 109 88 107 90 110 93 109 94 111 96 110 99 108 98 103 101 102 104 104 105 95 99 88 96 89 95 94zM0 159L0 168 4 171 6 168 4 166 4 160zM103 178L96 178 95 184 100 191 107 189 110 186 109 184 111 181 116 184 119 183 122 172 121 170 113 172 107 169 105 173 106 175zM146 20L139 21 136 26 137 29 136 31 135 34 140 37 146 32zM53 35L51 37 54 43 53 44 49 43 44 45 44 47 48 48 50 51 48 53 50 57 55 56 57 54 61 57 62 56 60 51 62 49 61 45 65 43 65 41 67 39 58 35zM43 123L38 120 36 120 39 124 36 127 38 129zM48 159L45 159 43 160 39 159 36 162 37 169 40 169 40 172 43 172 42 165 45 165 48 163zM125 32L123 28 121 32 117 31 117 36 123 41 123 44 128 46 128 40 130 36 125 33zM101 170L99 172 97 173 98 178 103 178 106 175 105 173 106 170zM91 214L98 209 96 205 90 206 87 208 84 208 87 215zM37 53L39 56 43 58 44 52 42 50 39 50zM33 52L31 53 30 57 34 57 35 53zM47 114L45 116 42 115 44 121 38 129 38 131 43 132 45 135 49 133 47 128 50 125 50 121 46 119 50 117zM69 146L60 145 59 147 63 153 61 154 58 152 53 155 56 157 56 160 58 160 61 158 63 161 67 154 68 161 73 159 72 158 77 153 72 152 72 149zM110 55L111 50 114 48 117 51 115 56 116 57 119 55 122 56 123 53 120 51 122 49 125 51 127 50 128 47 123 44 119 46 116 45 113 41 111 42 109 44 108 49 105 50 102 55 105 57zM92 57L87 58 85 61 87 63 84 68 88 70 88 73 95 73 98 75 102 74 104 71 102 66 97 64 97 62 93 60zM109 60L107 66 108 69 116 75 118 74 122 71 123 67 116 68 115 72 111 69 113 67 116 68 117 65 115 61 113 62zM67 107L74 109 73 103 69 101zM68 127L71 127 72 125 71 122 67 123zM140 62L137 58 133 66 135 69 138 69 140 68 142 62zM10 83L5 84 4 86 5 91 8 94 6 97 9 98 14 91 16 91 20 87 20 86 12 86zM15 144L9 144 6 146 5 149 3 150 4 154 9 155 10 152 14 152 15 154 11 157 16 158 18 156 19 160 24 160 26 155 31 160 30 162 31 167 36 164 39 159 43 160 45 159 42 156 43 153 37 150 30 149 29 147 26 148 22 145 18 149 16 148zM7 168L4 171 0 168 0 209 8 205 8 203 6 203 4 199 5 194 9 193 7 189 12 190 11 194 17 193 16 190 21 187 17 184 18 182 13 177 13 173 18 174 18 172zM49 79L45 76 43 77 43 82 45 84 40 87 43 90 46 88 50 93 49 99 43 101 42 103 44 106 51 103 55 104 57 101 62 106 63 104 61 99 64 98 67 99 68 97 67 92 64 93 63 89 59 88 58 86 56 86 57 78zM51 213L50 217 47 219 61 219 60 217 61 215 61 210 54 205 52 206 53 208 56 210 54 213zM109 84L103 86 104 89 109 89 110 94 118 92 118 90 115 87 115 85 110 86zM85 147L86 144 82 139 79 142 76 141 74 143 75 148 78 149 80 146zM111 146L104 145 104 151 97 150 99 148 95 146 93 149 95 150 96 155 99 158 106 159 103 163 106 167 110 165 112 167 115 165 117 166 121 163 120 158 123 156 123 149 124 144 122 140 115 148 112 148zM71 177L68 178 66 184 60 184 59 186 70 191 73 190 74 195 77 193 80 187 88 185 87 181 80 185 73 181zM125 109L122 112 122 116 119 118 118 120 121 123 119 126 122 128 125 126 126 130 129 130 128 136 131 136 133 134 129 130 130 129 135 128 134 122 139 119 135 114 136 113 140 114 142 109 141 108 138 107 137 109zM114 193L109 196 109 200 110 202 117 198 117 195zM120 195L121 201 113 203 113 206 117 212 119 216 124 213 120 210 121 208 123 208 126 210 127 207 133 205 137 214 146 212 146 187 143 190 138 188 135 191 132 186 129 187 127 191 129 192 126 197 124 197 121 194zM42 138L40 137 37 141 34 140 33 138 28 141 29 143 30 143 34 147 39 143 39 148 41 148 43 147zM18 149L23 143 20 141 16 142 13 137 7 140 7 142 4 144 6 146 9 144 15 144 16 148zM98 142L95 146 99 148 97 150 104 152 104 145 111 146 112 148 118 145 118 143 123 138 130 142 132 139 131 136 127 135 129 130 126 130 125 126 122 128 119 127 119 125 121 123 119 120 115 121 111 121 111 123 107 126 106 129 102 131 104 134 109 133 110 136 109 139 107 138 106 140 102 138 101 143zM11 163L5 164 4 166 6 168 12 170 14 168zM133 127L129 130 132 134 135 128z"/><path fill="none" stroke="#fff" stroke-width="0.9" stroke-dasharray="1.5 1.5" shape-rendering="auto" d="M8 1L0 0 0 7 3 5 5 6zM14 8L14 6 10 5 8 7 7 14 9 20 13 18 15 21 21 17 17 16 16 12 12 14 11 9zM7 14L3 10 1 9 0 11 0 24 2 27 5 27 8 23 5 22 6 15zM19 37L17 32 13 31 14 34zM16 90L13 91 9 98 6 97 5 100 8 104 7 106 7 110 4 111 7 115 10 114 16 118 18 115 16 112 18 111 18 108 15 107 14 112 12 106 10 104 11 101 15 105 19 104 20 97 29 99 33 98 33 93 24 91 18 93zM6 117L0 116 0 123 7 122 8 120zM15 128L21 129 24 125 21 121 18 124 15 123 14 126zM14 151L9 152 9 155 5 155 5 160 9 160 11 156 15 154zM101 0L71 0 74 2 74 6 72 7 73 16 72 17 75 19 77 17 80 16 80 20 84 21 86 18 89 20 92 17 97 16 99 14 102 15 106 9 102 8 103 5 106 3 101 1zM68 59L66 63 66 64 64 71 70 72 72 67 75 64 75 62zM61 70L61 65 57 65 54 73 56 74zM78 113L77 118 73 116 71 118 71 125 75 128 74 132 75 134 80 135 80 130 83 125 85 127 88 126 89 129 92 130 97 125 99 127 102 126 101 122 97 123 97 119 100 117 97 114 92 116 88 107 84 109 86 112 82 116zM88 73L90 77 91 78 94 83 93 85 86 84 85 87 87 94 91 95 95 94 96 89 99 88 104 93 105 97 108 101 111 96 111 94 110 94 109 89 104 89 103 86 105 85 104 80 108 78 109 75 107 74 105 75 102 74 98 75 95 73zM135 0L126 0 128 7 126 10 127 14 130 12 133 14 135 10 132 7 136 4 133 1zM135 75L129 72 126 75 122 71 118 74 115 75 115 81 109 81 108 84 110 86 116 84 119 87 123 82 123 88 130 86 125 82 129 80 130 80 133 78 134 79 136 77 138 78 141 75 138 71zM124 144L123 149 123 156 120 158 120 160 124 165 127 166 129 162 133 164 138 163 144 159 146 159 146 153 144 151 140 150 138 146 130 148zM6 15L5 22 8 23 5 26 6 30 4 37 8 38 9 37 12 37 14 34 13 31 17 32 21 23 19 19 15 21 13 18 9 20 8 14zM21 109L16 112 18 115 15 123 18 124 21 122 24 125 26 121 31 120 33 115 36 120 40 118 44 121 42 116 43 113 41 109 38 109 36 105 32 106 29 110 25 111zM62 0L61 4 57 8 59 12 61 12 61 8 63 7 66 6 72 7 74 6 74 2 71 0zM38 0L38 5 44 8 43 0zM39 56L37 59 41 61 43 58zM57 78L55 86 58 86 59 88 61 87 63 79 66 80 67 79 69 76 70 72 64 71 63 75zM34 126L33 122 28 125 31 128zM48 171L51 169 48 163 42 166 43 169zM126 0L116 0 116 2 114 4 115 9 114 10 114 13 121 11 121 6 127 6zM112 15L114 19 117 17 114 14zM98 50L96 54 98 61 102 60 106 57 103 55 105 50zM124 96L123 99 120 101 126 105 129 100zM125 108L125 107 118 102 116 108 118 110 120 107zM135 0L133 1 136 4 138 8 137 10 140 14 146 13 146 0zM146 79L146 75 141 75 138 78 140 81zM133 164L129 162 127 164 126 166 129 171 133 167zM33 0L5 0 8 1 6 4 6 7 8 7 10 5 14 6 14 8 11 9 12 14 19 11 20 6 24 5 24 7 27 8 32 6 33 2zM18 43L2 52 0 58 0 67 6 68 4 73 0 73 0 79 2 80 4 79 8 81 6 75 13 73 17 76 18 74 22 75 22 78 27 81 30 80 34 82 39 78 34 74 35 68 33 68 29 64 30 63 34 61 36 62 38 60 37 58 34 58 34 57 31 56 31 53 33 52 37 53 39 51 36 46 38 44 34 41 32 44 24 41 22 45zM5 91L0 90 0 99 4 95 6 97 8 94zM10 114L7 115 6 118 8 120 10 120 11 123 15 123 17 119zM16 90L18 93 24 91 23 89 20 87zM30 143L28 144 29 147 30 150 34 150 34 147zM80 16L77 17 75 19 72 17 68 19 68 23 72 25 73 29 72 36 76 35 79 38 83 37 88 33 88 28 91 28 93 24 86 18 84 21 80 19zM53 29L52 32 50 31 48 31 49 33 40 41 41 43 44 45 49 43 48 41 53 35zM74 62L75 65 72 67 71 72 76 73 80 71 77 68 82 68 82 66 78 64 81 61 77 59zM54 74L51 74 49 79 55 78 53 76zM64 127L62 126 62 133 57 135 55 140 52 139 50 141 51 144 54 145 56 151 61 154 64 153 59 147 60 145 69 146 72 149 75 147 74 143 76 141 71 135 71 133 75 131 75 128 71 125 67 129 65 129zM102 8L106 9 102 14 99 14 97 16 99 19 102 16 110 22 108 26 111 30 113 26 117 26 117 31 111 30 109 32 110 36 114 36 113 41 116 46 122 46 123 44 123 41 117 36 117 31 121 32 122 29 125 30 133 25 132 19 134 17 133 13 130 12 127 14 126 10 114 13 114 10 115 9 112 7 111 10 108 11 106 3 103 5zM96 29L91 29 92 32 94 32zM107 66L102 66 104 71 102 74 110 75 110 69 109 69zM85 131L84 138 82 139 85 144 85 148 89 147 93 148 98 142 101 143 102 138 106 140 107 138 109 139 110 136 108 133 104 134 102 132 97 138 93 139 92 138 93 135 91 131 89 133zM109 208L106 210 107 211 111 211 110 215 103 213 102 215 99 213 96 214 96 219 120 219 118 217 115 217 114 213 116 211 113 206 110 206zM122 49L120 51 123 53 122 56 119 55 116 57 117 59 121 61 123 67 122 71 126 75 129 72 134 74 133 71 135 69 133 66 137 58 142 62 140 68 138 69 138 71 141 75 146 75 146 47 140 47 138 45 135 49 128 48 125 51zM123 82L119 87 116 84 115 85 115 87 118 90 117 92 119 93 125 92zM123 138L122 140 124 145 130 148 134 148 142 145 145 147 146 129 138 127 135 128 131 136 132 139 130 141zM121 163L117 166 115 165 116 170 121 170 122 169zM146 32L143 35 146 38zM38 5L38 0 33 0 32 6 27 8 24 7 23 10 21 11 16 12 17 16 21 17 25 17 28 12 30 11 39 13 36 7zM39 30L40 29 44 31 44 36 37 36 33 35 30 39 27 37 25 42 27 43 32 44 34 41 38 44 36 46 39 51 42 50 44 47 40 41 49 33 47 29 47 26 36 25 35 29zM39 96L33 98 38 109 47 109 48 105 44 106 42 101zM18 182L17 184 21 187 16 190 18 195 20 196 22 193 27 194 29 196 37 195 39 193 41 196 43 196 43 194 36 188 37 183 33 186 31 182 27 184 22 181zM63 78L61 83 65 84 66 80zM62 106L59 110 62 114 63 120 61 123 62 127 64 127 67 125 67 123 71 121 67 113 70 108zM61 128L52 126 51 129 48 130 49 133 45 135 42 132 40 137 42 138 43 147 46 148 48 145 45 142 52 139 55 140 57 135 62 133zM66 208L60 203 59 208 60 210 61 215 60 217 61 219 73 219 75 217 71 217 72 213 71 212 72 208 70 207zM101 102L98 103 99 108 96 110 95 111 93 109 90 110 89 112 91 113 92 116 97 114 100 117 97 119 97 123 101 122 102 126 106 129 107 126 111 123 111 121 115 122 122 116 122 113 125 109 120 107 118 110 116 108 118 102 112 94 108 101 109 102 104 104zM137 29L136 26 133 24 125 30 125 33 130 36 128 40 130 41 130 45 135 41 134 35zM138 106L135 103 133 104 132 109 137 109zM38 5L36 7 39 12 39 15 42 18 41 25 47 26 49 23 51 22 53 27 59 22 63 23 63 20 65 18 69 19 74 16 73 12 68 13 66 12 66 6 61 8 61 12 59 12 57 8 61 4 62 0 43 0 42 1 44 8zM5 51L6 49 4 47 0 46 0 58 2 52zM39 78L45 77 49 79 51 74 50 73 45 74 44 70 40 68 39 73 33 74zM10 83L13 79 9 75 6 75 8 81 0 79 0 86 4 86 5 84zM41 109L43 113 42 115 45 116 47 114 48 115 52 113 57 117 61 113 59 110 61 108 62 106 67 107 67 104 70 101 73 103 74 111 73 116 77 118 78 113 82 116 86 112 82 107 83 105 82 102 78 102 76 99 81 98 82 101 87 97 88 95 86 89 85 87 81 87 82 83 76 85 75 84 71 87 72 90 70 92 67 92 66 86 62 83 61 87 64 93 67 92 68 97 67 99 64 98 61 99 63 104 62 106 57 101 55 104 50 103 48 105 47 108zM30 120L33 122 34 126 36 127 39 124 33 115zM40 118L38 120 43 123 44 122zM25 126L20 129 15 128 14 126 10 126 11 131 6 140 13 137 15 142 20 141 26 148 29 147 28 141 33 138 34 140 37 141 42 132 38 130 34 132 32 128 28 130zM11 156L9 160 4 160 5 164 11 164 15 161zM59 72L56 74 54 74 53 76 57 78 61 76zM48 90L44 93 43 102 49 99 50 93zM83 125L80 130 80 135 82 138 84 138 85 131 89 133 91 132 93 135 92 138 93 139 98 138 102 131 106 129 102 126 99 127 96 125 92 130 89 129 88 125 85 127zM83 160L76 160 78 166 80 167 85 165 85 161 88 157 92 157 95 161 98 160 99 158 93 148 89 146 85 148 83 152 81 153zM72 177L73 181 80 185 80 179 78 177 76 179zM80 186L77 193 80 195 85 193 86 195 84 200 88 202 80 212 77 212 75 214 72 213 71 217 75 217 73 219 79 219 78 217 82 217 87 215 84 208 88 208 90 206 96 205 98 209 95 211 97 214 99 213 102 215 103 213 111 215 111 211 107 211 106 210 109 208 110 206 113 207 113 203 115 203 115 198 110 202 109 200 109 196 105 195 103 190 99 191 98 187 96 186 93 190 89 186 85 191zM92 16L89 20 89 22 93 24 91 28 91 29 96 29 91 34 90 39 93 41 92 43 89 44 89 46 92 47 93 45 96 45 97 41 100 45 103 45 105 41 109 44 113 41 114 36 111 36 109 32 111 30 117 31 117 25 113 26 111 30 108 26 110 22 102 16 99 19 97 16zM121 61L117 59 115 61 117 65 116 68 123 67zM112 80L108 78 106 79 104 80 105 85 108 84 109 81zM112 94L118 102 123 99 124 96 126 98 129 96 126 92 129 90 131 87 134 86 132 82 135 82 134 79 133 78 130 80 129 79 124 82 130 86 123 87 124 92 119 93 118 92zM115 165L112 167 112 171 116 170zM129 7L127 5 121 6 121 11 126 10zM128 40L128 48 135 49 136 47 130 45 130 41zM144 89L142 89 141 94 142 96 140 98 138 101 138 107 142 109 140 114 136 113 135 114 139 119 134 122 135 128 138 128 146 129 146 92zM142 145L138 146 139 151 144 152 146 153 146 145 145 147zM121 162L121 166 122 169 125 169 127 172 129 171 128 167 124 165zM13 73L9 75 13 79 10 83 12 86 20 86 23 89 26 84 27 81 22 78 22 74 18 73 17 76zM39 78L34 82 39 87 40 87 45 84 43 82 43 77zM1 86L0 90 5 91 4 86zM48 90L46 88 43 90 43 92 44 93zM9 104L12 106 14 112 15 107 18 108 20 106 19 104 15 105 12 101zM48 115L50 117 46 119 50 121 50 125 47 129 51 130 52 126 54 126 61 128 61 123 63 120 62 114 61 113 56 117 53 113zM50 141L48 140 45 142 48 145 46 148 43 147 39 148 39 143 34 147 34 150 43 153 42 156 45 159 48 158 48 163 52 164 54 163 56 164 60 164 63 162 73 165 75 160 73 159 68 161 67 154 63 161 61 158 58 160 56 160 56 157 54 155 58 152 54 145 51 144zM65 18L63 20 63 23 59 22 55 26 55 28 53 34 53 35 58 35 67 39 65 41 65 43 61 45 62 49 60 51 62 56 60 59 66 63 68 59 70 59 75 62 77 59 81 61 85 61 87 58 90 57 92 57 93 60 99 61 96 54 98 50 105 50 108 49 109 44 105 41 103 45 100 45 98 41 96 45 93 44 92 47 89 46 90 44 92 43 93 41 90 39 92 32 91 28 88 28 88 33 83 37 79 37 76 34 72 36 73 30 72 25 68 23 69 19zM64 127L65 129 67 129 67 125zM60 187L61 194 61 198 59 200 60 203 66 208 70 207 72 208 75 203 73 203 74 200 79 199 80 195 77 193 74 195 74 190 70 191 68 188zM101 0L101 1 106 3 108 11 111 10 112 7 115 9 114 4 117 2 116 0zM117 51L114 47 111 50 110 55 115 56zM1 35L0 46 4 47 6 51 18 43 22 45 27 37 30 39 32 36 28 32 24 31 22 33 19 28 17 32 19 37 14 34 12 37 9 37 8 38 4 37 3 39zM0 99L0 116 6 117 7 115 4 111 7 110 7 106 9 104 5 100 6 97 4 95zM10 119L8 120 7 122 0 123 0 159 1 160 5 160 5 155 3 150 6 149 6 146 4 144 7 142 6 140 8 136 9 136 11 131 10 127 14 126 15 123 11 123zM12 190L7 189 8 193 5 194 4 199 6 203 8 203 8 205 0 209 0 219 47 219 50 217 50 214 54 213 56 210 53 208 52 206 54 205 59 208 60 203 59 200 61 198 61 194 59 186 60 184 66 184 68 178 72 177 76 179 77 177 80 179 80 185 87 181 88 183 88 185 81 187 85 191 89 186 93 190 96 186 96 178 98 178 97 173 100 172 101 170 111 171 112 167 110 165 106 167 103 163 106 158 99 158 98 160 95 161 92 157 88 157 85 161 85 165 76 167 63 161 60 164 56 164 54 163 52 164 48 163 50 170 48 170 43 169 43 172 40 172 40 169 37 169 37 165 36 164 31 167 30 162 31 160 26 155 25 156 24 160 20 160 18 156 16 158 11 156 15 161 11 163 14 168 13 169 18 173 16 174 13 173 14 178 18 182 22 182 27 184 31 183 33 186 37 184 36 188 43 194 41 196 39 193 37 195 29 196 27 194 22 193 18 196 17 193 11 194zM19 11L21 12 23 10 24 5 20 6zM28 62L27 60 24 60 24 64zM23 89L24 91 26 92 33 93 33 98 38 96 38 90 39 87 34 82 27 80zM26 121L24 125 28 130 31 128 28 125 33 122 31 120zM34 58L37 59 39 56 37 53 35 53zM38 60L36 62 34 61 29 63 29 65 33 68 35 68 34 74 39 73 41 69 44 70 45 74 54 73 57 65 59 64 61 70 59 73 61 76 63 75 67 64 57 54 55 56 50 57 48 53 50 51 49 48 44 47 42 50 44 52 43 58 41 60zM41 92L39 96 39 97 44 94 43 92zM38 130L34 126 32 128 34 132zM51 22L49 23 47 26 47 30 48 31 50 31 52 32 55 28 55 26 53 27zM48 41L49 43 53 44 54 43 52 37zM87 73L82 75 70 72 69 76 66 80 65 84 68 89 67 92 70 92 72 90 71 87 75 84 76 85 82 83 81 87 85 87 86 84 93 85 94 83 91 78 90 77zM71 133L71 136 76 141 79 142 82 139 80 135 74 132zM83 152L85 147 79 145 78 148 75 147 72 149 72 152 77 153 72 158 73 159 75 160 83 160 81 153zM77 200L74 199 73 203 75 203 72 208 71 212 72 213 75 214 77 212 80 212 83 208 78 206 76 203zM88 217L87 215 82 217 78 217 79 219 86 219zM117 59L115 55 108 55 102 60 103 65 107 66 109 60 113 63zM115 72L116 68 113 67 111 69zM116 74L111 72 108 78 112 81 115 81zM126 92L129 96 126 98 129 100 128 103 126 105 125 103 118 101 125 107 125 109 132 109 133 104 135 103 138 106 140 98 143 96 142 94 142 89 144 89 146 92 146 79 140 81 138 78 136 77 134 79 134 82 132 82 134 86 131 87 129 90zM109 102L105 97 104 104zM125 169L121 170 122 172 120 177 120 181 126 184 129 188 132 186 135 191 138 188 143 190 146 187 146 159 144 159 141 160 140 163 134 164 133 167 127 172zM133 205L127 207 126 209 123 208 121 208 120 210 124 213 119 215 116 211 114 213 115 217 118 217 120 219 146 219 146 212 137 213zM136 4L132 7 135 10 133 13 134 17 132 19 133 25 136 26 139 21 146 20 146 13 140 14 137 10 138 8zM138 69L135 69 133 71 134 75 138 71zM8 7L3 5 0 7 0 11 3 10 7 14zM43 92L43 90 40 87 39 87 37 90 38 96 41 92zM19 100L20 102 19 104 19 106 17 108 18 111 22 109 25 111 29 110 32 108 32 106 36 105 33 98 29 99 21 97zM66 6L66 12 68 14 73 12 72 7zM102 66L103 65 102 60 97 62 97 64zM45 95L39 96 42 101zM109 181L109 186 103 190 105 195 110 196 114 193 117 195 117 198 115 198 115 203 121 201 120 195 121 194 124 197 126 197 129 192 128 191 129 187 126 184 120 181 118 183 116 184 111 181zM82 194L80 195 79 198 76 203 78 206 83 208 88 201 84 200 86 194zM39 13L28 11 25 16 23 16 19 19 21 23 19 28 22 33 24 31 28 32 32 36 33 35 37 37 44 36 44 31 40 29 39 30 35 28 36 25 40 25 42 18 39 15zM1 24L0 35 3 39 6 30 5 26 2 27zM74 111L74 109 70 108 67 113 69 117 71 118zM135 34L134 35 135 41 131 45 136 47 138 45 140 47 146 47 146 38 144 35 143 34 140 37zM78 64L84 68 87 62 84 61 81 61zM78 166L76 160 75 160 73 165 76 167zM97 214L95 210 91 214 87 215 86 219 96 219zM77 68L80 71 76 73 82 75 87 73 88 70 84 68zM0 73L4 73 6 68 0 67zM88 95L87 97 82 101 81 98 76 99 78 102 82 102 83 105 82 107 84 109 88 107 90 110 93 109 94 111 96 110 99 108 98 103 101 102 104 104 105 95 99 88 96 89 95 94zM0 159L0 168 4 171 6 168 4 166 4 160zM103 178L96 178 95 184 100 191 107 189 110 186 109 184 111 181 116 184 119 183 122 172 121 170 113 172 107 169 105 173 106 175zM146 20L139 21 136 26 137 29 136 31 135 34 140 37 146 32zM53 35L51 37 54 43 53 44 49 43 44 45 44 47 48 48 50 51 48 53 50 57 55 56 57 54 61 57 62 56 60 51 62 49 61 45 65 43 65 41 67 39 58 35zM43 123L38 120 36 120 39 124 36 127 38 129zM48 159L45 159 43 160 39 159 36 162 37 169 40 169 40 172 43 172 42 165 45 165 48 163zM125 32L123 28 121 32 117 31 117 36 123 41 123 44 128 46 128 40 130 36 125 33zM101 170L99 172 97 173 98 178 103 178 106 175 105 173 106 170zM91 214L98 209 96 205 90 206 87 208 84 208 87 215zM37 53L39 56 43 58 44 52 42 50 39 50zM33 52L31 53 30 57 34 57 35 53zM47 114L45 116 42 115 44 121 38 129 38 131 43 132 45 135 49 133 47 128 50 125 50 121 46 119 50 117zM69 146L60 145 59 147 63 153 61 154 58 152 53 155 56 157 56 160 58 160 61 158 63 161 67 154 68 161 73 159 72 158 77 153 72 152 72 149zM110 55L111 50 114 48 117 51 115 56 116 57 119 55 122 56 123 53 120 51 122 49 125 51 127 50 128 47 123 44 119 46 116 45 113 41 111 42 109 44 108 49 105 50 102 55 105 57zM92 57L87 58 85 61 87 63 84 68 88 70 88 73 95 73 98 75 102 74 104 71 102 66 97 64 97 62 93 60zM109 60L107 66 108 69 116 75 118 74 122 71 123 67 116 68 115 72 111 69 113 67 116 68 117 65 115 61 113 62zM67 107L74 109 73 103 69 101zM68 127L71 127 72 125 71 122 67 123zM140 62L137 58 133 66 135 69 138 69 140 68 142 62zM10 83L5 84 4 86 5 91 8 94 6 97 9 98 14 91 16 91 20 87 20 86 12 86zM15 144L9 144 6 146 5 149 3 150 4 154 9 155 10 152 14 152 15 154 11 157 16 158 18 156 19 160 24 160 26 155 31 160 30 162 31 167 36 164 39 159 43 160 45 159 42 156 43 153 37 150 30 149 29 147 26 148 22 145 18 149 16 148zM7 168L4 171 0 168 0 209 8 205 8 203 6 203 4 199 5 194 9 193 7 189 12 190 11 194 17 193 16 190 21 187 17 184 18 182 13 177 13 173 18 174 18 172zM49 79L45 76 43 77 43 82 45 84 40 87 43 90 46 88 50 93 49 99 43 101 42 103 44 106 51 103 55 104 57 101 62 106 63 104 61 99 64 98 67 99 68 97 67 92 64 93 63 89 59 88 58 86 56 86 57 78zM51 213L50 217 47 219 61 219 60 217 61 215 61 210 54 205 52 206 53 208 56 210 54 213zM109 84L103 86 104 89 109 89 110 94 118 92 118 90 115 87 115 85 110 86zM85 147L86 144 82 139 79 142 76 141 74 143 75 148 78 149 80 146zM111 146L104 145 104 151 97 150 99 148 95 146 93 149 95 150 96 155 99 158 106 159 103 163 106 167 110 165 112 167 115 165 117 166 121 163 120 158 123 156 123 149 124 144 122 140 115 148 112 148zM71 177L68 178 66 184 60 184 59 186 70 191 73 190 74 195 77 193 80 187 88 185 87 181 80 185 73 181zM125 109L122 112 122 116 119 118 118 120 121 123 119 126 122 128 125 126 126 130 129 130 128 136 131 136 133 134 129 130 130 129 135 128 134 122 139 119 135 114 136 113 140 114 142 109 141 108 138 107 137 109zM114 193L109 196 109 200 110 202 117 198 117 195zM120 195L121 201 113 203 113 206 117 212 119 216 124 213 120 210 121 208 123 208 126 210 127 207 133 205 137 214 146 212 146 187 143 190 138 188 135 191 132 186 129 187 127 191 129 192 126 197 124 197 121 194zM42 138L40 137 37 141 34 140 33 138 28 141 29 143 30 143 34 147 39 143 39 148 41 148 43 147zM18 149L23 143 20 141 16 142 13 137 7 140 7 142 4 144 6 146 9 144 15 144 16 148zM98 142L95 146 99 148 97 150 104 152 104 145 111 146 112 148 118 145 118 143 123 138 130 142 132 139 131 136 127 135 129 130 126 130 125 126 122 128 119 127 119 125 121 123 119 120 115 121 111 121 111 123 107 126 106 129 102 131 104 134 109 133 110 136 109 139 107 138 106 140 102 138 101 143zM11 163L5 164 4 166 6 168 12 170 14 168zM133 127L129 130 132 134 135 128z"/><path fill="#fff" d="M30 2h1v1h-1zM33 5h2v1h-2zM34 4h2v1h-2zM31 2h1v2h-1zM72 3h1v2h-1zM82 0h1v1h-1zM99 0h3v1h-3zM108 5h2v1h-2zM129 0h3v2h-3zM21 9h3v1h-3zM35 10h2v2h-2zM38 10h2v1h-2zM43 6h1v2h-1zM56 9h1v2h-1zM60 6h2v1h-2zM55 11h1v1h-1zM59 7h2v2h-2zM101 8h3v2h-3zM114 8h1v1h-1zM113 6h1v1h-1zM110 10h1v1h-1zM109 10h3v2h-3zM137 8h1v1h-1zM0 15h1v1h-1zM20 12h1v1h-1zM49 12h1v1h-1zM58 17h2v2h-2zM110 13h2v1h-2zM112 15h1v1h-1zM114 15h1v1h-1zM112 18h1v1h-1zM128 18h1v1h-1zM11 19h3v2h-3zM14 20h1v2h-1zM19 23h2v1h-2zM36 22h3v1h-3zM63 23h1v2h-1zM63 21h2v1h-2zM62 19h3v1h-3zM61 21h3v1h-3zM74 20h1v1h-1zM86 21h2v2h-2zM86 21h3v1h-3zM88 20h2v1h-2zM89 24h1v2h-1zM85 18h3v2h-3zM98 21h1v1h-1zM121 22h2v1h-2zM124 22h2v1h-2zM37 25h1v1h-1zM61 26h2v1h-2zM94 26h2v2h-2zM94 27h3v1h-3zM91 29h3v1h-3zM95 26h3v1h-3zM115 27h1v2h-1zM110 27h1v1h-1zM113 28h3v1h-3zM109 25h2v2h-2zM112 27h3v1h-3zM116 27h1v2h-1zM134 26h3v1h-3zM3 30h2v1h-2zM15 35h2v1h-2zM38 33h1v2h-1zM68 32h2v2h-2zM30 39h1v1h-1zM43 36h2v1h-2zM83 37h1v1h-1zM128 41h2v2h-2zM5 45h2v2h-2zM32 43h2v1h-2zM37 47h2v2h-2zM39 47h2v1h-2zM37 44h1v1h-1zM36 43h3v2h-3zM65 48h2v1h-2zM85 45h1v1h-1zM87 48h2v2h-2zM85 43h3v1h-3zM88 46h1v1h-1zM121 47h2v2h-2zM117 43h3v1h-3zM118 44h1v1h-1zM116 47h1v2h-1zM121 43h2v1h-2zM122 47h1v1h-1zM140 48h2v2h-2zM5 53h1v1h-1zM35 50h2v2h-2zM33 48h2v2h-2zM33 49h1v1h-1zM34 54h2v2h-2zM45 49h1v1h-1zM48 49h1v1h-1zM44 50h3v1h-3zM47 52h3v1h-3zM64 49h1v2h-1zM88 53h1v2h-1zM86 52h1v1h-1zM87 49h2v1h-2zM89 50h1v1h-1zM105 50h2v1h-2zM115 50h1v1h-1zM119 49h2v1h-2zM117 50h1v2h-1zM120 52h1v1h-1zM115 52h3v1h-3zM23 57h1v1h-1zM24 56h1v1h-1zM22 55h1v2h-1zM21 58h3v1h-3zM33 55h1v1h-1zM34 60h2v2h-2zM32 59h3v2h-3zM30 59h1v2h-1zM47 55h1v1h-1zM87 58h3v1h-3zM85 56h1v1h-1zM89 57h2v1h-2zM88 56h1v1h-1zM13 65h2v1h-2zM26 63h3v2h-3zM27 63h1v2h-1zM26 61h2v2h-2zM26 61h3v1h-3zM50 65h1v2h-1zM116 61h3v1h-3zM134 60h1v1h-1zM8 69h1v1h-1zM63 70h1v1h-1zM70 67h1v2h-1zM111 72h3v1h-3zM113 71h1v1h-1zM114 69h2v2h-2zM110 70h2v1h-2zM114 70h1v2h-1zM136 72h3v2h-3zM70 75h1v1h-1zM97 76h2v1h-2zM104 73h2v1h-2zM135 79h1v2h-1zM142 75h1v2h-1zM13 83h3v1h-3zM58 84h2v2h-2zM136 82h2v1h-2zM42 87h1v2h-1zM48 89h2v2h-2zM43 91h2v2h-2zM46 85h3v2h-3zM46 90h3v1h-3zM101 87h2v1h-2zM109 88h1v2h-1zM111 90h1v1h-1zM143 90h2v1h-2zM33 94h2v1h-2zM33 93h1v2h-1zM34 94h1v2h-1zM31 91h1v1h-1zM41 92h1v2h-1zM41 94h2v1h-2zM42 95h3v1h-3zM37 93h1v2h-1zM55 92h1v1h-1zM74 91h1v1h-1zM91 92h1v1h-1zM97 91h1v1h-1zM136 95h1v2h-1zM22 101h3v1h-3zM43 98h1v1h-1zM47 98h2v2h-2zM44 103h1v1h-1zM42 97h1v1h-1zM67 98h2v1h-2zM106 98h2v1h-2zM117 100h2v2h-2zM38 105h3v1h-3zM48 104h2v1h-2zM47 109h1v1h-1zM42 105h2v1h-2zM48 104h2v1h-2zM43 103h2v2h-2zM100 106h2v2h-2zM135 108h2v1h-2zM28 110h1v2h-1zM30 110h1v2h-1zM51 115h1v1h-1zM51 114h1v1h-1zM54 113h2v2h-2zM53 113h1v1h-1zM50 111h1v2h-1zM103 112h2v1h-2zM138 111h3v2h-3zM139 114h3v1h-3zM134 115h2v1h-2zM138 115h1v1h-1zM0 118h3v2h-3zM42 121h2v1h-2zM39 121h2v1h-2zM40 119h3v2h-3zM42 115h2v2h-2zM50 117h1v2h-1zM58 120h1v1h-1zM112 121h2v1h-2zM119 119h1v1h-1zM116 115h1v1h-1zM120 120h2v1h-2zM120 120h3v2h-3zM35 123h1v2h-1zM33 127h3v2h-3zM31 123h2v2h-2zM31 124h2v1h-2zM51 124h2v1h-2zM65 126h1v1h-1zM64 124h3v2h-3zM66 121h1v2h-1zM63 122h1v2h-1zM71 126h1v1h-1zM89 126h1v2h-1zM94 125h1v1h-1zM105 122h1v1h-1zM105 123h1v2h-1zM104 125h1v2h-1zM106 124h2v1h-2zM141 125h1v1h-1zM27 128h1v1h-1zM36 131h3v2h-3zM33 132h1v2h-1zM30 133h2v2h-2zM32 128h2v1h-2zM40 128h1v1h-1zM41 132h1v1h-1zM39 129h2v1h-2zM41 129h1v1h-1zM50 131h1v1h-1zM60 130h3v2h-3zM107 132h1v1h-1zM111 131h2v2h-2zM125 133h2v2h-2zM129 133h1v1h-1zM129 131h2v2h-2zM133 128h3v1h-3zM130 129h1v1h-1zM135 132h1v1h-1zM32 136h2v1h-2zM75 137h2v1h-2zM86 138h1v1h-1zM109 138h2v1h-2zM139 135h1v1h-1zM4 143h3v1h-3zM47 142h3v1h-3zM48 140h2v2h-2zM44 145h2v1h-2zM47 140h1v1h-1zM53 143h3v2h-3zM58 142h3v1h-3zM81 145h2v1h-2zM117 144h2v2h-2zM118 144h1v1h-1zM117 142h1v1h-1zM118 142h1v2h-1zM121 145h2v2h-2zM49 150h1v1h-1zM56 147h2v2h-2zM56 146h3v1h-3zM55 151h1v1h-1zM58 149h2v2h-2zM71 148h1v2h-1zM86 149h2v1h-2zM118 150h2v1h-2zM71 153h2v2h-2zM83 156h2v1h-2zM79 155h2v2h-2zM83 155h1v1h-1zM81 153h1v1h-1zM101 157h2v1h-2zM99 155h3v1h-3zM99 157h1v1h-1zM98 154h2v1h-2zM115 153h1v2h-1zM117 156h2v1h-2zM121 156h2v1h-2zM116 157h3v1h-3zM125 158h1v1h-1zM49 163h1v1h-1zM91 162h3v1h-3zM106 161h1v1h-1zM103 160h3v1h-3zM104 158h2v1h-2zM104 162h1v1h-1zM131 160h2v1h-2zM142 162h2v1h-2zM19 169h2v2h-2zM56 165h2v1h-2zM75 165h2v1h-2zM18 172h3v2h-3zM17 173h3v2h-3zM14 175h2v2h-2zM14 170h1v1h-1zM28 174h1v1h-1zM32 172h1v2h-1zM70 172h1v2h-1zM87 172h2v1h-2zM90 173h1v1h-1zM88 170h1v1h-1zM86 172h2v1h-2zM91 173h2v2h-2zM101 172h1v1h-1zM114 171h3v2h-3zM125 173h3v1h-3zM9 178h1v1h-1zM44 182h2v2h-2zM54 177h1v1h-1zM114 178h2v1h-2zM120 177h1v2h-1zM123 178h3v1h-3zM141 180h2v1h-2zM2 188h2v1h-2zM15 184h3v2h-3zM60 183h2v1h-2zM63 188h2v1h-2zM89 184h3v1h-3zM87 185h2v1h-2zM90 183h1v1h-1zM86 185h3v2h-3zM85 186h1v2h-1zM121 186h3v1h-3zM8 189h2v2h-2zM8 189h2v1h-2zM11 194h1v1h-1zM6 192h2v2h-2zM9 192h1v2h-1zM25 193h1v1h-1zM47 191h2v2h-2zM69 190h2v1h-2zM121 191h3v1h-3zM138 190h2v1h-2zM20 196h1v1h-1zM30 199h3v1h-3zM40 198h1v2h-1zM45 198h1v2h-1zM66 195h2v2h-2zM101 199h1v2h-1zM116 196h2v1h-2zM34 202h2v2h-2zM115 203h3v1h-3zM110 204h3v1h-3zM110 201h1v2h-1zM112 204h3v1h-3zM138 205h3v1h-3zM6 209h2v1h-2zM19 207h2v1h-2zM27 209h2v2h-2zM60 211h3v2h-3zM69 207h1v1h-1zM77 209h1v2h-1zM91 209h1v2h-1zM104 209h1v1h-1zM106 212h1v1h-1zM107 208h2v1h-2zM105 211h1v2h-1zM105 212h3v1h-3zM113 207h3v1h-3zM113 209h1v1h-1zM110 209h1v1h-1zM115 207h2v1h-2zM121 213h1v1h-1zM117 207h1v1h-1zM119 211h2v2h-2zM121 211h1v1h-1zM127 212h1v1h-1zM132 210h2v2h-2zM16 217h1v1h-1zM84 218h1v1h-1zM81 217h1v1h-1zM83 215h2v1h-2zM84 214h3v1h-3zM87 213h2v1h-2zM98 213h2v1h-2zM120 214h3v2h-3zM120 216h2v1h-2zM118 216h1v1h-1zM119 218h2v1h-2zM142 218h3v1h-3z"/></svg><svg class="m" style="left:0;top:0" width="550" height="495"><defs><clipPath id="ca"><rect x="38" y="110" width="100" height="108"/></clipPath></defs><path clip-path="url(#ca)" fill="none" stroke="#1f8a2a" stroke-opacity="0.55" stroke-width="0.7" stroke-dasharray="1.2 1.3" d="M127.9 149.6L138.4 142.3M52.7 164.2L67.7 152.3M56.0 179.2L70.9 169.0M43.1 210.8L52.5 204.3M95.8 199.1L104.4 191.1M49.6 193.5L62.9 180.4M61.1 125.9L70.4 118.3M88.1 186.3L96.0 180.9M148.0 189.8L166.9 176.8M50.4 162.7L58.2 157.2M99.2 128.3L112.9 118.5M100.7 129.8L118.9 110.2M132.7 212.5L152.1 200.0M98.4 139.3L112.5 129.0M124.5 155.3L142.8 135.4M94.5 121.8L107.4 113.8M53.0 213.6L73.8 197.9M46.2 163.7L61.2 147.9M72.8 126.9L93.6 113.2M141.6 190.8L154.9 176.6M93.0 191.8L108.6 174.7M40.9 126.6L59.2 107.4M82.9 164.2L100.8 145.7M68.8 192.9L75.6 186.0M42.8 211.0L52.5 202.8M81.7 213.2L99.1 199.4M93.8 144.0L111.0 126.0M108.4 146.6L118.6 137.8M60.8 175.4L67.1 168.4M55.5 126.7L75.2 110.3M114.7 193.6L124.2 187.4M82.3 162.6L96.5 152.0M124.5 136.8L143.0 120.7M67.6 201.8L88.6 187.5"/></svg><svg class="m" style="left:131.5px;top:210.3px" width="51" height="32.5" viewBox="0 0 51 32.5"><rect width="51" height="32.5" fill="#fff"/><polygon points="5.3,26.4 8.2,26.4 7.8,24.9" fill="#ff0606"/><polygon points="8.2,26.4 10.8,24.9 7.8,24.9" fill="#ff0d0d"/><polygon points="7.8,24.9 10.8,24.9 10.4,23.5" fill="#ff071b"/><polygon points="10.8,24.9 13.3,23.5 10.4,23.5" fill="#ff0f24"/><polygon points="10.4,23.5 13.3,23.5 12.9,22.0" fill="#ff0733"/><polygon points="13.3,23.5 15.8,22.0 12.9,22.0" fill="#ff1040"/><polygon points="12.9,22.0 15.8,22.0 15.4,20.5" fill="#ff0850"/><polygon points="15.8,22.0 18.4,20.5 15.4,20.5" fill="#ff1261"/><polygon points="15.4,20.5 18.4,20.5 18.0,19.1" fill="#ff0973"/><polygon points="18.4,20.5 20.9,19.1 18.0,19.1" fill="#ff1489"/><polygon points="18.0,19.1 20.9,19.1 20.5,17.6" fill="#ff0a9e"/><polygon points="20.9,19.1 23.4,17.6 20.5,17.6" fill="#ff16bc"/><polygon points="20.5,17.6 23.4,17.6 23.1,16.1" fill="#ff0bd4"/><polygon points="23.4,17.6 26.0,16.1 23.1,16.1" fill="#ff19ff"/><polygon points="23.1,16.1 26.0,16.1 25.6,14.7" fill="#e60cff"/><polygon points="26.0,16.1 28.5,14.7 25.6,14.7" fill="#bc16ff"/><polygon points="25.6,14.7 28.5,14.7 28.1,13.2" fill="#ac0aff"/><polygon points="28.5,14.7 31.0,13.2 28.1,13.2" fill="#8914ff"/><polygon points="28.1,13.2 31.0,13.2 30.7,11.8" fill="#7e09ff"/><polygon points="31.0,13.2 33.6,11.8 30.7,11.8" fill="#6112ff"/><polygon points="30.7,11.8 33.6,11.8 33.2,10.3" fill="#5908ff"/><polygon points="33.6,11.8 36.1,10.3 33.2,10.3" fill="#4010ff"/><polygon points="33.2,10.3 36.1,10.3 35.7,8.8" fill="#3b08ff"/><polygon points="36.1,10.3 38.6,8.8 35.7,8.8" fill="#240fff"/><polygon points="35.7,8.8 38.6,8.8 38.3,7.4" fill="#2107ff"/><polygon points="38.6,8.8 41.2,7.4 38.3,7.4" fill="#0d0dff"/><polygon points="38.3,7.4 41.2,7.4 40.8,5.9" fill="#0c06ff"/><polygon points="8.2,26.4 11.1,26.4 10.8,24.9" fill="#ff1b07"/><polygon points="11.1,26.4 13.7,24.9 10.8,24.9" fill="#ff240f"/><polygon points="10.8,24.9 13.7,24.9 13.3,23.5" fill="#ff1d1d"/><polygon points="13.7,24.9 16.2,23.5 13.3,23.5" fill="#ff2828"/><polygon points="13.3,23.5 16.2,23.5 15.8,22.0" fill="#ff2038"/><polygon points="16.2,23.5 18.7,22.0 15.8,22.0" fill="#ff2c46"/><polygon points="15.8,22.0 18.7,22.0 18.4,20.5" fill="#ff2358"/><polygon points="18.7,22.0 21.3,20.5 18.4,20.5" fill="#ff316c"/><polygon points="18.4,20.5 21.3,20.5 20.9,19.1" fill="#ff2780"/><polygon points="21.3,20.5 23.8,19.1 20.9,19.1" fill="#ff379b"/><polygon points="20.9,19.1 23.8,19.1 23.4,17.6" fill="#ff2db3"/><polygon points="23.8,19.1 26.3,17.6 23.4,17.6" fill="#ff40d9"/><polygon points="23.4,17.6 26.3,17.6 26.0,16.1" fill="#ff33f4"/><polygon points="26.3,17.6 28.9,16.1 26.0,16.1" fill="#d940ff"/><polygon points="26.0,16.1 28.9,16.1 28.5,14.7" fill="#c32eff"/><polygon points="28.9,16.1 31.4,14.7 28.5,14.7" fill="#9b37ff"/><polygon points="28.5,14.7 31.4,14.7 31.0,13.2" fill="#8d29ff"/><polygon points="31.4,14.7 34.0,13.2 31.0,13.2" fill="#6c31ff"/><polygon points="31.0,13.2 34.0,13.2 33.6,11.8" fill="#6324ff"/><polygon points="34.0,13.2 36.5,11.8 33.6,11.8" fill="#462cff"/><polygon points="33.6,11.8 36.5,11.8 36.1,10.3" fill="#4021ff"/><polygon points="36.5,11.8 39.0,10.3 36.1,10.3" fill="#2828ff"/><polygon points="36.1,10.3 39.0,10.3 38.6,8.8" fill="#241eff"/><polygon points="39.0,10.3 41.6,8.8 38.6,8.8" fill="#0f24ff"/><polygon points="38.6,8.8 41.6,8.8 41.2,7.4" fill="#0d1cff"/><polygon points="11.1,26.4 14.0,26.4 13.7,24.9" fill="#ff3307"/><polygon points="14.0,26.4 16.6,24.9 13.7,24.9" fill="#ff4010"/><polygon points="13.7,24.9 16.6,24.9 16.2,23.5" fill="#ff3820"/><polygon points="16.6,24.9 19.1,23.5 16.2,23.5" fill="#ff462c"/><polygon points="16.2,23.5 19.1,23.5 18.7,22.0" fill="#ff3e3e"/><polygon points="19.1,23.5 21.7,22.0 18.7,22.0" fill="#ff4e4e"/><polygon points="18.7,22.0 21.7,22.0 21.3,20.5" fill="#ff4563"/><polygon points="21.7,22.0 24.2,20.5 21.3,20.5" fill="#ff597a"/><polygon points="21.3,20.5 24.2,20.5 23.8,19.1" fill="#ff4e91"/><polygon points="24.2,20.5 26.7,19.1 23.8,19.1" fill="#ff66b3"/><polygon points="23.8,19.1 26.7,19.1 26.3,17.6" fill="#ff5ace"/><polygon points="26.7,19.1 29.3,17.6 26.3,17.6" fill="#ff78ff"/><polygon points="26.3,17.6 29.3,17.6 28.9,16.1" fill="#e25eff"/><polygon points="29.3,17.6 31.8,16.1 28.9,16.1" fill="#b266ff"/><polygon points="28.9,16.1 31.8,16.1 31.4,14.7" fill="#a051ff"/><polygon points="31.8,16.1 34.3,14.7 31.4,14.7" fill="#7a59ff"/><polygon points="31.4,14.7 34.3,14.7 34.0,13.2" fill="#6f47ff"/><polygon points="34.3,14.7 36.9,13.2 34.0,13.2" fill="#4e4eff"/><polygon points="34.0,13.2 36.9,13.2 36.5,11.8" fill="#4740ff"/><polygon points="36.9,13.2 39.4,11.8 36.5,11.8" fill="#2c46ff"/><polygon points="36.5,11.8 39.4,11.8 39.0,10.3" fill="#283aff"/><polygon points="39.4,11.8 41.9,10.3 39.0,10.3" fill="#1040ff"/><polygon points="39.0,10.3 41.9,10.3 41.6,8.8" fill="#0e35ff"/><polygon points="14.0,26.4 17.0,26.4 16.6,24.9" fill="#ff5008"/><polygon points="17.0,26.4 19.5,24.9 16.6,24.9" fill="#ff6112"/><polygon points="16.6,24.9 19.5,24.9 19.1,23.5" fill="#ff5823"/><polygon points="19.5,24.9 22.0,23.5 19.1,23.5" fill="#ff6c31"/><polygon points="19.1,23.5 22.0,23.5 21.7,22.0" fill="#ff6345"/><polygon points="22.0,23.5 24.6,22.0 21.7,22.0" fill="#ff7a59"/><polygon points="21.7,22.0 24.6,22.0 24.2,20.5" fill="#ff7070"/><polygon points="24.6,22.0 27.1,20.5 24.2,20.5" fill="#ff8c8c"/><polygon points="24.2,20.5 27.1,20.5 26.7,19.1" fill="#ff81a7"/><polygon points="27.1,20.5 29.6,19.1 26.7,19.1" fill="#ffa5d2"/><polygon points="26.7,19.1 29.6,19.1 29.3,17.6" fill="#ff97f2"/><polygon points="29.6,19.1 32.2,17.6 29.3,17.6" fill="#d2a5ff"/><polygon points="29.3,17.6 32.2,17.6 31.8,16.1" fill="#ba86ff"/><polygon points="32.2,17.6 34.7,16.1 31.8,16.1" fill="#8c8cff"/><polygon points="31.8,16.1 34.7,16.1 34.3,14.7" fill="#7e74ff"/><polygon points="34.7,16.1 37.2,14.7 34.3,14.7" fill="#597aff"/><polygon points="34.3,14.7 37.2,14.7 36.9,13.2" fill="#5066ff"/><polygon points="37.2,14.7 39.8,13.2 36.9,13.2" fill="#316cff"/><polygon points="36.9,13.2 39.8,13.2 39.4,11.8" fill="#2c5bff"/><polygon points="39.8,13.2 42.3,11.8 39.4,11.8" fill="#1261ff"/><polygon points="39.4,11.8 42.3,11.8 41.9,10.3" fill="#0f52ff"/><polygon points="17.0,26.4 19.9,26.4 19.5,24.9" fill="#ff7309"/><polygon points="19.9,26.4 22.4,24.9 19.5,24.9" fill="#ff8914"/><polygon points="19.5,24.9 22.4,24.9 22.0,23.5" fill="#ff8027"/><polygon points="22.4,24.9 24.9,23.5 22.0,23.5" fill="#ff9b37"/><polygon points="22.0,23.5 24.9,23.5 24.6,22.0" fill="#ff914e"/><polygon points="24.9,23.5 27.5,22.0 24.6,22.0" fill="#ffb366"/><polygon points="24.6,22.0 27.5,22.0 27.1,20.5" fill="#ffa781"/><polygon points="27.5,22.0 30.0,20.5 27.1,20.5" fill="#ffd2a5"/><polygon points="27.1,20.5 30.0,20.5 29.6,19.1" fill="#ffc5c5"/><polygon points="30.0,20.5 32.6,19.1 29.6,19.1" fill="#ffffff"/><polygon points="29.6,19.1 32.6,19.1 32.2,17.6" fill="#ddcfff"/><polygon points="32.6,19.1 35.1,17.6 32.2,17.6" fill="#a5d2ff"/><polygon points="32.2,17.6 35.1,17.6 34.7,16.1" fill="#91aeff"/><polygon points="35.1,17.6 37.6,16.1 34.7,16.1" fill="#66b3ff"/><polygon points="34.7,16.1 37.6,16.1 37.2,14.7" fill="#5b97ff"/><polygon points="37.6,16.1 40.2,14.7 37.2,14.7" fill="#379bff"/><polygon points="37.2,14.7 40.2,14.7 39.8,13.2" fill="#3185ff"/><polygon points="40.2,14.7 42.7,13.2 39.8,13.2" fill="#1489ff"/><polygon points="39.8,13.2 42.7,13.2 42.3,11.8" fill="#1176ff"/><polygon points="19.9,26.4 22.8,26.4 22.4,24.9" fill="#ff9e0a"/><polygon points="22.8,26.4 25.3,24.9 22.4,24.9" fill="#ffbc16"/><polygon points="22.4,24.9 25.3,24.9 24.9,23.5" fill="#ffb32d"/><polygon points="25.3,24.9 27.9,23.5 24.9,23.5" fill="#ffd940"/><polygon points="24.9,23.5 27.9,23.5 27.5,22.0" fill="#ffce5a"/><polygon points="27.9,23.5 30.4,22.0 27.5,22.0" fill="#ffff78"/><polygon points="27.5,22.0 30.4,22.0 30.0,20.5" fill="#fff297"/><polygon points="30.4,22.0 32.9,20.5 30.0,20.5" fill="#d2ffa5"/><polygon points="30.0,20.5 32.9,20.5 32.6,19.1" fill="#ddffcf"/><polygon points="32.9,20.5 35.5,19.1 32.6,19.1" fill="#a5ffd2"/><polygon points="32.6,19.1 35.5,19.1 35.1,17.6" fill="#adffff"/><polygon points="35.5,19.1 38.0,17.6 35.1,17.6" fill="#78ffff"/><polygon points="35.1,17.6 38.0,17.6 37.6,16.1" fill="#69d7ff"/><polygon points="38.0,17.6 40.5,16.1 37.6,16.1" fill="#40d9ff"/><polygon points="37.6,16.1 40.5,16.1 40.2,14.7" fill="#38b9ff"/><polygon points="40.5,16.1 43.1,14.7 40.2,14.7" fill="#16bcff"/><polygon points="40.2,14.7 43.1,14.7 42.7,13.2" fill="#13a3ff"/><polygon points="22.8,26.4 25.7,26.4 25.3,24.9" fill="#ffd40b"/><polygon points="25.7,26.4 28.2,24.9 25.3,24.9" fill="#ffff19"/><polygon points="25.3,24.9 28.2,24.9 27.9,23.5" fill="#fff433"/><polygon points="28.2,24.9 30.8,23.5 27.9,23.5" fill="#d9ff40"/><polygon points="27.9,23.5 30.8,23.5 30.4,22.0" fill="#e2ff5e"/><polygon points="30.8,23.5 33.3,22.0 30.4,22.0" fill="#b2ff66"/><polygon points="30.4,22.0 33.3,22.0 32.9,20.5" fill="#baff86"/><polygon points="33.3,22.0 35.8,20.5 32.9,20.5" fill="#8cff8c"/><polygon points="32.9,20.5 35.8,20.5 35.5,19.1" fill="#91ffae"/><polygon points="35.8,20.5 38.4,19.1 35.5,19.1" fill="#66ffb3"/><polygon points="35.5,19.1 38.4,19.1 38.0,17.6" fill="#69ffd7"/><polygon points="38.4,19.1 40.9,17.6 38.0,17.6" fill="#40ffd9"/><polygon points="38.0,17.6 40.9,17.6 40.5,16.1" fill="#41ffff"/><polygon points="40.9,17.6 43.5,16.1 40.5,16.1" fill="#19ffff"/><polygon points="40.5,16.1 43.5,16.1 43.1,14.7" fill="#15dcff"/><polygon points="25.7,26.4 28.6,26.4 28.2,24.9" fill="#e6ff0c"/><polygon points="28.6,26.4 31.2,24.9 28.2,24.9" fill="#bcff16"/><polygon points="28.2,24.9 31.2,24.9 30.8,23.5" fill="#c3ff2e"/><polygon points="31.2,24.9 33.7,23.5 30.8,23.5" fill="#9bff37"/><polygon points="30.8,23.5 33.7,23.5 33.3,22.0" fill="#a0ff51"/><polygon points="33.7,23.5 36.2,22.0 33.3,22.0" fill="#7aff59"/><polygon points="33.3,22.0 36.2,22.0 35.8,20.5" fill="#7eff74"/><polygon points="36.2,22.0 38.8,20.5 35.8,20.5" fill="#59ff7a"/><polygon points="35.8,20.5 38.8,20.5 38.4,19.1" fill="#5bff97"/><polygon points="38.8,20.5 41.3,19.1 38.4,19.1" fill="#37ff9b"/><polygon points="38.4,19.1 41.3,19.1 40.9,17.6" fill="#38ffb9"/><polygon points="41.3,19.1 43.8,17.6 40.9,17.6" fill="#16ffbc"/><polygon points="40.9,17.6 43.8,17.6 43.5,16.1" fill="#15ffdc"/><polygon points="28.6,26.4 31.5,26.4 31.2,24.9" fill="#acff0a"/><polygon points="31.5,26.4 34.1,24.9 31.2,24.9" fill="#89ff14"/><polygon points="31.2,24.9 34.1,24.9 33.7,23.5" fill="#8dff29"/><polygon points="34.1,24.9 36.6,23.5 33.7,23.5" fill="#6cff31"/><polygon points="33.7,23.5 36.6,23.5 36.2,22.0" fill="#6fff47"/><polygon points="36.6,23.5 39.1,22.0 36.2,22.0" fill="#4eff4e"/><polygon points="36.2,22.0 39.1,22.0 38.8,20.5" fill="#50ff66"/><polygon points="39.1,22.0 41.7,20.5 38.8,20.5" fill="#31ff6c"/><polygon points="38.8,20.5 41.7,20.5 41.3,19.1" fill="#31ff85"/><polygon points="41.7,20.5 44.2,19.1 41.3,19.1" fill="#14ff89"/><polygon points="41.3,19.1 44.2,19.1 43.8,17.6" fill="#13ffa3"/><polygon points="31.5,26.4 34.4,26.4 34.1,24.9" fill="#7eff09"/><polygon points="34.4,26.4 37.0,24.9 34.1,24.9" fill="#61ff12"/><polygon points="34.1,24.9 37.0,24.9 36.6,23.5" fill="#63ff24"/><polygon points="37.0,24.9 39.5,23.5 36.6,23.5" fill="#46ff2c"/><polygon points="36.6,23.5 39.5,23.5 39.1,22.0" fill="#47ff40"/><polygon points="39.5,23.5 42.0,22.0 39.1,22.0" fill="#2cff46"/><polygon points="39.1,22.0 42.0,22.0 41.7,20.5" fill="#2cff5b"/><polygon points="42.0,22.0 44.6,20.5 41.7,20.5" fill="#12ff61"/><polygon points="41.7,20.5 44.6,20.5 44.2,19.1" fill="#11ff76"/><polygon points="34.4,26.4 37.4,26.4 37.0,24.9" fill="#59ff08"/><polygon points="37.4,26.4 39.9,24.9 37.0,24.9" fill="#40ff10"/><polygon points="37.0,24.9 39.9,24.9 39.5,23.5" fill="#40ff21"/><polygon points="39.9,24.9 42.4,23.5 39.5,23.5" fill="#28ff28"/><polygon points="39.5,23.5 42.4,23.5 42.0,22.0" fill="#28ff3a"/><polygon points="42.4,23.5 45.0,22.0 42.0,22.0" fill="#10ff40"/><polygon points="42.0,22.0 45.0,22.0 44.6,20.5" fill="#0fff52"/><polygon points="37.4,26.4 40.3,26.4 39.9,24.9" fill="#3bff08"/><polygon points="40.3,26.4 42.8,24.9 39.9,24.9" fill="#24ff0f"/><polygon points="39.9,24.9 42.8,24.9 42.4,23.5" fill="#24ff1e"/><polygon points="42.8,24.9 45.3,23.5 42.4,23.5" fill="#0fff24"/><polygon points="42.4,23.5 45.3,23.5 45.0,22.0" fill="#0eff35"/><polygon points="40.3,26.4 43.2,26.4 42.8,24.9" fill="#21ff07"/><polygon points="43.2,26.4 45.7,24.9 42.8,24.9" fill="#0dff0d"/><polygon points="42.8,24.9 45.7,24.9 45.3,23.5" fill="#0dff1c"/><polygon points="43.2,26.4 46.1,26.4 45.7,24.9" fill="#0cff06"/><path d="M46.1,26.4 Q46.5,12 40.8,5.9 Z" fill="#50c8f0"/><text x="38" y="5.2" class="ipf">01-10</text><text x="2" y="31.5" class="ipf">0001</text><text x="38" y="31.5" class="ipf">2-1-10</text></svg>
<svg class="m" style="left:0;top:0" width="550" height="495" viewBox="0 0 550 495">
<path d="M32.6,18.6 H69" stroke="#000" stroke-width="1.5" fill="none"/>
<path d="M72.4,18.6 L68.4,16.7 L68.4,20.5 Z" fill="#000"/>
<path d="M32.6,18 V54" stroke="#000" stroke-width="1.5" fill="none"/>
<path d="M32.6,57.6 L30.7,53.6 L34.5,53.6 Z" fill="#000"/>
<rect x="393.3" y="40.5" width="140.2" height="61.5" fill="none" stroke="#8a8a8a" stroke-width="0.9"/><line x1="390.8" y1="102.00" x2="393.3" y2="102.00" stroke="#8a8a8a" stroke-width="0.8"/><text x="389.8" y="104.50" class="tl" text-anchor="end">0.00</text><line x1="390.8" y1="86.62" x2="393.3" y2="86.62" stroke="#8a8a8a" stroke-width="0.8"/><text x="389.8" y="89.12" class="tl" text-anchor="end">0.05</text><line x1="390.8" y1="71.25" x2="393.3" y2="71.25" stroke="#8a8a8a" stroke-width="0.8"/><text x="389.8" y="73.75" class="tl" text-anchor="end">0.10</text><line x1="390.8" y1="55.88" x2="393.3" y2="55.88" stroke="#8a8a8a" stroke-width="0.8"/><text x="389.8" y="58.38" class="tl" text-anchor="end">0.15</text><line x1="390.8" y1="40.50" x2="393.3" y2="40.50" stroke="#8a8a8a" stroke-width="0.8"/><text x="389.8" y="43.00" class="tl" text-anchor="end">0.20</text><line x1="393.65" y1="102.0" x2="393.65" y2="104.5" stroke="#8a8a8a" stroke-width="0.8"/><text x="393.65" y="114.0" class="tl" text-anchor="middle">0.1</text><line x1="404.20" y1="102.0" x2="404.20" y2="103.5" stroke="#8a8a8a" stroke-width="0.6"/><line x1="410.37" y1="102.0" x2="410.37" y2="103.5" stroke="#8a8a8a" stroke-width="0.6"/><line x1="414.75" y1="102.0" x2="414.75" y2="103.5" stroke="#8a8a8a" stroke-width="0.6"/><line x1="418.15" y1="102.0" x2="418.15" y2="103.5" stroke="#8a8a8a" stroke-width="0.6"/><line x1="420.92" y1="102.0" x2="420.92" y2="103.5" stroke="#8a8a8a" stroke-width="0.6"/><line x1="423.27" y1="102.0" x2="423.27" y2="103.5" stroke="#8a8a8a" stroke-width="0.6"/><line x1="425.30" y1="102.0" x2="425.30" y2="103.5" stroke="#8a8a8a" stroke-width="0.6"/><line x1="427.10" y1="102.0" x2="427.10" y2="103.5" stroke="#8a8a8a" stroke-width="0.6"/><line x1="428.70" y1="102.0" x2="428.70" y2="104.5" stroke="#8a8a8a" stroke-width="0.8"/><text x="428.70" y="114.0" class="tl" text-anchor="middle">1</text><line x1="439.25" y1="102.0" x2="439.25" y2="103.5" stroke="#8a8a8a" stroke-width="0.6"/><line x1="445.42" y1="102.0" x2="445.42" y2="103.5" stroke="#8a8a8a" stroke-width="0.6"/><line x1="449.80" y1="102.0" x2="449.80" y2="103.5" stroke="#8a8a8a" stroke-width="0.6"/><line x1="453.20" y1="102.0" x2="453.20" y2="103.5" stroke="#8a8a8a" stroke-width="0.6"/><line x1="455.97" y1="102.0" x2="455.97" y2="103.5" stroke="#8a8a8a" stroke-width="0.6"/><line x1="458.32" y1="102.0" x2="458.32" y2="103.5" stroke="#8a8a8a" stroke-width="0.6"/><line x1="460.35" y1="102.0" x2="460.35" y2="103.5" stroke="#8a8a8a" stroke-width="0.6"/><line x1="462.15" y1="102.0" x2="462.15" y2="103.5" stroke="#8a8a8a" stroke-width="0.6"/><line x1="463.75" y1="102.0" x2="463.75" y2="104.5" stroke="#8a8a8a" stroke-width="0.8"/><text x="463.75" y="114.0" class="tl" text-anchor="middle">10</text><line x1="474.30" y1="102.0" x2="474.30" y2="103.5" stroke="#8a8a8a" stroke-width="0.6"/><line x1="480.47" y1="102.0" x2="480.47" y2="103.5" stroke="#8a8a8a" stroke-width="0.6"/><line x1="484.85" y1="102.0" x2="484.85" y2="103.5" stroke="#8a8a8a" stroke-width="0.6"/><line x1="488.25" y1="102.0" x2="488.25" y2="103.5" stroke="#8a8a8a" stroke-width="0.6"/><line x1="491.02" y1="102.0" x2="491.02" y2="103.5" stroke="#8a8a8a" stroke-width="0.6"/><line x1="493.37" y1="102.0" x2="493.37" y2="103.5" stroke="#8a8a8a" stroke-width="0.6"/><line x1="495.40" y1="102.0" x2="495.40" y2="103.5" stroke="#8a8a8a" stroke-width="0.6"/><line x1="497.20" y1="102.0" x2="497.20" y2="103.5" stroke="#8a8a8a" stroke-width="0.6"/><line x1="498.80" y1="102.0" x2="498.80" y2="104.5" stroke="#8a8a8a" stroke-width="0.8"/><text x="498.80" y="114.0" class="tl" text-anchor="middle">100</text><line x1="509.35" y1="102.0" x2="509.35" y2="103.5" stroke="#8a8a8a" stroke-width="0.6"/><line x1="515.52" y1="102.0" x2="515.52" y2="103.5" stroke="#8a8a8a" stroke-width="0.6"/><line x1="519.90" y1="102.0" x2="519.90" y2="103.5" stroke="#8a8a8a" stroke-width="0.6"/><line x1="523.30" y1="102.0" x2="523.30" y2="103.5" stroke="#8a8a8a" stroke-width="0.6"/><line x1="526.07" y1="102.0" x2="526.07" y2="103.5" stroke="#8a8a8a" stroke-width="0.6"/><line x1="528.42" y1="102.0" x2="528.42" y2="103.5" stroke="#8a8a8a" stroke-width="0.6"/><line x1="530.45" y1="102.0" x2="530.45" y2="103.5" stroke="#8a8a8a" stroke-width="0.6"/><line x1="532.25" y1="102.0" x2="532.25" y2="103.5" stroke="#8a8a8a" stroke-width="0.6"/><line x1="533.85" y1="102.0" x2="533.85" y2="104.5" stroke="#8a8a8a" stroke-width="0.8"/><text x="533.85" y="114.0" class="tl" text-anchor="middle">1000</text><rect x="432.15" y="100.46" width="1.3" height="1.54" fill="#e2383e"/><rect x="436.25" y="90.01" width="1.3" height="11.99" fill="#e2383e"/><rect x="440.35" y="75.86" width="1.3" height="26.14" fill="#e2383e"/><rect x="444.45" y="62.33" width="1.3" height="39.67" fill="#e2383e"/><rect x="448.55" y="63.26" width="1.3" height="38.74" fill="#e2383e"/><rect x="452.65" y="69.41" width="1.3" height="32.59" fill="#e2383e"/><rect x="456.75" y="70.64" width="1.3" height="31.36" fill="#e2383e"/><rect x="460.85" y="78.94" width="1.3" height="23.06" fill="#e2383e"/><rect x="464.95" y="73.09" width="1.3" height="28.90" fill="#e2383e"/><rect x="469.05" y="65.72" width="1.3" height="36.28" fill="#e2383e"/><rect x="473.15" y="79.86" width="1.3" height="22.14" fill="#e2383e"/><rect x="477.25" y="94.00" width="1.3" height="7.99" fill="#e2383e"/><rect x="481.35" y="96.47" width="1.3" height="5.53" fill="#e2383e"/><rect x="485.45" y="98.00" width="1.3" height="4.00" fill="#e2383e"/><rect x="489.55" y="99.85" width="1.3" height="2.15" fill="#e2383e"/><rect x="493.65" y="100.46" width="1.3" height="1.54" fill="#e2383e"/><text x="463.2" y="122.7" class="at" text-anchor="middle">Grain size (μm)</text><text transform="translate(370.4 69.0) rotate(-90)" class="at" text-anchor="middle">Relative frequency</text><text x="397.2" y="52.1" class="dv">d</text><text x="402.9" y="52.7" class="sub">avg</text><text x="416.0" y="52.1" class="dv" textLength="6.6" lengthAdjust="spacingAndGlyphs">=</text><text x="425.8" y="52.1" class="dv">8.4</text><text x="441.4" y="52.1" class="dv" textLength="15.4" lengthAdjust="spacingAndGlyphs">μm</text><rect x="506.5" y="43.3" width="23.7" height="10.9" fill="#fff" stroke="#c8c8c8" stroke-width="0.7" stroke-dasharray="1 0.6"/><text x="517.7" y="51.7" class="rl" text-anchor="middle">R = 1</text><rect x="393.3" y="150.5" width="140.2" height="61.5" fill="none" stroke="#8a8a8a" stroke-width="0.9"/><line x1="390.8" y1="212.00" x2="393.3" y2="212.00" stroke="#8a8a8a" stroke-width="0.8"/><text x="389.8" y="214.50" class="tl" text-anchor="end">0.00</text><line x1="390.8" y1="196.62" x2="393.3" y2="196.62" stroke="#8a8a8a" stroke-width="0.8"/><text x="389.8" y="199.12" class="tl" text-anchor="end">0.05</text><line x1="390.8" y1="181.25" x2="393.3" y2="181.25" stroke="#8a8a8a" stroke-width="0.8"/><text x="389.8" y="183.75" class="tl" text-anchor="end">0.10</text><line x1="390.8" y1="165.88" x2="393.3" y2="165.88" stroke="#8a8a8a" stroke-width="0.8"/><text x="389.8" y="168.38" class="tl" text-anchor="end">0.15</text><line x1="390.8" y1="150.50" x2="393.3" y2="150.50" stroke="#8a8a8a" stroke-width="0.8"/><text x="389.8" y="153.00" class="tl" text-anchor="end">0.20</text><line x1="393.65" y1="212.0" x2="393.65" y2="214.5" stroke="#8a8a8a" stroke-width="0.8"/><text x="393.65" y="224.0" class="tl" text-anchor="middle">0.1</text><line x1="404.20" y1="212.0" x2="404.20" y2="213.5" stroke="#8a8a8a" stroke-width="0.6"/><line x1="410.37" y1="212.0" x2="410.37" y2="213.5" stroke="#8a8a8a" stroke-width="0.6"/><line x1="414.75" y1="212.0" x2="414.75" y2="213.5" stroke="#8a8a8a" stroke-width="0.6"/><line x1="418.15" y1="212.0" x2="418.15" y2="213.5" stroke="#8a8a8a" stroke-width="0.6"/><line x1="420.92" y1="212.0" x2="420.92" y2="213.5" stroke="#8a8a8a" stroke-width="0.6"/><line x1="423.27" y1="212.0" x2="423.27" y2="213.5" stroke="#8a8a8a" stroke-width="0.6"/><line x1="425.30" y1="212.0" x2="425.30" y2="213.5" stroke="#8a8a8a" stroke-width="0.6"/><line x1="427.10" y1="212.0" x2="427.10" y2="213.5" stroke="#8a8a8a" stroke-width="0.6"/><line x1="428.70" y1="212.0" x2="428.70" y2="214.5" stroke="#8a8a8a" stroke-width="0.8"/><text x="428.70" y="224.0" class="tl" text-anchor="middle">1</text><line x1="439.25" y1="212.0" x2="439.25" y2="213.5" stroke="#8a8a8a" stroke-width="0.6"/><line x1="445.42" y1="212.0" x2="445.42" y2="213.5" stroke="#8a8a8a" stroke-width="0.6"/><line x1="449.80" y1="212.0" x2="449.80" y2="213.5" stroke="#8a8a8a" stroke-width="0.6"/><line x1="453.20" y1="212.0" x2="453.20" y2="213.5" stroke="#8a8a8a" stroke-width="0.6"/><line x1="455.97" y1="212.0" x2="455.97" y2="213.5" stroke="#8a8a8a" stroke-width="0.6"/><line x1="458.32" y1="212.0" x2="458.32" y2="213.5" stroke="#8a8a8a" stroke-width="0.6"/><line x1="460.35" y1="212.0" x2="460.35" y2="213.5" stroke="#8a8a8a" stroke-width="0.6"/><line x1="462.15" y1="212.0" x2="462.15" y2="213.5" stroke="#8a8a8a" stroke-width="0.6"/><line x1="463.75" y1="212.0" x2="463.75" y2="214.5" stroke="#8a8a8a" stroke-width="0.8"/><text x="463.75" y="224.0" class="tl" text-anchor="middle">10</text><line x1="474.30" y1="212.0" x2="474.30" y2="213.5" stroke="#8a8a8a" stroke-width="0.6"/><line x1="480.47" y1="212.0" x2="480.47" y2="213.5" stroke="#8a8a8a" stroke-width="0.6"/><line x1="484.85" y1="212.0" x2="484.85" y2="213.5" stroke="#8a8a8a" stroke-width="0.6"/><line x1="488.25" y1="212.0" x2="488.25" y2="213.5" stroke="#8a8a8a" stroke-width="0.6"/><line x1="491.02" y1="212.0" x2="491.02" y2="213.5" stroke="#8a8a8a" stroke-width="0.6"/><line x1="493.37" y1="212.0" x2="493.37" y2="213.5" stroke="#8a8a8a" stroke-width="0.6"/><line x1="495.40" y1="212.0" x2="495.40" y2="213.5" stroke="#8a8a8a" stroke-width="0.6"/><line x1="497.20" y1="212.0" x2="497.20" y2="213.5" stroke="#8a8a8a" stroke-width="0.6"/><line x1="498.80" y1="212.0" x2="498.80" y2="214.5" stroke="#8a8a8a" stroke-width="0.8"/><text x="498.80" y="224.0" class="tl" text-anchor="middle">100</text><line x1="509.35" y1="212.0" x2="509.35" y2="213.5" stroke="#8a8a8a" stroke-width="0.6"/><line x1="515.52" y1="212.0" x2="515.52" y2="213.5" stroke="#8a8a8a" stroke-width="0.6"/><line x1="519.90" y1="212.0" x2="519.90" y2="213.5" stroke="#8a8a8a" stroke-width="0.6"/><line x1="523.30" y1="212.0" x2="523.30" y2="213.5" stroke="#8a8a8a" stroke-width="0.6"/><line x1="526.07" y1="212.0" x2="526.07" y2="213.5" stroke="#8a8a8a" stroke-width="0.6"/><line x1="528.42" y1="212.0" x2="528.42" y2="213.5" stroke="#8a8a8a" stroke-width="0.6"/><line x1="530.45" y1="212.0" x2="530.45" y2="213.5" stroke="#8a8a8a" stroke-width="0.6"/><line x1="532.25" y1="212.0" x2="532.25" y2="213.5" stroke="#8a8a8a" stroke-width="0.6"/><line x1="533.85" y1="212.0" x2="533.85" y2="214.5" stroke="#8a8a8a" stroke-width="0.8"/><text x="533.85" y="224.0" class="tl" text-anchor="middle">1000</text><rect x="432.15" y="207.69" width="1.3" height="4.30" fill="#e2383e"/><rect x="436.25" y="204.77" width="1.3" height="7.23" fill="#e2383e"/><rect x="440.35" y="199.70" width="1.3" height="12.30" fill="#e2383e"/><rect x="444.45" y="187.71" width="1.3" height="24.29" fill="#e2383e"/><rect x="448.55" y="176.94" width="1.3" height="35.05" fill="#e2383e"/><rect x="452.65" y="169.87" width="1.3" height="42.13" fill="#e2383e"/><rect x="456.75" y="160.65" width="1.3" height="51.35" fill="#e2383e"/><rect x="460.85" y="164.95" width="1.3" height="47.05" fill="#e2383e"/><rect x="464.95" y="175.72" width="1.3" height="36.28" fill="#e2383e"/><rect x="469.05" y="189.25" width="1.3" height="22.75" fill="#e2383e"/><rect x="473.15" y="193.24" width="1.3" height="18.76" fill="#e2383e"/><rect x="477.25" y="205.54" width="1.3" height="6.46" fill="#e2383e"/><rect x="481.35" y="208.62" width="1.3" height="3.38" fill="#e2383e"/><rect x="485.45" y="210.46" width="1.3" height="1.54" fill="#e2383e"/><text x="463.2" y="232.7" class="at" text-anchor="middle">Grain size (μm)</text><text transform="translate(370.4 179.0) rotate(-90)" class="at" text-anchor="middle">Relative frequency</text><text x="397.2" y="162.1" class="dv">d</text><text x="402.9" y="162.7" class="sub">avg</text><text x="416.0" y="162.1" class="dv" textLength="6.6" lengthAdjust="spacingAndGlyphs">=</text><text x="425.8" y="162.1" class="dv">7.4</text><text x="441.4" y="162.1" class="dv" textLength="15.4" lengthAdjust="spacingAndGlyphs">μm</text><rect x="506.5" y="153.3" width="23.7" height="10.9" fill="#fff" stroke="#c8c8c8" stroke-width="0.7" stroke-dasharray="1 0.6"/><text x="517.7" y="161.7" class="rl" text-anchor="middle">R = 3</text><rect x="393.3" y="283.7" width="140.2" height="61.5" fill="none" stroke="#8a8a8a" stroke-width="0.9"/><line x1="390.8" y1="345.20" x2="393.3" y2="345.20" stroke="#8a8a8a" stroke-width="0.8"/><text x="389.8" y="347.70" class="tl" text-anchor="end">0.00</text><line x1="390.8" y1="329.82" x2="393.3" y2="329.82" stroke="#8a8a8a" stroke-width="0.8"/><text x="389.8" y="332.32" class="tl" text-anchor="end">0.05</text><line x1="390.8" y1="314.45" x2="393.3" y2="314.45" stroke="#8a8a8a" stroke-width="0.8"/><text x="389.8" y="316.95" class="tl" text-anchor="end">0.10</text><line x1="390.8" y1="299.07" x2="393.3" y2="299.07" stroke="#8a8a8a" stroke-width="0.8"/><text x="389.8" y="301.57" class="tl" text-anchor="end">0.15</text><line x1="390.8" y1="283.70" x2="393.3" y2="283.70" stroke="#8a8a8a" stroke-width="0.8"/><text x="389.8" y="286.20" class="tl" text-anchor="end">0.20</text><line x1="393.65" y1="345.2" x2="393.65" y2="347.7" stroke="#8a8a8a" stroke-width="0.8"/><text x="393.65" y="357.2" class="tl" text-anchor="middle">0.1</text><line x1="404.20" y1="345.2" x2="404.20" y2="346.7" stroke="#8a8a8a" stroke-width="0.6"/><line x1="410.37" y1="345.2" x2="410.37" y2="346.7" stroke="#8a8a8a" stroke-width="0.6"/><line x1="414.75" y1="345.2" x2="414.75" y2="346.7" stroke="#8a8a8a" stroke-width="0.6"/><line x1="418.15" y1="345.2" x2="418.15" y2="346.7" stroke="#8a8a8a" stroke-width="0.6"/><line x1="420.92" y1="345.2" x2="420.92" y2="346.7" stroke="#8a8a8a" stroke-width="0.6"/><line x1="423.27" y1="345.2" x2="423.27" y2="346.7" stroke="#8a8a8a" stroke-width="0.6"/><line x1="425.30" y1="345.2" x2="425.30" y2="346.7" stroke="#8a8a8a" stroke-width="0.6"/><line x1="427.10" y1="345.2" x2="427.10" y2="346.7" stroke="#8a8a8a" stroke-width="0.6"/><line x1="428.70" y1="345.2" x2="428.70" y2="347.7" stroke="#8a8a8a" stroke-width="0.8"/><text x="428.70" y="357.2" class="tl" text-anchor="middle">1</text><line x1="439.25" y1="345.2" x2="439.25" y2="346.7" stroke="#8a8a8a" stroke-width="0.6"/><line x1="445.42" y1="345.2" x2="445.42" y2="346.7" stroke="#8a8a8a" stroke-width="0.6"/><line x1="449.80" y1="345.2" x2="449.80" y2="346.7" stroke="#8a8a8a" stroke-width="0.6"/><line x1="453.20" y1="345.2" x2="453.20" y2="346.7" stroke="#8a8a8a" stroke-width="0.6"/><line x1="455.97" y1="345.2" x2="455.97" y2="346.7" stroke="#8a8a8a" stroke-width="0.6"/><line x1="458.32" y1="345.2" x2="458.32" y2="346.7" stroke="#8a8a8a" stroke-width="0.6"/><line x1="460.35" y1="345.2" x2="460.35" y2="346.7" stroke="#8a8a8a" stroke-width="0.6"/><line x1="462.15" y1="345.2" x2="462.15" y2="346.7" stroke="#8a8a8a" stroke-width="0.6"/><line x1="463.75" y1="345.2" x2="463.75" y2="347.7" stroke="#8a8a8a" stroke-width="0.8"/><text x="463.75" y="357.2" class="tl" text-anchor="middle">10</text><line x1="474.30" y1="345.2" x2="474.30" y2="346.7" stroke="#8a8a8a" stroke-width="0.6"/><line x1="480.47" y1="345.2" x2="480.47" y2="346.7" stroke="#8a8a8a" stroke-width="0.6"/><line x1="484.85" y1="345.2" x2="484.85" y2="346.7" stroke="#8a8a8a" stroke-width="0.6"/><line x1="488.25" y1="345.2" x2="488.25" y2="346.7" stroke="#8a8a8a" stroke-width="0.6"/><line x1="491.02" y1="345.2" x2="491.02" y2="346.7" stroke="#8a8a8a" stroke-width="0.6"/><line x1="493.37" y1="345.2" x2="493.37" y2="346.7" stroke="#8a8a8a" stroke-width="0.6"/><line x1="495.40" y1="345.2" x2="495.40" y2="346.7" stroke="#8a8a8a" stroke-width="0.6"/><line x1="497.20" y1="345.2" x2="497.20" y2="346.7" stroke="#8a8a8a" stroke-width="0.6"/><line x1="498.80" y1="345.2" x2="498.80" y2="347.7" stroke="#8a8a8a" stroke-width="0.8"/><text x="498.80" y="357.2" class="tl" text-anchor="middle">100</text><line x1="509.35" y1="345.2" x2="509.35" y2="346.7" stroke="#8a8a8a" stroke-width="0.6"/><line x1="515.52" y1="345.2" x2="515.52" y2="346.7" stroke="#8a8a8a" stroke-width="0.6"/><line x1="519.90" y1="345.2" x2="519.90" y2="346.7" stroke="#8a8a8a" stroke-width="0.6"/><line x1="523.30" y1="345.2" x2="523.30" y2="346.7" stroke="#8a8a8a" stroke-width="0.6"/><line x1="526.07" y1="345.2" x2="526.07" y2="346.7" stroke="#8a8a8a" stroke-width="0.6"/><line x1="528.42" y1="345.2" x2="528.42" y2="346.7" stroke="#8a8a8a" stroke-width="0.6"/><line x1="530.45" y1="345.2" x2="530.45" y2="346.7" stroke="#8a8a8a" stroke-width="0.6"/><line x1="532.25" y1="345.2" x2="532.25" y2="346.7" stroke="#8a8a8a" stroke-width="0.6"/><line x1="533.85" y1="345.2" x2="533.85" y2="347.7" stroke="#8a8a8a" stroke-width="0.8"/><text x="533.85" y="357.2" class="tl" text-anchor="middle">1000</text><rect x="444.45" y="344.28" width="1.3" height="0.92" fill="#e2383e"/><rect x="448.55" y="335.36" width="1.3" height="9.84" fill="#e2383e"/><rect x="452.65" y="325.52" width="1.3" height="19.68" fill="#e2383e"/><rect x="456.75" y="320.29" width="1.3" height="24.91" fill="#e2383e"/><rect x="460.85" y="318.45" width="1.3" height="26.75" fill="#e2383e"/><rect x="464.95" y="319.06" width="1.3" height="26.14" fill="#e2383e"/><rect x="469.05" y="312.30" width="1.3" height="32.90" fill="#e2383e"/><rect x="473.15" y="287.70" width="1.3" height="57.50" fill="#e2383e"/><rect x="477.25" y="292.62" width="1.3" height="52.58" fill="#e2383e"/><rect x="481.35" y="320.29" width="1.3" height="24.91" fill="#e2383e"/><rect x="485.45" y="321.83" width="1.3" height="23.37" fill="#e2383e"/><rect x="489.55" y="338.44" width="1.3" height="6.76" fill="#e2383e"/><rect x="493.65" y="343.66" width="1.3" height="1.54" fill="#e2383e"/><text x="463.2" y="365.9" class="at" text-anchor="middle">Grain size (μm)</text><text transform="translate(370.4 312.2) rotate(-90)" class="at" text-anchor="middle">Relative frequency</text><text x="395.9" y="295.3" class="dv">d</text><text x="401.6" y="295.9" class="sub">avg</text><text x="414.6" y="295.3" class="dv" textLength="6.6" lengthAdjust="spacingAndGlyphs">=</text><text x="424.2" y="295.3" class="dv">19.4</text><text x="445.2" y="295.3" class="dv" textLength="15.4" lengthAdjust="spacingAndGlyphs">μm</text><rect x="506.5" y="286.5" width="23.7" height="10.9" fill="#fff" stroke="#c8c8c8" stroke-width="0.7" stroke-dasharray="1 0.6"/><text x="517.7" y="294.9" class="rl" text-anchor="middle">R = 1</text><rect x="393.3" y="388.4" width="140.2" height="61.5" fill="none" stroke="#8a8a8a" stroke-width="0.9"/><line x1="390.8" y1="449.90" x2="393.3" y2="449.90" stroke="#8a8a8a" stroke-width="0.8"/><text x="389.8" y="452.40" class="tl" text-anchor="end">0.00</text><line x1="390.8" y1="434.52" x2="393.3" y2="434.52" stroke="#8a8a8a" stroke-width="0.8"/><text x="389.8" y="437.02" class="tl" text-anchor="end">0.05</text><line x1="390.8" y1="419.15" x2="393.3" y2="419.15" stroke="#8a8a8a" stroke-width="0.8"/><text x="389.8" y="421.65" class="tl" text-anchor="end">0.10</text><line x1="390.8" y1="403.77" x2="393.3" y2="403.77" stroke="#8a8a8a" stroke-width="0.8"/><text x="389.8" y="406.27" class="tl" text-anchor="end">0.15</text><line x1="390.8" y1="388.40" x2="393.3" y2="388.40" stroke="#8a8a8a" stroke-width="0.8"/><text x="389.8" y="390.90" class="tl" text-anchor="end">0.20</text><line x1="393.65" y1="449.9" x2="393.65" y2="452.4" stroke="#8a8a8a" stroke-width="0.8"/><text x="393.65" y="461.9" class="tl" text-anchor="middle">0.1</text><line x1="404.20" y1="449.9" x2="404.20" y2="451.4" stroke="#8a8a8a" stroke-width="0.6"/><line x1="410.37" y1="449.9" x2="410.37" y2="451.4" stroke="#8a8a8a" stroke-width="0.6"/><line x1="414.75" y1="449.9" x2="414.75" y2="451.4" stroke="#8a8a8a" stroke-width="0.6"/><line x1="418.15" y1="449.9" x2="418.15" y2="451.4" stroke="#8a8a8a" stroke-width="0.6"/><line x1="420.92" y1="449.9" x2="420.92" y2="451.4" stroke="#8a8a8a" stroke-width="0.6"/><line x1="423.27" y1="449.9" x2="423.27" y2="451.4" stroke="#8a8a8a" stroke-width="0.6"/><line x1="425.30" y1="449.9" x2="425.30" y2="451.4" stroke="#8a8a8a" stroke-width="0.6"/><line x1="427.10" y1="449.9" x2="427.10" y2="451.4" stroke="#8a8a8a" stroke-width="0.6"/><line x1="428.70" y1="449.9" x2="428.70" y2="452.4" stroke="#8a8a8a" stroke-width="0.8"/><text x="428.70" y="461.9" class="tl" text-anchor="middle">1</text><line x1="439.25" y1="449.9" x2="439.25" y2="451.4" stroke="#8a8a8a" stroke-width="0.6"/><line x1="445.42" y1="449.9" x2="445.42" y2="451.4" stroke="#8a8a8a" stroke-width="0.6"/><line x1="449.80" y1="449.9" x2="449.80" y2="451.4" stroke="#8a8a8a" stroke-width="0.6"/><line x1="453.20" y1="449.9" x2="453.20" y2="451.4" stroke="#8a8a8a" stroke-width="0.6"/><line x1="455.97" y1="449.9" x2="455.97" y2="451.4" stroke="#8a8a8a" stroke-width="0.6"/><line x1="458.32" y1="449.9" x2="458.32" y2="451.4" stroke="#8a8a8a" stroke-width="0.6"/><line x1="460.35" y1="449.9" x2="460.35" y2="451.4" stroke="#8a8a8a" stroke-width="0.6"/><line x1="462.15" y1="449.9" x2="462.15" y2="451.4" stroke="#8a8a8a" stroke-width="0.6"/><line x1="463.75" y1="449.9" x2="463.75" y2="452.4" stroke="#8a8a8a" stroke-width="0.8"/><text x="463.75" y="461.9" class="tl" text-anchor="middle">10</text><line x1="474.30" y1="449.9" x2="474.30" y2="451.4" stroke="#8a8a8a" stroke-width="0.6"/><line x1="480.47" y1="449.9" x2="480.47" y2="451.4" stroke="#8a8a8a" stroke-width="0.6"/><line x1="484.85" y1="449.9" x2="484.85" y2="451.4" stroke="#8a8a8a" stroke-width="0.6"/><line x1="488.25" y1="449.9" x2="488.25" y2="451.4" stroke="#8a8a8a" stroke-width="0.6"/><line x1="491.02" y1="449.9" x2="491.02" y2="451.4" stroke="#8a8a8a" stroke-width="0.6"/><line x1="493.37" y1="449.9" x2="493.37" y2="451.4" stroke="#8a8a8a" stroke-width="0.6"/><line x1="495.40" y1="449.9" x2="495.40" y2="451.4" stroke="#8a8a8a" stroke-width="0.6"/><line x1="497.20" y1="449.9" x2="497.20" y2="451.4" stroke="#8a8a8a" stroke-width="0.6"/><line x1="498.80" y1="449.9" x2="498.80" y2="452.4" stroke="#8a8a8a" stroke-width="0.8"/><text x="498.80" y="461.9" class="tl" text-anchor="middle">100</text><line x1="509.35" y1="449.9" x2="509.35" y2="451.4" stroke="#8a8a8a" stroke-width="0.6"/><line x1="515.52" y1="449.9" x2="515.52" y2="451.4" stroke="#8a8a8a" stroke-width="0.6"/><line x1="519.90" y1="449.9" x2="519.90" y2="451.4" stroke="#8a8a8a" stroke-width="0.6"/><line x1="523.30" y1="449.9" x2="523.30" y2="451.4" stroke="#8a8a8a" stroke-width="0.6"/><line x1="526.07" y1="449.9" x2="526.07" y2="451.4" stroke="#8a8a8a" stroke-width="0.6"/><line x1="528.42" y1="449.9" x2="528.42" y2="451.4" stroke="#8a8a8a" stroke-width="0.6"/><line x1="530.45" y1="449.9" x2="530.45" y2="451.4" stroke="#8a8a8a" stroke-width="0.6"/><line x1="532.25" y1="449.9" x2="532.25" y2="451.4" stroke="#8a8a8a" stroke-width="0.6"/><line x1="533.85" y1="449.9" x2="533.85" y2="452.4" stroke="#8a8a8a" stroke-width="0.8"/><text x="533.85" y="461.9" class="tl" text-anchor="middle">1000</text><rect x="444.45" y="444.06" width="1.3" height="5.84" fill="#e2383e"/><rect x="448.55" y="431.45" width="1.3" height="18.45" fill="#e2383e"/><rect x="452.65" y="429.60" width="1.3" height="20.30" fill="#e2383e"/><rect x="456.75" y="422.22" width="1.3" height="27.67" fill="#e2383e"/><rect x="460.85" y="410.85" width="1.3" height="39.05" fill="#e2383e"/><rect x="464.95" y="410.23" width="1.3" height="39.67" fill="#e2383e"/><rect x="469.05" y="392.40" width="1.3" height="57.50" fill="#e2383e"/><rect x="473.15" y="409.31" width="1.3" height="40.59" fill="#e2383e"/><rect x="477.25" y="413.92" width="1.3" height="35.98" fill="#e2383e"/><rect x="481.35" y="434.22" width="1.3" height="15.68" fill="#e2383e"/><rect x="485.45" y="445.90" width="1.3" height="4.00" fill="#e2383e"/><text x="463.2" y="470.6" class="at" text-anchor="middle">Grain size (μm)</text><text transform="translate(370.4 416.9) rotate(-90)" class="at" text-anchor="middle">Relative frequency</text><text x="395.9" y="400.0" class="dv">d</text><text x="401.6" y="400.6" class="sub">avg</text><text x="414.6" y="400.0" class="dv" textLength="6.6" lengthAdjust="spacingAndGlyphs">=</text><text x="424.2" y="400.0" class="dv">13.2</text><text x="445.2" y="400.0" class="dv" textLength="15.4" lengthAdjust="spacingAndGlyphs">μm</text><rect x="506.5" y="391.2" width="23.7" height="10.9" fill="#fff" stroke="#c8c8c8" stroke-width="0.7" stroke-dasharray="1 0.6"/><text x="517.7" y="399.6" class="rl" text-anchor="middle">R = 3</text>
</svg>
<div class="t pl" style="left:10.5px;top:5.2px">(a)</div>
<div class="t pl" style="left:186px;top:5.2px">(b)</div>
<div class="t pl" style="left:359px;top:5.2px">(c)</div>
<div class="t pl" style="left:10.5px;top:249px">(d)</div>
<div class="t pl" style="left:185.2px;top:249px">(e)</div>
<div class="t pl" style="left:362.2px;top:249px">(f)</div>
<div class="t rr" style="left:94.6px;top:4.8px">R = 1</div>
<div class="t rr" style="left:257.3px;top:4.6px">R = 3</div>
<div class="t rr" style="left:95px;top:248.8px">R = 1</div>
<div class="t rr" style="left:258px;top:249.2px">R = 3</div>
<div class="t ax" style="left:50.6px;top:5.3px">RD</div>
<div class="t ax" style="left:13px;top:39.9px">ND</div>
<div class="vt" style="left:13.5px;top:151.8px">TZ61</div>
<div class="vt" style="left:13.5px;top:395px">AZ61</div>
<div class="sb" style="left:39.6px;top:218.0px"><span>50 μm</span><i></i></div><div class="sb" style="left:204.8px;top:216.8px"><span>50 μm</span><i></i></div><div class="sb" style="left:40.5px;top:460.5px"><span>50 μm</span><i></i></div><div class="sb" style="left:204.6px;top:462.0px"><span>50 μm</span><i></i></div>
</div></body></html>
